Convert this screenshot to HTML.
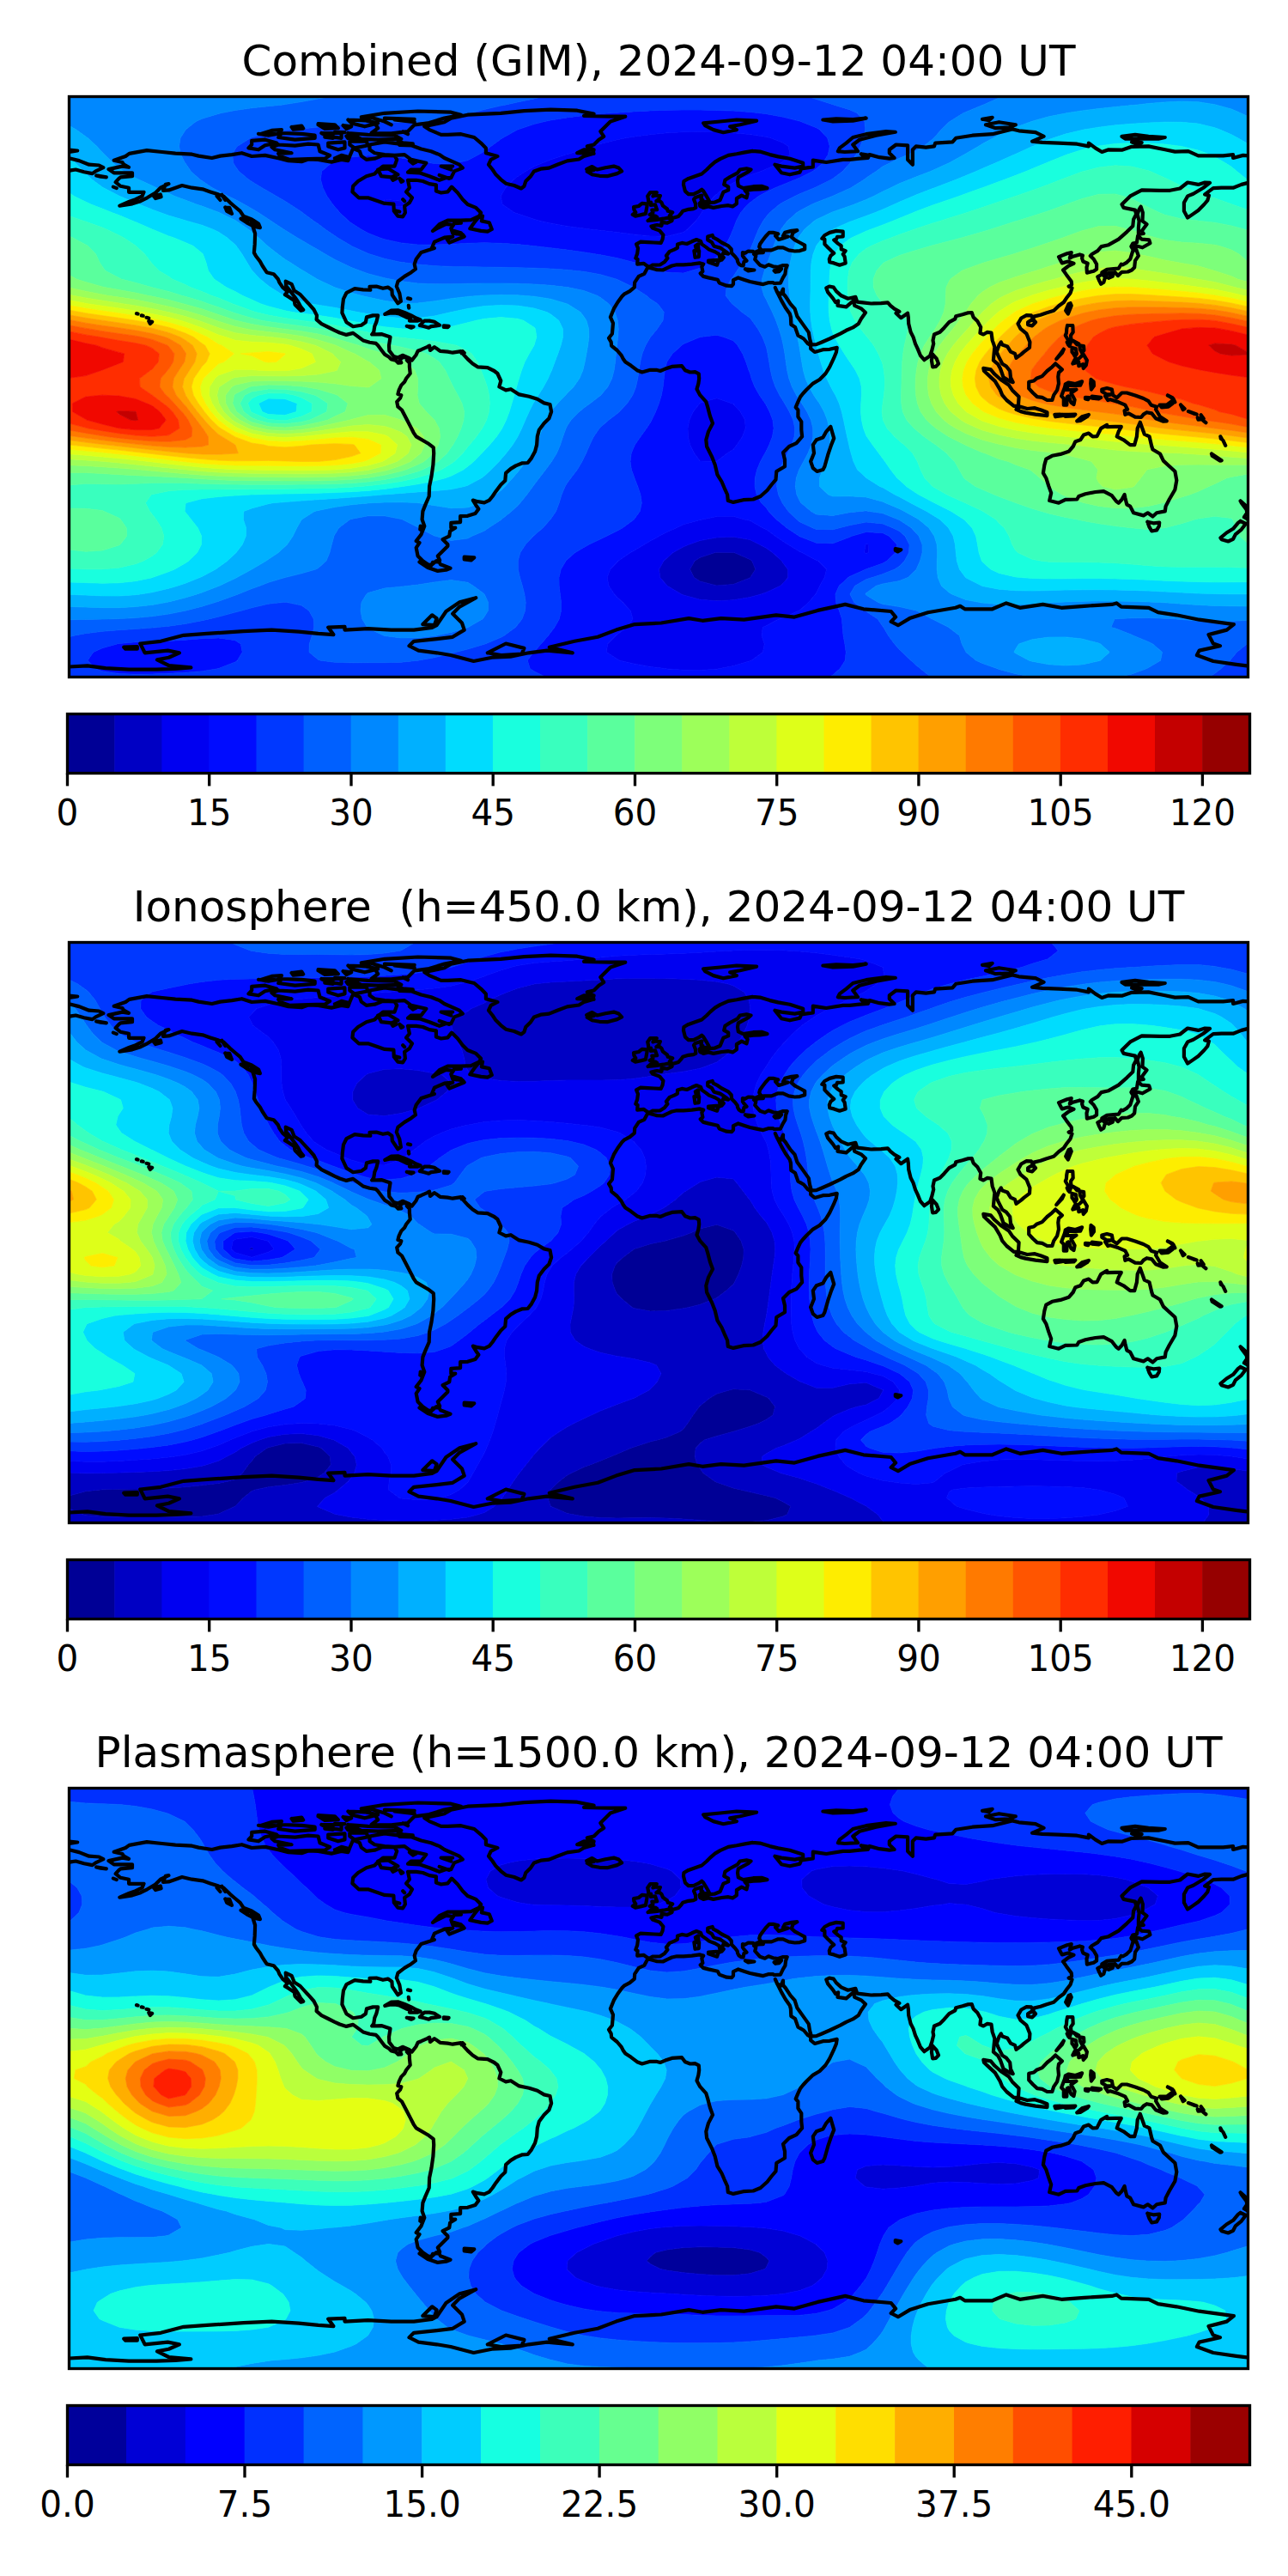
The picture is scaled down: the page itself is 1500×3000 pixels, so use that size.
<!DOCTYPE html>
<html><head><meta charset="utf-8"><title>TEC maps</title>
<style>
html,body{margin:0;padding:0;background:#fff}
svg{display:block}
text{font-family:"DejaVu Sans","Liberation Sans",sans-serif;fill:#000;text-anchor:middle}
.tt{font-size:50px}
.tl{font-size:42.3px}
.cl{fill:none;stroke:#000;stroke-width:4.2;stroke-linejoin:round;stroke-linecap:round}
.fr{fill:none;stroke:#000;stroke-width:3.33}
.tk{stroke:#000;stroke-width:3.33}
.bands path{stroke-width:0.7}
</style></head><body>
<svg width="1500" height="3000" viewBox="0 0 1500 3000">
<rect width="1500" height="3000" fill="#fff"/>
<defs>
<clipPath id="c0"><rect x="80.5" y="112.5" width="1373.0" height="676.0"/></clipPath>
<clipPath id="c1"><rect x="80.5" y="1097.5" width="1373.0" height="676.0"/></clipPath>
<clipPath id="c2"><rect x="80.5" y="2082.5" width="1373.0" height="676.0"/></clipPath>
</defs>
<text class="tt" x="767" y="87.5">Combined (GIM), 2024-09-12 04:00 UT</text>
<g clip-path="url(#c0)">
<g class="bands"><path fill="#000096" stroke="#000096" d="M832.7,643.6 834.7,643.2 854,643.4 855.1,643.6 873.4,651.5 875.7,653.3 879.9,663 873.8,672.6 873.4,672.9 854,680.5 834.7,681.9 815.3,677 808.2,672.6 803.5,663 809,653.3 815.3,649.3 832.7,643.6Z"/>
<path fill="#0000c4" stroke="#0000c4" d="M802.7,634 815.3,629.6 834.7,626 854,625.2 873.4,628.6 884.4,634 892.7,638.6 899.7,643.6 910.5,653.3 912,655.8 917.5,663 917.8,672.6 912,679.2 908.9,682.3 892.7,689.7 886.2,691.9 873.4,695.5 854,698.8 834.7,699.8 815.3,698.3 796,693 793.5,691.9 777.1,682.3 776.7,681.7 768.7,672.6 767.6,663 772.9,653.3 776.7,650.1 783.8,643.6 796,636.8 802.7,634ZM834.7,643.2 832.7,643.6 815.3,649.3 809,653.3 803.5,663 808.2,672.6 815.3,677 834.7,681.9 854,680.5 873.4,672.9 873.8,672.6 879.9,663 875.7,653.3 873.4,651.5 855.1,643.6 854,643.4 834.7,643.2Z"/>
<path fill="#0000f1" stroke="#0000f1" d="M728.3,160.8 738,159.2 757.3,156.7 776.7,154.8 796,153.7 815.3,153.3 834.7,153.6 854,154.7 873.4,156.6 892.7,159.6 897.7,160.8 912,166.3 918.2,170.4 920,180.1 912,188 909.6,189.8 892.7,196.8 886.3,199.4 873.4,204.1 862,209.1 854,213 844,218.7 834.7,226.1 831.9,228.4 823.2,238 817,247.7 815.3,250.8 810.1,257.4 800.6,267 796,270.4 776.7,275.2 757.3,274.9 738,272.9 718.7,270.5 699.3,268.3 687.3,267 680,266.1 660.6,263.4 641.3,259.9 629.5,257.4 622,255.2 602.6,248.8 599.3,247.7 585.1,238 583.3,228.7 583.2,228.4 583.3,228.3 588.7,218.7 598.4,209.1 602.6,205.7 612.1,199.4 622,193.8 631.8,189.8 641.3,186.1 659.4,180.1 660.6,179.7 680,173.4 688.7,170.4 699.3,167.4 718.7,162.7 728.3,160.8ZM446.9,238 447.9,232 467.3,234.3 471.5,238 467.3,241 447.9,239 446.9,238ZM814.9,469.8 815.3,469.3 834.7,463.7 852,469.8 854,470.6 862.2,479.5 867.6,489.1 868.2,498.8 864.6,508.4 858.2,518.1 854,523.6 847.1,527.8 834.7,537.2 815.3,537 808.4,527.8 803.7,518.1 801.3,508.4 801,498.8 802.9,489.1 807.3,479.5 814.9,469.8ZM817.8,605 834.7,601.5 854,601.3 866.9,605 873.4,606.3 888.2,614.7 892.7,616.8 902.9,624.3 912,630.5 917.6,634 931.4,642.6 933.9,643.6 950.7,652.5 952.9,653.3 962.6,663 960.2,672.6 954.7,682.3 950.7,690.7 949.7,691.9 941.7,701.6 931.4,710.7 930,711.2 912,719.5 907,720.9 892.7,728.4 888.3,730.6 887,740.2 890.3,749.9 888.4,759.5 875,769.2 873.4,769.7 854,775.6 837.1,778.8 834.7,779.2 815.3,780.5 796,780.3 776.7,778.9 776.1,778.8 757.3,776.4 738,772.9 721.9,769.2 718.7,767.5 706.4,759.5 707.5,749.9 717.2,740.2 718.7,739 730,730.6 737,720.9 734.3,711.2 725.2,701.6 718.7,695.5 715.5,691.9 709,682.3 707.1,672.6 710.7,663 718.7,654.8 720,653.3 734.2,643.6 738,641.6 750.5,634 757.3,630.1 767.9,624.3 776.7,619.4 787.8,614.7 796,610.7 815.3,605.4 817.8,605ZM815.3,629.6 802.7,634 796,636.8 783.8,643.6 776.7,650.1 772.9,653.3 767.6,663 768.7,672.6 776.7,681.7 777.1,682.3 793.5,691.9 796,693 815.3,698.3 834.7,699.8 854,698.8 873.4,695.5 886.2,691.9 892.7,689.7 908.9,682.3 912,679.2 917.8,672.6 917.5,663 912,655.8 910.5,653.3 899.7,643.6 892.7,638.6 884.4,634 873.4,628.6 854,625.2 834.7,626 815.3,629.6ZM1008,634 1008.7,633.7 1011.9,634 1011.7,643.6 1008.7,644.4 1006.5,643.6 1008,634Z"/>
<path fill="#000cff" stroke="#000cff" d="M710.1,131.8 718.7,131.2 738,129.9 757.3,128.9 776.7,128.2 796,128 815.3,128.1 834.7,128.5 854,129.1 873.4,130.4 885,131.8 892.7,132.7 912,136.3 931.4,141.1 932.5,141.5 950.7,148.7 954.7,151.1 963.7,160.8 966.3,170.4 964.4,180.1 958.3,189.8 950.7,196.5 946.5,199.4 931.4,207.1 926.6,209.1 912,214.9 902.7,218.7 892.7,223.5 883.5,228.4 873.4,236 870.8,238 862.5,247.7 857.4,257.4 854,266.6 853.8,267 849.7,276.7 844.5,286.3 837.6,296 834.7,299.2 825.6,305.6 815.3,312.2 805.1,315.3 796,318.1 776.7,317.2 770.4,315.3 757.3,311.7 738.4,305.6 738,305.5 718.7,300.5 699.3,296.8 694.3,296 680,293.7 660.6,291.1 641.3,288.7 622,286.5 619.8,286.3 602.6,284.6 583.3,283.3 564,282.8 544.6,283.3 525.3,284.4 505.9,285.2 486.6,284.9 467.3,282.9 447.9,278.8 441.9,276.7 428.6,271.5 420.5,267 409.2,259.8 406.1,257.4 395.8,247.7 389.9,240.7 387.5,238 380.9,228.4 376.1,218.7 373.4,209.1 374.6,199.4 386,189.8 389.9,188.3 409.2,183 428.6,181 447.9,181.5 467.3,183.9 486.6,187.4 501.3,189.8 505.9,190.5 525.3,191.1 531.9,189.8 544.6,186.8 557.4,180.1 564,176.2 571.7,170.4 583.3,162 585.2,160.8 602.6,151.1 602.6,151.1 622,144.6 634.3,141.5 641.3,140 660.6,136.9 680,134.4 699.3,132.6 710.1,131.8ZM738,159.2 728.3,160.8 718.7,162.7 699.3,167.4 688.7,170.4 680,173.4 660.6,179.7 659.4,180.1 641.3,186.1 631.8,189.8 622,193.8 612.1,199.4 602.6,205.7 598.4,209.1 588.7,218.7 583.3,228.3 583.2,228.4 583.3,228.7 585.1,238 599.3,247.7 602.6,248.8 622,255.2 629.5,257.4 641.3,259.9 660.6,263.4 680,266.1 687.3,267 699.3,268.3 718.7,270.5 738,272.9 757.3,274.9 776.7,275.2 796,270.4 800.6,267 810.1,257.4 815.3,250.8 817,247.7 823.2,238 831.9,228.4 834.7,226.1 844,218.7 854,213 862,209.1 873.4,204.1 886.3,199.4 892.7,196.8 909.6,189.8 912,188 920,180.1 918.2,170.4 912,166.3 897.7,160.8 892.7,159.6 873.4,156.6 854,154.7 834.7,153.6 815.3,153.3 796,153.7 776.7,154.8 757.3,156.7 738,159.2ZM447.9,232 446.9,238 447.9,239 467.3,241 471.5,238 467.3,234.3 447.9,232ZM815.1,392.6 815.3,392.5 834.7,390.2 843,392.6 854,396.7 859,402.2 864.9,411.9 868.8,421.5 872,431.2 873.4,434.3 875.1,440.8 879,450.5 884.5,460.2 891.1,469.8 892.7,472.4 896.3,479.5 899.9,489.1 901.1,498.8 899.5,508.4 895.8,518.1 892.7,524.6 890.9,527.8 885.6,537.4 881.6,547.1 879.3,556.7 879,566.4 881.2,576 886.6,585.7 892.7,591.8 895.1,595.4 904.3,605 912,611.3 916.2,614.7 930.6,624.3 931.4,624.8 950.7,632.2 970,632.8 989.4,625.5 992.1,624.3 1008.7,619.5 1028.1,620.7 1035.2,624.3 1044.6,634 1043.1,643.6 1032.8,653.3 1028.1,656.1 1008.7,662.8 1008.4,663 989.4,671.4 987.9,672.6 977.2,682.3 972.9,691.9 973.6,701.6 977.4,711.2 980.5,720.9 981.2,730.6 982.1,740.2 983.9,749.9 985.2,759.5 984.2,769.2 978.1,778.8 970,786 965.7,788.5 950.7,788.5 931.4,788.5 912,788.5 892.7,788.5 873.4,788.5 854,788.5 834.7,788.5 815.3,788.5 796,788.5 776.7,788.5 757.3,788.5 738,788.5 718.7,788.5 699.3,788.5 680,788.5 660.6,788.5 641.3,788.5 635.5,788.5 622,781.7 617.3,778.8 614.3,769.2 621.2,759.5 622,758.9 630,749.9 638.5,740.2 641.3,736.5 645.9,730.6 651.2,720.9 653.5,711.2 653.5,701.6 652.3,691.9 651.1,682.3 651,672.6 653.2,663 659,653.3 660.6,651.6 669.8,643.6 680,637.4 686.2,634 699.3,627.8 706.5,624.3 718.7,618.3 725.1,614.7 738,605.3 738.3,605 745.2,595.4 747.3,585.7 745.9,576 742.7,566.4 738.9,556.7 738,554.1 735.4,547.1 734,537.4 735.2,527.8 738,521.2 739.4,518.1 746,508.4 753,498.8 757.3,492.3 759,489.1 763.6,479.5 767.4,469.8 770.3,460.2 772.1,450.5 773.2,440.8 774.3,431.2 776.6,421.5 776.7,421.3 783.1,411.9 793.7,402.2 796,400.6 815.1,392.6ZM815.3,469.3 814.9,469.8 807.3,479.5 802.9,489.1 801,498.8 801.3,508.4 803.7,518.1 808.4,527.8 815.3,537 834.7,537.2 847.1,527.8 854,523.6 858.2,518.1 864.6,508.4 868.2,498.8 867.6,489.1 862.2,479.5 854,470.6 852,469.8 834.7,463.7 815.3,469.3ZM1008.7,633.7 1008,634 1006.5,643.6 1008.7,644.4 1011.7,643.6 1011.9,634 1008.7,633.7ZM834.7,601.5 817.8,605 815.3,605.4 796,610.7 787.8,614.7 776.7,619.4 767.9,624.3 757.3,630.1 750.5,634 738,641.6 734.2,643.6 720,653.3 718.7,654.8 710.7,663 707.1,672.6 709,682.3 715.5,691.9 718.7,695.5 725.2,701.6 734.3,711.2 737,720.9 730,730.6 718.7,739 717.2,740.2 707.5,749.9 706.4,759.5 718.7,767.5 721.9,769.2 738,772.9 757.3,776.4 776.1,778.8 776.7,778.9 796,780.3 815.3,780.5 834.7,779.2 837.1,778.8 854,775.6 873.4,769.7 875,769.2 888.4,759.5 890.3,749.9 887,740.2 888.3,730.6 892.7,728.4 907,720.9 912,719.5 930,711.2 931.4,710.7 941.7,701.6 949.7,691.9 950.7,690.7 954.7,682.3 960.2,672.6 962.6,663 952.9,653.3 950.7,652.5 933.9,643.6 931.4,642.6 917.6,634 912,630.5 902.9,624.3 892.7,616.8 888.2,614.7 873.4,606.3 866.9,605 854,601.3 834.7,601.5ZM136.4,749.9 138.5,749.5 157.9,747.8 177.2,747 196.5,746.4 215.9,745.2 235.2,743.7 254.5,742.9 273.9,745.7 280.4,749.9 282.2,759.5 276.4,769.2 273.9,770.9 254.5,778.6 253.5,778.8 235.2,781.7 215.9,783.3 196.5,784.3 177.2,785 157.9,785.2 138.5,784.4 119.2,781.7 111.2,778.8 102,769.2 108.7,759.5 119.2,754.8 136.4,749.9Z"/>
<path fill="#0038ff" stroke="#0038ff" d="M588,122.2 602.6,119 622,114.9 632.9,112.5 641.3,112.5 660.6,112.5 680,112.5 699.3,112.5 718.7,112.5 738,112.5 757.3,112.5 776.7,112.5 796,112.5 815.3,112.5 834.7,112.5 854,112.5 873.4,112.5 892.7,112.5 912,112.5 931.4,112.5 941.5,112.5 950.7,115.5 970,121.7 971.5,122.2 989.4,127.7 998.4,131.8 1006.9,141.5 1007.7,151.1 1005.5,160.8 1001.9,170.4 996.9,180.1 990,189.8 989.4,190.4 981.4,199.4 970,207.9 968.3,209.1 950.7,217.8 948.5,218.7 931.4,225.8 925.6,228.4 912,235.5 907.8,238 896.2,247.7 892.7,252 888.6,257.4 883.4,267 879.4,276.7 875.6,286.3 873.4,291.5 871,296 865.1,305.6 858.4,315.3 854,322 851.5,325 846.1,334.6 845.2,344.3 852.6,353.9 854,354.7 864.1,363.6 873.4,370.2 875.8,373.2 882.7,382.9 888,392.6 891.8,402.2 892.7,405.1 894.1,411.9 895.8,421.5 897.4,431.2 899.6,440.8 903,450.5 907.9,460.2 912,466.8 913.8,469.8 919.4,479.5 923.7,489.1 925.8,498.8 925.1,508.4 921.9,518.1 917.3,527.8 912.3,537.4 912,538 907.9,547.1 905.2,556.7 904.7,566.4 906.6,576 911.1,585.7 912,587 918.1,595.4 927.9,605 931.4,607.7 946.4,614.7 950.7,616.4 970,616.7 977.6,614.7 989.4,611.7 1008.7,608.1 1028.1,609.9 1039.7,614.7 1047.4,618.6 1054,624.3 1059.1,634 1058.6,643.6 1053.4,653.3 1047.4,659.4 1041.9,663 1028.1,668.5 1015.7,672.6 1008.7,674.8 995.7,682.3 989.9,691.9 994.8,701.6 1007.9,711.2 1008.7,712 1022.2,720.9 1028.1,729.6 1028.9,730.6 1034.6,740.2 1041.8,749.9 1047.4,756.2 1050.8,759.5 1060.9,769.2 1066.7,774.5 1072,778.8 1084.1,788.5 1066.7,788.5 1047.4,788.5 1028.1,788.5 1008.7,788.5 989.4,788.5 970,788.5 965.7,788.5 970,786 978.1,778.8 984.2,769.2 985.2,759.5 983.9,749.9 982.1,740.2 981.2,730.6 980.5,720.9 977.4,711.2 973.6,701.6 972.9,691.9 977.2,682.3 987.9,672.6 989.4,671.4 1008.4,663 1008.7,662.8 1028.1,656.1 1032.8,653.3 1043.1,643.6 1044.6,634 1035.2,624.3 1028.1,620.7 1008.7,619.5 992.1,624.3 989.4,625.5 970,632.8 950.7,632.2 931.4,624.8 930.6,624.3 916.2,614.7 912,611.3 904.3,605 895.1,595.4 892.7,591.8 886.6,585.7 881.2,576 879,566.4 879.3,556.7 881.6,547.1 885.6,537.4 890.9,527.8 892.7,524.6 895.8,518.1 899.5,508.4 901.1,498.8 899.9,489.1 896.3,479.5 892.7,472.4 891.1,469.8 884.5,460.2 879,450.5 875.1,440.8 873.4,434.3 872,431.2 868.8,421.5 864.9,411.9 859,402.2 854,396.7 843,392.6 834.7,390.2 815.3,392.5 815.1,392.6 796,400.6 793.7,402.2 783.1,411.9 776.7,421.3 776.6,421.5 774.3,431.2 773.2,440.8 772.1,450.5 770.3,460.2 767.4,469.8 763.6,479.5 759,489.1 757.3,492.3 753,498.8 746,508.4 739.4,518.1 738,521.2 735.2,527.8 734,537.4 735.4,547.1 738,554.1 738.9,556.7 742.7,566.4 745.9,576 747.3,585.7 745.2,595.4 738.3,605 738,605.3 725.1,614.7 718.7,618.3 706.5,624.3 699.3,627.8 686.2,634 680,637.4 669.8,643.6 660.6,651.6 659,653.3 653.2,663 651,672.6 651.1,682.3 652.3,691.9 653.5,701.6 653.5,711.2 651.2,720.9 645.9,730.6 641.3,736.5 638.5,740.2 630,749.9 622,758.9 621.2,759.5 614.3,769.2 617.3,778.8 622,781.7 635.5,788.5 622,788.5 602.6,788.5 583.3,788.5 564,788.5 544.6,788.5 525.3,788.5 505.9,788.5 486.6,788.5 467.3,788.5 447.9,788.5 428.6,788.5 409.2,788.5 389.9,788.5 370.6,788.5 351.2,788.5 331.9,788.5 312.6,788.5 293.2,788.5 273.9,788.5 254.5,788.5 235.2,788.5 215.9,788.5 196.5,788.5 177.2,788.5 157.9,788.5 138.5,788.5 119.2,788.5 99.8,788.5 80.5,788.5 80.5,778.8 80.5,769.2 80.5,759.5 80.5,749.9 80.5,741.8 86.1,740.2 99.8,737.7 119.2,735.3 138.5,733.7 157.9,732.5 177.2,731.1 182.8,730.6 196.5,729.2 215.9,726.5 235.2,722.7 243.3,720.9 254.5,718.3 273.9,713.1 281,711.2 293.2,707.8 312.6,703.2 328.4,701.6 331.9,701.2 334.8,701.6 351.2,705.1 359.9,711.2 365.3,720.9 365.8,730.6 363.4,740.2 360.3,749.9 360,759.5 370.6,768.3 373.6,769.2 389.9,771.3 409.2,771.8 428.6,771.7 447.9,771.7 467.3,771.2 486.6,769.2 486.7,769.2 505.9,765.8 525.3,761.1 530.7,759.5 544.6,756 564,750.2 564.9,749.9 583.3,742.3 587.1,740.2 600.3,730.6 602.6,727.8 607.9,720.9 611.5,711.2 612.2,701.6 610.8,691.9 608.3,682.3 605.5,672.6 603.3,663 603.2,653.3 605.9,643.6 612.1,634 621.1,624.3 622,623.5 632.2,614.7 640.9,605 641.3,604.4 647.5,595.4 651.1,585.7 654.1,576 658.1,566.4 660.6,562.2 664.8,556.7 672.2,547.1 677.9,537.4 680,532.9 682.6,527.8 686.8,518.1 691.4,508.4 698.1,498.8 699.3,497.5 709,489.1 718.7,481.7 721.1,479.5 730.4,469.8 736.7,460.2 738,457.3 740.5,450.5 742.7,440.8 744.1,431.2 745.6,421.5 747.9,411.9 751.8,402.2 757.3,392.8 757.6,392.6 765.4,382.9 772,373.2 773.2,363.6 766.1,353.9 757.3,348.2 752.8,344.3 738,334.8 737.7,334.6 718.7,325.4 717.5,325 699.3,319.7 680,316.3 670.2,315.3 660.6,314.3 641.3,313 622,312.2 602.6,311.7 583.3,311.3 564,311.1 544.6,310.8 525.3,310.4 505.9,309.6 486.6,308 469.1,305.6 467.3,305.4 447.9,301.3 430.9,296 428.6,295.2 409.2,286.4 409.1,286.3 393,276.7 389.9,274.6 378.7,267 370.6,260.8 365.5,257.4 352.3,247.7 351.2,246.8 337.8,238 331.9,234.2 321.9,228.4 312.6,223 305.1,218.7 293.2,211.5 289.5,209.1 278.1,199.4 273.9,193.4 271.6,189.8 270.7,180.1 273.9,173.8 276.2,170.4 291.6,160.8 293.2,160.1 312.6,154.9 331.9,151.8 338.1,151.1 351.2,149.9 370.6,148.1 389.9,146.1 409.2,144.1 428.6,142.6 447.9,142.1 467.3,142.2 486.6,142.2 498.1,141.5 505.9,141 525.3,138 544.6,132.7 547.5,131.8 564,127.5 583.3,123.1 588,122.2ZM718.7,131.2 710.1,131.8 699.3,132.6 680,134.4 660.6,136.9 641.3,140 634.3,141.5 622,144.6 602.6,151.1 602.6,151.1 585.2,160.8 583.3,162 571.7,170.4 564,176.2 557.4,180.1 544.6,186.8 531.9,189.8 525.3,191.1 505.9,190.5 501.3,189.8 486.6,187.4 467.3,183.9 447.9,181.5 428.6,181 409.2,183 389.9,188.3 386,189.8 374.6,199.4 373.4,209.1 376.1,218.7 380.9,228.4 387.5,238 389.9,240.7 395.8,247.7 406.1,257.4 409.2,259.8 420.5,267 428.6,271.5 441.9,276.7 447.9,278.8 467.3,282.9 486.6,284.9 505.9,285.2 525.3,284.4 544.6,283.3 564,282.8 583.3,283.3 602.6,284.6 619.8,286.3 622,286.5 641.3,288.7 660.6,291.1 680,293.7 694.3,296 699.3,296.8 718.7,300.5 738,305.5 738.4,305.6 757.3,311.7 770.4,315.3 776.7,317.2 796,318.1 805.1,315.3 815.3,312.2 825.6,305.6 834.7,299.2 837.6,296 844.5,286.3 849.7,276.7 853.8,267 854,266.6 857.4,257.4 862.5,247.7 870.8,238 873.4,236 883.5,228.4 892.7,223.5 902.7,218.7 912,214.9 926.6,209.1 931.4,207.1 946.5,199.4 950.7,196.5 958.3,189.8 964.4,180.1 966.3,170.4 963.7,160.8 954.7,151.1 950.7,148.7 932.5,141.5 931.4,141.1 912,136.3 892.7,132.7 885,131.8 873.4,130.4 854,129.1 834.7,128.5 815.3,128.1 796,128 776.7,128.2 757.3,128.9 738,129.9 718.7,131.2ZM138.5,749.5 136.4,749.9 119.2,754.8 108.7,759.5 102,769.2 111.2,778.8 119.2,781.7 138.5,784.4 157.9,785.2 177.2,785 196.5,784.3 215.9,783.3 235.2,781.7 253.5,778.8 254.5,778.6 273.9,770.9 276.4,769.2 282.2,759.5 280.4,749.9 273.9,745.7 254.5,742.9 235.2,743.7 215.9,745.2 196.5,746.4 177.2,747 157.9,747.8 138.5,749.5ZM1452.2,749.9 1453.5,749.3 1453.5,749.9 1453.5,759.5 1453.5,769.2 1453.5,778.8 1453.5,788.5 1434.2,788.5 1414.8,788.5 1408.4,788.5 1414.8,784.3 1422,778.8 1432.4,769.2 1434.2,767.1 1440.4,759.5 1452.2,749.9Z"/>
<path fill="#0060ff" stroke="#0060ff" d="M327.6,122.2 331.9,121.6 351.2,118.5 370.6,115.1 384.6,112.5 389.9,112.5 409.2,112.5 428.6,112.5 447.9,112.5 467.3,112.5 486.6,112.5 505.9,112.5 525.3,112.5 544.6,112.5 564,112.5 583.3,112.5 602.6,112.5 622,112.5 632.9,112.5 622,114.9 602.6,119 588,122.2 583.3,123.1 564,127.5 547.5,131.8 544.6,132.7 525.3,138 505.9,141 498.1,141.5 486.6,142.2 467.3,142.2 447.9,142.1 428.6,142.6 409.2,144.1 389.9,146.1 370.6,148.1 351.2,149.9 338.1,151.1 331.9,151.8 312.6,154.9 293.2,160.1 291.6,160.8 276.2,170.4 273.9,173.8 270.7,180.1 271.6,189.8 273.9,193.4 278.1,199.4 289.5,209.1 293.2,211.5 305.1,218.7 312.6,223 321.9,228.4 331.9,234.2 337.8,238 351.2,246.8 352.3,247.7 365.5,257.4 370.6,260.8 378.7,267 389.9,274.6 393,276.7 409.1,286.3 409.2,286.4 428.6,295.2 430.9,296 447.9,301.3 467.3,305.4 469.1,305.6 486.6,308 505.9,309.6 525.3,310.4 544.6,310.8 564,311.1 583.3,311.3 602.6,311.7 622,312.2 641.3,313 660.6,314.3 670.2,315.3 680,316.3 699.3,319.7 717.5,325 718.7,325.4 737.7,334.6 738,334.8 752.8,344.3 757.3,348.2 766.1,353.9 773.2,363.6 772,373.2 765.4,382.9 757.6,392.6 757.3,392.8 751.8,402.2 747.9,411.9 745.6,421.5 744.1,431.2 742.7,440.8 740.5,450.5 738,457.3 736.7,460.2 730.4,469.8 721.1,479.5 718.7,481.7 709,489.1 699.3,497.5 698.1,498.8 691.4,508.4 686.8,518.1 682.6,527.8 680,532.9 677.9,537.4 672.2,547.1 664.8,556.7 660.6,562.2 658.1,566.4 654.1,576 651.1,585.7 647.5,595.4 641.3,604.4 640.9,605 632.2,614.7 622,623.5 621.1,624.3 612.1,634 605.9,643.6 603.2,653.3 603.3,663 605.5,672.6 608.3,682.3 610.8,691.9 612.2,701.6 611.5,711.2 607.9,720.9 602.6,727.8 600.3,730.6 587.1,740.2 583.3,742.3 564.9,749.9 564,750.2 544.6,756 530.7,759.5 525.3,761.1 505.9,765.8 486.7,769.2 486.6,769.2 467.3,771.2 447.9,771.7 428.6,771.7 409.2,771.8 389.9,771.3 373.6,769.2 370.6,768.3 360,759.5 360.3,749.9 363.4,740.2 365.8,730.6 365.3,720.9 359.9,711.2 351.2,705.1 334.8,701.6 331.9,701.2 328.4,701.6 312.6,703.2 293.2,707.8 281,711.2 273.9,713.1 254.5,718.3 243.3,720.9 235.2,722.7 215.9,726.5 196.5,729.2 182.8,730.6 177.2,731.1 157.9,732.5 138.5,733.7 119.2,735.3 99.8,737.7 86.1,740.2 80.5,741.8 80.5,740.2 80.5,730.6 80.5,721.8 99.8,721.4 119.2,721.1 126.2,720.9 138.5,720.6 157.9,719.6 177.2,717.8 196.5,715.1 215.7,711.2 215.9,711.2 235.2,706.2 250.4,701.6 254.5,700.2 273.9,693.2 277.3,691.9 293.2,685.5 302.5,682.3 312.6,678.3 331.8,672.6 331.9,672.6 351.2,667.8 367.8,663 370.6,661.4 379.9,653.3 383.9,643.6 386.3,634 389,624.3 389.9,622.6 394.6,614.7 407.5,605 409.2,604.4 428.6,600.8 447.9,600.8 467.3,604.5 468.7,605 486.6,614 488,614.7 505.9,624.1 507.1,624.3 525.3,629.4 544.6,627.1 549.8,624.3 564,618.2 569,614.7 583.3,605.4 583.7,605 595.7,595.4 602.6,589 605.7,585.7 613.6,576 620.6,566.4 622,564.6 627.9,556.7 635.4,547.1 641.3,538.9 642.4,537.4 648.4,527.8 652.5,518.1 655.6,508.4 659.1,498.8 660.6,495.8 665.1,489.1 674.6,479.5 680,475 687.3,469.8 699.3,460.5 699.7,460.2 707.8,450.5 712.6,440.8 715.1,431.2 716.5,421.5 717.4,411.9 718.5,402.2 718.7,400.7 719.6,392.6 720.2,382.9 719.3,373.2 718.7,371.5 716.1,363.6 709.1,353.9 699.3,346.6 695.4,344.3 680,338.5 661,334.6 660.6,334.6 641.3,332.3 622,331 602.6,330.3 583.3,330 564,330 544.6,330.3 525.3,330.7 505.9,330.8 486.6,330 467.3,327.6 454,325 447.9,323.8 428.6,318.7 419.1,315.3 409.2,311.6 396.7,305.6 389.9,302.2 378.9,296 370.6,291.1 362.2,286.3 351.2,279.8 345.9,276.7 331.9,268.1 330.3,267 315.8,257.4 312.6,255.3 301.1,247.7 293.2,243 284.4,238 273.9,232.3 265.6,228.4 254.5,222.4 247.3,218.7 235.2,210.6 232.8,209.1 222.3,199.4 215.9,190.1 215.5,189.8 210.5,180.1 208.5,170.4 210,160.8 215.9,151.6 216.1,151.1 228.2,141.5 235.2,138.3 254.5,132.4 257,131.8 273.9,128.5 293.2,125.8 312.6,123.7 327.6,122.2ZM486.6,681.1 475.7,682.3 467.3,683.2 447.9,685.1 428.6,690.6 426.8,691.9 421,701.6 420,711.2 421.9,720.9 427.6,730.6 428.6,731.4 447.1,740.2 447.9,740.5 467.3,742.9 486.6,742.7 505.9,740.5 507.6,740.2 525.3,736.4 544.6,730.8 545.2,730.6 561.8,720.9 564,718.3 568.3,711.2 568.5,701.6 564.1,691.9 564,691.7 551.2,682.3 544.6,678.3 525.3,675.6 505.9,677.9 486.6,681.1ZM941.5,112.5 950.7,112.5 970,112.5 989.4,112.5 1008.7,112.5 1028.1,112.5 1047.4,112.5 1066.7,112.5 1086.1,112.5 1105.4,112.5 1124.8,112.5 1144.1,112.5 1163.4,112.5 1167.5,112.5 1163.4,114 1144.8,122.2 1144.1,122.4 1124.8,130.4 1121.7,131.8 1106.2,141.5 1105.4,142.1 1096.2,151.1 1087.5,160.8 1086.1,162 1075.5,170.4 1066.7,175.7 1057.7,180.1 1047.4,184.3 1036.5,189.8 1028.1,193.8 1020.5,199.4 1008.7,207.2 1006.5,209.1 991,218.7 989.4,219.5 970,228.2 969.5,228.4 950.7,235.7 945.4,238 931.4,245.4 927.8,247.7 916.9,257.4 912,263.7 909.7,267 904.8,276.7 901,286.3 897.5,296 893.9,305.6 892.7,309.1 890.3,315.3 887.5,325 887,334.6 889.8,344.3 892.7,349.2 894.8,353.9 899.5,363.6 903.7,373.2 907.2,382.9 910.1,392.6 912,400.8 912.3,402.2 914,411.9 915.3,421.5 916.7,431.2 918.9,440.8 922.4,450.5 927.5,460.2 931.4,466.2 933.8,469.8 939.9,479.5 944.4,489.1 946.8,498.8 946.9,508.4 944.9,518.1 941,527.8 935.9,537.4 931.4,545.7 930.7,547.1 927.3,556.7 926.3,566.4 927.9,576 931.4,583.4 933,585.7 944.6,595.4 950.7,598.9 970,600.4 989.4,596.7 1002.9,595.4 1008.7,594.8 1011.8,595.4 1028.1,597.8 1046.1,605 1047.4,605.5 1061.4,614.7 1066.7,620.4 1070.1,624.3 1074,634 1074.1,643.6 1071.5,653.3 1067.2,663 1066.7,663.7 1057.4,672.6 1047.4,676.6 1028.1,679.9 1020.4,682.3 1008.7,690.7 1007.9,691.9 1008.7,693 1022.9,701.6 1028.1,703.6 1047.4,706.6 1066.7,710.9 1067.7,711.2 1085.8,720.9 1086.1,721.1 1104.8,730.6 1105.4,731.1 1117.4,740.2 1120.2,749.9 1124.8,759.1 1124.9,759.5 1136.8,769.2 1144.1,772.5 1161.7,778.8 1163.4,779.4 1182.8,784.7 1202.1,788.2 1204.8,788.5 1202.1,788.5 1182.8,788.5 1163.4,788.5 1144.1,788.5 1124.8,788.5 1105.4,788.5 1086.1,788.5 1084.1,788.5 1072,778.8 1066.7,774.5 1060.9,769.2 1050.8,759.5 1047.4,756.2 1041.8,749.9 1034.6,740.2 1028.9,730.6 1028.1,729.6 1022.2,720.9 1008.7,712 1007.9,711.2 994.8,701.6 989.9,691.9 995.7,682.3 1008.7,674.8 1015.7,672.6 1028.1,668.5 1041.9,663 1047.4,659.4 1053.4,653.3 1058.6,643.6 1059.1,634 1054,624.3 1047.4,618.6 1039.7,614.7 1028.1,609.9 1008.7,608.1 989.4,611.7 977.6,614.7 970,616.7 950.7,616.4 946.4,614.7 931.4,607.7 927.9,605 918.1,595.4 912,587 911.1,585.7 906.6,576 904.7,566.4 905.2,556.7 907.9,547.1 912,538 912.3,537.4 917.3,527.8 921.9,518.1 925.1,508.4 925.8,498.8 923.7,489.1 919.4,479.5 913.8,469.8 912,466.8 907.9,460.2 903,450.5 899.6,440.8 897.4,431.2 895.8,421.5 894.1,411.9 892.7,405.1 891.8,402.2 888,392.6 882.7,382.9 875.8,373.2 873.4,370.2 864.1,363.6 854,354.7 852.6,353.9 845.2,344.3 846.1,334.6 851.5,325 854,322 858.4,315.3 865.1,305.6 871,296 873.4,291.5 875.6,286.3 879.4,276.7 883.4,267 888.6,257.4 892.7,252 896.2,247.7 907.8,238 912,235.5 925.6,228.4 931.4,225.8 948.5,218.7 950.7,217.8 968.3,209.1 970,207.9 981.4,199.4 989.4,190.4 990,189.8 996.9,180.1 1001.9,170.4 1005.5,160.8 1007.7,151.1 1006.9,141.5 998.4,131.8 989.4,127.7 971.5,122.2 970,121.7 950.7,115.5 941.5,112.5ZM1298,720.9 1298.8,720.8 1318.1,719.8 1337.5,719.6 1356.8,720.2 1369.4,720.9 1376.1,721.5 1395.5,723.1 1414.8,723.6 1434.2,723.2 1453.5,722.5 1453.5,730.6 1453.5,740.2 1453.5,749.3 1452.2,749.9 1440.4,759.5 1434.2,767.1 1432.4,769.2 1422,778.8 1414.8,784.3 1408.4,788.5 1395.5,788.5 1376.1,788.5 1356.8,788.5 1337.5,788.5 1318.1,788.5 1302.5,788.5 1318.1,784.9 1335,778.8 1337.5,777.5 1351.5,769.2 1353.5,759.5 1342.5,749.9 1337.5,747.5 1319.9,740.2 1318.1,739.3 1298.8,731.8 1293.8,730.6 1298,720.9Z"/>
<path fill="#0088ff" stroke="#0088ff" d="M80.5,112.5 99.8,112.5 119.2,112.5 138.5,112.5 157.9,112.5 177.2,112.5 196.5,112.5 215.9,112.5 235.2,112.5 254.5,112.5 273.9,112.5 293.2,112.5 312.6,112.5 331.9,112.5 351.2,112.5 370.6,112.5 384.6,112.5 370.6,115.1 351.2,118.5 331.9,121.6 327.6,122.2 312.6,123.7 293.2,125.8 273.9,128.5 257,131.8 254.5,132.4 235.2,138.3 228.2,141.5 216.1,151.1 215.9,151.6 210,160.8 208.5,170.4 210.5,180.1 215.5,189.8 215.9,190.1 222.3,199.4 232.8,209.1 235.2,210.6 247.3,218.7 254.5,222.4 265.6,228.4 273.9,232.3 284.4,238 293.2,243 301.1,247.7 312.6,255.3 315.8,257.4 330.3,267 331.9,268.1 345.9,276.7 351.2,279.8 362.2,286.3 370.6,291.1 378.9,296 389.9,302.2 396.7,305.6 409.2,311.6 419.1,315.3 428.6,318.7 447.9,323.8 454,325 467.3,327.6 486.6,330 505.9,330.8 525.3,330.7 544.6,330.3 564,330 583.3,330 602.6,330.3 622,331 641.3,332.3 660.6,334.6 661,334.6 680,338.5 695.4,344.3 699.3,346.6 709.1,353.9 716.1,363.6 718.7,371.5 719.3,373.2 720.2,382.9 719.6,392.6 718.7,400.7 718.5,402.2 717.4,411.9 716.5,421.5 715.1,431.2 712.6,440.8 707.8,450.5 699.7,460.2 699.3,460.5 687.3,469.8 680,475 674.6,479.5 665.1,489.1 660.6,495.8 659.1,498.8 655.6,508.4 652.5,518.1 648.4,527.8 642.4,537.4 641.3,538.9 635.4,547.1 627.9,556.7 622,564.6 620.6,566.4 613.6,576 605.7,585.7 602.6,589 595.7,595.4 583.7,605 583.3,605.4 569,614.7 564,618.2 549.8,624.3 544.6,627.1 525.3,629.4 507.1,624.3 505.9,624.1 488,614.7 486.6,614 468.7,605 467.3,604.5 447.9,600.8 428.6,600.8 409.2,604.4 407.5,605 394.6,614.7 389.9,622.6 389,624.3 386.3,634 383.9,643.6 379.9,653.3 370.6,661.4 367.8,663 351.2,667.8 331.9,672.6 331.8,672.6 312.6,678.3 302.5,682.3 293.2,685.5 277.3,691.9 273.9,693.2 254.5,700.2 250.4,701.6 235.2,706.2 215.9,711.2 215.7,711.2 196.5,715.1 177.2,717.8 157.9,719.6 138.5,720.6 126.2,720.9 119.2,721.1 99.8,721.4 80.5,721.8 80.5,720.9 80.5,711.2 80.5,706.4 99.8,707.1 119.2,707.7 138.5,707.7 157.9,706.6 177.2,704.4 193,701.6 196.5,700.9 215.9,696 229.4,691.9 235.2,690 254.5,682.6 255.3,682.3 273.9,673.5 275.7,672.6 293.2,663 293.2,663 309.7,653.3 312.6,651.2 324.2,643.6 331.9,636.4 334.5,634 341.1,624.3 345.7,614.7 351.2,605.1 351.3,605 366.3,595.4 370.6,594.4 389.9,590.6 409.2,587.8 428.6,585.9 431.4,585.7 447.9,585 467.3,584.8 486.6,585.6 487.8,585.7 505.9,588.7 525.3,591.7 544.6,590.9 560.4,585.7 564,584.5 576.9,576 583.3,571.3 588.1,566.4 596.9,556.7 602.6,550.2 605.1,547.1 612.6,537.4 619.2,527.8 622,522.7 624.3,518.1 628.1,508.4 631.6,498.8 635.7,489.1 641.1,479.5 641.3,479.2 649.4,469.8 658.6,460.2 660.6,457.7 668,450.5 674.8,440.8 678.8,431.2 680,426.2 681.1,421.5 682.9,411.9 684.6,402.2 685.8,392.6 685.6,382.9 682.9,373.2 680,368.9 676,363.6 660.8,353.9 660.6,353.9 641.3,348.2 622,345.2 609.5,344.3 602.6,343.8 583.3,343.4 564,343.9 559.3,344.3 544.6,345.4 525.3,347.7 505.9,350.7 486.6,353.1 467.3,353.1 447.9,350.3 428.6,346.1 420.7,344.3 409.2,341.1 389.9,334.8 389.3,334.6 370.6,325.7 369.2,325 353.2,315.3 351.2,314.2 337.7,305.6 331.9,302.1 323.8,296 312.6,287.3 311.5,286.3 301,276.7 293.2,270.3 289.2,267 275.2,257.4 273.9,256.6 255.7,247.7 254.5,247.2 235.2,240.1 228.9,238 215.9,233.1 203.4,228.4 196.5,225.1 182.1,218.7 177.2,216.3 161.4,209.1 157.9,207.3 144,199.4 138.5,195.9 131.6,189.8 121.7,180.1 119.2,177.6 112.9,170.4 102.3,160.8 99.8,159 88.8,151.1 80.5,146.3 80.5,141.5 80.5,131.8 80.5,122.2 80.5,112.5ZM1144.8,122.2 1163.4,114 1167.5,112.5 1182.8,112.5 1202.1,112.5 1221.4,112.5 1240.8,112.5 1260.1,112.5 1279.5,112.5 1298.8,112.5 1318.1,112.5 1337.5,112.5 1356.8,112.5 1376.1,112.5 1395.5,112.5 1414.8,112.5 1434.2,112.5 1453.5,112.5 1453.5,122.2 1453.5,131.8 1453.5,135.8 1445.1,131.8 1434.2,127 1416.5,122.2 1414.8,121.7 1395.5,118.7 1376.1,118.1 1356.8,118.9 1337.5,120.5 1323.2,122.2 1318.1,122.6 1298.8,124.5 1279.5,126.5 1260.1,128.9 1241.7,131.8 1240.8,132 1221.4,135.8 1202.1,141.2 1201.2,141.5 1182.8,148.3 1176.3,151.1 1163.4,157.2 1156.7,160.8 1144.1,167.6 1139.5,170.4 1124.8,178.9 1122.9,180.1 1105.4,189.7 1105.2,189.8 1086.1,198.5 1083.9,199.4 1066.7,206.1 1059.2,209.1 1047.4,213.8 1037.2,218.7 1028.1,223.1 1017.6,228.4 1008.7,232.4 994.8,238 989.4,240 970,246.7 967.7,247.7 950.7,255.7 948.2,257.4 937,267 931.4,274.4 929.9,276.7 925.5,286.3 922.5,296 920.4,305.6 919,315.3 918.4,325 918.7,334.6 919.7,344.3 921.2,353.9 922.9,363.6 924.8,373.2 926.8,382.9 928.8,392.6 930.7,402.2 931.4,406.5 932.3,411.9 933.8,421.5 935.5,431.2 938.1,440.8 942.2,450.5 947.8,460.2 950.7,464.6 954.4,469.8 959.8,479.5 963.5,489.1 965.7,498.8 966.7,508.4 966.5,518.1 964.9,527.8 961.9,537.4 958,547.1 954.5,556.7 954.5,566.4 964.7,576 970,578 989.4,577.8 1008.7,578.9 1028.1,584.2 1031.3,585.7 1047.4,592.4 1053.2,595.4 1066.7,602.9 1070.2,605 1081.8,614.7 1086.1,621.3 1088.1,624.3 1091.1,634 1091.7,643.6 1091.3,653.3 1091.2,663 1092.3,672.6 1096.4,682.3 1105.4,690 1108.6,691.9 1124.8,698.4 1141.4,701.6 1144.1,702.1 1163.4,703.7 1182.8,703.9 1202.1,703.1 1221.4,701.9 1225.5,701.6 1240.8,700.9 1260.1,700.2 1279.5,699.9 1298.8,700 1318.1,700.3 1337.5,700.9 1352.4,701.6 1356.8,701.8 1376.1,703.2 1395.5,704.5 1414.8,705.4 1434.2,705.8 1453.5,706 1453.5,711.2 1453.5,720.9 1453.5,722.5 1434.2,723.2 1414.8,723.6 1395.5,723.1 1376.1,721.5 1369.4,720.9 1356.8,720.2 1337.5,719.6 1318.1,719.8 1298.8,720.8 1298,720.9 1293.8,730.6 1298.8,731.8 1318.1,739.3 1319.9,740.2 1337.5,747.5 1342.5,749.9 1353.5,759.5 1351.5,769.2 1337.5,777.5 1335,778.8 1318.1,784.9 1302.5,788.5 1298.8,788.5 1279.5,788.5 1260.1,788.5 1240.8,788.5 1221.4,788.5 1204.8,788.5 1202.1,788.2 1182.8,784.7 1163.4,779.4 1161.7,778.8 1144.1,772.5 1136.8,769.2 1124.9,759.5 1124.8,759.1 1120.2,749.9 1117.4,740.2 1105.4,731.1 1104.8,730.6 1086.1,721.1 1085.8,720.9 1067.7,711.2 1066.7,710.9 1047.4,706.6 1028.1,703.6 1022.9,701.6 1008.7,693 1007.9,691.9 1008.7,690.7 1020.4,682.3 1028.1,679.9 1047.4,676.6 1057.4,672.6 1066.7,663.7 1067.2,663 1071.5,653.3 1074.1,643.6 1074,634 1070.1,624.3 1066.7,620.4 1061.4,614.7 1047.4,605.5 1046.1,605 1028.1,597.8 1011.8,595.4 1008.7,594.8 1002.9,595.4 989.4,596.7 970,600.4 950.7,598.9 944.6,595.4 933,585.7 931.4,583.4 927.9,576 926.3,566.4 927.3,556.7 930.7,547.1 931.4,545.7 935.9,537.4 941,527.8 944.9,518.1 946.9,508.4 946.8,498.8 944.4,489.1 939.9,479.5 933.8,469.8 931.4,466.2 927.5,460.2 922.4,450.5 918.9,440.8 916.7,431.2 915.3,421.5 914,411.9 912.3,402.2 912,400.8 910.1,392.6 907.2,382.9 903.7,373.2 899.5,363.6 894.8,353.9 892.7,349.2 889.8,344.3 887,334.6 887.5,325 890.3,315.3 892.7,309.1 893.9,305.6 897.5,296 901,286.3 904.8,276.7 909.7,267 912,263.7 916.9,257.4 927.8,247.7 931.4,245.4 945.4,238 950.7,235.7 969.5,228.4 970,228.2 989.4,219.5 991,218.7 1006.5,209.1 1008.7,207.2 1020.5,199.4 1028.1,193.8 1036.5,189.8 1047.4,184.3 1057.7,180.1 1066.7,175.7 1075.5,170.4 1086.1,162 1087.5,160.8 1096.2,151.1 1105.4,142.1 1106.2,141.5 1121.7,131.8 1124.8,130.4 1144.1,122.4 1144.8,122.2ZM1202.1,744.8 1186.5,749.9 1182.8,756 1180.9,759.5 1182.8,760.8 1198.6,769.2 1202.1,770.2 1221.4,773.8 1240.8,775 1260.1,773.9 1279.5,769.8 1281.4,769.2 1292.2,759.5 1281.6,749.9 1279.5,749.1 1260.1,744 1240.8,741.9 1221.4,742.1 1202.1,744.8ZM475.7,682.3 486.6,681.1 505.9,677.9 525.3,675.6 544.6,678.3 551.2,682.3 564,691.7 564.1,691.9 568.5,701.6 568.3,711.2 564,718.3 561.8,720.9 545.2,730.6 544.6,730.8 525.3,736.4 507.6,740.2 505.9,740.5 486.6,742.7 467.3,742.9 447.9,740.5 447.1,740.2 428.6,731.4 427.6,730.6 421.9,720.9 420,711.2 421,701.6 426.8,691.9 428.6,690.6 447.9,685.1 467.3,683.2 475.7,682.3Z"/>
<path fill="#00b0ff" stroke="#00b0ff" d="M1323.2,122.2 1337.5,120.5 1356.8,118.9 1376.1,118.1 1395.5,118.7 1414.8,121.7 1416.5,122.2 1434.2,127 1445.1,131.8 1453.5,135.8 1453.5,141.5 1453.5,151.1 1453.5,160.8 1453.5,167.6 1441.6,160.8 1434.2,156.8 1420.9,151.1 1414.8,148.7 1395.5,144.1 1376.1,142.3 1356.8,142.2 1337.5,143 1318.1,144.2 1298.8,145.8 1279.5,148.2 1262,151.1 1260.1,151.5 1240.8,156.1 1226.5,160.8 1221.4,162.6 1202.5,170.4 1202.1,170.6 1182.8,179.4 1181.2,180.1 1163.4,188 1159.5,189.8 1144.1,196.3 1137.1,199.4 1124.8,204.5 1113.8,209.1 1105.4,212.3 1088.5,218.7 1086.1,219.6 1066.7,227 1063.5,228.4 1047.4,235.3 1041.4,238 1028.1,243.9 1018.7,247.7 1008.7,251.5 992.3,257.4 989.4,258.4 970.1,267 970,267.1 957.9,276.7 950.7,286.3 950.7,286.4 947,296 945,305.6 944.3,315.3 944.2,325 944.1,334.6 943.9,344.3 943.7,353.9 943.8,363.6 944.6,373.2 946.1,382.9 948.2,392.6 950.5,402.2 950.7,403.2 953.2,411.9 955.9,421.5 959,431.2 962.9,440.8 967.6,450.5 970,455 973,460.2 977.4,469.8 980.3,479.5 982.5,489.1 984.5,498.8 986.6,508.4 988.8,518.1 989.4,521.1 991.2,527.8 994,537.4 998.6,547.1 1008.7,556.2 1009.2,556.7 1024.6,566.4 1028.1,567.8 1042.1,576 1047.4,578.5 1060.6,585.7 1066.7,588.9 1079.2,595.4 1086.1,599.7 1094.7,605 1104.6,614.7 1105.4,616.1 1110.1,624.3 1112.4,634 1113.3,643.6 1114.4,653.3 1117.5,663 1124.6,672.6 1124.8,672.8 1143.6,682.3 1144.1,682.5 1163.4,686.2 1182.8,687.7 1202.1,688 1221.4,687.6 1240.8,687.1 1260.1,686.8 1279.5,686.7 1298.8,686.9 1318.1,687.4 1337.5,688.1 1356.8,689 1376.1,690 1395.5,691 1414.8,691.6 1434.2,691.8 1453.5,691.8 1453.5,691.9 1453.5,701.6 1453.5,706 1434.2,705.8 1414.8,705.4 1395.5,704.5 1376.1,703.2 1356.8,701.8 1352.4,701.6 1337.5,700.9 1318.1,700.3 1298.8,700 1279.5,699.9 1260.1,700.2 1240.8,700.9 1225.5,701.6 1221.4,701.9 1202.1,703.1 1182.8,703.9 1163.4,703.7 1144.1,702.1 1141.4,701.6 1124.8,698.4 1108.6,691.9 1105.4,690 1096.4,682.3 1092.3,672.6 1091.2,663 1091.3,653.3 1091.7,643.6 1091.1,634 1088.1,624.3 1086.1,621.3 1081.8,614.7 1070.2,605 1066.7,602.9 1053.2,595.4 1047.4,592.4 1031.3,585.7 1028.1,584.2 1008.7,578.9 989.4,577.8 970,578 964.7,576 954.5,566.4 954.5,556.7 958,547.1 961.9,537.4 964.9,527.8 966.5,518.1 966.7,508.4 965.7,498.8 963.5,489.1 959.8,479.5 954.4,469.8 950.7,464.6 947.8,460.2 942.2,450.5 938.1,440.8 935.5,431.2 933.8,421.5 932.3,411.9 931.4,406.5 930.7,402.2 928.8,392.6 926.8,382.9 924.8,373.2 922.9,363.6 921.2,353.9 919.7,344.3 918.7,334.6 918.4,325 919,315.3 920.4,305.6 922.5,296 925.5,286.3 929.9,276.7 931.4,274.4 937,267 948.2,257.4 950.7,255.7 967.7,247.7 970,246.7 989.4,240 994.8,238 1008.7,232.4 1017.6,228.4 1028.1,223.1 1037.2,218.7 1047.4,213.8 1059.2,209.1 1066.7,206.1 1083.9,199.4 1086.1,198.5 1105.2,189.8 1105.4,189.7 1122.9,180.1 1124.8,178.9 1139.5,170.4 1144.1,167.6 1156.7,160.8 1163.4,157.2 1176.3,151.1 1182.8,148.3 1201.2,141.5 1202.1,141.2 1221.4,135.8 1240.8,132 1241.7,131.8 1260.1,128.9 1279.5,126.5 1298.8,124.5 1318.1,122.6 1323.2,122.2ZM80.5,151.1 80.5,146.3 88.8,151.1 99.8,159 102.3,160.8 112.9,170.4 119.2,177.6 121.7,180.1 131.6,189.8 138.5,195.9 144,199.4 157.9,207.3 161.4,209.1 177.2,216.3 182.1,218.7 196.5,225.1 203.4,228.4 215.9,233.1 228.9,238 235.2,240.1 254.5,247.2 255.7,247.7 273.9,256.6 275.2,257.4 289.2,267 293.2,270.3 301,276.7 311.5,286.3 312.6,287.3 323.8,296 331.9,302.1 337.7,305.6 351.2,314.2 353.2,315.3 369.2,325 370.6,325.7 389.3,334.6 389.9,334.8 409.2,341.1 420.7,344.3 428.6,346.1 447.9,350.3 467.3,353.1 486.6,353.1 505.9,350.7 525.3,347.7 544.6,345.4 559.3,344.3 564,343.9 583.3,343.4 602.6,343.8 609.5,344.3 622,345.2 641.3,348.2 660.6,353.9 660.8,353.9 676,363.6 680,368.9 682.9,373.2 685.6,382.9 685.8,392.6 684.6,402.2 682.9,411.9 681.1,421.5 680,426.2 678.8,431.2 674.8,440.8 668,450.5 660.6,457.7 658.6,460.2 649.4,469.8 641.3,479.2 641.1,479.5 635.7,489.1 631.6,498.8 628.1,508.4 624.3,518.1 622,522.7 619.2,527.8 612.6,537.4 605.1,547.1 602.6,550.2 596.9,556.7 588.1,566.4 583.3,571.3 576.9,576 564,584.5 560.4,585.7 544.6,590.9 525.3,591.7 505.9,588.7 487.8,585.7 486.6,585.6 467.3,584.8 447.9,585 431.4,585.7 428.6,585.9 409.2,587.8 389.9,590.6 370.6,594.4 366.3,595.4 351.3,605 351.2,605.1 345.7,614.7 341.1,624.3 334.5,634 331.9,636.4 324.2,643.6 312.6,651.2 309.7,653.3 293.2,663 293.2,663 275.7,672.6 273.9,673.5 255.3,682.3 254.5,682.6 235.2,690 229.4,691.9 215.9,696 196.5,700.9 193,701.6 177.2,704.4 157.9,706.6 138.5,707.7 119.2,707.7 99.8,707.1 80.5,706.4 80.5,701.6 80.5,692.2 99.8,693.1 119.2,693.9 138.5,694 157.9,692.7 163.5,691.9 177.2,689.8 196.5,685.2 206.7,682.3 215.9,679.2 232.6,672.6 235.2,671.4 251.1,663 254.5,660.6 264.7,653.3 273.9,644.6 275,643.6 282.3,634 286.3,624.3 286.5,614.7 283.3,605 283.7,595.4 293.2,591.9 312.6,586.7 317.5,585.7 331.9,584.6 351.2,583.1 370.6,581.7 389.9,580.4 409.2,579.1 428.6,577.6 445.9,576 447.9,575.9 467.3,574.4 486.6,572.9 505.9,571.6 525.3,569.8 540.9,566.4 544.6,565.3 560.6,556.7 564,554.2 571.8,547.1 581.1,537.4 583.3,535 589.5,527.8 597,518.1 602.6,509 602.9,508.4 607.6,498.8 611.8,489.1 616.1,479.5 620.9,469.8 622,467.9 626.9,460.2 633,450.5 638.2,440.8 641.3,433.8 642.5,431.2 646.1,421.5 649.7,411.9 653.1,402.2 655.5,392.6 655.4,382.9 650.7,373.2 641.3,365.9 636.9,363.6 622,359 602.6,356 583.3,355.4 564,356.5 544.6,359.4 525.4,363.6 525.3,363.6 505.9,368 486.6,370.5 467.3,370.6 447.9,368.7 428.6,365.6 416.6,363.6 409.2,362 389.9,358.3 370.6,355.2 362.5,353.9 351.2,351 331.9,344.9 330.4,344.3 314.8,334.6 312.6,332.9 302.9,325 293.7,315.3 293.2,314.7 287.6,305.6 281.9,296 275,286.3 273.9,285.1 264.4,276.7 254.5,270.2 247.7,267 235.2,262.2 218.1,257.4 215.9,256.7 196.5,251.1 187.2,247.7 177.2,244 162.3,238 157.9,236.2 139.3,228.4 138.5,228 120.5,218.7 119.2,217.9 107.1,209.1 99.8,202.3 96.9,199.4 87.8,189.8 80.5,182.3 80.5,180.1 80.5,170.4 80.5,160.8 80.5,151.1ZM1186.5,749.9 1202.1,744.8 1221.4,742.1 1240.8,741.9 1260.1,744 1279.5,749.1 1281.6,749.9 1292.2,759.5 1281.4,769.2 1279.5,769.8 1260.1,773.9 1240.8,775 1221.4,773.8 1202.1,770.2 1198.6,769.2 1182.8,760.8 1180.9,759.5 1182.8,756 1186.5,749.9Z"/>
<path fill="#00dcfe" stroke="#00dcfe" d="M1262,151.1 1279.5,148.2 1298.8,145.8 1318.1,144.2 1337.5,143 1356.8,142.2 1376.1,142.3 1395.5,144.1 1414.8,148.7 1420.9,151.1 1434.2,156.8 1441.6,160.8 1453.5,167.6 1453.5,170.4 1453.5,180.1 1453.5,189.8 1453.5,199.4 1453.5,209.1 1453.5,210 1452.2,209.1 1440.4,199.4 1434.2,194.3 1427,189.8 1414.8,182.7 1408.9,180.1 1395.5,175.1 1376.1,170.4 1376.1,170.4 1356.8,168 1337.5,166.7 1318.1,166.4 1298.8,167.4 1279.5,169.9 1277.1,170.4 1260.1,174.4 1242.5,180.1 1240.8,180.7 1221.4,188.5 1218.5,189.8 1202.1,196.6 1195.2,199.4 1182.8,204.3 1170.2,209.1 1163.4,211.6 1144.1,218.7 1143.9,218.7 1124.8,225.6 1117,228.4 1105.4,232.4 1089,238 1086.1,239 1066.7,246.3 1063.4,247.7 1047.4,254.2 1039.6,257.4 1028.1,261.9 1014.4,267 1008.7,269.2 992.2,276.7 989.4,278.3 978.9,286.3 971.6,296 970,299.9 968.1,305.6 966.6,315.3 966,325 965.7,334.6 965.4,344.3 965.1,353.9 965.3,363.6 966.3,373.2 968.5,382.9 970,387.8 972.2,392.6 977.5,402.2 983.4,411.9 989.4,421 989.8,421.5 996.3,431.2 1001,440.8 1003.3,450.5 1003.4,460.2 1002.8,469.8 1002.5,479.5 1003.4,489.1 1005.6,498.8 1008.7,506.9 1009.6,508.4 1016.2,518.1 1023.5,527.8 1028.1,534 1030.7,537.4 1037.3,547.1 1044.9,556.7 1047.4,558.8 1055.5,566.4 1066.7,574 1070,576 1086.1,584.5 1088.5,585.7 1105.4,594.2 1107.8,595.4 1122.8,605 1124.8,607.1 1132.1,614.7 1136.6,624.3 1138.5,634 1140.1,643.6 1143.4,653.3 1144.1,654.3 1153.9,663 1163.4,667.4 1182.8,671.9 1190.2,672.6 1202.1,673.5 1221.4,673.9 1240.8,673.8 1260.1,673.6 1279.5,673.6 1298.8,673.9 1318.1,674.5 1337.5,675.3 1356.8,676.2 1376.1,677 1395.5,677.6 1414.8,677.9 1434.2,677.8 1453.5,677.7 1453.5,682.3 1453.5,691.8 1434.2,691.8 1414.8,691.6 1395.5,691 1376.1,690 1356.8,689 1337.5,688.1 1318.1,687.4 1298.8,686.9 1279.5,686.7 1260.1,686.8 1240.8,687.1 1221.4,687.6 1202.1,688 1182.8,687.7 1163.4,686.2 1144.1,682.5 1143.6,682.3 1124.8,672.8 1124.6,672.6 1117.5,663 1114.4,653.3 1113.3,643.6 1112.4,634 1110.1,624.3 1105.4,616.1 1104.6,614.7 1094.7,605 1086.1,599.7 1079.2,595.4 1066.7,588.9 1060.6,585.7 1047.4,578.5 1042.1,576 1028.1,567.8 1024.6,566.4 1009.2,556.7 1008.7,556.2 998.6,547.1 994,537.4 991.2,527.8 989.4,521.1 988.8,518.1 986.6,508.4 984.5,498.8 982.5,489.1 980.3,479.5 977.4,469.8 973,460.2 970,455 967.6,450.5 962.9,440.8 959,431.2 955.9,421.5 953.2,411.9 950.7,403.2 950.5,402.2 948.2,392.6 946.1,382.9 944.6,373.2 943.8,363.6 943.7,353.9 943.9,344.3 944.1,334.6 944.2,325 944.3,315.3 945,305.6 947,296 950.7,286.4 950.7,286.3 957.9,276.7 970,267.1 970.1,267 989.4,258.4 992.3,257.4 1008.7,251.5 1018.7,247.7 1028.1,243.9 1041.4,238 1047.4,235.3 1063.5,228.4 1066.7,227 1086.1,219.6 1088.5,218.7 1105.4,212.3 1113.8,209.1 1124.8,204.5 1137.1,199.4 1144.1,196.3 1159.5,189.8 1163.4,188 1181.2,180.1 1182.8,179.4 1202.1,170.6 1202.5,170.4 1221.4,162.6 1226.5,160.8 1240.8,156.1 1260.1,151.5 1262,151.1ZM80.5,189.8 80.5,182.3 87.8,189.8 96.9,199.4 99.8,202.3 107.1,209.1 119.2,217.9 120.5,218.7 138.5,228 139.3,228.4 157.9,236.2 162.3,238 177.2,244 187.2,247.7 196.5,251.1 215.9,256.7 218.1,257.4 235.2,262.2 247.7,267 254.5,270.2 264.4,276.7 273.9,285.1 275,286.3 281.9,296 287.6,305.6 293.2,314.7 293.7,315.3 302.9,325 312.6,332.9 314.8,334.6 330.4,344.3 331.9,344.9 351.2,351 362.5,353.9 370.6,355.2 389.9,358.3 409.2,362 416.6,363.6 428.6,365.6 447.9,368.7 467.3,370.6 486.6,370.5 505.9,368 525.3,363.6 525.4,363.6 544.6,359.4 564,356.5 583.3,355.4 602.6,356 622,359 636.9,363.6 641.3,365.9 650.7,373.2 655.4,382.9 655.5,392.6 653.1,402.2 649.7,411.9 646.1,421.5 642.5,431.2 641.3,433.8 638.2,440.8 633,450.5 626.9,460.2 622,467.9 620.9,469.8 616.1,479.5 611.8,489.1 607.6,498.8 602.9,508.4 602.6,509 597,518.1 589.5,527.8 583.3,535 581.1,537.4 571.8,547.1 564,554.2 560.6,556.7 544.6,565.3 540.9,566.4 525.3,569.8 505.9,571.6 486.6,572.9 467.3,574.4 447.9,575.9 445.9,576 428.6,577.6 409.2,579.1 389.9,580.4 370.6,581.7 351.2,583.1 331.9,584.6 317.5,585.7 312.6,586.7 293.2,591.9 283.7,595.4 283.3,605 286.5,614.7 286.3,624.3 282.3,634 275,643.6 273.9,644.6 264.7,653.3 254.5,660.6 251.1,663 235.2,671.4 232.6,672.6 215.9,679.2 206.7,682.3 196.5,685.2 177.2,689.8 163.5,691.9 157.9,692.7 138.5,694 119.2,693.9 99.8,693.1 80.5,692.2 80.5,691.9 80.5,682.3 80.5,677.9 99.8,678.6 119.2,679.2 138.5,678.8 157.9,676.7 177.2,672.7 177.4,672.6 196.5,665.8 203.3,663 215.9,655.8 219.7,653.3 229.7,643.6 234.5,634 234.6,624.3 230.3,614.7 222.6,605 215.9,596.5 215.1,595.4 215.9,588.1 216.3,585.7 235.2,580.8 254.5,578.5 273.9,577.1 292.6,576 293.2,576 312.6,575.5 331.9,575.1 351.2,574.7 370.6,574.2 389.9,573.6 409.2,572.7 428.6,571.4 447.9,569.4 467.3,566.7 469.3,566.4 486.6,563.8 505.9,560.1 518.6,556.7 525.3,554.3 539.6,547.1 544.6,543.2 551.8,537.4 561.2,527.8 564,524.6 570.3,518.1 578.3,508.4 583.3,501.1 584.7,498.8 589.5,489.1 593.1,479.5 596,469.8 598.8,460.2 601.6,450.5 602.6,446.7 604.4,440.8 607.4,431.2 611.1,421.5 616.2,411.9 621.9,402.2 622,402 624.8,392.6 623.4,382.9 622,381.3 609.6,373.2 602.6,371.2 583.3,369.6 564,371.3 554.5,373.2 544.6,375.8 525.3,380.4 506,382.9 505.9,382.9 486.6,383.6 468.6,382.9 467.3,382.8 447.9,380.7 428.6,377.5 409.2,374 405,373.2 389.9,370.3 370.6,367.3 351.2,364.9 341,363.6 331.9,361.8 312.6,356.7 303.9,353.9 293.2,349 282.4,344.3 273.9,339.6 263.4,334.6 254.5,328.4 249.3,325 242.5,315.3 239.9,305.6 236.4,296 235.2,294.7 224.7,286.3 215.9,282.4 202,276.7 196.5,274.9 177.3,267 177.2,267 157.9,258.6 155,257.4 138.5,250.6 130.8,247.7 119.2,243.1 106.1,238 99.8,235.1 86.2,228.4 80.5,224.6 80.5,218.7 80.5,209.1 80.5,199.4 80.5,189.8ZM301,469.8 312.6,464.1 331.9,464.6 346.1,469.8 345.2,479.5 331.9,483.5 312.6,482.6 305.3,479.5 301,469.8Z"/>
<path fill="#19ffde" stroke="#19ffde" d="M1277.1,170.4 1279.5,169.9 1298.8,167.4 1318.1,166.4 1337.5,166.7 1356.8,168 1376.1,170.4 1376.1,170.4 1395.5,175.1 1408.9,180.1 1414.8,182.7 1427,189.8 1434.2,194.3 1440.4,199.4 1452.2,209.1 1453.5,210 1453.5,218.7 1453.5,228.4 1453.5,238 1453.5,244.6 1434.9,238 1434.2,237.7 1414.8,230.8 1406.4,228.4 1395.5,224.3 1380.6,218.7 1376.1,216.8 1360.7,209.1 1356.8,207.3 1339.4,199.4 1337.5,198.8 1318.1,194 1298.8,192.8 1279.5,195 1262.5,199.4 1260.1,200.1 1240.8,207.2 1236,209.1 1221.4,214.8 1210.7,218.7 1202.1,221.8 1182.8,228.4 1182.7,228.4 1163.4,235 1154.5,238 1144.1,241.6 1125.5,247.7 1124.8,247.9 1105.4,254 1094.7,257.4 1086.1,260 1066.7,266.4 1065.2,267 1047.4,273.3 1038.3,276.7 1028.1,280.5 1014.8,286.3 1008.7,289.6 1000.4,296 992.7,305.6 989.4,313.4 988.8,315.3 987.4,325 987.1,334.6 987.4,344.3 988.5,353.9 989.4,358.5 991,363.6 995.8,373.2 1002.4,382.9 1008.7,391.1 1010.1,392.6 1017.6,402.2 1023,411.9 1027.1,421.5 1028.1,424.7 1029.4,431.2 1030.4,440.8 1030.4,450.5 1029.5,460.2 1028.1,469.8 1028.1,469.8 1027.1,479.5 1028.1,487.2 1028.3,489.1 1033.1,498.8 1042,508.4 1047.4,513.4 1053.1,518.1 1062.8,527.8 1066.7,534.4 1068.5,537.4 1072.1,547.1 1077,556.7 1086.1,566.4 1086.1,566.4 1102.8,576 1105.4,577.3 1124.3,585.7 1124.8,585.9 1144.1,595 1144.8,595.4 1159.9,605 1163.4,609.1 1169.6,614.7 1175.2,624.3 1178.8,634 1182.8,641 1185.4,643.6 1202.1,651.3 1212.8,653.3 1221.4,654.2 1240.8,654.7 1260.1,654.7 1279.5,654.9 1298.8,655.7 1318.1,657.1 1337.5,658.7 1356.8,659.9 1376.1,660.3 1395.5,660.2 1414.8,660.2 1434.2,660.6 1453.5,661.3 1453.5,663 1453.5,672.6 1453.5,677.7 1434.2,677.8 1414.8,677.9 1395.5,677.6 1376.1,677 1356.8,676.2 1337.5,675.3 1318.1,674.5 1298.8,673.9 1279.5,673.6 1260.1,673.6 1240.8,673.8 1221.4,673.9 1202.1,673.5 1190.2,672.6 1182.8,671.9 1163.4,667.4 1153.9,663 1144.1,654.3 1143.4,653.3 1140.1,643.6 1138.5,634 1136.6,624.3 1132.1,614.7 1124.8,607.1 1122.8,605 1107.8,595.4 1105.4,594.2 1088.5,585.7 1086.1,584.5 1070,576 1066.7,574 1055.5,566.4 1047.4,558.8 1044.9,556.7 1037.3,547.1 1030.7,537.4 1028.1,534 1023.5,527.8 1016.2,518.1 1009.6,508.4 1008.7,506.9 1005.6,498.8 1003.4,489.1 1002.5,479.5 1002.8,469.8 1003.4,460.2 1003.3,450.5 1001,440.8 996.3,431.2 989.8,421.5 989.4,421 983.4,411.9 977.5,402.2 972.2,392.6 970,387.8 968.5,382.9 966.3,373.2 965.3,363.6 965.1,353.9 965.4,344.3 965.7,334.6 966,325 966.6,315.3 968.1,305.6 970,299.9 971.6,296 978.9,286.3 989.4,278.3 992.2,276.7 1008.7,269.2 1014.4,267 1028.1,261.9 1039.6,257.4 1047.4,254.2 1063.4,247.7 1066.7,246.3 1086.1,239 1089,238 1105.4,232.4 1117,228.4 1124.8,225.6 1143.9,218.7 1144.1,218.7 1163.4,211.6 1170.2,209.1 1182.8,204.3 1195.2,199.4 1202.1,196.6 1218.5,189.8 1221.4,188.5 1240.8,180.7 1242.5,180.1 1260.1,174.4 1277.1,170.4ZM80.5,228.4 80.5,224.6 86.2,228.4 99.8,235.1 106.1,238 119.2,243.1 130.8,247.7 138.5,250.6 155,257.4 157.9,258.6 177.2,267 177.3,267 196.5,274.9 202,276.7 215.9,282.4 224.7,286.3 235.2,294.7 236.4,296 239.9,305.6 242.5,315.3 249.3,325 254.5,328.4 263.4,334.6 273.9,339.6 282.4,344.3 293.2,349 303.9,353.9 312.6,356.7 331.9,361.8 341,363.6 351.2,364.9 370.6,367.3 389.9,370.3 405,373.2 409.2,374 428.6,377.5 447.9,380.7 467.3,382.8 468.6,382.9 486.6,383.6 505.9,382.9 506,382.9 525.3,380.4 544.6,375.8 554.5,373.2 564,371.3 583.3,369.6 602.6,371.2 609.6,373.2 622,381.3 623.4,382.9 624.8,392.6 622,402 621.9,402.2 616.2,411.9 611.1,421.5 607.4,431.2 604.4,440.8 602.6,446.7 601.6,450.5 598.8,460.2 596,469.8 593.1,479.5 589.5,489.1 584.7,498.8 583.3,501.1 578.3,508.4 570.3,518.1 564,524.6 561.2,527.8 551.8,537.4 544.6,543.2 539.6,547.1 525.3,554.3 518.6,556.7 505.9,560.1 486.6,563.8 469.3,566.4 467.3,566.7 447.9,569.4 428.6,571.4 409.2,572.7 389.9,573.6 370.6,574.2 351.2,574.7 331.9,575.1 312.6,575.5 293.2,576 292.6,576 273.9,577.1 254.5,578.5 235.2,580.8 216.3,585.7 215.9,588.1 215.1,595.4 215.9,596.5 222.6,605 230.3,614.7 234.6,624.3 234.5,634 229.7,643.6 219.7,653.3 215.9,655.8 203.3,663 196.5,665.8 177.4,672.6 177.2,672.7 157.9,676.7 138.5,678.8 119.2,679.2 99.8,678.6 80.5,677.9 80.5,672.6 80.5,663 80.5,662.1 99.8,662.8 119.2,662.8 138.5,661.2 157.9,656.7 166.9,653.3 177.2,647.4 182.4,643.6 189.3,634 190.8,624.3 187.9,614.7 181.8,605 177.2,598.9 174.4,595.4 169.4,585.7 176.1,576 177.2,575.7 196.5,571.8 215.9,570.3 235.2,569.9 254.5,569.9 273.9,569.8 293.2,569.6 312.6,569.4 331.9,569.2 351.2,569 370.6,568.7 389.9,568.2 409.2,567.2 419.3,566.4 428.6,565.7 447.9,563.6 467.3,560.5 484.2,556.7 486.6,556.1 505.9,550.2 513.7,547.1 525.3,539.9 528.9,537.4 538.9,527.8 544.6,520.5 546.8,518.1 554.7,508.4 561.5,498.8 564,494.2 566.6,489.1 569.4,479.5 570.3,469.8 569.6,460.2 567.4,450.5 564,440.8 564,440.7 560.1,431.2 555.9,421.5 549.3,411.9 544.6,408.7 531.7,402.2 525.3,400.9 505.9,397.6 486.6,395.3 467.3,393.3 462.4,392.6 447.9,390.7 428.6,387.1 409.2,383 408.6,382.9 389.9,378.9 370.6,375.7 351.2,373.4 350.2,373.2 331.9,370.5 312.6,367.1 297.8,363.6 293.2,362 273.9,354.9 271.2,353.9 254.5,347.1 246.4,344.3 235.2,339.5 221.6,334.6 215.9,331.6 200.5,325 196.5,322.1 185,315.3 177.2,307 175.9,305.6 168.6,296 158.3,286.3 157.9,286.1 143.9,276.7 138.5,273.9 123.9,267 119.2,265.1 99.8,258.1 97.7,257.4 80.5,251.5 80.5,247.7 80.5,238 80.5,228.4ZM301,460.2 312.6,457.8 331.9,458.1 343.1,460.2 351.2,462.9 363.7,469.8 363.1,479.5 351.2,485.1 335.8,489.1 331.9,489.7 320.3,489.1 312.6,488.6 293.2,480.3 292.2,479.5 288.6,469.8 293.2,464 301,460.2ZM312.6,464.1 301,469.8 305.3,479.5 312.6,482.6 331.9,483.5 345.2,479.5 346.1,469.8 331.9,464.6 312.6,464.1Z"/>
<path fill="#39ffbe" stroke="#39ffbe" d="M1262.5,199.4 1279.5,195 1298.8,192.8 1318.1,194 1337.5,198.8 1339.4,199.4 1356.8,207.3 1360.7,209.1 1376.1,216.8 1380.6,218.7 1395.5,224.3 1406.4,228.4 1414.8,230.8 1434.2,237.7 1434.9,238 1453.5,244.6 1453.5,247.7 1453.5,257.4 1453.5,267 1453.5,268.2 1449.3,267 1434.2,262.9 1414.8,259.2 1397.7,257.4 1395.5,257.1 1376.1,254.9 1356.8,250.3 1350.5,247.7 1337.5,241.5 1330.7,238 1318.1,231.4 1308,228.4 1298.8,225.9 1279.5,226.3 1271.5,228.4 1260.1,231.4 1241.8,238 1240.8,238.4 1221.4,245.5 1214.6,247.7 1202.1,251.8 1184,257.4 1182.8,257.7 1163.4,264 1154,267 1144.1,270.1 1124.8,275.6 1120.8,276.7 1105.4,280.8 1086.1,285.8 1084.3,286.3 1066.7,291.5 1052.1,296 1047.4,297.6 1030.1,305.6 1028.1,307 1020.9,315.3 1017.1,325 1017.3,334.6 1021.3,344.3 1028.1,352.5 1030.6,353.9 1047.4,362.8 1048.7,363.6 1056.8,373.2 1057.6,382.9 1055.6,392.6 1053.3,402.2 1051.7,411.9 1050.8,421.5 1050.4,431.2 1050.1,440.8 1049.9,450.5 1049.6,460.2 1049.8,469.8 1051.4,479.5 1055.8,489.1 1064.5,498.8 1066.7,500.6 1076.2,508.4 1086.1,515.6 1089.9,518.1 1102.5,527.8 1105.4,531.3 1111.8,537.4 1117.2,547.1 1122.7,556.7 1124.8,558.5 1135.9,566.4 1144.1,570.1 1157.9,576 1163.4,578.2 1182.8,585.5 1183.3,585.7 1202.1,592.3 1213,595.4 1221.4,597.9 1240.8,602.4 1254.8,605 1260.1,606.2 1279.5,609.8 1298.8,612.6 1317.2,614.7 1318.1,614.8 1337.5,616.7 1356.7,614.7 1356.8,614.7 1376.1,609.7 1391.4,605 1395.5,604 1414.8,601.3 1434.2,603.5 1435.6,605 1439.5,614.7 1443.8,624.3 1453.5,633.3 1453.5,634 1453.5,643.6 1453.5,653.3 1453.5,661.3 1434.2,660.6 1414.8,660.2 1395.5,660.2 1376.1,660.3 1356.8,659.9 1337.5,658.7 1318.1,657.1 1298.8,655.7 1279.5,654.9 1260.1,654.7 1240.8,654.7 1221.4,654.2 1212.8,653.3 1202.1,651.3 1185.4,643.6 1182.8,641 1178.8,634 1175.2,624.3 1169.6,614.7 1163.4,609.1 1159.9,605 1144.8,595.4 1144.1,595 1124.8,585.9 1124.3,585.7 1105.4,577.3 1102.8,576 1086.1,566.4 1086.1,566.4 1077,556.7 1072.1,547.1 1068.5,537.4 1066.7,534.4 1062.8,527.8 1053.1,518.1 1047.4,513.4 1042,508.4 1033.1,498.8 1028.3,489.1 1028.1,487.2 1027.1,479.5 1028.1,469.8 1028.1,469.8 1029.5,460.2 1030.4,450.5 1030.4,440.8 1029.4,431.2 1028.1,424.7 1027.1,421.5 1023,411.9 1017.6,402.2 1010.1,392.6 1008.7,391.1 1002.4,382.9 995.8,373.2 991,363.6 989.4,358.5 988.5,353.9 987.4,344.3 987.1,334.6 987.4,325 988.8,315.3 989.4,313.4 992.7,305.6 1000.4,296 1008.7,289.6 1014.8,286.3 1028.1,280.5 1038.3,276.7 1047.4,273.3 1065.2,267 1066.7,266.4 1086.1,260 1094.7,257.4 1105.4,254 1124.8,247.9 1125.5,247.7 1144.1,241.6 1154.5,238 1163.4,235 1182.7,228.4 1182.8,228.4 1202.1,221.8 1210.7,218.7 1221.4,214.8 1236,209.1 1240.8,207.2 1260.1,200.1 1262.5,199.4ZM80.5,257.4 80.5,251.5 97.7,257.4 99.8,258.1 119.2,265.1 123.9,267 138.5,273.9 143.9,276.7 157.9,286.1 158.3,286.3 168.6,296 175.9,305.6 177.2,307 185,315.3 196.5,322.1 200.5,325 215.9,331.6 221.6,334.6 235.2,339.5 246.4,344.3 254.5,347.1 271.2,353.9 273.9,354.9 293.2,362 297.8,363.6 312.6,367.1 331.9,370.5 350.2,373.2 351.2,373.4 370.6,375.7 389.9,378.9 408.6,382.9 409.2,383 428.6,387.1 447.9,390.7 462.4,392.6 467.3,393.3 486.6,395.3 505.9,397.6 525.3,400.9 531.7,402.2 544.6,408.7 549.3,411.9 555.9,421.5 560.1,431.2 564,440.7 564,440.8 567.4,450.5 569.6,460.2 570.3,469.8 569.4,479.5 566.6,489.1 564,494.2 561.5,498.8 554.7,508.4 546.8,518.1 544.6,520.5 538.9,527.8 528.9,537.4 525.3,539.9 513.7,547.1 505.9,550.2 486.6,556.1 484.2,556.7 467.3,560.5 447.9,563.6 428.6,565.7 419.3,566.4 409.2,567.2 389.9,568.2 370.6,568.7 351.2,569 331.9,569.2 312.6,569.4 293.2,569.6 273.9,569.8 254.5,569.9 235.2,569.9 215.9,570.3 196.5,571.8 177.2,575.7 176.1,576 169.4,585.7 174.4,595.4 177.2,598.9 181.8,605 187.9,614.7 190.8,624.3 189.3,634 182.4,643.6 177.2,647.4 166.9,653.3 157.9,656.7 138.5,661.2 119.2,662.8 99.8,662.8 80.5,662.1 80.5,653.3 80.5,643.6 80.5,640 99.8,642.3 119.2,641.1 138.5,635 140.1,634 147.6,624.3 147.2,614.7 140.5,605 138.5,603.3 121.2,595.4 119.2,594.5 99.8,592.3 80.5,592 80.5,585.7 80.5,576 80.5,566.4 80.5,565 99.8,563.3 119.2,563.7 138.5,563.9 157.9,563.3 177.2,562.5 196.5,562.3 215.9,562.6 235.2,563.3 254.5,563.8 273.9,564.1 293.2,564.2 312.6,564.2 331.9,564.2 351.2,564.1 370.6,564 389.9,563.5 409.2,562.7 428.6,561.1 447.9,558.4 456.5,556.7 467.3,554.4 486.6,548.9 491.9,547.1 505.9,540 510.3,537.4 520.7,527.8 525.3,520.9 527.5,518.1 532.8,508.4 537,498.8 539.9,489.1 540.6,479.5 538,469.8 533.1,460.2 527.8,450.5 525.3,445.6 523.1,440.8 518.5,431.2 511.5,421.5 505.9,417.4 496.6,411.9 486.6,408.7 467.3,404.2 458.1,402.2 447.9,400.5 428.6,396.3 414.9,392.6 409.2,391.2 389.9,386.5 371.4,382.9 370.6,382.7 351.2,379.7 331.9,377.2 312.6,374.6 304.8,373.2 293.2,370.5 273.9,364.8 270.3,363.6 254.5,357.7 242.9,353.9 235.2,351.1 215.9,345.3 211.7,344.3 196.5,339.4 177.2,334.8 176.5,334.6 157.9,329.2 141.2,325 138.5,323.6 122.6,315.3 119.2,310.4 116,305.6 111.6,296 102.3,286.3 99.8,284.9 84.5,276.7 80.5,275.1 80.5,267 80.5,257.4ZM284.8,460.2 293.2,456 312.6,452.9 331.9,453.3 351.2,456 366.9,460.2 370.6,462.3 381.9,469.8 380.6,479.5 370.6,484.6 361.1,489.1 351.2,491.4 331.9,493.8 312.6,492.8 299.3,489.1 293.2,486.5 283.9,479.5 279.4,469.8 284.8,460.2ZM312.6,457.8 301,460.2 293.2,464 288.6,469.8 292.2,479.5 293.2,480.3 312.6,488.6 320.3,489.1 331.9,489.7 335.8,489.1 351.2,485.1 363.1,479.5 363.7,469.8 351.2,462.9 343.1,460.2 331.9,458.1 312.6,457.8ZM1451.8,585.7 1453.5,578.3 1453.5,585.7 1453.5,588.1 1451.8,585.7Z"/>
<path fill="#5aff9d" stroke="#5aff9d" d="M1271.5,228.4 1279.5,226.3 1298.8,225.9 1308,228.4 1318.1,231.4 1330.7,238 1337.5,241.5 1350.5,247.7 1356.8,250.3 1376.1,254.9 1395.5,257.1 1397.7,257.4 1414.8,259.2 1434.2,262.9 1449.3,267 1453.5,268.2 1453.5,276.7 1453.5,286.3 1453.5,296 1453.5,305.2 1443.1,296 1434.2,291 1419.6,286.3 1414.8,285.2 1395.5,283.2 1376.1,282.1 1356.8,279.5 1345.5,276.7 1337.5,274.4 1318.1,268 1313.5,267 1298.8,263.3 1279.5,263.6 1266.8,267 1260.1,268.7 1240.8,275.8 1238.3,276.7 1221.4,282.6 1210.3,286.3 1202.1,289 1182.8,295.1 1179.9,296 1163.4,300.8 1147,305.6 1144.1,306.5 1124.8,313.4 1120.3,315.3 1106.8,325 1105.4,327.6 1102,334.6 1101.4,344.3 1101.1,353.9 1099.1,363.6 1094.9,373.2 1089.3,382.9 1086.1,387.7 1082.6,392.6 1076.4,402.2 1072,411.9 1069.1,421.5 1067.3,431.2 1066.7,437.2 1066.3,440.8 1066.1,450.5 1066.7,460.2 1066.7,460.2 1068.5,469.8 1072.2,479.5 1079,489.1 1086.1,495.5 1090,498.8 1104.8,508.4 1105.4,508.8 1123.8,518.1 1124.8,518.6 1144.1,526.9 1147.1,527.8 1163.4,534.5 1174.2,537.4 1182.8,541.2 1199.3,547.1 1202.1,548.9 1211.4,556.7 1221.4,565.9 1221.8,566.4 1236.8,576 1240.8,577.6 1260.1,584.9 1262.9,585.7 1279.5,589.4 1298.8,591.7 1318.1,591.8 1337.5,589.4 1353.7,585.7 1356.8,584.8 1376.1,578.9 1385.7,576 1395.5,572.3 1408,566.4 1414.8,563.4 1428.6,556.7 1434.2,555.4 1453.5,551.9 1453.5,556.7 1453.5,566.4 1453.5,576 1453.5,578.3 1451.8,585.7 1453.5,588.1 1453.5,595.4 1453.5,605 1453.5,614.7 1453.5,624.3 1453.5,633.3 1443.8,624.3 1439.5,614.7 1435.6,605 1434.2,603.5 1414.8,601.3 1395.5,604 1391.4,605 1376.1,609.7 1356.8,614.7 1356.7,614.7 1337.5,616.7 1318.1,614.8 1317.2,614.7 1298.8,612.6 1279.5,609.8 1260.1,606.2 1254.8,605 1240.8,602.4 1221.4,597.9 1213,595.4 1202.1,592.3 1183.3,585.7 1182.8,585.5 1163.4,578.2 1157.9,576 1144.1,570.1 1135.9,566.4 1124.8,558.5 1122.7,556.7 1117.2,547.1 1111.8,537.4 1105.4,531.3 1102.5,527.8 1089.9,518.1 1086.1,515.6 1076.2,508.4 1066.7,500.6 1064.5,498.8 1055.8,489.1 1051.4,479.5 1049.8,469.8 1049.6,460.2 1049.9,450.5 1050.1,440.8 1050.4,431.2 1050.8,421.5 1051.7,411.9 1053.3,402.2 1055.6,392.6 1057.6,382.9 1056.8,373.2 1048.7,363.6 1047.4,362.8 1030.6,353.9 1028.1,352.5 1021.3,344.3 1017.3,334.6 1017.1,325 1020.9,315.3 1028.1,307 1030.1,305.6 1047.4,297.6 1052.1,296 1066.7,291.5 1084.3,286.3 1086.1,285.8 1105.4,280.8 1120.8,276.7 1124.8,275.6 1144.1,270.1 1154,267 1163.4,264 1182.8,257.7 1184,257.4 1202.1,251.8 1214.6,247.7 1221.4,245.5 1240.8,238.4 1241.8,238 1260.1,231.4 1271.5,228.4ZM80.5,276.7 80.5,275.1 84.5,276.7 99.8,284.9 102.3,286.3 111.6,296 116,305.6 119.2,310.4 122.6,315.3 138.5,323.6 141.2,325 157.9,329.2 176.5,334.6 177.2,334.8 196.5,339.4 211.7,344.3 215.9,345.3 235.2,351.1 242.9,353.9 254.5,357.7 270.3,363.6 273.9,364.8 293.2,370.5 304.8,373.2 312.6,374.6 331.9,377.2 351.2,379.7 370.6,382.7 371.4,382.9 389.9,386.5 409.2,391.2 414.9,392.6 428.6,396.3 447.9,400.5 458.1,402.2 467.3,404.2 486.6,408.7 496.6,411.9 505.9,417.4 511.5,421.5 518.5,431.2 523.1,440.8 525.3,445.6 527.8,450.5 533.1,460.2 538,469.8 540.6,479.5 539.9,489.1 537,498.8 532.8,508.4 527.5,518.1 525.3,520.9 520.7,527.8 510.3,537.4 505.9,540 491.9,547.1 486.6,548.9 467.3,554.4 456.5,556.7 447.9,558.4 428.6,561.1 409.2,562.7 389.9,563.5 370.6,564 351.2,564.1 331.9,564.2 312.6,564.2 293.2,564.2 273.9,564.1 254.5,563.8 235.2,563.3 215.9,562.6 196.5,562.3 177.2,562.5 157.9,563.3 138.5,563.9 119.2,563.7 99.8,563.3 80.5,565 80.5,556.7 80.5,550.4 99.8,550.5 119.2,551.5 138.5,552.7 157.9,553.7 177.2,554.5 196.5,555.5 215.9,556.5 218.8,556.7 235.2,557.8 254.5,558.8 273.9,559.4 293.2,559.7 312.6,559.8 331.9,559.9 351.2,559.9 370.6,559.8 389.9,559.3 409.2,558.3 425.4,556.7 428.6,556.4 447.9,553.3 467.3,548.6 472.4,547.1 486.6,541 493.7,537.4 504.8,527.8 505.9,525.6 510.5,518.1 512.6,508.4 511.3,498.8 506,489.1 505.9,489 496.4,479.5 488.2,469.8 486.6,463 486,460.2 486.6,451 486.6,450.5 486.6,448.8 486.5,440.8 483,431.2 472.6,421.5 467.3,419.2 447.9,412 447.7,411.9 428.6,406.3 417.6,402.2 409.2,399.8 389.9,393.9 385.4,392.6 370.6,389.1 351.2,385.7 331.9,383.2 329.3,382.9 312.6,380.7 293.2,377.6 274.9,373.2 273.9,372.9 254.5,366.4 246.1,363.6 235.2,359.8 215.9,354.4 214,353.9 196.5,349.2 177.2,345.1 172.6,344.3 157.9,341 138.5,337.5 121.7,334.6 119.2,333.9 99.8,328.4 88.9,325 80.5,320.2 80.5,315.3 80.5,305.6 80.5,296 80.5,286.3 80.5,276.7ZM290.4,450.5 293.2,449.8 312.6,448.1 331.9,448.4 351.2,450 355.2,450.5 370.6,453.2 389.9,459.1 393,460.2 405.2,469.8 402.1,479.5 389.9,485 381.9,489.1 370.6,491.9 351.2,496 331.9,497.9 312.6,496.8 293.2,491.7 288,489.1 275.5,479.5 273.9,476.2 270.8,469.8 272.6,460.2 273.9,458.7 290.4,450.5ZM293.2,456 284.8,460.2 279.4,469.8 283.9,479.5 293.2,486.5 299.3,489.1 312.6,492.8 331.9,493.8 351.2,491.4 361.1,489.1 370.6,484.6 380.6,479.5 381.9,469.8 370.6,462.3 366.9,460.2 351.2,456 331.9,453.3 312.6,452.9 293.2,456ZM80.5,595.4 80.5,592 99.8,592.3 119.2,594.5 121.2,595.4 138.5,603.3 140.5,605 147.2,614.7 147.6,624.3 140.1,634 138.5,635 119.2,641.1 99.8,642.3 80.5,640 80.5,634 80.5,624.3 80.5,614.7 80.5,605 80.5,595.4Z"/>
<path fill="#7dff7a" stroke="#7dff7a" d="M1266.8,267 1279.5,263.6 1298.8,263.3 1313.5,267 1318.1,268 1337.5,274.4 1345.5,276.7 1356.8,279.5 1376.1,282.1 1395.5,283.2 1414.8,285.2 1419.6,286.3 1434.2,291 1443.1,296 1453.5,305.2 1453.5,305.6 1453.5,315.3 1453.5,325 1453.5,328.6 1441.3,325 1434.2,321.7 1414.8,315.4 1414.2,315.3 1395.5,309.8 1376.1,306.5 1371.1,305.6 1356.8,302.9 1337.5,298.6 1324.6,296 1318.1,294.4 1298.8,292 1279.5,293.4 1269.4,296 1260.1,298 1240.8,304.2 1236.8,305.6 1221.4,310.3 1206.5,315.3 1202.1,316.6 1182.8,322.5 1175.7,325 1163.4,329.3 1152.5,334.6 1144.1,340 1139.1,344.3 1130.7,353.9 1124.8,363.1 1124.5,363.6 1117.3,373.2 1109.9,382.9 1105.4,388.4 1101.9,392.6 1094.4,402.2 1088.6,411.9 1086.1,417.8 1084.4,421.5 1081.7,431.2 1080.4,440.8 1080.4,450.5 1081.7,460.2 1084.8,469.8 1086.1,472.1 1090.3,479.5 1099.2,489.1 1105.4,493.9 1113.2,498.8 1124.8,504.8 1134.4,508.4 1144.1,512.2 1163.4,517.3 1167.7,518.1 1182.8,521.5 1202.1,524.4 1221.4,526.6 1232.1,527.8 1240.8,529.5 1260.1,534.3 1271.2,537.4 1278.6,547.1 1277,556.7 1279.5,561.8 1284,566.4 1298.8,570 1318.1,567.4 1320.6,566.4 1328.5,556.7 1335.7,547.1 1337.5,546.6 1356.8,542.5 1376.1,541.2 1395.5,541.1 1414.8,541.2 1434.2,541.3 1453.5,541.3 1453.5,547.1 1453.5,551.9 1434.2,555.4 1428.6,556.7 1414.8,563.4 1408,566.4 1395.5,572.3 1385.7,576 1376.1,578.9 1356.8,584.8 1353.7,585.7 1337.5,589.4 1318.1,591.8 1298.8,591.7 1279.5,589.4 1262.9,585.7 1260.1,584.9 1240.8,577.6 1236.8,576 1221.8,566.4 1221.4,565.9 1211.4,556.7 1202.1,548.9 1199.3,547.1 1182.8,541.2 1174.2,537.4 1163.4,534.5 1147.1,527.8 1144.1,526.9 1124.8,518.6 1123.8,518.1 1105.4,508.8 1104.8,508.4 1090,498.8 1086.1,495.5 1079,489.1 1072.2,479.5 1068.5,469.8 1066.7,460.2 1066.7,460.2 1066.1,450.5 1066.3,440.8 1066.7,437.2 1067.3,431.2 1069.1,421.5 1072,411.9 1076.4,402.2 1082.6,392.6 1086.1,387.7 1089.3,382.9 1094.9,373.2 1099.1,363.6 1101.1,353.9 1101.4,344.3 1102,334.6 1105.4,327.6 1106.8,325 1120.3,315.3 1124.8,313.4 1144.1,306.5 1147,305.6 1163.4,300.8 1179.9,296 1182.8,295.1 1202.1,289 1210.3,286.3 1221.4,282.6 1238.3,276.7 1240.8,275.8 1260.1,268.7 1266.8,267ZM80.5,325 80.5,320.2 88.9,325 99.8,328.4 119.2,333.9 121.7,334.6 138.5,337.5 157.9,341 172.6,344.3 177.2,345.1 196.5,349.2 214,353.9 215.9,354.4 235.2,359.8 246.1,363.6 254.5,366.4 273.9,372.9 274.9,373.2 293.2,377.6 312.6,380.7 329.3,382.9 331.9,383.2 351.2,385.7 370.6,389.1 385.4,392.6 389.9,393.9 409.2,399.8 417.6,402.2 428.6,406.3 447.7,411.9 447.9,412 467.3,419.2 472.6,421.5 483,431.2 486.5,440.8 486.6,448.8 486.6,450.5 486.6,451 486,460.2 486.6,463 488.2,469.8 496.4,479.5 505.9,489 506,489.1 511.3,498.8 512.6,508.4 510.5,518.1 505.9,525.6 504.8,527.8 493.7,537.4 486.6,541 472.4,547.1 467.3,548.6 447.9,553.3 428.6,556.4 425.4,556.7 409.2,558.3 389.9,559.3 370.6,559.8 351.2,559.9 331.9,559.9 312.6,559.8 293.2,559.7 273.9,559.4 254.5,558.8 235.2,557.8 218.8,556.7 215.9,556.5 196.5,555.5 177.2,554.5 157.9,553.7 138.5,552.7 119.2,551.5 99.8,550.5 80.5,550.4 80.5,547.1 80.5,541.7 99.8,542.5 119.2,543.7 138.5,545.1 157.9,546.6 163.6,547.1 177.2,548.3 196.5,550.1 215.9,551.7 235.2,553.2 254.5,554.3 273.9,555 293.2,555.3 312.6,555.5 331.9,555.7 351.2,555.8 370.6,555.6 389.9,555.2 409.2,554 428.6,551.9 447.9,548.3 452.8,547.1 467.3,542.1 478,537.4 486.6,530.6 490.1,527.8 494.6,518.1 493.4,508.4 486.6,500 485.2,498.8 467.3,489.2 466.9,489.1 447.9,483.3 428.6,483.5 409.2,488.5 407.8,489.1 389.9,493 370.6,497.3 362.4,498.8 351.2,500.4 331.9,501.7 312.6,500.7 303.7,498.8 293.2,496.2 278.9,489.1 273.9,485.2 268,479.5 262.8,469.8 262.5,460.2 269.9,450.5 273.9,448.2 293.2,444 312.6,443.2 331.9,443.5 351.2,444.1 370.6,445.1 389.9,446.8 409.2,449.5 423.4,450.5 428.6,451.1 430.4,450.5 443.9,440.8 441.6,431.2 430.1,421.5 428.6,420.9 413,411.9 409.2,410.5 391.1,402.2 389.9,401.8 370.6,395.9 356.6,392.6 351.2,391.5 331.9,388.7 312.6,386.6 293.2,384.2 286.4,382.9 273.9,380.3 254.5,374.2 251.8,373.2 235.2,367.5 222,363.6 215.9,361.7 196.5,356.9 182,353.9 177.2,352.8 157.9,349.1 138.5,346.1 125.9,344.3 119.2,343 99.8,339.2 80.5,335 80.5,334.6 80.5,325ZM293.2,449.8 290.4,450.5 273.9,458.7 272.6,460.2 270.8,469.8 273.9,476.2 275.5,479.5 288,489.1 293.2,491.7 312.6,496.8 331.9,497.9 351.2,496 370.6,491.9 381.9,489.1 389.9,485 402.1,479.5 405.2,469.8 393,460.2 389.9,459.1 370.6,453.2 355.2,450.5 351.2,450 331.9,448.4 312.6,448.1 293.2,449.8Z"/>
<path fill="#9dff5a" stroke="#9dff5a" d="M1269.4,296 1279.5,293.4 1298.8,292 1318.1,294.4 1324.6,296 1337.5,298.6 1356.8,302.9 1371.1,305.6 1376.1,306.5 1395.5,309.8 1414.2,315.3 1414.8,315.4 1434.2,321.7 1441.3,325 1453.5,328.6 1453.5,334.6 1453.5,338.2 1438,334.6 1434.2,333.4 1414.8,328.5 1395.5,325.2 1393.7,325 1376.1,321.7 1356.8,318.6 1337.5,315.6 1335.2,315.3 1318.1,312.4 1298.8,311.1 1279.5,312.6 1266.9,315.3 1260.1,316.5 1240.8,321.3 1228.6,325 1221.4,326.7 1202.1,332.2 1194.9,334.6 1182.8,338.5 1169.8,344.3 1163.4,347.6 1154.4,353.9 1144.1,363.6 1144.1,363.6 1135.4,373.2 1127.1,382.9 1124.8,385.6 1118.3,392.6 1110.2,402.2 1105.4,409 1103.4,411.9 1098.5,421.5 1095.4,431.2 1094,440.8 1094.2,450.5 1096.1,460.2 1100.2,469.8 1105.4,477.1 1107.4,479.5 1119.2,489.1 1124.8,492.5 1138.8,498.8 1144.1,500.9 1163.4,506.3 1174.1,508.4 1182.8,510.3 1202.1,513.2 1221.4,515.3 1240.8,517.1 1251.7,518.1 1260.1,519.2 1279.5,521.8 1298.8,524.1 1318.1,525.6 1337.5,526.5 1356.8,527.2 1373.5,527.8 1376.1,527.9 1395.5,529.2 1414.8,530.7 1434.2,532.2 1453.5,533.6 1453.5,537.4 1453.5,541.3 1434.2,541.3 1414.8,541.2 1395.5,541.1 1376.1,541.2 1356.8,542.5 1337.5,546.6 1335.7,547.1 1328.5,556.7 1320.6,566.4 1318.1,567.4 1298.8,570 1284,566.4 1279.5,561.8 1277,556.7 1278.6,547.1 1271.2,537.4 1260.1,534.3 1240.8,529.5 1232.1,527.8 1221.4,526.6 1202.1,524.4 1182.8,521.5 1167.7,518.1 1163.4,517.3 1144.1,512.2 1134.4,508.4 1124.8,504.8 1113.2,498.8 1105.4,493.9 1099.2,489.1 1090.3,479.5 1086.1,472.1 1084.8,469.8 1081.7,460.2 1080.4,450.5 1080.4,440.8 1081.7,431.2 1084.4,421.5 1086.1,417.8 1088.6,411.9 1094.4,402.2 1101.9,392.6 1105.4,388.4 1109.9,382.9 1117.3,373.2 1124.5,363.6 1124.8,363.1 1130.7,353.9 1139.1,344.3 1144.1,340 1152.5,334.6 1163.4,329.3 1175.7,325 1182.8,322.5 1202.1,316.6 1206.5,315.3 1221.4,310.3 1236.8,305.6 1240.8,304.2 1260.1,298 1269.4,296ZM80.5,343.1 80.5,335 99.8,339.2 119.2,343 125.9,344.3 138.5,346.1 157.9,349.1 177.2,352.8 182,353.9 196.5,356.9 215.9,361.7 222,363.6 235.2,367.5 251.8,373.2 254.5,374.2 273.9,380.3 286.4,382.9 293.2,384.2 312.6,386.6 331.9,388.7 351.2,391.5 356.6,392.6 370.6,395.9 389.9,401.8 391.1,402.2 409.2,410.5 413,411.9 428.6,420.9 430.1,421.5 441.6,431.2 443.9,440.8 430.4,450.5 428.6,451.1 423.4,450.5 409.2,449.5 389.9,446.8 370.6,445.1 351.2,444.1 331.9,443.5 312.6,443.2 293.2,444 273.9,448.2 269.9,450.5 262.5,460.2 262.8,469.8 268,479.5 273.9,485.2 278.9,489.1 293.2,496.2 303.7,498.8 312.6,500.7 331.9,501.7 351.2,500.4 362.4,498.8 370.6,497.3 389.9,493 407.8,489.1 409.2,488.5 428.6,483.5 447.9,483.3 466.9,489.1 467.3,489.2 485.2,498.8 486.6,500 493.4,508.4 494.6,518.1 490.1,527.8 486.6,530.6 478,537.4 467.3,542.1 452.8,547.1 447.9,548.3 428.6,551.9 409.2,554 389.9,555.2 370.6,555.6 351.2,555.8 331.9,555.7 312.6,555.5 293.2,555.3 273.9,555 254.5,554.3 235.2,553.2 215.9,551.7 196.5,550.1 177.2,548.3 163.6,547.1 157.9,546.6 138.5,545.1 119.2,543.7 99.8,542.5 80.5,541.7 80.5,537.4 80.5,534.7 99.8,535.9 119.2,537.2 121.6,537.4 138.5,539 157.9,541 177.2,543 196.5,544.9 215.9,546.9 217.6,547.1 235.2,548.7 254.5,550.1 273.9,550.8 293.2,551.2 312.6,551.5 331.9,551.6 351.2,551.8 370.6,551.6 389.9,551.1 409.2,549.8 428.6,547.4 430.2,547.1 447.9,542.5 462.1,537.4 467.3,534 475.4,527.8 479,518.1 474,508.4 467.3,503.6 455.5,498.8 447.9,496.4 428.6,494.5 409.2,496 392.7,498.8 389.9,499.1 370.6,502.1 351.2,504.4 331.9,505.6 312.6,504.6 293.2,500.6 288.6,498.8 273.9,491.6 270.3,489.1 260.6,479.5 254.9,469.8 254.5,468.1 252.7,460.2 254.5,452.4 255.3,450.5 270.3,440.8 273.9,439.5 293.2,437.6 312.6,437.8 331.9,437.9 351.2,437.4 370.6,435.9 389.9,432 392.4,431.2 396.7,421.5 389.9,415 387.4,411.9 370.6,403.7 367.2,402.2 351.2,398.1 331.9,394.5 315.3,392.6 312.6,392.3 293.2,390.6 273.9,387.7 258.1,382.9 254.5,381.8 235.2,374.7 230.9,373.2 215.9,368.5 196.5,363.6 196.3,363.6 177.2,359.4 157.9,355.9 144.4,353.9 138.5,352.9 119.2,350 99.8,346.9 85.6,344.3 80.5,343.1Z"/>
<path fill="#beff39" stroke="#beff39" d="M1266.9,315.3 1279.5,312.6 1298.8,311.1 1318.1,312.4 1335.2,315.3 1337.5,315.6 1356.8,318.6 1376.1,321.7 1393.7,325 1395.5,325.2 1414.8,328.5 1434.2,333.4 1438,334.6 1453.5,338.2 1453.5,344.3 1453.5,345.5 1447.8,344.3 1434.2,340.9 1414.8,337.1 1397.3,334.6 1395.5,334.3 1376.1,331.6 1356.8,329.3 1337.5,326.9 1318.1,325 1315.3,325 1298.8,324.3 1290.8,325 1279.5,325.7 1260.1,328.9 1240.8,333.3 1236,334.6 1221.4,338.1 1202.1,343.8 1200.9,344.3 1182.8,351.1 1177.2,353.9 1163.4,362.8 1162.4,363.6 1151.9,373.2 1144.1,381.4 1142.7,382.9 1133.8,392.6 1125.2,402.2 1124.8,402.8 1117.7,411.9 1112.3,421.5 1108.8,431.2 1107.3,440.8 1107.7,450.5 1110.4,460.2 1115.9,469.8 1124.8,479.1 1125.1,479.5 1141.8,489.1 1144.1,490.2 1163.4,496.5 1173.1,498.8 1182.8,500.9 1202.1,504.1 1221.4,506.4 1240.8,508.3 1241.9,508.4 1260.1,510.3 1279.5,512.2 1298.8,514.2 1318.1,516 1337.5,517.5 1347.2,518.1 1356.8,518.8 1376.1,520.2 1395.5,521.7 1414.8,523.3 1434.2,525.1 1453.5,526.9 1453.5,527.8 1453.5,533.6 1434.2,532.2 1414.8,530.7 1395.5,529.2 1376.1,527.9 1373.5,527.8 1356.8,527.2 1337.5,526.5 1318.1,525.6 1298.8,524.1 1279.5,521.8 1260.1,519.2 1251.7,518.1 1240.8,517.1 1221.4,515.3 1202.1,513.2 1182.8,510.3 1174.1,508.4 1163.4,506.3 1144.1,500.9 1138.8,498.8 1124.8,492.5 1119.2,489.1 1107.4,479.5 1105.4,477.1 1100.2,469.8 1096.1,460.2 1094.2,450.5 1094,440.8 1095.4,431.2 1098.5,421.5 1103.4,411.9 1105.4,409 1110.2,402.2 1118.3,392.6 1124.8,385.6 1127.1,382.9 1135.4,373.2 1144.1,363.6 1144.1,363.6 1154.4,353.9 1163.4,347.6 1169.8,344.3 1182.8,338.5 1194.9,334.6 1202.1,332.2 1221.4,326.7 1228.6,325 1240.8,321.3 1260.1,316.5 1266.9,315.3ZM80.5,344.3 80.5,343.1 85.6,344.3 99.8,346.9 119.2,350 138.5,352.9 144.4,353.9 157.9,355.9 177.2,359.4 196.3,363.6 196.5,363.6 215.9,368.5 230.9,373.2 235.2,374.7 254.5,381.8 258.1,382.9 273.9,387.7 293.2,390.6 312.6,392.3 315.3,392.6 331.9,394.5 351.2,398.1 367.2,402.2 370.6,403.7 387.4,411.9 389.9,415 396.7,421.5 392.4,431.2 389.9,432 370.6,435.9 351.2,437.4 331.9,437.9 312.6,437.8 293.2,437.6 273.9,439.5 270.3,440.8 255.3,450.5 254.5,452.4 252.7,460.2 254.5,468.1 254.9,469.8 260.6,479.5 270.3,489.1 273.9,491.6 288.6,498.8 293.2,500.6 312.6,504.6 331.9,505.6 351.2,504.4 370.6,502.1 389.9,499.1 392.7,498.8 409.2,496 428.6,494.5 447.9,496.4 455.5,498.8 467.3,503.6 474,508.4 479,518.1 475.4,527.8 467.3,534 462.1,537.4 447.9,542.5 430.2,547.1 428.6,547.4 409.2,549.8 389.9,551.1 370.6,551.6 351.2,551.8 331.9,551.6 312.6,551.5 293.2,551.2 273.9,550.8 254.5,550.1 235.2,548.7 217.6,547.1 215.9,546.9 196.5,544.9 177.2,543 157.9,541 138.5,539 121.6,537.4 119.2,537.2 99.8,535.9 80.5,534.7 80.5,528.7 99.8,530.3 119.2,532 138.5,533.8 157.9,535.7 173.1,537.4 177.2,537.9 196.5,540.2 215.9,542.3 235.2,544.2 254.5,545.7 273.9,546.7 289.7,547.1 293.2,547.1 312.6,547.4 331.9,547.6 351.2,547.7 370.6,547.6 388.2,547.1 389.9,547 409.2,545.2 428.6,541.9 445,537.4 447.9,535.9 460.2,527.8 462.6,518.1 452.1,508.4 447.9,506.6 428.6,502.8 409.2,502.7 389.9,504.4 370.6,506.6 352.2,508.4 351.2,508.5 331.9,509.6 312.6,508.5 312.1,508.4 293.2,505 277.3,498.8 273.9,497.1 262.4,489.1 254.5,481 253.2,479.5 247,469.8 243.5,460.2 244,450.5 250.3,440.8 254.5,437 271.3,431.2 273.9,430.3 293.2,430.5 301.9,431.2 312.6,431.7 331.9,431.6 337.4,431.2 351.2,428.8 367.5,421.5 363.3,411.9 351.2,406.5 338.2,402.2 331.9,401 312.6,399.1 293.2,398.2 273.9,396.3 263.1,392.6 254.5,390.1 238.1,382.9 235.2,381.8 215.9,374.9 210,373.2 196.5,369.6 177.2,365.5 166.5,363.6 157.9,362 138.5,358.9 119.2,356.2 103.6,353.9 99.8,353.3 80.5,349.6 80.5,344.3Z"/>
<path fill="#deff19" stroke="#deff19" d="M1290.8,325 1298.8,324.3 1315.3,325 1318.1,325 1337.5,326.9 1356.8,329.3 1376.1,331.6 1395.5,334.3 1397.3,334.6 1414.8,337.1 1434.2,340.9 1447.8,344.3 1453.5,345.5 1453.5,351.4 1434.2,347.3 1416.6,344.3 1414.8,343.9 1395.5,341.2 1376.1,339.2 1356.8,337.6 1337.5,335.9 1319.2,334.6 1318.1,334.5 1298.8,334.2 1294.2,334.6 1279.5,335.7 1260.1,338.7 1240.8,342.9 1235.6,344.3 1221.4,347.9 1202.2,353.9 1202.1,354 1182.8,362.8 1181.5,363.6 1168.4,373.2 1163.4,377.6 1158.1,382.9 1149,392.6 1144.1,397.8 1140.1,402.2 1132.3,411.9 1126.1,421.5 1124.8,424.8 1122.3,431.2 1120.8,440.8 1121.6,450.5 1124.8,459.4 1125.1,460.2 1132.7,469.8 1144.1,478.5 1145.7,479.5 1163.4,486.8 1171.4,489.1 1182.8,492 1202.1,495.6 1221.4,498.4 1224.6,498.8 1240.8,500.6 1260.1,502.5 1279.5,504.3 1298.8,506.2 1318.1,508.3 1319.9,508.4 1337.5,510.3 1356.8,512.1 1376.1,513.6 1395.5,515.1 1414.8,516.8 1427,518.1 1434.2,518.9 1453.5,521.2 1453.5,526.9 1434.2,525.1 1414.8,523.3 1395.5,521.7 1376.1,520.2 1356.8,518.8 1347.2,518.1 1337.5,517.5 1318.1,516 1298.8,514.2 1279.5,512.2 1260.1,510.3 1241.9,508.4 1240.8,508.3 1221.4,506.4 1202.1,504.1 1182.8,500.9 1173.1,498.8 1163.4,496.5 1144.1,490.2 1141.8,489.1 1125.1,479.5 1124.8,479.1 1115.9,469.8 1110.4,460.2 1107.7,450.5 1107.3,440.8 1108.8,431.2 1112.3,421.5 1117.7,411.9 1124.8,402.8 1125.2,402.2 1133.8,392.6 1142.7,382.9 1144.1,381.4 1151.9,373.2 1162.4,363.6 1163.4,362.8 1177.2,353.9 1182.8,351.1 1200.9,344.3 1202.1,343.8 1221.4,338.1 1236,334.6 1240.8,333.3 1260.1,328.9 1279.5,325.7 1290.8,325ZM80.5,353.9 80.5,349.6 99.8,353.3 103.6,353.9 119.2,356.2 138.5,358.9 157.9,362 166.5,363.6 177.2,365.5 196.5,369.6 210,373.2 215.9,374.9 235.2,381.8 238.1,382.9 254.5,390.1 263.1,392.6 273.9,396.3 293.2,398.2 312.6,399.1 331.9,401 338.2,402.2 351.2,406.5 363.3,411.9 367.5,421.5 351.2,428.8 337.4,431.2 331.9,431.6 312.6,431.7 301.9,431.2 293.2,430.5 273.9,430.3 271.3,431.2 254.5,437 250.3,440.8 244,450.5 243.5,460.2 247,469.8 253.2,479.5 254.5,481 262.4,489.1 273.9,497.1 277.3,498.8 293.2,505 312.1,508.4 312.6,508.5 331.9,509.6 351.2,508.5 352.2,508.4 370.6,506.6 389.9,504.4 409.2,502.7 428.6,502.8 447.9,506.6 452.1,508.4 462.6,518.1 460.2,527.8 447.9,535.9 445,537.4 428.6,541.9 409.2,545.2 389.9,547 388.2,547.1 370.6,547.6 351.2,547.7 331.9,547.6 312.6,547.4 293.2,547.1 289.7,547.1 273.9,546.7 254.5,545.7 235.2,544.2 215.9,542.3 196.5,540.2 177.2,537.9 173.1,537.4 157.9,535.7 138.5,533.8 119.2,532 99.8,530.3 80.5,528.7 80.5,527.8 80.5,523.2 99.8,525.1 119.2,526.8 128.7,527.8 138.5,528.8 157.9,530.9 177.2,533.2 196.5,535.5 212.6,537.4 215.9,537.8 235.2,539.7 254.5,541.1 273.9,541.9 293.2,542.1 312.6,542.3 331.9,542.5 351.2,542.7 370.6,542.6 389.9,541.8 409.2,539.9 423,537.4 428.6,535.4 443.2,527.8 443.6,518.1 428.6,511.4 409.2,509.2 389.9,510 370.6,511.9 351.2,513.6 331.9,514.4 312.6,513.6 293.2,509.9 289.4,508.4 273.9,502.9 266.9,498.8 254.5,489.3 254.4,489.1 245.6,479.5 239.1,469.8 235.2,461.6 234.4,460.2 233.1,450.5 235.2,444.5 236.9,440.8 246.5,431.2 254.5,423.5 260.8,421.5 272.6,411.9 258.3,402.2 254.5,401 241.6,392.6 235.2,389.7 220.4,382.9 215.9,381.3 196.5,375.5 186.6,373.2 177.2,371.1 157.9,367.7 138.5,364.7 130.3,363.6 119.2,362 99.8,359.1 80.5,355.6 80.5,353.9ZM293.2,410.9 280.4,411.9 293.2,414.3 308.5,421.5 312.6,422 321.9,421.5 331.9,412.9 332.1,411.9 331.9,411.8 312.6,409.5 293.2,410.9Z"/>
<path fill="#feed00" stroke="#feed00" d="M1294.2,334.6 1298.8,334.2 1318.1,334.5 1319.2,334.6 1337.5,335.9 1356.8,337.6 1376.1,339.2 1395.5,341.2 1414.8,343.9 1416.6,344.3 1434.2,347.3 1453.5,351.4 1453.5,353.9 1453.5,357.2 1438,353.9 1434.2,353.1 1414.8,349.7 1395.5,347.4 1376.1,346 1356.8,344.8 1348.6,344.3 1337.5,343.5 1318.1,342.5 1298.8,342.6 1280.1,344.3 1279.5,344.3 1260.1,347.5 1240.8,351.7 1232.5,353.9 1221.4,357.1 1203.6,363.6 1202.1,364.3 1186.3,373.2 1182.8,375.7 1174.5,382.9 1164.6,392.6 1163.4,393.8 1155.9,402.2 1147.7,411.9 1144.1,416.8 1141,421.5 1136.9,431.2 1135.4,440.8 1136.7,450.5 1141.5,460.2 1144.1,463.1 1152.1,469.8 1163.4,476.1 1172.2,479.5 1182.8,482.7 1202.1,487.1 1213.6,489.1 1221.4,490.4 1240.8,492.8 1260.1,494.8 1279.5,496.8 1297.6,498.8 1298.8,498.9 1318.1,501.2 1337.5,503.4 1356.8,505.5 1376.1,507.3 1388,508.4 1395.5,509.1 1414.8,511 1434.2,513.2 1453.5,515.5 1453.5,518.1 1453.5,521.2 1434.2,518.9 1427,518.1 1414.8,516.8 1395.5,515.1 1376.1,513.6 1356.8,512.1 1337.5,510.3 1319.9,508.4 1318.1,508.3 1298.8,506.2 1279.5,504.3 1260.1,502.5 1240.8,500.6 1224.6,498.8 1221.4,498.4 1202.1,495.6 1182.8,492 1171.4,489.1 1163.4,486.8 1145.7,479.5 1144.1,478.5 1132.7,469.8 1125.1,460.2 1124.8,459.4 1121.6,450.5 1120.8,440.8 1122.3,431.2 1124.8,424.8 1126.1,421.5 1132.3,411.9 1140.1,402.2 1144.1,397.8 1149,392.6 1158.1,382.9 1163.4,377.6 1168.4,373.2 1181.5,363.6 1182.8,362.8 1202.1,354 1202.2,353.9 1221.4,347.9 1235.6,344.3 1240.8,342.9 1260.1,338.7 1279.5,335.7 1294.2,334.6ZM80.5,361.2 80.5,355.6 99.8,359.1 119.2,362 130.3,363.6 138.5,364.7 157.9,367.7 177.2,371.1 186.6,373.2 196.5,375.5 215.9,381.3 220.4,382.9 235.2,389.7 241.6,392.6 254.5,401 258.3,402.2 272.6,411.9 260.8,421.5 254.5,423.5 246.5,431.2 236.9,440.8 235.2,444.5 233.1,450.5 234.4,460.2 235.2,461.6 239.1,469.8 245.6,479.5 254.4,489.1 254.5,489.3 266.9,498.8 273.9,502.9 289.4,508.4 293.2,509.9 312.6,513.6 331.9,514.4 351.2,513.6 370.6,511.9 389.9,510 409.2,509.2 428.6,511.4 443.6,518.1 443.2,527.8 428.6,535.4 423,537.4 409.2,539.9 389.9,541.8 370.6,542.6 351.2,542.7 331.9,542.5 312.6,542.3 293.2,542.1 273.9,541.9 254.5,541.1 235.2,539.7 215.9,537.8 212.6,537.4 196.5,535.5 177.2,533.2 157.9,530.9 138.5,528.8 128.7,527.8 119.2,526.8 99.8,525.1 80.5,523.2 80.5,518.1 80.5,517.9 82,518.1 99.8,520.1 119.2,522.1 138.5,524.1 157.9,526.3 170.8,527.8 177.2,528.5 196.5,530.7 215.9,532.8 235.2,534.6 254.5,536.1 273.9,536.8 293.2,536.7 312.6,536.4 331.9,536.9 345.9,537.4 351.2,537.5 370.6,537.4 371.1,537.4 389.9,535.6 409.2,531.6 419.9,527.8 412.6,518.1 409.2,517.4 389.9,516.7 370.6,517.6 361.9,518.1 351.2,519.5 331.9,520.9 312.6,519.6 307.5,518.1 293.2,516 273.9,508.9 273.1,508.4 256.9,498.8 254.5,497 246.1,489.1 238,479.5 235.2,475.4 230.9,469.8 225.2,460.2 222.9,450.5 225.6,440.8 232.2,431.2 235.2,426.7 240.3,421.5 244.2,411.9 238.7,402.2 235.2,400 225.4,392.6 215.9,388.1 201.9,382.9 196.5,381.3 177.2,376.8 157.9,373.3 157.7,373.2 138.5,370.3 119.2,367.6 99.8,364.7 93.7,363.6 80.5,361.2ZM280.4,411.9 293.2,410.9 312.6,409.5 331.9,411.8 332.1,411.9 331.9,412.9 321.9,421.5 312.6,422 308.5,421.5 293.2,414.3 280.4,411.9Z"/>
<path fill="#ffc400" stroke="#ffc400" d="M1280.1,344.3 1298.8,342.6 1318.1,342.5 1337.5,343.5 1348.6,344.3 1356.8,344.8 1376.1,346 1395.5,347.4 1414.8,349.7 1434.2,353.1 1438,353.9 1453.5,357.2 1453.5,362.7 1434.2,358.6 1414.8,355.4 1401.1,353.9 1395.5,353.3 1376.1,352.1 1356.8,351.3 1337.5,350.6 1318.1,350.1 1298.8,350.5 1279.5,352.5 1270.9,353.9 1260.1,356 1240.8,360.7 1231.3,363.6 1221.4,367.2 1207.8,373.2 1202.1,376.5 1193.2,382.9 1182.8,392 1182.2,392.6 1173.6,402.2 1164.8,411.9 1163.4,413.5 1157.9,421.5 1153.2,431.2 1151.6,440.8 1153.8,450.5 1160.8,460.2 1163.4,462.3 1176.7,469.8 1182.8,472.2 1202.1,477.8 1209.9,479.5 1221.4,481.6 1240.8,484.3 1260.1,486.7 1279.5,488.9 1280.8,489.1 1298.8,491.2 1318.1,493.7 1337.5,496.4 1354.9,498.8 1356.8,499 1376.1,501.1 1395.5,503 1414.8,505 1434.2,507.4 1441.3,508.4 1453.5,510 1453.5,515.5 1434.2,513.2 1414.8,511 1395.5,509.1 1388,508.4 1376.1,507.3 1356.8,505.5 1337.5,503.4 1318.1,501.2 1298.8,498.9 1297.6,498.8 1279.5,496.8 1260.1,494.8 1240.8,492.8 1221.4,490.4 1213.6,489.1 1202.1,487.1 1182.8,482.7 1172.2,479.5 1163.4,476.1 1152.1,469.8 1144.1,463.1 1141.5,460.2 1136.7,450.5 1135.4,440.8 1136.9,431.2 1141,421.5 1144.1,416.8 1147.7,411.9 1155.9,402.2 1163.4,393.8 1164.6,392.6 1174.5,382.9 1182.8,375.7 1186.3,373.2 1202.1,364.3 1203.6,363.6 1221.4,357.1 1232.5,353.9 1240.8,351.7 1260.1,347.5 1279.5,344.3 1280.1,344.3ZM80.5,363.6 80.5,361.2 93.7,363.6 99.8,364.7 119.2,367.6 138.5,370.3 157.7,373.2 157.9,373.3 177.2,376.8 196.5,381.3 201.9,382.9 215.9,388.1 225.4,392.6 235.2,400 238.7,402.2 244.2,411.9 240.3,421.5 235.2,426.7 232.2,431.2 225.6,440.8 222.9,450.5 225.2,460.2 230.9,469.8 235.2,475.4 238,479.5 246.1,489.1 254.5,497 256.9,498.8 273.1,508.4 273.9,508.9 293.2,516 307.5,518.1 312.6,519.6 331.9,520.9 351.2,519.5 361.9,518.1 370.6,517.6 389.9,516.7 409.2,517.4 412.6,518.1 419.9,527.8 409.2,531.6 389.9,535.6 371.1,537.4 370.6,537.4 351.2,537.5 345.9,537.4 331.9,536.9 312.6,536.4 293.2,536.7 273.9,536.8 254.5,536.1 235.2,534.6 215.9,532.8 196.5,530.7 177.2,528.5 170.8,527.8 157.9,526.3 138.5,524.1 119.2,522.1 99.8,520.1 82,518.1 80.5,517.9 80.5,512.6 99.8,515.1 119.2,517.4 125.2,518.1 138.5,519.6 157.9,521.7 177.2,523.8 196.5,525.8 215.9,527.7 216.1,527.8 235.2,528.9 254.5,529.2 273.9,528.1 277.4,527.8 274,518.1 273.9,518.1 258.4,508.4 254.5,506 246.6,498.8 237.8,489.1 235.2,485.9 229.8,479.5 222.3,469.8 216,460.2 215.9,459.6 212.4,450.5 214.4,440.8 215.9,438.7 220.6,431.2 226.9,421.5 229.2,411.9 224.3,402.2 215.9,396.2 209.8,392.6 196.5,387.4 179.6,382.9 177.2,382.3 157.9,378.9 138.5,376 119.6,373.2 119.2,373.2 99.8,370.3 80.5,366.8 80.5,363.6Z"/>
<path fill="#ff9f00" stroke="#ff9f00" d="M1270.9,353.9 1279.5,352.5 1298.8,350.5 1318.1,350.1 1337.5,350.6 1356.8,351.3 1376.1,352.1 1395.5,353.3 1401.1,353.9 1414.8,355.4 1434.2,358.6 1453.5,362.7 1453.5,363.6 1453.5,368.4 1434.2,364.2 1430.7,363.6 1414.8,361 1395.5,359.2 1376.1,358.4 1356.8,358.1 1337.5,357.8 1318.1,357.8 1298.8,358.7 1279.5,361 1266.4,363.6 1260.1,365.1 1240.8,371.2 1235.1,373.2 1221.4,380 1216.5,382.9 1204.1,392.6 1202.1,394.5 1195,402.2 1186,411.9 1182.8,415.5 1178.3,421.5 1173.1,431.2 1171.4,440.8 1175.1,450.5 1182.8,457.7 1186.7,460.2 1202.1,466.2 1215,469.8 1221.4,471.2 1240.8,474.4 1260.1,477.1 1277.2,479.5 1279.5,479.7 1298.8,482.1 1318.1,485.1 1337.5,488.6 1340.3,489.1 1356.8,491.4 1376.1,493.9 1395.5,496.3 1413.7,498.8 1414.8,498.9 1434.2,501.2 1453.5,504 1453.5,508.4 1453.5,510 1441.3,508.4 1434.2,507.4 1414.8,505 1395.5,503 1376.1,501.1 1356.8,499 1354.9,498.8 1337.5,496.4 1318.1,493.7 1298.8,491.2 1280.8,489.1 1279.5,488.9 1260.1,486.7 1240.8,484.3 1221.4,481.6 1209.9,479.5 1202.1,477.8 1182.8,472.2 1176.7,469.8 1163.4,462.3 1160.8,460.2 1153.8,450.5 1151.6,440.8 1153.2,431.2 1157.9,421.5 1163.4,413.5 1164.8,411.9 1173.6,402.2 1182.2,392.6 1182.8,392 1193.2,382.9 1202.1,376.5 1207.8,373.2 1221.4,367.2 1231.3,363.6 1240.8,360.7 1260.1,356 1270.9,353.9ZM80.5,372.5 80.5,366.8 99.8,370.3 119.2,373.2 119.6,373.2 138.5,376 157.9,378.9 177.2,382.3 179.6,382.9 196.5,387.4 209.8,392.6 215.9,396.2 224.3,402.2 229.2,411.9 226.9,421.5 220.6,431.2 215.9,438.7 214.4,440.8 212.4,450.5 215.9,459.6 216,460.2 222.3,469.8 229.8,479.5 235.2,485.9 237.8,489.1 246.6,498.8 254.5,506 258.4,508.4 273.9,518.1 274,518.1 277.4,527.8 273.9,528.1 254.5,529.2 235.2,528.9 216.1,527.8 215.9,527.7 196.5,525.8 177.2,523.8 157.9,521.7 138.5,519.6 125.2,518.1 119.2,517.4 99.8,515.1 80.5,512.6 80.5,508.4 80.5,507.2 88.1,508.4 99.8,510.1 119.2,512.6 138.5,514.9 157.9,517.1 167.3,518.1 177.2,519.1 196.5,520.5 215.9,521.1 235.2,520 242.5,518.1 242.4,508.4 236.1,498.8 235.2,497.7 228.7,489.1 221.3,479.5 215.9,472.5 213.3,469.8 205.1,460.2 200.8,450.5 202.3,440.8 208.3,431.2 214.8,421.5 215.9,415.8 216.6,411.9 215.9,410.6 210.3,402.2 196.5,394.2 192.1,392.6 177.2,388.5 157.9,384.8 145.8,382.9 138.5,381.8 119.2,379.2 99.8,376.2 84.6,373.2 80.5,372.5Z"/>
<path fill="#ff7a00" stroke="#ff7a00" d="M1266.4,363.6 1279.5,361 1298.8,358.7 1318.1,357.8 1337.5,357.8 1356.8,358.1 1376.1,358.4 1395.5,359.2 1414.8,361 1430.7,363.6 1434.2,364.2 1453.5,368.4 1453.5,373.2 1453.5,374.4 1448.6,373.2 1434.2,370.2 1414.8,367 1395.5,365.3 1376.1,364.9 1356.8,365.2 1337.5,365.6 1318.1,366.2 1298.8,367.8 1279.5,371.1 1271.1,373.2 1260.1,377.3 1247.3,382.9 1240.8,387.4 1233.7,392.6 1224.2,402.2 1221.4,405.5 1216.4,411.9 1208.3,421.5 1202.1,429.9 1201.3,431.2 1200.4,440.8 1202.1,443.5 1209.4,450.5 1221.4,455.5 1237.3,460.2 1240.8,460.8 1260.1,463.9 1279.5,467 1295.2,469.8 1298.8,470.3 1318.1,473.6 1337.5,477.8 1344.3,479.5 1356.8,481.6 1376.1,484.8 1395.5,488.2 1400.1,489.1 1414.8,490.9 1434.2,493.8 1453.5,497.4 1453.5,498.8 1453.5,504 1434.2,501.2 1414.8,498.9 1413.7,498.8 1395.5,496.3 1376.1,493.9 1356.8,491.4 1340.3,489.1 1337.5,488.6 1318.1,485.1 1298.8,482.1 1279.5,479.7 1277.2,479.5 1260.1,477.1 1240.8,474.4 1221.4,471.2 1215,469.8 1202.1,466.2 1186.7,460.2 1182.8,457.7 1175.1,450.5 1171.4,440.8 1173.1,431.2 1178.3,421.5 1182.8,415.5 1186,411.9 1195,402.2 1202.1,394.5 1204.1,392.6 1216.5,382.9 1221.4,380 1235.1,373.2 1240.8,371.2 1260.1,365.1 1266.4,363.6ZM80.5,373.2 80.5,372.5 84.6,373.2 99.8,376.2 119.2,379.2 138.5,381.8 145.8,382.9 157.9,384.8 177.2,388.5 192.1,392.6 196.5,394.2 210.3,402.2 215.9,410.6 216.6,411.9 215.9,415.8 214.8,421.5 208.3,431.2 202.3,440.8 200.8,450.5 205.1,460.2 213.3,469.8 215.9,472.5 221.3,479.5 228.7,489.1 235.2,497.7 236.1,498.8 242.4,508.4 242.5,518.1 235.2,520 215.9,521.1 196.5,520.5 177.2,519.1 167.3,518.1 157.9,517.1 138.5,514.9 119.2,512.6 99.8,510.1 88.1,508.4 80.5,507.2 80.5,501 99.8,504.4 119.2,507.6 124.5,508.4 138.5,510.2 157.9,512.2 177.2,513.8 196.5,514.3 215.9,512.2 223.2,508.4 223.7,498.8 219.1,489.1 215.9,484.5 211.9,479.5 202.7,469.8 196.5,462.7 193.1,460.2 185.9,450.5 187.1,440.8 195.3,431.2 196.5,429.8 201.7,421.5 202.9,411.9 196.5,403.5 195,402.2 177.2,395.4 165.1,392.6 157.9,391.2 138.5,388.5 119.2,385.7 103.4,382.9 99.8,382.4 80.5,378.8 80.5,373.2Z"/>
<path fill="#ff5500" stroke="#ff5500" d="M1271.1,373.2 1279.5,371.1 1298.8,367.8 1318.1,366.2 1337.5,365.6 1356.8,365.2 1376.1,364.9 1395.5,365.3 1414.8,367 1434.2,370.2 1448.6,373.2 1453.5,374.4 1453.5,381.3 1434.2,377 1414.8,373.4 1412.3,373.2 1395.5,372.2 1376.1,372.5 1361.8,373.2 1356.8,373.7 1337.5,375.4 1318.1,377.4 1298.8,380.7 1290.7,382.9 1279.5,388.6 1273.3,392.6 1266.1,402.2 1262.8,411.9 1261.5,421.5 1263.7,431.2 1275.8,440.8 1279.5,442.1 1298.8,447.7 1310.2,450.5 1318.1,452 1337.5,456.1 1354.4,460.2 1356.8,460.7 1376.1,465.1 1389.1,469.8 1395.5,471.2 1414.8,477.1 1419.9,479.5 1434.2,482.4 1453.5,488.2 1453.5,489.1 1453.5,497.4 1434.2,493.8 1414.8,490.9 1400.1,489.1 1395.5,488.2 1376.1,484.8 1356.8,481.6 1344.3,479.5 1337.5,477.8 1318.1,473.6 1298.8,470.3 1295.2,469.8 1279.5,467 1260.1,463.9 1240.8,460.8 1237.3,460.2 1221.4,455.5 1209.4,450.5 1202.1,443.5 1200.4,440.8 1201.3,431.2 1202.1,429.9 1208.3,421.5 1216.4,411.9 1221.4,405.5 1224.2,402.2 1233.7,392.6 1240.8,387.4 1247.3,382.9 1260.1,377.3 1271.1,373.2ZM80.5,382.9 80.5,378.8 99.8,382.4 103.4,382.9 119.2,385.7 138.5,388.5 157.9,391.2 165.1,392.6 177.2,395.4 195,402.2 196.5,403.5 202.9,411.9 201.7,421.5 196.5,429.8 195.3,431.2 187.1,440.8 185.9,450.5 193.1,460.2 196.5,462.7 202.7,469.8 211.9,479.5 215.9,484.5 219.1,489.1 223.7,498.8 223.2,508.4 215.9,512.2 196.5,514.3 177.2,513.8 157.9,512.2 138.5,510.2 124.5,508.4 119.2,507.6 99.8,504.4 80.5,501 80.5,498.8 80.5,493 99.8,498.1 102.3,498.8 119.2,501.7 138.5,504.7 157.9,507 177.2,508.3 196.5,506.8 209,498.8 207.5,489.1 200.9,479.5 196.5,474.7 189.9,469.8 177.2,460.2 177.1,460.2 163,450.5 162.6,440.8 175.3,431.2 177.2,430 184.3,421.5 185.3,411.9 177.2,405.4 169.8,402.2 157.9,399.6 138.5,396.5 119.2,393.1 116.8,392.6 99.8,389.9 80.5,385.9 80.5,382.9Z"/>
<path fill="#ff2d00" stroke="#ff2d00" d="M1361.8,373.2 1376.1,372.5 1395.5,372.2 1412.3,373.2 1414.8,373.4 1434.2,377 1453.5,381.3 1453.5,382.9 1453.5,390.1 1434.2,385.4 1421.1,382.9 1414.8,382 1395.5,381.4 1377.3,382.9 1376.1,383.1 1356.8,388.6 1343.8,392.6 1337.5,400.5 1335.8,402.2 1337.5,404.6 1342.1,411.9 1356.8,419.4 1361.2,421.5 1376.1,426 1395.5,430.4 1399.8,431.2 1414.8,433.9 1434.2,437 1453.5,439.5 1453.5,440.8 1453.5,450.5 1453.5,460.2 1453.5,469.8 1453.5,479.5 1453.5,488.2 1434.2,482.4 1419.9,479.5 1414.8,477.1 1395.5,471.2 1389.1,469.8 1376.1,465.1 1356.8,460.7 1354.4,460.2 1337.5,456.1 1318.1,452 1310.2,450.5 1298.8,447.7 1279.5,442.1 1275.8,440.8 1263.7,431.2 1261.5,421.5 1262.8,411.9 1266.1,402.2 1273.3,392.6 1279.5,388.6 1290.7,382.9 1298.8,380.7 1318.1,377.4 1337.5,375.4 1356.8,373.7 1361.8,373.2ZM80.5,392.6 80.5,385.9 99.8,389.9 116.8,392.6 119.2,393.1 138.5,396.5 157.9,399.6 169.8,402.2 177.2,405.4 185.3,411.9 184.3,421.5 177.2,430 175.3,431.2 162.6,440.8 163,450.5 177.1,460.2 177.2,460.2 189.9,469.8 196.5,474.7 200.9,479.5 207.5,489.1 209,498.8 196.5,506.8 177.2,508.3 157.9,507 138.5,504.7 119.2,501.7 102.3,498.8 99.8,498.1 80.5,493 80.5,489.1 80.5,479.5 80.5,469.8 80.5,460.2 80.5,450.5 80.5,440.8 80.5,440.2 99.8,437.6 118.5,431.2 119.2,430.9 138.5,423.4 143.4,421.5 144.6,411.9 138.5,410.4 119.2,404.9 112.2,402.2 99.8,399.8 80.5,395.1 80.5,392.6ZM119.2,460.1 118.7,460.2 99.8,462.1 84.3,469.8 84.5,479.5 99.8,488.3 101.1,489.1 119.2,494 138.5,498.7 139.3,498.8 157.9,500.6 177.2,500.5 185.4,498.8 193.4,489.1 186.2,479.5 177.2,472.5 170.8,469.8 157.9,464.5 138.5,461.1 119.6,460.2 119.2,460.1Z"/>
<path fill="#f10800" stroke="#f10800" d="M1377.3,382.9 1395.5,381.4 1414.8,382 1421.1,382.9 1434.2,385.4 1453.5,390.1 1453.5,392.6 1453.5,402.2 1453.5,410.4 1439.2,402.2 1434.2,401.1 1414.8,399.9 1407.8,402.2 1414.8,408.8 1420.9,411.9 1434.2,414 1453.5,413 1453.5,421.5 1453.5,431.2 1453.5,439.5 1434.2,437 1414.8,433.9 1399.8,431.2 1395.5,430.4 1376.1,426 1361.2,421.5 1356.8,419.4 1342.1,411.9 1337.5,404.6 1335.8,402.2 1337.5,400.5 1343.8,392.6 1356.8,388.6 1376.1,383.1 1377.3,382.9ZM80.5,402.2 80.5,395.1 99.8,399.8 112.2,402.2 119.2,404.9 138.5,410.4 144.6,411.9 143.4,421.5 138.5,423.4 119.2,430.9 118.5,431.2 99.8,437.6 80.5,440.2 80.5,431.2 80.5,421.5 80.5,411.9 80.5,402.2ZM118.7,460.2 119.2,460.1 119.6,460.2 138.5,461.1 157.9,464.5 170.8,469.8 177.2,472.5 186.2,479.5 193.4,489.1 185.4,498.8 177.2,500.5 157.9,500.6 139.3,498.8 138.5,498.7 119.2,494 101.1,489.1 99.8,488.3 84.5,479.5 84.3,469.8 99.8,462.1 118.7,460.2ZM138.5,478.7 135.9,479.5 138.5,482.2 151.8,489.1 157.9,489.7 160.6,489.1 158.2,479.5 157.9,479.3 138.5,478.7Z"/>
<path fill="#c40000" stroke="#c40000" d="M1407.8,402.2 1414.8,399.9 1434.2,401.1 1439.2,402.2 1453.5,410.4 1453.5,411.9 1453.5,413 1434.2,414 1420.9,411.9 1414.8,408.8 1407.8,402.2ZM135.9,479.5 138.5,478.7 157.9,479.3 158.2,479.5 160.6,489.1 157.9,489.7 151.8,489.1 138.5,482.2 135.9,479.5Z"/></g>
<path class="cl" d="M126.5,197.1 142.4,193.6 150.1,194.8 144.3,191.7 142.4,189 132.7,186.7 146.2,182 150.5,178.9 171,175.1 188.8,177 204.3,178.6 223.6,179.7 231.3,181.6 246.8,184 256.5,181.6 270,180.1 281.6,178.2 293.2,182 308.7,180.9 324.2,184.3 335.8,187.1 351.2,188.2 359,185.5 370.6,185.9 386,188.6 397.6,185.9 405.4,187.1 407.3,182 411.2,172.8 418.9,176.2 420.8,181.6 426.7,185.9 436.3,184.7 446,180.9 459.5,181.3 462.2,185.9 459.5,193.6 446,193.6 440.2,198.3 436.3,202.5 426.7,205.2 417,211 411.2,216.8 410.4,223.4 417.8,230.3 428.6,230.3 440.2,234.2 447.9,236.9 458.4,237.7 458.8,245.8 463.4,251.6 469.2,252.3 471.9,247.7 471.1,240 476.9,236.1 480,230.3 473.1,223.4 476.9,218.7 475,209.8 484.7,209.8 492.4,211 500.1,214.1 507.9,215.3 507.9,222.6 513.7,224.5 521.4,223.4 526,217.6 533,224.5 538.8,232.2 544.6,238 554.3,241.9 560.1,247.7 558.1,251.6 548.5,256.2 536.9,256.6 521.4,256.6 511.7,261.2 504,268.9 509.8,265.5 519.5,260.8 528,262 525.3,265.9 527.2,271.6 538.8,273.2 540.7,275.5 523.3,282.5 520.6,278.6 527.2,275.5 517.5,276.7 505.9,281.7 503.2,288.3 505.9,289 498.2,291.4 490.5,294.1 484.7,301.8 482.7,307.6 483.9,313.4 478.9,317.2 471.1,321.9 463.4,327.7 461.8,333.5 465.3,341.6 466.9,350.8 463.4,353.2 456.8,343.5 456.4,337.7 451.8,334.6 446,335.8 438.3,333.5 430.5,333.8 431.3,337.7 422.8,337.3 413.1,336.2 403.4,341.2 400,348.1 398.8,357.8 398.4,364.4 403.4,375.2 411.2,380.2 420.8,378.7 425.9,375.2 427,369.4 434.4,367.4 440.2,367.4 438.3,375.2 436.3,379.8 435.2,386.8 433.2,389.5 444.1,389.1 454.5,392.6 453,402.2 453.3,408.4 458.4,415 463.4,416.5 468.8,413.8 476.9,417.3 479.6,419.6 484.3,413.8 486.6,408.8 490.5,407.2 497.4,404.1 500.1,402.6 500.9,408 505.9,404.1 512.5,408.8 521.4,409.6 527.2,410.7 536.9,409.2 540.7,413.8 544.6,418.1 550.4,423.5 556.2,427.3 567.8,428.1 575.6,432 579.4,435 583.3,443.5 581.4,450.5 589.1,454.4 594.9,453.2 604.6,459.4 616.2,461.7 625.8,464.8 633.6,469.4 640.5,471 642.1,479.5 639.4,487.2 633.6,493 627.8,500.7 625.8,508.4 625.1,518.1 623.1,525.8 618.9,533.6 614.6,539 608.4,539.3 600.7,542.4 594.9,545.9 589.1,550.9 588.3,559.8 583.3,564.5 577.5,572.2 573.6,578 569.8,582.6 564,585.3 556.2,584.2 550.8,582.6 555.1,589.6 557.4,592.7 553.5,598.1 544.6,600.8 536.1,601.2 536.1,608.1 525.3,608.9 525.3,614.7 530.3,614.7 524.1,618.5 523.3,624.3 515.6,628.2 521.4,634 521.4,635.9 515.6,641.7 509.8,647.5 512.1,652.5 507.9,653.3 502.1,658.3 498.2,657.2 492.4,653.3 486.6,647.5 484.7,637.8 488.5,632.1 484.7,630.1 490.5,622.4 494.3,612.7 491.6,605 492.4,595.4 495.5,587.6 499.7,578 500.1,566.4 502.5,554.8 504.4,541.3 505.2,527.8 504.8,521.2 498.2,516.2 484.7,508.4 481.6,503.8 478.1,496.9 473.1,487.2 468,477.5 463.4,473.7 462.2,467.9 466.1,463.6 467.3,460.2 463.4,459 464.6,454.4 467.3,448.6 471.1,444.7 473.1,440.8 477.7,435 476.9,427.3 476.9,422.7 473.8,419.6 474.2,416.1 469.2,416.1 465.7,418.8 467.3,422.3 463.8,422.7 460.7,419.6 455.7,418.4 453,415.7 447.9,412.6 444.8,408.4 440.2,402.2 437.9,399.9 430.5,398.7 422.8,396.4 415,390.6 411.2,387.9 403.4,389.9 395.7,387.5 389.9,384.8 382.2,381 374.4,377.1 368.6,372.1 369,367.4 365.5,360.5 359,353.2 353.6,347.4 349.3,342.7 342.7,338.5 339.6,330.8 332.7,327.7 333.1,332.7 337.7,338.5 343.5,346.2 347.4,352 350.1,357 353.2,360.9 350.5,361.7 343.5,354.7 342.7,350.1 335.8,345.4 331.9,343.1 335,339.6 329.2,334.6 325.3,328.8 323.8,325 318.7,319.2 310.6,317.2 305.6,309.5 302.9,304.5 297.9,297.9 295.9,294.4 296.7,284.4 297.1,272 294.4,263.5 302.9,265.1 301,260.4 293.2,255.4 283.5,251.6 279.7,245.8 272.7,240 268.1,236.1 260.3,228.4 250.7,225.3 244.9,223.4 236,220.3 223.6,218.7 212,216 204.3,218.7 196.5,221.4 190,221.8 192.7,214.9 196.5,214.1 186.9,218.7 181.1,224.5 171.4,230.3 163.7,234.2 154,237.3 144.3,238.8 139.3,239.6 150.1,235 157.9,232.2 165.6,228.4 167.5,223.8 161.7,223.8 150.1,223.8 150.1,218.7 140.4,216.8 134.6,212.2 138.5,207.9 140.4,206.4 154,205.2 154,201.3 146.2,201.3 132.7,201.3 126.5,197.1M513.7,156.9 500.1,151.1 494.3,147.3 517.5,142.2 525.3,137.6 544.6,133.7 583.3,131.8 610.4,129.1 641.3,127.6 672.2,128.7 691.6,132.6 680,134.9 710.9,135.7 728.3,135.7 710.9,141.5 705.1,147.3 699.3,153.1 703.2,158.9 697.4,162.7 691.6,168.5 683.8,170.4 691.6,174.3 690.4,178.9 680,182 674.2,185.5 660.6,187.4 649,191.7 639.4,195.6 629.7,196.7 622,199.4 618.1,205.2 612.3,211 610.4,216.8 606.9,219.5 598.8,216 589.1,213.7 583.3,209.1 577.5,203.3 573.6,197.5 569,191.7 571.7,185.9 579.4,182 565.9,178.2 565.9,172.4 560.1,166.6 552.3,160 536.9,156.2 521.4,156.9 513.7,156.9M876.5,175.9 885,176.6 896.6,180.1 906.2,182.4 919.8,184.7 935.2,189.8 935.2,193.6 925.6,195.6 910.1,193.6 902.4,191.7 910.1,201.3 919.8,203.3 931.4,200.6 933.3,196.3 946.8,194.4 946.8,186.7 954.6,187.8 962.3,189 981.7,185.9 989.4,185.9 1001,184.7 1010.7,184 1012.6,180.1 1024.2,183.2 1035.8,184.7 1041.6,184 1035.8,178.2 1035.8,174.3 1043.5,168.5 1057.1,169.3 1057.1,176.2 1057.1,185.9 1062.9,191.7 1062.9,174.3 1066.7,170.4 1078.3,171.6 1088,170.4 1089.2,166.6 1109.3,165.4 1113.2,160.8 1132.5,157.7 1155.7,156.2 1178.9,150.4 1186.6,152.3 1206,154.2 1215.6,158.9 1202.1,164.6 1213.7,165.8 1233,166.6 1254.3,167.7 1267.9,170.4 1267.9,166.6 1275.6,172.4 1283.3,177 1291.1,174.3 1306.5,174.7 1318.1,170.8 1337.5,170.4 1356.8,174.3 1368.4,176.6 1383.9,176.2 1395.5,181.3 1407.1,181.3 1424.5,181.3 1436.1,180.1 1436.1,184 1447.7,180.9 1461.2,182 1472.8,184.3M80.5,184.3 92.1,187.1 103.7,191.7 115.3,192.5 120.3,195.2 111.4,199.4 107.6,202.1 97.9,200.2 88.2,197.5 82.4,198.3 80.5,199.4M1472.8,199.4 1467,201.3 1463.2,200.6 1470.1,207.1 1470.9,209.8 1457.4,211.8 1445.8,214.9 1436.1,218.7 1422.6,218.7 1412.9,219.1 1408.2,222.6 1403.2,226.5 1407.9,227.6 1406.3,233.4 1402.4,238 1395.5,245 1388.9,249.6 1383.1,253.5 1378.9,245.8 1378.9,236.1 1383.1,228.4 1389.7,225.7 1401.3,218.7 1409,212.9 1403.2,212.5 1395.5,214.9 1383.1,212.5 1374.2,219.5 1362.6,221.8 1351,221.8 1329.7,221.4 1316.2,228.4 1306.5,238 1308.5,241.9 1322,244.6 1323.2,249.6 1320.1,255.4 1319.3,263.2 1312.3,270.1 1302.7,278.6 1291.1,285.2 1282.6,287.1 1278.3,292.1 1271.7,296 1269.8,297.9 1273.7,301.8 1277.1,307.6 1277.1,313.4 1273.7,315.7 1265.9,317.6 1265.5,311.4 1266.7,306.8 1261.3,304.5 1260.1,300.6 1260.9,297.5 1257.4,296.4 1248.5,299.1 1245.8,300.6 1247.7,294.1 1242.7,295.2 1233,299.1 1235,302.9 1236.9,306.4 1243.9,304.5 1250.5,306.8 1244.6,309.5 1238.1,314.5 1241.9,319.9 1247.7,327.7 1248.1,331.5 1244.6,333.5 1248.5,335.4 1246.6,341.2 1242.7,346.2 1238.8,352 1233,356.2 1227.2,361.7 1218.3,364.4 1211.8,366.7 1204,368.6 1203.3,372.1 1200.9,367.4 1195.5,367.1 1189.3,370.5 1185.5,377.1 1188.6,382.9 1195.5,388.7 1199.4,398.4 1199,404.9 1192.4,409.9 1189.3,412.6 1183.5,416.9 1182,411.9 1177,409.6 1173.1,403.4 1167.3,401.4 1165.8,398.4 1163.4,402.2 1160.7,409.9 1162.7,414.6 1164.6,418.4 1167.3,423.8 1171.9,426.6 1176.2,432 1177,439.7 1179.7,445.1 1176.6,444.3 1168.5,439.3 1165,429.3 1162.3,424.2 1156.9,419.6 1157.6,411.9 1158.4,404.1 1155.7,396.4 1154.5,387.5 1149.9,386.8 1145.3,389.5 1141.4,387.9 1142.2,381 1138.3,374 1133.6,369.4 1131.7,364 1126.7,364.4 1120.9,366.3 1113.2,368.2 1112.4,371.3 1105.4,375.2 1099.6,381.7 1094.6,386.8 1088,389.5 1086.5,396.4 1087.2,400.3 1085.3,408 1083,414.6 1078.3,417.7 1076.4,419.2 1071.8,413.8 1068.7,406.1 1066,400.3 1063.6,392.6 1060.6,386.8 1058.2,377.1 1057.8,369.4 1057.1,364.7 1049.3,370.2 1043.5,364.7 1047.4,362.8 1041.6,359.7 1037,355.9 1033.9,352.4 1026.1,353.2 1014.5,353.5 1004.9,352.4 998.3,351.6 996.3,345.8 987.5,347.7 979.7,344.3 973.9,339.2 970.8,334.6 965.8,333.5 962.3,335.4 964.2,340.4 970,347.4 973.1,352 976.2,350.5 975.5,355.9 985.5,357.4 994,350.1 995.2,355.9 1002.9,359.3 1008,364 1002.9,371.3 999.8,377.1 993.3,381.4 985.5,384.8 978.6,388.7 966.2,394.5 956.5,398.7 950.7,401.1 944.9,401.4 943,394.5 941.8,387.1 935.2,377.9 928.3,368.2 925.6,359.7 920.5,353.9 914.7,345 912,342 912,336.5 909.3,342.7 905.1,340.4 902.8,335 906.2,342.3 910.1,350.1 914.7,358.2 919.8,365.5 920.9,369.4 921.3,377.9 926,381 929.4,390.6 936,394.5 941,400.3 944.1,402.2 944.1,406.1 948.8,409.9 958.4,407.2 966.2,406.8 974.7,404.9 973.9,410.3 970.8,417.7 966.2,427.3 961.5,435 954.6,442 946.8,446.6 939.1,454 935.2,458.2 932.1,462.1 929.4,467.9 926.7,474.4 929.4,477.5 929.4,485.3 933.3,491.1 933.3,500.7 934.1,508.4 927.5,516.2 919,520 912,527 914,535.5 914,543.2 904.3,549 903.5,558.7 898.5,564.5 893.5,571 885.7,578 877.2,581.5 865.6,582.2 854,584.9 847.8,583 847.1,576 843.6,568.3 840.5,561 835.5,552.9 832.7,541.3 828.9,531.6 823.1,520 822.3,512.3 825,502.6 830,493 826.9,484.5 824.2,474.1 822.3,467.9 815.3,460.2 811.5,453.2 813.4,446.6 814.2,440.8 813.8,435.4 809.5,433.1 803.7,433.5 797.9,431.2 794.1,426.2 782.5,426.9 774.7,429.6 768.9,432 764.3,430.8 757.3,430.8 747.7,433.5 741.9,431.2 734.9,425.8 728.3,421.5 725.6,417.7 723.7,413.8 718.7,408 712.1,402.6 711.7,398.4 709,393.7 712.9,388.7 713.6,381 714,376.3 710.9,369.4 714.8,359.7 719.4,352 724.5,345 726.8,342.7 733.4,339.2 738.8,334.6 739.2,328.8 743.8,321.9 750.4,318.8 753.9,312.2 756.2,311.8 765.1,314.1 772,314.5 777.4,311.8 782.5,309.5 788.3,308.3 796,308.3 805.7,307.6 814.6,306.4 819.2,307.6 817.3,310.7 818.4,316.1 815.7,318.4 819.2,321.9 825,323.4 835.8,325.7 837.8,329.6 846.3,332.7 852.1,333.1 854,330.8 854,326.1 859.8,323.4 866.4,325.7 873.4,328 881.1,329.6 888.8,331.1 894.6,329.2 900.4,329.2 901.6,330 908.9,329.6 911.6,323.8 914.4,319.2 915.1,313.4 916.7,309.1 912,309.1 906.2,311.1 900.4,310.3 895,308.3 890.8,310.7 885,308.7 882.3,305.6 879.2,302.2 880.3,297.9 878,296 883,294.4 888.8,294.1 889.2,291.4 898.5,291.4 906.2,288.3 912,288.3 918.6,291.4 925.6,292.5 931.4,292.1 937.2,290.2 937.2,285.6 931.4,282.5 925.6,279.4 921.7,275.9 923.6,270.9 928.3,268.2 921.7,268.9 914,270.9 912,274.7 917.8,275.5 912,277.4 907,279 903.1,274.7 906.2,272.4 900.4,270.9 895.8,270.9 891.5,275.5 887.7,280.5 885,284.4 884.2,287.5 885.7,290.2 888.4,292.1 883,292.1 878.4,294.1 877.2,292.9 871.4,292.5 867.6,294.8 864.9,294.1 864.9,297.9 866.4,300.2 869.5,303.7 866.4,304.9 865.6,309.5 862.9,309.1 860.6,307.6 859,304.5 858.7,302.2 856,298.7 852.1,294.8 851.7,290.2 848.2,286.3 840.5,282.5 834.7,278.6 830.8,276.7 829.7,274 824.2,275.5 824.2,279.4 828.9,282.1 831.6,286.7 838.6,288.6 846.3,293.7 848.2,295.6 842.4,294.4 840.9,297.5 842.8,299.8 840.5,302.6 837.4,303.7 838.6,300.6 837.4,296 832.7,293.3 825.8,290.6 822.3,287.9 817.3,284.4 816.1,280.9 811.1,279 805.7,281.3 799.9,284 794.1,282.9 789,284.4 789,288.6 785.2,290.6 779.8,292.9 775.9,297.9 777.4,300.6 774,304.9 768.9,308.3 759.7,308.7 755.8,311.1 752.3,308.7 749.6,306.8 742.2,307.6 742.6,301.8 740.3,300.6 742.2,295.2 743,289 741.1,284.4 745.7,281.7 754.6,282.1 762,282.5 769.7,282.9 771.6,278.6 772.4,273.6 768.2,268.6 760,265.5 758.5,263.5 765.1,262 770.5,262.8 770.5,258.9 777.1,259.7 782.5,257 783.2,253.9 790.2,251.9 792.9,248.9 795.2,245.8 801.8,243.8 807.6,243.1 810.3,241.9 809.9,236.9 808,232.2 809.9,229.9 817.3,227.6 816.5,232.2 818.4,233 814.6,236.9 815.3,240 819.2,241.9 825,240.4 830.8,241.9 840.5,240 848.2,239.2 853.2,240.4 857.9,237.3 857.9,231.1 863.7,227.6 869.5,230.3 870.7,225.3 867.6,221.8 877.2,220.7 885,220.3 893.5,219.1 886.9,216.8 877.2,217.2 865.6,219.1 859.8,216.4 859,211 859.8,206.4 871.4,200.2 874.5,197.5 869.5,196.3 861.8,197.5 859,201.3 850.2,206 844.4,209.8 843.2,214.9 848.2,217.6 848.2,221.4 842.4,223.8 840.5,228.4 838.6,233 832,235.7 826.6,236.1 825,232.2 822.3,227.6 819.2,222.6 817.3,220.7 813.4,223.4 807.6,226.1 801.8,226.1 797.9,222.6 796,214.9 796.4,211 801.8,207.9 809.5,205.2 817.3,202.5 823.1,197.5 826.9,193.6 832.7,188.6 838.6,185.1 848.2,180.9 857.9,179.3 867.6,177.4 876.5,175.9M966.2,270.9 973.9,268.9 981.7,269.7 981.7,275.5 975.1,275.9 973.9,278.6 971.2,279.4 975.9,283.6 979.7,286.3 979.7,290.2 984.7,292.1 981.7,296 983.6,298.7 984.7,306.4 977.8,308.7 971.2,306.4 966.2,305.3 965.8,301.8 967.3,297.9 971.2,294.8 968.1,292.1 964.2,288.3 960.4,284.4 960.4,278.6 957.3,277.8 960.4,274 966.2,270.9M754.6,257 763.1,256.2 772.8,254.7 782.1,252.7 779.8,251.2 783.2,247.3 777.8,245.8 777.1,243.5 772,239.6 770.5,236.1 768.5,234.2 764.3,234.2 767,232.2 768.9,228 763.1,227.6 760.4,228.4 764.7,224.1 757.3,224.1 754.2,228.4 755,232.2 755.4,236.5 758.1,235.7 757.7,238.8 763.1,238.4 764.3,241.9 765.1,244.2 759.3,244.6 760.4,247.7 756.6,250 763.9,251.9 765.1,252.7 759.3,253.1 754.6,257M752.7,244.6 753.5,240 752.7,237.3 747.7,236.9 743.8,240 738,241.1 738.4,244.2 740.3,247.3 736.8,250 739.9,251.6 745.7,250.4 751.9,248.9 752.7,244.6M689.6,203.3 683.8,199.8 691.6,197.9 683.1,197.1 689.6,194 695.4,197.5 705.1,195.2 714.8,193.6 720.6,195.6 724.1,199.4 718.7,202.1 707.1,205.2 698.2,204.8 689.6,203.3M1327.8,491.8 1332.8,505.7 1338.6,508.4 1341.3,520 1342.5,523.5 1351,528.5 1354.9,536.6 1359.9,541.3 1368.4,549 1370.3,559.4 1368.4,570.2 1361.8,581.5 1357.6,589.6 1356.8,595.4 1347.1,597.3 1342.5,601.5 1336.7,597.3 1331.7,600.4 1320.1,597.3 1316.2,589.6 1312.3,587.6 1310.4,579.9 1309.6,576 1306.5,581.8 1302.7,585.7 1300,583.8 1294.9,577.2 1285.3,572.2 1275.6,573 1264,575.3 1256.3,578 1254.3,581.5 1240.8,581.8 1233,585.7 1222.2,583 1224.2,574.1 1221.4,566.4 1218.3,556.7 1214.9,550.9 1216.4,541.3 1218.3,534.7 1225.3,530.8 1235,528.9 1244.6,525.8 1249.7,520 1252.4,514.2 1258.2,512.3 1262.1,506.5 1267.9,504.6 1272.5,508.4 1277.5,508.1 1282.2,498.8 1289.1,494.9 1289.1,497.2 1298.8,496.9 1305.8,496.9 1302.7,502.6 1300.7,508.4 1308.5,512.3 1316.2,518.1 1321.2,518.1 1323.9,508.4 1324.7,498.8 1327.8,491.8M1336.3,607.7 1343.3,609.3 1350.2,608.5 1349.8,612.7 1347.1,617.4 1341.3,618.5 1338.6,613.9 1336.3,607.7M1444.6,606.9 1450.8,610 1445.8,616.6 1438.8,622.4 1436.1,627.8 1430.3,630.5 1422.6,628.2 1421.4,626.3 1428.4,620.5 1436.1,615.8 1441.9,608.9 1444.6,606.9M1444.6,583.4 1451.6,589.6 1455.4,592.7 1459.3,596.1 1466.3,595.7 1463.2,601.9 1459.3,606.9 1454.3,610.8 1453.5,605 1448.9,602.3 1452.3,597.3 1451.6,593.4 1445.8,585.7 1444.6,583.4M967.3,496.9 971.2,510.4 968.1,518.1 964.2,529.7 960.4,543.2 958.4,547.1 951.5,549 946.8,545.1 944.1,537.4 948,527.8 946.8,518.1 950.7,512.3 958.4,509.6 962.3,502.6 967.3,496.9M1086.1,412.6 1090.7,417.7 1093,423.5 1089.9,426.9 1086.1,427.3 1084.9,419.6 1086.1,412.6M1323.2,290.6 1325.9,297.9 1322,303.7 1321.2,311.4 1318.1,314.5 1313.5,316.5 1306.5,316.8 1301.9,321.1 1298.8,317.2 1291.1,318 1283.3,319.2 1283.3,317.2 1289.1,313.8 1296.9,313 1302.7,312.6 1305.8,307.6 1307.7,308.3 1312.3,305.6 1316.2,301.8 1318.1,296 1319.3,292.1 1323.2,290.6M1319.3,290.2 1322.8,286.3 1330.5,288.3 1339.4,283.2 1338.2,279.4 1329.7,278.6 1325.1,274.7 1323.9,282.5 1319.3,283.6 1317.4,287.1 1319.3,290.2M1283.3,319.5 1287.2,322.3 1285.3,328.8 1282.2,330.8 1280.2,326.9 1278.3,322.3 1283.3,319.5M1289.1,319.5 1296.9,318.4 1295.7,321.9 1291.1,323.8 1288.4,321.9 1289.1,319.5M1328.6,240.7 1330.9,247.7 1330.5,257.4 1335.5,261.2 1329.7,268.9 1331.7,272 1325.9,272.8 1325.9,265.1 1326.6,257.4 1324.7,249.6 1326.6,243.8 1328.6,240.7M1246.6,353.2 1247.7,355.9 1243.9,365.5 1241.2,361.7 1244.6,353.9 1246.6,353.2M1204,372.9 1206,375.2 1202.1,379.4 1197.1,378.3 1197.1,375.2 1200.2,373.2 1204,372.9M1243.1,379 1249.3,379 1249.7,386.8 1247,390.6 1247.4,395.6 1256.3,400.3 1254.3,401.4 1250.5,397.2 1244.6,397.6 1243.1,394.5 1240.8,390.6 1241.9,387.9 1242.3,382.9 1243.1,379M1261.7,412.6 1265.9,419.6 1264.8,425.4 1261.7,428.9 1261.3,424.2 1256.3,426.2 1256.3,421.5 1249.3,423.5 1251.6,418.8 1256.3,417.7 1261.7,412.6M1257.4,402.2 1262.1,403 1262.4,408 1260.1,411.1 1257.8,406.8 1257.4,402.2M1248.5,404.9 1252.8,406.1 1253.9,411.9 1252,415.3 1250.1,411.9 1248.5,409.9 1248.5,404.9M1238.8,406.8 1236.9,411.1 1230.3,418.1 1235,411.9 1238.8,406.8M1242.7,398.4 1246.6,399.5 1245.4,403 1243.9,401.1 1242.7,398.4M1229.2,423.5 1236.9,430.4 1233,433.9 1232.3,438.9 1233,446.6 1231.1,454.4 1227.2,460.2 1225.3,466 1219.5,466 1213.7,462.9 1207.9,462.1 1202.9,457.5 1198.2,452.4 1198.2,444.7 1204,443.5 1207.1,440.8 1213.7,438.1 1219.5,432 1225.3,427.3 1229.2,423.5M1145.3,428.9 1153.8,430.4 1158.4,435.8 1165.4,442 1175,448.6 1178.9,454.4 1186.6,462.1 1185.9,472.9 1180.8,472.9 1172.3,466 1167.3,460.2 1164.6,453.6 1158.8,443.9 1152.6,438.1 1146,432 1145.3,428.9M1183.5,476.8 1188.6,473.7 1196.3,476 1205.2,475.2 1212.5,477.5 1219.5,480.2 1219.5,484.1 1206,482.6 1194.4,480.6 1188.6,479.1 1183.5,476.8M1240.8,447.4 1244.6,445.5 1252.4,447 1260.1,444.3 1258.2,448.6 1252.4,449 1243.9,449 1241.6,454 1246.6,454 1253.5,453.6 1247.4,457.8 1251.6,465.6 1250.5,471 1247.4,468.7 1244.6,461.3 1242.7,462.1 1242.3,471.7 1238.8,471.7 1238.8,464 1236.1,461.3 1240,450.9 1240.8,447.4M1283.3,453.6 1289.1,452 1294.9,453.6 1296.1,460.2 1300.7,463.2 1306.5,457.5 1312.3,457.5 1322,460.5 1331.7,464 1337.5,467.1 1340.6,471.7 1347.1,473.7 1346,476.8 1351,485.3 1358.7,490.3 1354.9,490.7 1346,487.2 1341.3,481.4 1335.5,480.2 1331.7,482.6 1329,486 1322,485.7 1314.3,481.4 1310.4,482.9 1309.6,478.3 1313.1,476.8 1310.4,471.7 1302.7,468.3 1293,465.2 1290.3,466 1287.2,461.3 1293.8,459.4 1288.4,459 1283.3,455.9 1283.3,453.6M1254.3,490.3 1260.1,485.3 1267.9,482.9 1265.9,485.3 1258.2,489.9 1254.3,490.3M1236.9,482.9 1244.6,482.9 1252.4,482.6 1250.5,484.5 1240.8,484.9 1236.9,482.9M1228.4,482.9 1235,482.6 1236.9,484.1 1229.2,485.3 1228.4,482.9M1270.6,442 1273.7,444.7 1274,449.3 1270.9,453.6 1270.2,446.6 1270.6,442M1271.7,461.7 1282.2,462.9 1279.5,464.4 1271.7,463.6 1271.7,461.7M1264,462.9 1268.6,463.2 1267.1,465.2 1264,464.4 1264,462.9M1350.6,471.7 1358.7,471.7 1365.3,466.7 1365.7,469.8 1360.7,473.7 1352.9,474.4 1350.6,471.7M1359.9,460.5 1366.5,464.4 1368.4,468.3 1365.3,463.2 1359.9,460.5M1375,471.4 1379.6,476 1377.7,477.2 1375,471.4M1383.9,479.1 1393.6,482.6 1389.7,481.4 1383.9,479.1M1394.7,486.4 1398.6,488.4 1395.5,488.7 1394.7,486.4M1398.6,483.3 1401.7,487.6M1401.3,489.9 1404.4,492.2M1421.4,508.4 1423.3,511.9 1421.8,510.8 1421.4,508.4M1424.5,513.1 1427.2,518.9M1411,528.5 1422.6,536.3 1420.6,536.6 1411.7,530.8 1411,528.5M1462.4,518.1 1467.4,519.3 1464.3,520.8 1462.4,518.1M448.3,365.9 455.7,361.7 463.4,361.3 471.1,364 478.9,367.4 484.7,370.5 489.7,372.5 486.6,373.6 476.9,373.6 478.1,370.9 473.1,369.4 465.3,365.5 459.5,364.4 453.7,364.7 448.3,365.9M488.9,379 494.3,373.6 500.1,373.6 505.9,374.8 512.1,378.7 507.9,379.4 502.1,380.2 499.4,381.7 494.3,380.2 488.9,379M473.8,379.8 481.6,380.6 478.9,381.7 473.8,379.8M516.8,379.4 522.6,379.8 521.4,381.2 516.8,381 516.8,379.4M475,347.4 478.1,348.1M475.8,355.9 476.2,358.6M538.8,409.2 540.7,411.1 537.7,411.5 538.8,409.2M562,251.6 560.9,257.4 569.8,259.3 572.8,267 567.8,269.7 560.1,268.9 547.3,266.2 552.3,259.3 557,253.5 562,251.6M529.1,257.7 536.9,259.7 529.1,260.1 529.1,257.7M528,268.9 536.9,271.3 531.1,272.4 528,268.9M280.5,254.7 291.3,256.2 299,263.2 293.2,262.4 287.4,259.3 280.5,254.7M262.3,241.5 267.3,241.9 270,248.9 264.2,245.8 262.3,241.5M179.1,228.4 186.9,226.5 187.6,229.2 181.1,231.1 179.1,228.4M173.3,374 177.2,374.8 174.9,377.1 173.3,374M170.6,369.8 173.3,370.5M164.8,367.4 166.7,367.8M159,365.1 160.6,365.5M252.6,228.4 256.5,233M258.4,226.8 262.3,233M112.2,204.4 123.8,206.4 117.2,205.6 112.2,204.4M131.9,217.6 135.8,219.1M467.3,165.8 478.9,169.3 490.5,173.5 502.1,176.2 511.7,180.1 517.5,184 534.9,191.7 538.8,195.6 529.1,199.4 525.3,207.1 519.5,207.1 511.7,209.8 500.1,205.2 488.5,201.3 475,200.6 478.9,197.5 490.5,197.5 496.3,189.8 478.9,185.9 471.1,180.1 459.5,180.9 447.9,180.1 436.3,178.2 430.5,174.3 430.5,168.5 447.9,165.4 463.4,167.4 467.3,165.8M324.2,168.5 343.5,169.7 359,167.7 370.6,168.5 372.5,176.2 384.1,180.9 378.3,184.7 359,185.1 337.7,185.9 326.1,182 324.2,178.9 339.6,178.2 320.3,174.3 316.4,171.2 324.2,168.5M293.2,163.9 308.7,162.7 322.2,166.6 308.7,169.3 301,174.3 289.4,172.4 293.2,168.5 293.2,163.9M420.8,136.4 447.9,131.8 486.6,129.5 525.3,130.7 536.9,133.7 517.5,137.6 498.2,143.4 482.7,145.3 475,153.1 455.7,155.4 432.5,155 440.2,149.2 436.3,143.4 420.8,136.4M405.4,155 428.6,156.9 459.5,157.7 467.3,161.9 440.2,162.7 420.8,161.9 405.4,155M440.2,197.5 451.8,196.3 463.4,203.3 455.7,206.4 444.1,205.2 440.2,197.5M328,155 351.2,155.8 366.7,157.7 366.7,160.8 343.5,162.7 324.2,160 328,155M374.4,155 397.6,155 397.6,160.8 382.2,158.9 374.4,155M382.2,166.6 401.5,165.4 401.5,172.4 393.8,174.3 382.2,170.4 382.2,166.6M407.3,164.6 426.7,164.6 428.6,169.3 413.1,172.4 407.3,168.5 407.3,164.6M405.4,139.5 424.7,140.3 440.2,143.4 424.7,147.3 409.2,143.4 405.4,139.5M389.9,184.3 405.4,182.8 397.6,180.9 389.9,184.3M370.6,144.2 389.9,145.3 378.3,148 370.6,144.2M301,155.8 320.3,156.2 308.7,157.3 301,155.8M465.3,207.9 469.2,211 467.3,211.8 465.3,207.9M469.2,232.2 471.1,234.2M819.2,143.4 838.6,141.5 857.9,139.5 881.1,140.7 861.8,145.3 850.2,147.3 857.9,151.1 842.4,154.2 830.8,151.1 821.1,146.1 819.2,143.4M975.9,176.2 983.6,177 999.1,176.2 993.3,168.5 1001,162.7 1020.3,157.7 1042.8,153.8 1031.9,153.1 1008.7,156.2 993.3,160 985.5,166.6 977.8,172.4 975.9,176.2M1148,145.3 1163.4,142.2 1182.8,145.3 1175,148.4 1159.6,149.2 1148,145.3M1144.1,138.8 1155.7,136.8 1151.8,140.3 1144.1,138.8M1306.5,158.9 1322,156.9 1337.5,158.9 1356.8,160 1349.1,161.6 1325.9,161.6 1310.4,161.6 1306.5,158.9M1318.1,165.4 1329.7,166.2 1323.9,167.4 1318.1,165.4M1468.2,174.3 1472.8,174.7M80.5,174.7 90.2,175.5 82.4,176.6 80.5,176.4M1472.8,176.4 1468.2,175.9 1468.2,174.3M958.4,139.5 973.9,138.4 993.3,139.2 1008.7,137.6 993.3,140.7 970,141.5 958.4,139.5M1002.9,179.3 1010.7,180.5 1004.9,181.3 1002.9,179.3M825,303.7 837,302.6 835.1,308.7 825,305.3 825,303.7M808.4,292.1 814.2,292.1 813.8,299.1 809.5,299.8 808.4,292.1M809.9,286.3 813,284.4 813.4,290.2 810.7,289.8 809.9,286.3M867.9,313.4 878.4,314.5 871.4,315.3 867.9,313.4M901.6,315.3 910.1,313 907.4,316.1 903.1,316.8 901.6,315.3M817.3,236.1 825,234.2 824.2,238 819.2,238.8 817.3,236.1M511.4,654.1 512.9,657.2 524.5,661.8 519.5,663.7 509.8,664.9 498.2,661 488.5,654.5 502.1,658.7 504,654.8 511.4,654.1M540.7,648.7 552.3,649.4 548.5,652.5 540.7,651.4 540.7,648.7M1042.8,639 1049.3,640.2 1045.5,642.5 1042.8,640.9 1042.8,639M489.7,612.7 492.4,614.7 491.6,618.1 489.3,616.6 489.7,612.7M80.5,776.5 101.8,775.4 123,778.1 150.1,779.6 182.2,779.6 204.3,778.8 222.4,777.3 196.5,775 183,768.4 196.5,765.7 208.9,760.3 195.4,757.6 168.7,760.3 163.3,749.5 187.2,746.8 213.9,739.8 241,737.9 283.5,735.2 316.4,733.6 347.8,735.6 370.6,737.9 388.4,739.1 382.2,730.6 401.5,729.8 401.5,733.6 428.6,732.1 455.7,733.6 482,733.6 503.2,730.9 508.6,728.2 519.5,712 535.3,701.2 554.3,696.2 535.3,706.6 527.2,714.7 538,725.5 540.7,733.6 527.2,741.8 508.6,744.1 482,746.8 476.5,752.2 487.4,757.6 508.6,760.3 524.9,763 551.6,770 572.8,765.7 594.5,764.6 615.8,760.3 637,757.6 666.8,760.3 639.8,753.7 669.1,746.8 696.2,741.8 717.5,733.6 739.2,727.1 770.1,725.5 802.2,720.1 818.1,722.8 839.7,720.1 866.4,721.7 903.9,716.3 925.2,718.6 952.3,710.9 984.4,703.9 1005.6,709.3 1037.7,712 1043.1,718.6 1037.7,724 1045.9,728.2 1059.4,720.1 1080.7,713.2 1112.8,707.8 1118.2,705.8 1123.6,709.3 1155.7,709.3 1171.9,702.4 1187.8,707.8 1214.5,703.9 1236.1,707.8 1262.8,705.8 1294.9,703.9 1300.3,702.4 1305.8,706.6 1337.9,707.8 1348.7,713.2 1370,716.3 1396.6,721.7 1436.9,727.1 1428.7,733.6 1407.5,739.1 1412.9,749.5 1421,752.2 1396.6,757.6 1393.9,763 1412.9,770 1439.6,773.8 1460.1,776.5 1472.8,776.5M567.8,760.3 589.1,749.5 610.4,754.9 607.7,761.5 583.7,763 567.8,760.3M492.4,727.1 503.2,716.3 508.6,720.1 505.9,728.2 492.4,727.1M144.3,753.7 159.8,753 159.8,755.7 146.2,755.7 144.3,753.7M302.9,156.2 316.4,151.9 328,151.1 324.2,155.8 312.6,157.7 302.9,156.2M339.6,148 351.2,146.5 353.2,149.6 341.6,150.7 339.6,148M370.6,145.3 389.9,145.3 393.8,149.2 378.3,150 370.6,145.3M399.6,146.1 409.2,147.3 403.4,150 399.6,146.1M403.4,158.5 415,158.9 415,161.9 405.4,161.2 403.4,158.5M463.4,165.8 480.8,167.4 480.8,169.3 465.3,168.9 463.4,165.8M476.9,187.1 484.7,188.6 480.8,190.5 476.9,187.1M455.7,207.1 461.5,207.9 457.6,209.8 455.7,207.1M459.5,245 465.3,246.5M428.6,135.7 447.9,141.5 455.7,145.3M459.5,139.5 482.7,142.2M447.9,137.6 482.7,138.8M525.3,197.5 513.7,193.6 527.2,193.6M523.3,207.9 511.7,204M691.6,178.9 672.2,178.2 680,174.3 691.6,174.3M378.3,159.6 388,158.5 388,160.8 378.3,159.6M389.9,153.8 401.5,154.2M469.2,153.4 475,156.2"/>
</g>
<rect class="fr" x="80.5" y="112.5" width="1373.0" height="676.0"/>
<rect x="78.2" y="831.5" width="55.7" height="69" fill="#000096"/>
<rect x="133.3" y="831.5" width="55.7" height="69" fill="#0000c4"/>
<rect x="188.4" y="831.5" width="55.7" height="69" fill="#0000f1"/>
<rect x="243.4" y="831.5" width="55.7" height="69" fill="#000cff"/>
<rect x="298.5" y="831.5" width="55.7" height="69" fill="#0038ff"/>
<rect x="353.6" y="831.5" width="55.7" height="69" fill="#0060ff"/>
<rect x="408.7" y="831.5" width="55.7" height="69" fill="#0088ff"/>
<rect x="463.8" y="831.5" width="55.7" height="69" fill="#00b0ff"/>
<rect x="518.8" y="831.5" width="55.7" height="69" fill="#00dcfe"/>
<rect x="573.9" y="831.5" width="55.7" height="69" fill="#19ffde"/>
<rect x="629" y="831.5" width="55.7" height="69" fill="#39ffbe"/>
<rect x="684.1" y="831.5" width="55.7" height="69" fill="#5aff9d"/>
<rect x="739.2" y="831.5" width="55.7" height="69" fill="#7dff7a"/>
<rect x="794.2" y="831.5" width="55.7" height="69" fill="#9dff5a"/>
<rect x="849.3" y="831.5" width="55.7" height="69" fill="#beff39"/>
<rect x="904.4" y="831.5" width="55.7" height="69" fill="#deff19"/>
<rect x="959.5" y="831.5" width="55.7" height="69" fill="#feed00"/>
<rect x="1014.6" y="831.5" width="55.7" height="69" fill="#ffc400"/>
<rect x="1069.6" y="831.5" width="55.7" height="69" fill="#ff9f00"/>
<rect x="1124.7" y="831.5" width="55.7" height="69" fill="#ff7a00"/>
<rect x="1179.8" y="831.5" width="55.7" height="69" fill="#ff5500"/>
<rect x="1234.9" y="831.5" width="55.7" height="69" fill="#ff2d00"/>
<rect x="1290" y="831.5" width="55.7" height="69" fill="#f10800"/>
<rect x="1345" y="831.5" width="55.7" height="69" fill="#c40000"/>
<rect x="1400.1" y="831.5" width="55.7" height="69" fill="#960000"/>
<rect class="fr" x="78.5" y="831.5" width="1377.0" height="69.0"/>
<line class="tk" x1="78.5" y1="900.5" x2="78.5" y2="915.4"/>
<text class="tl" transform="translate(78.5 961.1) scale(0.958 1)">0</text>
<line class="tk" x1="243.7" y1="900.5" x2="243.7" y2="915.4"/>
<text class="tl" transform="translate(243.7 961.1) scale(0.958 1)">15</text>
<line class="tk" x1="409" y1="900.5" x2="409" y2="915.4"/>
<text class="tl" transform="translate(409 961.1) scale(0.958 1)">30</text>
<line class="tk" x1="574.2" y1="900.5" x2="574.2" y2="915.4"/>
<text class="tl" transform="translate(574.2 961.1) scale(0.958 1)">45</text>
<line class="tk" x1="739.5" y1="900.5" x2="739.5" y2="915.4"/>
<text class="tl" transform="translate(739.5 961.1) scale(0.958 1)">60</text>
<line class="tk" x1="904.7" y1="900.5" x2="904.7" y2="915.4"/>
<text class="tl" transform="translate(904.7 961.1) scale(0.958 1)">75</text>
<line class="tk" x1="1069.9" y1="900.5" x2="1069.9" y2="915.4"/>
<text class="tl" transform="translate(1069.9 961.1) scale(0.958 1)">90</text>
<line class="tk" x1="1235.2" y1="900.5" x2="1235.2" y2="915.4"/>
<text class="tl" transform="translate(1235.2 961.1) scale(0.958 1)">105</text>
<line class="tk" x1="1400.4" y1="900.5" x2="1400.4" y2="915.4"/>
<text class="tl" transform="translate(1400.4 961.1) scale(0.958 1)">120</text>
<text class="tt" x="767" y="1072.5">Ionosphere &#160;(h=450.0 km), 2024-09-12 04:00 UT</text>
<g clip-path="url(#c1)">
<g class="bands"><path fill="#000096" stroke="#000096" d="M805.1,1435.5 815.3,1430.9 834.7,1426.2 854,1433.1 856.4,1435.5 863.1,1445.2 866.1,1454.8 865.9,1464.5 863.7,1474.1 860.1,1483.8 855.4,1493.4 854,1495.8 845.8,1503.1 834.7,1511.6 831.9,1512.8 815.3,1519.3 802.3,1522.4 796,1523.8 776.7,1526.4 757.3,1527.1 738,1523.5 736.2,1522.4 724.4,1512.8 718.7,1506.9 716.6,1503.1 713.1,1493.4 712.7,1483.8 716.2,1474.1 718.7,1470.6 725.4,1464.5 738,1454.9 738.1,1454.8 757.3,1448.7 774.1,1445.2 776.7,1444.6 796,1439.1 805.1,1435.5ZM849.1,1619 854,1617.7 873.4,1618.8 873.9,1619 892.7,1627.1 895.1,1628.6 902.6,1638.3 900.1,1648 892.7,1652.9 883.8,1657.6 873.4,1661.2 854,1667.2 853.8,1667.3 834.7,1672.4 820.2,1676.9 815.3,1681.1 810.2,1686.6 809.2,1696.2 812.1,1705.9 815.3,1710.2 819,1715.6 832.6,1725.2 834.7,1726.2 854,1732.9 862.4,1734.9 873.4,1737.6 892.7,1741.9 902.9,1744.5 912,1749.1 920.8,1754.2 916.8,1763.8 912,1766 892.7,1770.7 873.4,1772.3 854,1772.4 834.7,1771.7 815.3,1770.4 796,1769.1 776.7,1768 757.3,1767.6 738,1767.8 718.7,1768 699.3,1767.5 680,1766 667.5,1763.8 660.6,1762.6 641.4,1754.2 641.3,1754.1 637.9,1744.5 641.2,1734.9 641.3,1734.8 651.1,1725.2 660.6,1717.9 665.4,1715.6 680,1708.6 687.3,1705.9 699.3,1701.2 711.5,1696.2 718.7,1693.2 734.5,1686.6 738,1685.2 757.3,1679 765.8,1676.9 776.7,1673.7 792,1667.3 796,1663.9 800.9,1657.6 807.1,1648 814.3,1638.3 815.3,1637.3 826.1,1628.6 834.7,1623.3 849.1,1619ZM310.8,1686.6 312.6,1685.8 331.9,1681 351.2,1680.6 370.6,1685 374.1,1686.6 384.5,1696.2 385.2,1705.9 377.4,1715.6 370.6,1720 355.4,1725.2 351.2,1726.5 331.9,1729.6 312.6,1731.7 297.4,1734.9 293.2,1736.6 283.1,1744.5 273.9,1754.2 273.8,1754.2 254.5,1763.1 250.7,1763.8 235.2,1766 215.9,1766.5 196.5,1766.2 177.2,1765.8 157.9,1765.8 138.5,1766.2 119.2,1766.3 99.8,1764.8 96.5,1763.8 80.5,1756.9 80.5,1754.2 80.5,1744.5 80.5,1742 99.8,1736.7 117,1734.9 119.2,1734.8 138.5,1734.3 157.9,1734.1 177.2,1733.9 196.5,1733.1 215.9,1731.7 235.2,1729.8 254.5,1727.4 265,1725.2 273.9,1722.7 282.4,1715.6 289.2,1705.9 293.2,1701.6 297.1,1696.2 310.8,1686.6Z"/>
<path fill="#0000c4" stroke="#0000c4" d="M623.1,1145.8 641.3,1143.9 660.6,1143 680,1142.1 699.3,1140.9 718.7,1139.8 738,1139.3 757.3,1139.3 776.7,1139.6 796,1140.3 815.3,1141.3 834.7,1143.3 847.6,1145.8 854,1147.9 866.8,1155.4 872.4,1165.1 873.4,1172 873.7,1174.8 873.4,1178 872.8,1184.4 870.2,1194.1 865.9,1203.7 860.1,1213.4 854,1221.9 852.8,1223 840.5,1232.7 834.7,1236.9 820.4,1242.4 815.3,1244.2 796,1247.9 776.7,1250.6 767.9,1252 757.3,1253.6 738,1256.2 718.7,1257.8 699.3,1258.1 680,1257.9 660.6,1257.9 641.3,1258.5 622,1259.3 602.6,1259.5 583.3,1258.4 564,1255.6 549.1,1252 544.6,1246 542.4,1242.4 540.7,1232.7 538,1223 533.6,1213.4 528.5,1203.7 525.7,1194.1 531.2,1184.4 544.6,1177.8 548.7,1174.8 564,1167.9 568.8,1165.1 583.3,1158.6 590.5,1155.4 602.6,1150.9 622,1145.9 623.1,1145.8ZM425.7,1252 428.6,1250.2 447.9,1245.3 467.3,1244.8 486.6,1246.6 505.9,1250.1 515.3,1252 525.3,1261.3 525.5,1261.7 525.3,1261.9 520.5,1271.3 508.5,1281 505.9,1282.2 488.2,1290.6 486.6,1291.2 467.3,1296.6 447.9,1299.6 428.6,1298 416.6,1290.6 410.7,1281 410.8,1271.3 415.5,1261.7 425.7,1252ZM813.8,1377.6 815.3,1376.6 834.7,1370.9 854,1373 858,1377.6 865.5,1387.2 872.9,1396.9 873.4,1397.3 878.9,1406.5 886.2,1416.2 892.7,1423.8 894,1425.8 899.1,1435.5 902,1445.2 902.7,1454.8 902,1464.5 900.6,1474.1 899.2,1483.8 897.9,1493.4 896.7,1503.1 895.4,1512.8 894,1522.4 892.7,1531.6 892.6,1532.1 890.6,1541.7 888.9,1551.4 888.2,1561 889.5,1570.7 892.7,1576.4 894.4,1580.4 902.6,1590 912,1596.9 915.8,1599.7 931.4,1608.8 932.7,1609.3 950.7,1616.2 970,1616.3 989.4,1611.8 1008.7,1610.3 1028.1,1618.6 1028.4,1619 1028.1,1620.2 1023.5,1628.6 1008.7,1636 998.2,1638.3 989.4,1640.9 972.7,1648 970,1649.5 958.7,1657.6 950.7,1663.4 944.4,1667.3 931.4,1675.5 927.9,1676.9 912,1683.8 904,1686.6 892.7,1692.8 887.6,1696.2 888.1,1705.9 892.7,1708.5 909.4,1715.6 912,1716.2 931.4,1721.4 942.2,1725.2 950.7,1728 968.3,1734.9 970,1735.6 989.4,1744 990.7,1744.5 1008.7,1754 1009.2,1754.2 1022.1,1763.8 1028.1,1771.2 1030.4,1773.5 1028.1,1773.5 1008.7,1773.5 989.4,1773.5 970,1773.5 950.7,1773.5 931.4,1773.5 912,1773.5 892.7,1773.5 873.4,1773.5 854,1773.5 834.7,1773.5 815.3,1773.5 796,1773.5 776.7,1773.5 757.3,1773.5 738,1773.5 718.7,1773.5 699.3,1773.5 680,1773.5 660.6,1773.5 641.3,1773.5 622,1773.5 602.6,1773.5 583.3,1773.5 564,1773.5 544.6,1773.5 525.3,1773.5 505.9,1773.5 486.6,1773.5 467.3,1773.5 447.9,1773.5 428.6,1773.5 409.2,1773.5 389.9,1773.5 370.6,1773.5 351.2,1773.5 331.9,1773.5 312.6,1773.5 293.2,1773.5 273.9,1773.5 254.5,1773.5 235.2,1773.5 215.9,1773.5 196.5,1773.5 177.2,1773.5 157.9,1773.5 138.5,1773.5 119.2,1773.5 99.8,1773.5 80.5,1773.5 80.5,1763.8 80.5,1756.9 96.5,1763.8 99.8,1764.8 119.2,1766.3 138.5,1766.2 157.9,1765.8 177.2,1765.8 196.5,1766.2 215.9,1766.5 235.2,1766 250.7,1763.8 254.5,1763.1 273.8,1754.2 273.9,1754.2 283.1,1744.5 293.2,1736.6 297.4,1734.9 312.6,1731.7 331.9,1729.6 351.2,1726.5 355.4,1725.2 370.6,1720 377.4,1715.6 385.2,1705.9 384.5,1696.2 374.1,1686.6 370.6,1685 351.2,1680.6 331.9,1681 312.6,1685.8 310.8,1686.6 297.1,1696.2 293.2,1701.6 289.2,1705.9 282.4,1715.6 273.9,1722.7 265,1725.2 254.5,1727.4 235.2,1729.8 215.9,1731.7 196.5,1733.1 177.2,1733.9 157.9,1734.1 138.5,1734.3 119.2,1734.8 117,1734.9 99.8,1736.7 80.5,1742 80.5,1734.9 80.5,1725.2 80.5,1715.6 80.5,1715.1 93.3,1715.6 99.8,1715.8 119.2,1715.6 121.3,1715.6 138.5,1715.1 157.9,1714.4 177.2,1713.7 196.5,1712.6 215.9,1710.6 235.2,1707.2 239.8,1705.9 254.5,1701.3 264,1696.2 273.9,1691.2 280.8,1686.6 293.2,1680.5 302,1676.9 312.6,1673.5 331.9,1670.2 351.2,1669.6 370.6,1671.7 388.9,1676.9 389.9,1677.4 405.5,1686.6 409.2,1691.4 413.2,1696.2 415.4,1705.9 412.7,1715.6 409.2,1720.5 405.5,1725.2 394,1734.9 389.9,1738.3 378.5,1744.5 370.6,1753.3 369.4,1754.2 370.6,1754.9 389.9,1763.2 392.1,1763.8 409.2,1766.9 428.6,1769.3 447.9,1770.6 467.3,1771 486.6,1770.9 505.9,1770.4 525.3,1769.3 544.6,1767 556.9,1763.8 564,1761.6 576,1754.2 583.3,1746.6 584.8,1744.5 591.3,1734.9 597.8,1725.2 602.6,1718.4 604.8,1715.6 612.4,1705.9 620.1,1696.2 622,1693.8 628.8,1686.6 638.5,1676.9 641.3,1674.3 651.6,1667.3 660.6,1661.7 668.5,1657.6 680,1651.9 688.6,1648 699.3,1643.1 711.7,1638.3 718.7,1635.4 737.6,1628.6 738,1628.5 755.7,1619 757.3,1617.7 765.3,1609.3 769.9,1599.7 764.6,1590 757.3,1587 738,1582.6 725.9,1580.4 718.7,1579.4 699.3,1575.3 686.3,1570.7 680,1567.9 669.9,1561 664.1,1551.4 664,1541.7 666,1532.1 667.9,1522.4 668.5,1512.8 668.2,1503.1 668.3,1493.4 670.7,1483.8 676.6,1474.1 680,1470.6 685.6,1464.5 695.4,1454.8 699.3,1450.8 705.6,1445.2 716,1435.5 718.7,1433.1 731.5,1425.8 738,1422.4 753.8,1416.2 757.3,1414.6 773.4,1406.5 776.7,1404.3 786.8,1396.9 796,1388.8 798.5,1387.2 813.8,1377.6ZM815.3,1430.9 805.1,1435.5 796,1439.1 776.7,1444.6 774.1,1445.2 757.3,1448.7 738.1,1454.8 738,1454.9 725.4,1464.5 718.7,1470.6 716.2,1474.1 712.7,1483.8 713.1,1493.4 716.6,1503.1 718.7,1506.9 724.4,1512.8 736.2,1522.4 738,1523.5 757.3,1527.1 776.7,1526.4 796,1523.8 802.3,1522.4 815.3,1519.3 831.9,1512.8 834.7,1511.6 845.8,1503.1 854,1495.8 855.4,1493.4 860.1,1483.8 863.7,1474.1 865.9,1464.5 866.1,1454.8 863.1,1445.2 856.4,1435.5 854,1433.1 834.7,1426.2 815.3,1430.9ZM854,1617.7 849.1,1619 834.7,1623.3 826.1,1628.6 815.3,1637.3 814.3,1638.3 807.1,1648 800.9,1657.6 796,1663.9 792,1667.3 776.7,1673.7 765.8,1676.9 757.3,1679 738,1685.2 734.5,1686.6 718.7,1693.2 711.5,1696.2 699.3,1701.2 687.3,1705.9 680,1708.6 665.4,1715.6 660.6,1717.9 651.1,1725.2 641.3,1734.8 641.2,1734.9 637.9,1744.5 641.3,1754.1 641.4,1754.2 660.6,1762.6 667.5,1763.8 680,1766 699.3,1767.5 718.7,1768 738,1767.8 757.3,1767.6 776.7,1768 796,1769.1 815.3,1770.4 834.7,1771.7 854,1772.4 873.4,1772.3 892.7,1770.7 912,1766 916.8,1763.8 920.8,1754.2 912,1749.1 902.9,1744.5 892.7,1741.9 873.4,1737.6 862.4,1734.9 854,1732.9 834.7,1726.2 832.6,1725.2 819,1715.6 815.3,1710.2 812.1,1705.9 809.2,1696.2 810.2,1686.6 815.3,1681.1 820.2,1676.9 834.7,1672.4 853.8,1667.3 854,1667.2 873.4,1661.2 883.8,1657.6 892.7,1652.9 900.1,1648 902.6,1638.3 895.1,1628.6 892.7,1627.1 873.9,1619 873.4,1618.8 854,1617.7ZM289.8,1454.8 293.2,1452.2 295.9,1454.8 293.2,1455.8 289.8,1454.8ZM1370.3,1715.6 1376.1,1713.4 1395.5,1708.8 1414.8,1708.1 1434.2,1710.3 1453.5,1713.2 1453.5,1715.6 1453.5,1725.2 1453.5,1734.9 1453.5,1744.5 1453.5,1754.2 1453.5,1763.8 1453.5,1773.5 1434.2,1773.5 1414.8,1773.5 1400.9,1773.5 1407.9,1763.8 1407.1,1754.2 1398.5,1744.5 1395.5,1742.4 1383.3,1734.9 1376.1,1729.6 1370,1725.2 1370.3,1715.6Z"/>
<path fill="#0000f1" stroke="#0000f1" d="M850.6,1107.2 854,1106.9 873.4,1106.3 892.7,1106.2 912,1106.7 918.9,1107.2 931.4,1107.9 950.7,1109.8 970,1112.3 989.4,1114.9 1000.9,1116.8 1008.7,1118.7 1028.1,1126.4 1028.2,1126.5 1029.7,1136.1 1028.1,1137.8 1021,1145.8 1008.7,1154 1006.5,1155.4 989.4,1163.6 986.4,1165.1 970,1172.4 965.5,1174.8 950.7,1182.7 948.1,1184.4 934.3,1194.1 931.4,1196.4 923.1,1203.7 914,1213.4 912,1215.6 905.5,1223 898.1,1232.7 892.7,1241.4 892,1242.4 885.7,1252 881.1,1261.7 878.2,1271.3 876.9,1281 877.2,1290.6 879.1,1300.3 882.3,1310 886.8,1319.6 891.8,1329.3 892.7,1331.1 894.9,1338.9 896.8,1348.6 897.8,1358.2 898,1367.9 898.2,1377.6 899.2,1387.2 902,1396.9 906.8,1406.5 912,1414.4 913.1,1416.2 918.6,1425.8 922.7,1435.5 924.9,1445.2 925.3,1454.8 924.7,1464.5 923.7,1474.1 922.8,1483.8 922.1,1493.4 921.6,1503.1 921.3,1512.8 921.2,1522.4 921.3,1532.1 921.8,1541.7 923.2,1551.4 925.9,1561 930.9,1570.7 931.4,1571.4 940,1580.4 950.7,1587.4 957.8,1590 970,1593.2 989.4,1595.2 1008.7,1597.4 1017,1599.7 1028.1,1602.5 1040.2,1609.3 1047.4,1618.8 1047.5,1619 1047.4,1619.6 1045.3,1628.6 1035.9,1638.3 1028.1,1644.2 1020.4,1648 1008.7,1653.7 1000.3,1657.6 989.4,1663.1 982.3,1667.3 973.6,1676.9 972.9,1686.6 977.1,1696.2 984.7,1705.9 989.4,1709.3 1000.3,1715.6 1008.7,1718.9 1028.1,1724.2 1035.7,1725.2 1047.4,1727.1 1066.7,1728.5 1086.1,1726.8 1088.8,1725.2 1100.8,1715.6 1105.4,1713.5 1120.4,1705.9 1124.8,1704.9 1144.1,1701.7 1163.4,1700.1 1182.8,1699.6 1202.1,1699.7 1221.4,1700.2 1240.8,1700.8 1260.1,1701.5 1279.5,1701.7 1298.8,1701.3 1318.1,1700.2 1337.5,1698.4 1355.9,1696.2 1356.8,1696.2 1376.1,1694.8 1395.5,1694 1414.8,1694.3 1434.2,1696 1436.3,1696.2 1453.5,1698.9 1453.5,1705.9 1453.5,1713.2 1434.2,1710.3 1414.8,1708.1 1395.5,1708.8 1376.1,1713.4 1370.3,1715.6 1370,1725.2 1376.1,1729.6 1383.3,1734.9 1395.5,1742.4 1398.5,1744.5 1407.1,1754.2 1407.9,1763.8 1400.9,1773.5 1395.5,1773.5 1376.1,1773.5 1356.8,1773.5 1337.5,1773.5 1318.1,1773.5 1298.8,1773.5 1279.5,1773.5 1260.1,1773.5 1240.8,1773.5 1221.4,1773.5 1202.1,1773.5 1182.8,1773.5 1163.4,1773.5 1144.1,1773.5 1124.8,1773.5 1105.4,1773.5 1086.1,1773.5 1066.7,1773.5 1047.4,1773.5 1030.4,1773.5 1028.1,1771.2 1022.1,1763.8 1009.2,1754.2 1008.7,1754 990.7,1744.5 989.4,1744 970,1735.6 968.3,1734.9 950.7,1728 942.2,1725.2 931.4,1721.4 912,1716.2 909.4,1715.6 892.7,1708.5 888.1,1705.9 887.6,1696.2 892.7,1692.8 904,1686.6 912,1683.8 927.9,1676.9 931.4,1675.5 944.4,1667.3 950.7,1663.4 958.7,1657.6 970,1649.5 972.7,1648 989.4,1640.9 998.2,1638.3 1008.7,1636 1023.5,1628.6 1028.1,1620.2 1028.4,1619 1028.1,1618.6 1008.7,1610.3 989.4,1611.8 970,1616.3 950.7,1616.2 932.7,1609.3 931.4,1608.8 915.8,1599.7 912,1596.9 902.6,1590 894.4,1580.4 892.7,1576.4 889.5,1570.7 888.2,1561 888.9,1551.4 890.6,1541.7 892.6,1532.1 892.7,1531.6 894,1522.4 895.4,1512.8 896.7,1503.1 897.9,1493.4 899.2,1483.8 900.6,1474.1 902,1464.5 902.7,1454.8 902,1445.2 899.1,1435.5 894,1425.8 892.7,1423.8 886.2,1416.2 878.9,1406.5 873.4,1397.3 872.9,1396.9 865.5,1387.2 858,1377.6 854,1373 834.7,1370.9 815.3,1376.6 813.8,1377.6 798.5,1387.2 796,1388.8 786.8,1396.9 776.7,1404.3 773.4,1406.5 757.3,1414.6 753.8,1416.2 738,1422.4 731.5,1425.8 718.7,1433.1 716,1435.5 705.6,1445.2 699.3,1450.8 695.4,1454.8 685.6,1464.5 680,1470.6 676.6,1474.1 670.7,1483.8 668.3,1493.4 668.2,1503.1 668.5,1512.8 667.9,1522.4 666,1532.1 664,1541.7 664.1,1551.4 669.9,1561 680,1567.9 686.3,1570.7 699.3,1575.3 718.7,1579.4 725.9,1580.4 738,1582.6 757.3,1587 764.6,1590 769.9,1599.7 765.3,1609.3 757.3,1617.7 755.7,1619 738,1628.5 737.6,1628.6 718.7,1635.4 711.7,1638.3 699.3,1643.1 688.6,1648 680,1651.9 668.5,1657.6 660.6,1661.7 651.6,1667.3 641.3,1674.3 638.5,1676.9 628.8,1686.6 622,1693.8 620.1,1696.2 612.4,1705.9 604.8,1715.6 602.6,1718.4 597.8,1725.2 591.3,1734.9 584.8,1744.5 583.3,1746.6 576,1754.2 564,1761.6 556.9,1763.8 544.6,1767 525.3,1769.3 505.9,1770.4 486.6,1770.9 467.3,1771 447.9,1770.6 428.6,1769.3 409.2,1766.9 392.1,1763.8 389.9,1763.2 370.6,1754.9 369.4,1754.2 370.6,1753.3 378.5,1744.5 389.9,1738.3 394,1734.9 405.5,1725.2 409.2,1720.5 412.7,1715.6 415.4,1705.9 413.2,1696.2 409.2,1691.4 405.5,1686.6 389.9,1677.4 388.9,1676.9 370.6,1671.7 351.2,1669.6 331.9,1670.2 312.6,1673.5 302,1676.9 293.2,1680.5 280.8,1686.6 273.9,1691.2 264,1696.2 254.5,1701.3 239.8,1705.9 235.2,1707.2 215.9,1710.6 196.5,1712.6 177.2,1713.7 157.9,1714.4 138.5,1715.1 121.3,1715.6 119.2,1715.6 99.8,1715.8 93.3,1715.6 80.5,1715.1 80.5,1705.9 80.5,1701.2 99.8,1702.3 119.2,1702.2 138.5,1701.4 157.9,1700.3 177.2,1698.9 196.5,1697.1 202.5,1696.2 215.9,1694.3 235.2,1689.8 244.3,1686.6 254.5,1682.9 267.9,1676.9 273.9,1674.5 292.8,1667.3 293.2,1667.1 312.6,1661.8 331.9,1658.8 351,1657.6 351.2,1657.6 352.6,1657.6 370.6,1657.9 389.9,1659.9 409.2,1664.7 415.7,1667.3 428.6,1673.9 433.7,1676.9 444.8,1686.6 447.9,1691.5 451.9,1696.2 455.5,1705.9 455.3,1715.6 453.1,1725.2 452.6,1734.9 465.1,1744.5 467.3,1745 486.6,1746.7 505.9,1745.8 512.7,1744.5 525.3,1740.6 535.2,1734.9 544.6,1726.2 545.4,1725.2 551,1715.6 556.3,1705.9 561.8,1696.2 564,1692.3 566.5,1686.6 570.5,1676.9 574,1667.3 576.9,1657.6 579.6,1648 582.2,1638.3 583.3,1634 584.9,1628.6 587.4,1619 589.2,1609.3 589.7,1599.7 588.9,1590 587.5,1580.4 587.3,1570.7 590,1561 596.3,1551.4 602.6,1545 605.9,1541.7 616.4,1532.1 622,1525.9 624.8,1522.4 629.9,1512.8 632.5,1503.1 634.2,1493.4 637,1483.8 641.3,1476.7 643,1474.1 653.4,1464.5 660.6,1459.3 665.9,1454.8 676.8,1445.2 680,1441.6 685.2,1435.5 692,1425.8 699.3,1416.9 700.1,1416.2 712.6,1406.5 718.7,1402.7 728.7,1396.9 738,1389.8 741.1,1387.2 748.3,1377.6 751.7,1367.9 752.4,1358.2 750.9,1348.6 746.6,1338.9 738,1329.5 737.7,1329.3 721.9,1319.6 718.7,1318.3 699.3,1313 680,1310.3 676,1310 660.6,1308.2 641.3,1306.5 622,1305.2 602.6,1304.6 583.3,1304.9 564,1306.6 545.8,1310 544.6,1310.1 525.3,1315.1 513.7,1319.6 505.9,1323.1 495,1329.3 486.6,1335.7 482.3,1338.9 470,1348.6 467.3,1350.3 447.9,1357 428.6,1356.4 409.2,1351 402.5,1348.6 389.9,1343.1 380.3,1338.9 370.6,1333 365.2,1329.3 356.8,1319.6 351.2,1311.6 350.3,1310 344.7,1300.3 338.6,1290.6 332.5,1281 331.9,1279.5 329.4,1271.3 328,1261.7 327.7,1252 327.7,1242.4 327.1,1232.7 324.3,1223 318.1,1213.4 312.6,1207.4 307.3,1203.7 294.4,1194.1 293.2,1191.6 289.6,1184.4 293.2,1180.5 298.7,1174.8 312.6,1170.1 331.9,1165.4 333.4,1165.1 351.2,1163.2 370.6,1161.6 389.9,1160.2 409.2,1158.8 428.6,1157.3 447.9,1155.6 450.1,1155.4 467.3,1154.2 486.6,1152.8 505.9,1151 525.3,1148.2 535.3,1145.8 544.6,1143.6 564,1136.9 566,1136.1 583.3,1129.9 594.8,1126.5 602.6,1124.5 622,1121.6 641.3,1120 660.6,1118.7 680,1117 682.1,1116.8 699.3,1115.1 718.7,1113.3 738,1112.2 757.3,1111.5 776.7,1111 796,1110.2 815.3,1109.2 834.7,1108 850.6,1107.2ZM1124.8,1733.1 1109.3,1734.9 1105.4,1737.3 1102.5,1744.5 1105.4,1746.7 1114.1,1754.2 1124.8,1757.5 1144.1,1762.3 1151.6,1763.8 1163.4,1765.5 1182.8,1767.5 1202.1,1768.5 1221.4,1768.6 1240.8,1767.8 1260.1,1766.2 1279.5,1764 1280.3,1763.8 1298.8,1759.4 1313.4,1754.2 1308.9,1744.5 1298.8,1740.3 1279.5,1735 1278.7,1734.9 1260.1,1732.6 1240.8,1731.6 1221.4,1731 1202.1,1730.8 1182.8,1730.9 1163.4,1731.4 1144.1,1732.1 1124.8,1733.1ZM428.6,1250.2 425.7,1252 415.5,1261.7 410.8,1271.3 410.7,1281 416.6,1290.6 428.6,1298 447.9,1299.6 467.3,1296.6 486.6,1291.2 488.2,1290.6 505.9,1282.2 508.5,1281 520.5,1271.3 525.3,1261.9 525.5,1261.7 525.3,1261.3 515.3,1252 505.9,1250.1 486.6,1246.6 467.3,1244.8 447.9,1245.3 428.6,1250.2ZM641.3,1143.9 623.1,1145.8 622,1145.9 602.6,1150.9 590.5,1155.4 583.3,1158.6 568.8,1165.1 564,1167.9 548.7,1174.8 544.6,1177.8 531.2,1184.4 525.7,1194.1 528.5,1203.7 533.6,1213.4 538,1223 540.7,1232.7 542.4,1242.4 544.6,1246 549.1,1252 564,1255.6 583.3,1258.4 602.6,1259.5 622,1259.3 641.3,1258.5 660.6,1257.9 680,1257.9 699.3,1258.1 718.7,1257.8 738,1256.2 757.3,1253.6 767.9,1252 776.7,1250.6 796,1247.9 815.3,1244.2 820.4,1242.4 834.7,1236.9 840.5,1232.7 852.8,1223 854,1221.9 860.1,1213.4 865.9,1203.7 870.2,1194.1 872.8,1184.4 873.4,1178 873.7,1174.8 873.4,1172 872.4,1165.1 866.8,1155.4 854,1147.9 847.6,1145.8 834.7,1143.3 815.3,1141.3 796,1140.3 776.7,1139.6 757.3,1139.3 738,1139.3 718.7,1139.8 699.3,1140.9 680,1142.1 660.6,1143 641.3,1143.9ZM271.2,1445.2 273.9,1443.3 293.2,1440.5 312,1445.2 312.6,1445.8 319.1,1454.8 312.6,1458.3 293.2,1464.2 273.9,1458.8 269.3,1454.8 271.2,1445.2ZM293.2,1452.2 289.8,1454.8 293.2,1455.8 295.9,1454.8 293.2,1452.2Z"/>
<path fill="#000cff" stroke="#000cff" d="M592.3,1107.2 602.6,1105 622,1102.1 641.3,1099.5 654.3,1097.5 660.6,1097.5 680,1097.5 699.3,1097.5 718.7,1097.5 738,1097.5 757.3,1097.5 776.7,1097.5 796,1097.5 815.3,1097.5 834.7,1097.5 854,1097.5 873.4,1097.5 892.7,1097.5 912,1097.5 931.4,1097.5 950.7,1097.5 970,1097.5 989.4,1097.5 1008.7,1097.5 1028.1,1097.5 1047.4,1097.5 1066.7,1097.5 1086.1,1097.5 1105.4,1097.5 1124.8,1097.5 1144.1,1097.5 1163.4,1097.5 1182.8,1097.5 1202.1,1097.5 1221.4,1097.5 1224.3,1097.5 1232.4,1107.2 1221.4,1115.9 1220.5,1116.8 1202.1,1122.3 1190,1126.5 1182.8,1128.1 1163.4,1132.6 1148.8,1136.1 1144.1,1137.1 1124.8,1141.1 1106.5,1145.8 1105.4,1146 1086.1,1151.6 1076.4,1155.4 1066.7,1159 1052.8,1165.1 1047.4,1167.2 1028.8,1174.8 1028.1,1175 1008.7,1182.2 1003.3,1184.4 989.4,1190.1 981.3,1194.1 970,1200 964,1203.7 950.7,1212.9 950.1,1213.4 938.1,1223 931.4,1229.4 928,1232.7 919.6,1242.4 913.3,1252 912,1254.6 908.3,1261.7 905.1,1271.3 903.8,1281 904.3,1290.6 906.4,1300.3 909.6,1310 912,1316.2 913.1,1319.6 916,1329.3 918.2,1338.9 919.6,1348.6 920.3,1358.2 920.6,1367.9 920.9,1377.6 922.2,1387.2 925,1396.9 929.6,1406.5 931.4,1409.7 934.8,1416.2 939.2,1425.8 942.1,1435.5 943.6,1445.2 944,1454.8 943.7,1464.5 943.1,1474.1 942.6,1483.8 942.3,1493.4 942.4,1503.1 942.8,1512.8 943.7,1522.4 945.3,1532.1 948,1541.7 950.7,1548 952.4,1551.4 960.2,1561 970,1568.5 973.6,1570.7 989.4,1577.4 996.8,1580.4 1008.7,1583.9 1025.9,1590 1028.1,1590.6 1047.4,1599.4 1047.9,1599.7 1059.4,1609.3 1063.6,1619 1062.4,1628.6 1057.3,1638.3 1049.5,1648 1047.4,1650 1036.5,1657.6 1028.1,1661.2 1013.1,1667.3 1008.7,1670.7 1002.6,1676.9 1008.7,1684.2 1013.1,1686.6 1028.1,1691.2 1047.4,1692.1 1066.7,1690.3 1086.1,1687 1088.6,1686.6 1105.4,1684.4 1124.8,1682.9 1144.1,1682.2 1163.4,1682 1182.8,1682.3 1202.1,1682.9 1221.4,1683.7 1240.8,1684.5 1260.1,1685.3 1279.5,1685.9 1298.8,1686.2 1318.1,1686.2 1337.5,1685.9 1356.8,1685.3 1376.1,1684.7 1395.5,1684.4 1414.8,1684.8 1434.2,1686 1440.8,1686.6 1453.5,1687.9 1453.5,1696.2 1453.5,1698.9 1436.3,1696.2 1434.2,1696 1414.8,1694.3 1395.5,1694 1376.1,1694.8 1356.8,1696.2 1355.9,1696.2 1337.5,1698.4 1318.1,1700.2 1298.8,1701.3 1279.5,1701.7 1260.1,1701.5 1240.8,1700.8 1221.4,1700.2 1202.1,1699.7 1182.8,1699.6 1163.4,1700.1 1144.1,1701.7 1124.8,1704.9 1120.4,1705.9 1105.4,1713.5 1100.8,1715.6 1088.8,1725.2 1086.1,1726.8 1066.7,1728.5 1047.4,1727.1 1035.7,1725.2 1028.1,1724.2 1008.7,1718.9 1000.3,1715.6 989.4,1709.3 984.7,1705.9 977.1,1696.2 972.9,1686.6 973.6,1676.9 982.3,1667.3 989.4,1663.1 1000.3,1657.6 1008.7,1653.7 1020.4,1648 1028.1,1644.2 1035.9,1638.3 1045.3,1628.6 1047.4,1619.6 1047.5,1619 1047.4,1618.8 1040.2,1609.3 1028.1,1602.5 1017,1599.7 1008.7,1597.4 989.4,1595.2 970,1593.2 957.8,1590 950.7,1587.4 940,1580.4 931.4,1571.4 930.9,1570.7 925.9,1561 923.2,1551.4 921.8,1541.7 921.3,1532.1 921.2,1522.4 921.3,1512.8 921.6,1503.1 922.1,1493.4 922.8,1483.8 923.7,1474.1 924.7,1464.5 925.3,1454.8 924.9,1445.2 922.7,1435.5 918.6,1425.8 913.1,1416.2 912,1414.4 906.8,1406.5 902,1396.9 899.2,1387.2 898.2,1377.6 898,1367.9 897.8,1358.2 896.8,1348.6 894.9,1338.9 892.7,1331.1 891.8,1329.3 886.8,1319.6 882.3,1310 879.1,1300.3 877.2,1290.6 876.9,1281 878.2,1271.3 881.1,1261.7 885.7,1252 892,1242.4 892.7,1241.4 898.1,1232.7 905.5,1223 912,1215.6 914,1213.4 923.1,1203.7 931.4,1196.4 934.3,1194.1 948.1,1184.4 950.7,1182.7 965.5,1174.8 970,1172.4 986.4,1165.1 989.4,1163.6 1006.5,1155.4 1008.7,1154 1021,1145.8 1028.1,1137.8 1029.7,1136.1 1028.2,1126.5 1028.1,1126.4 1008.7,1118.7 1000.9,1116.8 989.4,1114.9 970,1112.3 950.7,1109.8 931.4,1107.9 918.9,1107.2 912,1106.7 892.7,1106.2 873.4,1106.3 854,1106.9 850.6,1107.2 834.7,1108 815.3,1109.2 796,1110.2 776.7,1111 757.3,1111.5 738,1112.2 718.7,1113.3 699.3,1115.1 682.1,1116.8 680,1117 660.6,1118.7 641.3,1120 622,1121.6 602.6,1124.5 594.8,1126.5 583.3,1129.9 566,1136.1 564,1136.9 544.6,1143.6 535.3,1145.8 525.3,1148.2 505.9,1151 486.6,1152.8 467.3,1154.2 450.1,1155.4 447.9,1155.6 428.6,1157.3 409.2,1158.8 389.9,1160.2 370.6,1161.6 351.2,1163.2 333.4,1165.1 331.9,1165.4 312.6,1170.1 298.7,1174.8 293.2,1180.5 289.6,1184.4 293.2,1191.6 294.4,1194.1 307.3,1203.7 312.6,1207.4 318.1,1213.4 324.3,1223 327.1,1232.7 327.7,1242.4 327.7,1252 328,1261.7 329.4,1271.3 331.9,1279.5 332.5,1281 338.6,1290.6 344.7,1300.3 350.3,1310 351.2,1311.6 356.8,1319.6 365.2,1329.3 370.6,1333 380.3,1338.9 389.9,1343.1 402.5,1348.6 409.2,1351 428.6,1356.4 447.9,1357 467.3,1350.3 470,1348.6 482.3,1338.9 486.6,1335.7 495,1329.3 505.9,1323.1 513.7,1319.6 525.3,1315.1 544.6,1310.1 545.8,1310 564,1306.6 583.3,1304.9 602.6,1304.6 622,1305.2 641.3,1306.5 660.6,1308.2 676,1310 680,1310.3 699.3,1313 718.7,1318.3 721.9,1319.6 737.7,1329.3 738,1329.5 746.6,1338.9 750.9,1348.6 752.4,1358.2 751.7,1367.9 748.3,1377.6 741.1,1387.2 738,1389.8 728.7,1396.9 718.7,1402.7 712.6,1406.5 700.1,1416.2 699.3,1416.9 692,1425.8 685.2,1435.5 680,1441.6 676.8,1445.2 665.9,1454.8 660.6,1459.3 653.4,1464.5 643,1474.1 641.3,1476.7 637,1483.8 634.2,1493.4 632.5,1503.1 629.9,1512.8 624.8,1522.4 622,1525.9 616.4,1532.1 605.9,1541.7 602.6,1545 596.3,1551.4 590,1561 587.3,1570.7 587.5,1580.4 588.9,1590 589.7,1599.7 589.2,1609.3 587.4,1619 584.9,1628.6 583.3,1634 582.2,1638.3 579.6,1648 576.9,1657.6 574,1667.3 570.5,1676.9 566.5,1686.6 564,1692.3 561.8,1696.2 556.3,1705.9 551,1715.6 545.4,1725.2 544.6,1726.2 535.2,1734.9 525.3,1740.6 512.7,1744.5 505.9,1745.8 486.6,1746.7 467.3,1745 465.1,1744.5 452.6,1734.9 453.1,1725.2 455.3,1715.6 455.5,1705.9 451.9,1696.2 447.9,1691.5 444.8,1686.6 433.7,1676.9 428.6,1673.9 415.7,1667.3 409.2,1664.7 389.9,1659.9 370.6,1657.9 352.6,1657.6 351.2,1657.6 351,1657.6 331.9,1658.8 312.6,1661.8 293.2,1667.1 292.8,1667.3 273.9,1674.5 267.9,1676.9 254.5,1682.9 244.3,1686.6 235.2,1689.8 215.9,1694.3 202.5,1696.2 196.5,1697.1 177.2,1698.9 157.9,1700.3 138.5,1701.4 119.2,1702.2 99.8,1702.3 80.5,1701.2 80.5,1696.2 80.5,1689.7 99.8,1690.5 119.2,1690.1 138.5,1689 157.9,1687.5 166.9,1686.6 177.2,1685.5 196.5,1682.9 215.9,1679.1 224,1676.9 235.2,1673.8 253.4,1667.3 254.5,1666.9 273.9,1659.5 279.4,1657.6 293.2,1652.6 309.7,1648 312.6,1646.9 331.9,1640.9 341.8,1638.3 351.2,1631.8 355.5,1628.6 356.2,1619 352.1,1609.3 351.2,1607.7 348.1,1599.7 345.5,1590 348.7,1580.4 351.2,1579.1 370.6,1573.6 389.9,1571.8 409.2,1571.9 428.6,1572.9 447.9,1574.2 467.3,1575.4 486.6,1576 505.9,1574.5 517.1,1570.7 525.3,1567.7 534.6,1561 544.6,1553.5 546.9,1551.4 558.8,1541.7 564,1537.9 571.7,1532.1 583.3,1523.1 584.1,1522.4 593.9,1512.8 599.9,1503.1 602.6,1496 603.6,1493.4 606.8,1483.8 611.1,1474.1 617.7,1464.5 622,1459.8 628,1454.8 641.3,1445.2 641.4,1445.2 649.9,1435.5 653.5,1425.8 652.9,1416.2 654.7,1406.5 660.6,1402.8 668.6,1396.9 680,1392.2 689.1,1387.2 699.3,1380.8 703.3,1377.6 709.8,1367.9 710.5,1358.2 706.1,1348.6 699.3,1342.5 694.2,1338.9 680,1333 664.2,1329.3 660.6,1328.6 641.3,1326.3 622,1325.2 602.6,1325 583.3,1325.6 564,1327.5 555.3,1329.3 544.6,1331.7 526.6,1338.9 525.3,1339.6 512,1348.6 505.9,1353.3 499.4,1358.2 486.6,1366 482.2,1367.9 467.3,1372.4 447.9,1374.1 428.6,1371.7 415.9,1367.9 409.2,1365.9 389.9,1358.8 388.2,1358.2 370.6,1351.6 360.9,1348.6 351.2,1344.4 338.3,1338.9 331.9,1334.1 325.8,1329.3 318.8,1319.6 313.1,1310 312.6,1309 308.1,1300.3 304,1290.6 300.6,1281 297.4,1271.3 293.8,1261.7 293.2,1260.4 289.4,1252 282.2,1242.4 273.9,1235.6 269,1232.7 254.5,1225.8 247.5,1223 235.2,1217.8 224.1,1213.4 215.9,1209.2 203.3,1203.7 196.5,1199.7 184.3,1194.1 177.2,1189.3 170.6,1184.4 163.7,1174.8 164.1,1165.1 176.2,1155.4 177.2,1155 196.5,1150.7 215.9,1146.8 220.7,1145.8 235.2,1143.4 254.5,1141.3 273.9,1140.2 293.2,1139.9 312.6,1139.7 331.9,1139.4 351.2,1139.1 370.6,1138.7 389.9,1138.3 409.2,1137.9 428.6,1137.2 447.9,1136.3 450.1,1136.1 467.3,1134.9 486.6,1133 505.9,1130.4 525.3,1126.5 525.4,1126.5 544.6,1120.5 555.5,1116.8 564,1114 583.3,1108.8 592.3,1107.2ZM273.4,1435.5 273.9,1435.3 293.2,1434.1 303.7,1435.5 312.6,1437.3 331.9,1443.7 335.8,1445.2 344.1,1454.8 331.9,1462.5 328.3,1464.5 312.6,1467.3 293.2,1469.1 273.9,1466 270.6,1464.5 259.9,1454.8 259.8,1445.2 273.4,1435.5ZM273.9,1443.3 271.2,1445.2 269.3,1454.8 273.9,1458.8 293.2,1464.2 312.6,1458.3 319.1,1454.8 312.6,1445.8 312,1445.2 293.2,1440.5 273.9,1443.3ZM1109.3,1734.9 1124.8,1733.1 1144.1,1732.1 1163.4,1731.4 1182.8,1730.9 1202.1,1730.8 1221.4,1731 1240.8,1731.6 1260.1,1732.6 1278.7,1734.9 1279.5,1735 1298.8,1740.3 1308.9,1744.5 1313.4,1754.2 1298.8,1759.4 1280.3,1763.8 1279.5,1764 1260.1,1766.2 1240.8,1767.8 1221.4,1768.6 1202.1,1768.5 1182.8,1767.5 1163.4,1765.5 1151.6,1763.8 1144.1,1762.3 1124.8,1757.5 1114.1,1754.2 1105.4,1746.7 1102.5,1744.5 1105.4,1737.3 1109.3,1734.9Z"/>
<path fill="#0038ff" stroke="#0038ff" d="M80.5,1097.5 99.8,1097.5 119.2,1097.5 138.5,1097.5 157.9,1097.5 177.2,1097.5 196.5,1097.5 215.9,1097.5 235.2,1097.5 254.5,1097.5 267.9,1097.5 273.9,1100.1 292.1,1107.2 293.2,1107.4 312.6,1110.2 331.9,1111.5 351.2,1111.6 370.6,1111.5 389.9,1111.7 409.2,1112 428.6,1111.6 447.9,1110 466.1,1107.2 467.3,1106.7 483.4,1097.5 486.6,1097.5 505.9,1097.5 525.3,1097.5 544.6,1097.5 564,1097.5 583.3,1097.5 602.6,1097.5 622,1097.5 641.3,1097.5 654.3,1097.5 641.3,1099.5 622,1102.1 602.6,1105 592.3,1107.2 583.3,1108.8 564,1114 555.5,1116.8 544.6,1120.5 525.4,1126.5 525.3,1126.5 505.9,1130.4 486.6,1133 467.3,1134.9 450.1,1136.1 447.9,1136.3 428.6,1137.2 409.2,1137.9 389.9,1138.3 370.6,1138.7 351.2,1139.1 331.9,1139.4 312.6,1139.7 293.2,1139.9 273.9,1140.2 254.5,1141.3 235.2,1143.4 220.7,1145.8 215.9,1146.8 196.5,1150.7 177.2,1155 176.2,1155.4 164.1,1165.1 163.7,1174.8 170.6,1184.4 177.2,1189.3 184.3,1194.1 196.5,1199.7 203.3,1203.7 215.9,1209.2 224.1,1213.4 235.2,1217.8 247.5,1223 254.5,1225.8 269,1232.7 273.9,1235.6 282.2,1242.4 289.4,1252 293.2,1260.4 293.8,1261.7 297.4,1271.3 300.6,1281 304,1290.6 308.1,1300.3 312.6,1309 313.1,1310 318.8,1319.6 325.8,1329.3 331.9,1334.1 338.3,1338.9 351.2,1344.4 360.9,1348.6 370.6,1351.6 388.2,1358.2 389.9,1358.8 409.2,1365.9 415.9,1367.9 428.6,1371.7 447.9,1374.1 467.3,1372.4 482.2,1367.9 486.6,1366 499.4,1358.2 505.9,1353.3 512,1348.6 525.3,1339.6 526.6,1338.9 544.6,1331.7 555.3,1329.3 564,1327.5 583.3,1325.6 602.6,1325 622,1325.2 641.3,1326.3 660.6,1328.6 664.2,1329.3 680,1333 694.2,1338.9 699.3,1342.5 706.1,1348.6 710.5,1358.2 709.8,1367.9 703.3,1377.6 699.3,1380.8 689.1,1387.2 680,1392.2 668.6,1396.9 660.6,1402.8 654.7,1406.5 652.9,1416.2 653.5,1425.8 649.9,1435.5 641.4,1445.2 641.3,1445.2 628,1454.8 622,1459.8 617.7,1464.5 611.1,1474.1 606.8,1483.8 603.6,1493.4 602.6,1496 599.9,1503.1 593.9,1512.8 584.1,1522.4 583.3,1523.1 571.7,1532.1 564,1537.9 558.8,1541.7 546.9,1551.4 544.6,1553.5 534.6,1561 525.3,1567.7 517.1,1570.7 505.9,1574.5 486.6,1576 467.3,1575.4 447.9,1574.2 428.6,1572.9 409.2,1571.9 389.9,1571.8 370.6,1573.6 351.2,1579.1 348.7,1580.4 345.5,1590 348.1,1599.7 351.2,1607.7 352.1,1609.3 356.2,1619 355.5,1628.6 351.2,1631.8 341.8,1638.3 331.9,1640.9 312.6,1646.9 309.7,1648 293.2,1652.6 279.4,1657.6 273.9,1659.5 254.5,1666.9 253.4,1667.3 235.2,1673.8 224,1676.9 215.9,1679.1 196.5,1682.9 177.2,1685.5 166.9,1686.6 157.9,1687.5 138.5,1689 119.2,1690.1 99.8,1690.5 80.5,1689.7 80.5,1686.6 80.5,1679.1 99.8,1679.3 119.2,1678.6 138.5,1677.2 140.9,1676.9 157.9,1675.2 177.2,1672.7 196.5,1669.2 204.7,1667.3 215.9,1664.5 235.2,1658.4 237.2,1657.6 254.5,1651 262.4,1648 273.9,1642.9 284.6,1638.3 293.2,1633.2 300.9,1628.6 309.2,1619 311.5,1609.3 309.9,1599.7 305.5,1590 299.4,1580.4 298.7,1570.7 312.6,1567.1 331.9,1563.9 351.2,1561.9 367,1561 370.6,1560.9 389.9,1560.7 409.2,1560.8 428.6,1560.8 447.9,1560.3 467.3,1558.9 486.6,1555.5 499.2,1551.4 505.9,1548.7 519.1,1541.7 525.3,1537.6 533.4,1532.1 544.6,1523.5 546.1,1522.4 558.3,1512.8 564,1507.4 568.1,1503.1 574.9,1493.4 579.6,1483.8 583.3,1474.8 583.5,1474.1 587.1,1464.5 590.7,1454.8 593,1445.2 591.5,1435.5 583.5,1425.8 583.3,1425.7 571.3,1416.2 564,1409.7 559.1,1406.5 552.6,1396.9 564,1387.8 565.4,1387.2 583.3,1384.5 602.6,1382.7 622,1381.1 641.3,1378.8 646.4,1377.6 660.6,1373.1 669.5,1367.9 673.5,1358.2 664.3,1348.6 660.6,1347 641.3,1342.7 622,1341.3 602.6,1341.7 583.3,1343.6 564,1347.4 560.4,1348.6 544.6,1357.4 543.5,1358.2 536.2,1367.9 529.3,1377.6 525.3,1380.3 505.9,1386.1 498.5,1387.2 486.6,1388.5 467.3,1389.3 447.9,1388 444.8,1387.2 428.6,1383.9 410.7,1377.6 409.2,1377.1 389.9,1369.2 386.7,1367.9 370.6,1362 357.4,1358.2 351.2,1356.2 331.9,1350.8 323.5,1348.6 312.6,1343.9 301.3,1338.9 293.2,1332.3 289.6,1329.3 283.9,1319.6 281.3,1310 280.2,1300.3 279.2,1290.6 277.4,1281 274.2,1271.3 273.9,1270.7 268.7,1261.7 259.4,1252 254.5,1248.5 243.2,1242.4 235.2,1238.8 218.5,1232.7 215.9,1231.7 196.5,1225.4 188.2,1223 177.2,1219.5 157.9,1213.5 157.6,1213.4 138.8,1203.7 138.5,1203.5 129.1,1194.1 121.9,1184.4 119.2,1179.9 116.4,1174.8 111.1,1165.1 103.3,1155.4 99.8,1152.4 90.2,1145.8 80.5,1141.1 80.5,1136.1 80.5,1126.5 80.5,1116.8 80.5,1107.2 80.5,1097.5ZM1224.3,1097.5 1240.8,1097.5 1260.1,1097.5 1279.5,1097.5 1298.8,1097.5 1318.1,1097.5 1337.5,1097.5 1356.8,1097.5 1376.1,1097.5 1395.5,1097.5 1414.8,1097.5 1434.2,1097.5 1453.5,1097.5 1453.5,1107.2 1453.5,1116.8 1453.5,1126.5 1453.5,1134.3 1434.2,1129 1419.9,1126.5 1414.8,1125.4 1395.5,1123.5 1376.1,1123.5 1356.8,1124.3 1337.5,1125.3 1321,1126.5 1318.1,1126.6 1298.8,1127.8 1279.5,1129.5 1260.1,1131.8 1240.8,1135 1235.3,1136.1 1221.4,1138.6 1202.1,1142.6 1188.3,1145.8 1182.8,1147 1163.4,1151.5 1147.2,1155.4 1144.1,1156.2 1124.8,1161.3 1112.1,1165.1 1105.4,1167.1 1086.1,1173.8 1083.4,1174.8 1066.7,1180.6 1056,1184.4 1047.4,1187.2 1028.1,1193.6 1026.8,1194.1 1008.7,1200.5 1001.5,1203.7 989.4,1209.4 982.2,1213.4 970,1220.9 967,1223 954.2,1232.7 950.7,1235.6 943.5,1242.4 935.2,1252 931.4,1257.8 929,1261.7 925.2,1271.3 923.6,1281 924,1290.6 926.1,1300.3 929.2,1310 931.4,1316.4 932.5,1319.6 935.4,1329.3 937.6,1338.9 939.3,1348.6 940.5,1358.2 941.5,1367.9 942.9,1377.6 945.1,1387.2 948.3,1396.9 950.7,1402.9 952.3,1406.5 956,1416.2 958.5,1425.8 960.1,1435.5 960.9,1445.2 961.2,1454.8 961.3,1464.5 961.2,1474.1 961.2,1483.8 961.4,1493.4 962.1,1503.1 963.3,1512.8 965.5,1522.4 968.9,1532.1 970,1534.3 974.2,1541.7 982.5,1551.4 989.4,1556.7 994.8,1561 1008.7,1568.8 1011.8,1570.7 1028.1,1578.3 1032.4,1580.4 1047.4,1587 1053.8,1590 1066.7,1597.8 1069.6,1599.7 1078.2,1609.3 1081.4,1619 1081.3,1628.6 1079.6,1638.3 1078.7,1648 1081.7,1657.6 1086.1,1660.9 1105.4,1665.7 1124,1667.3 1124.8,1667.3 1144.1,1668.2 1163.4,1669 1182.8,1669.9 1202.1,1671 1221.4,1672.1 1240.8,1673.3 1260.1,1674.3 1279.5,1675.1 1298.8,1675.8 1318.1,1676.2 1337.5,1676.3 1356.8,1676.3 1376.1,1676.1 1395.5,1676.1 1414.8,1676.4 1429.4,1676.9 1434.2,1677.1 1453.5,1678.2 1453.5,1686.6 1453.5,1687.9 1440.8,1686.6 1434.2,1686 1414.8,1684.8 1395.5,1684.4 1376.1,1684.7 1356.8,1685.3 1337.5,1685.9 1318.1,1686.2 1298.8,1686.2 1279.5,1685.9 1260.1,1685.3 1240.8,1684.5 1221.4,1683.7 1202.1,1682.9 1182.8,1682.3 1163.4,1682 1144.1,1682.2 1124.8,1682.9 1105.4,1684.4 1088.6,1686.6 1086.1,1687 1066.7,1690.3 1047.4,1692.1 1028.1,1691.2 1013.1,1686.6 1008.7,1684.2 1002.6,1676.9 1008.7,1670.7 1013.1,1667.3 1028.1,1661.2 1036.5,1657.6 1047.4,1650 1049.5,1648 1057.3,1638.3 1062.4,1628.6 1063.6,1619 1059.4,1609.3 1047.9,1599.7 1047.4,1599.4 1028.1,1590.6 1025.9,1590 1008.7,1583.9 996.8,1580.4 989.4,1577.4 973.6,1570.7 970,1568.5 960.2,1561 952.4,1551.4 950.7,1548 948,1541.7 945.3,1532.1 943.7,1522.4 942.8,1512.8 942.4,1503.1 942.3,1493.4 942.6,1483.8 943.1,1474.1 943.7,1464.5 944,1454.8 943.6,1445.2 942.1,1435.5 939.2,1425.8 934.8,1416.2 931.4,1409.7 929.6,1406.5 925,1396.9 922.2,1387.2 920.9,1377.6 920.6,1367.9 920.3,1358.2 919.6,1348.6 918.2,1338.9 916,1329.3 913.1,1319.6 912,1316.2 909.6,1310 906.4,1300.3 904.3,1290.6 903.8,1281 905.1,1271.3 908.3,1261.7 912,1254.6 913.3,1252 919.6,1242.4 928,1232.7 931.4,1229.4 938.1,1223 950.1,1213.4 950.7,1212.9 964,1203.7 970,1200 981.3,1194.1 989.4,1190.1 1003.3,1184.4 1008.7,1182.2 1028.1,1175 1028.8,1174.8 1047.4,1167.2 1052.8,1165.1 1066.7,1159 1076.4,1155.4 1086.1,1151.6 1105.4,1146 1106.5,1145.8 1124.8,1141.1 1144.1,1137.1 1148.8,1136.1 1163.4,1132.6 1182.8,1128.1 1190,1126.5 1202.1,1122.3 1220.5,1116.8 1221.4,1115.9 1232.4,1107.2 1224.3,1097.5ZM256.4,1435.5 273.9,1429.3 293.2,1428.9 312.6,1431.2 331.9,1434.5 336.6,1435.5 351.2,1440.6 362.6,1445.2 370.6,1452.7 373.3,1454.8 370.6,1458.6 365.7,1464.5 351.2,1467.8 331.9,1471.1 312.6,1473.3 293.2,1473.8 273.9,1471 259.8,1464.5 254.5,1459.3 250.9,1454.8 249.8,1445.2 254.5,1437.2 256.4,1435.5ZM273.9,1435.3 273.4,1435.5 259.8,1445.2 259.9,1454.8 270.6,1464.5 273.9,1466 293.2,1469.1 312.6,1467.3 328.3,1464.5 331.9,1462.5 344.1,1454.8 335.8,1445.2 331.9,1443.7 312.6,1437.3 303.7,1435.5 293.2,1434.1 273.9,1435.3Z"/>
<path fill="#0060ff" stroke="#0060ff" d="M267.9,1097.5 273.9,1097.5 293.2,1097.5 312.6,1097.5 331.9,1097.5 351.2,1097.5 370.6,1097.5 389.9,1097.5 409.2,1097.5 428.6,1097.5 447.9,1097.5 467.3,1097.5 483.4,1097.5 467.3,1106.7 466.1,1107.2 447.9,1110 428.6,1111.6 409.2,1112 389.9,1111.7 370.6,1111.5 351.2,1111.6 331.9,1111.5 312.6,1110.2 293.2,1107.4 292.1,1107.2 273.9,1100.1 267.9,1097.5ZM1321,1126.5 1337.5,1125.3 1356.8,1124.3 1376.1,1123.5 1395.5,1123.5 1414.8,1125.4 1419.9,1126.5 1434.2,1129 1453.5,1134.3 1453.5,1136.1 1453.5,1145.8 1453.5,1154.8 1434.2,1147.9 1425.2,1145.8 1414.8,1143.5 1395.5,1141.2 1376.1,1140.3 1356.8,1140.3 1337.5,1140.7 1318.1,1141.3 1298.8,1142.4 1279.5,1144 1264.9,1145.8 1260.1,1146.4 1240.8,1149.4 1221.4,1153.2 1211.2,1155.4 1202.1,1157.6 1182.8,1162.4 1172.5,1165.1 1163.4,1167.6 1144.1,1173.1 1138.4,1174.8 1124.8,1179 1108.2,1184.4 1105.4,1185.3 1086.1,1191.8 1079.2,1194.1 1066.7,1198 1047.8,1203.7 1047.4,1203.8 1028.1,1209.9 1018.8,1213.4 1008.7,1217.4 997.5,1223 989.4,1227.5 981.5,1232.7 970,1240.8 968.1,1242.4 957.7,1252 950.7,1260.1 949.6,1261.7 944.8,1271.3 942.6,1281 942.8,1290.6 944.9,1300.3 948.1,1310 950.7,1317.4 951.6,1319.6 955.1,1329.3 958.2,1338.9 961,1348.6 963.8,1358.2 966.9,1367.9 970,1376.9 970.4,1377.6 974.6,1387.2 977.3,1396.9 978.4,1406.5 978.6,1416.2 978.4,1425.8 978.2,1435.5 978.2,1445.2 978.4,1454.8 978.7,1464.5 979.2,1474.1 979.8,1483.8 980.6,1493.4 981.9,1503.1 984,1512.8 987.3,1522.4 989.4,1526.7 992,1532.1 998.6,1541.7 1008.2,1551.4 1008.7,1551.8 1020.2,1561 1028.1,1565.6 1037,1570.7 1047.4,1575.7 1058,1580.4 1066.7,1584.5 1078.4,1590 1086.1,1595.4 1092.2,1599.7 1099.7,1609.3 1103.2,1619 1105.1,1628.6 1105.4,1629.6 1109.3,1638.3 1121.8,1648 1124.8,1649.1 1144.1,1653.3 1163.4,1655.8 1181.1,1657.6 1182.8,1657.7 1202.1,1659.5 1221.4,1661.2 1240.8,1662.7 1260.1,1664 1279.5,1665.1 1298.8,1666 1318.1,1666.7 1336.1,1667.3 1337.5,1667.3 1356.8,1667.7 1376.1,1667.9 1395.5,1668.1 1414.8,1668.3 1434.2,1668.5 1453.5,1668.6 1453.5,1676.9 1453.5,1678.2 1434.2,1677.1 1429.4,1676.9 1414.8,1676.4 1395.5,1676.1 1376.1,1676.1 1356.8,1676.3 1337.5,1676.3 1318.1,1676.2 1298.8,1675.8 1279.5,1675.1 1260.1,1674.3 1240.8,1673.3 1221.4,1672.1 1202.1,1671 1182.8,1669.9 1163.4,1669 1144.1,1668.2 1124.8,1667.3 1124,1667.3 1105.4,1665.7 1086.1,1660.9 1081.7,1657.6 1078.7,1648 1079.6,1638.3 1081.3,1628.6 1081.4,1619 1078.2,1609.3 1069.6,1599.7 1066.7,1597.8 1053.8,1590 1047.4,1587 1032.4,1580.4 1028.1,1578.3 1011.8,1570.7 1008.7,1568.8 994.8,1561 989.4,1556.7 982.5,1551.4 974.2,1541.7 970,1534.3 968.9,1532.1 965.5,1522.4 963.3,1512.8 962.1,1503.1 961.4,1493.4 961.2,1483.8 961.2,1474.1 961.3,1464.5 961.2,1454.8 960.9,1445.2 960.1,1435.5 958.5,1425.8 956,1416.2 952.3,1406.5 950.7,1402.9 948.3,1396.9 945.1,1387.2 942.9,1377.6 941.5,1367.9 940.5,1358.2 939.3,1348.6 937.6,1338.9 935.4,1329.3 932.5,1319.6 931.4,1316.4 929.2,1310 926.1,1300.3 924,1290.6 923.6,1281 925.2,1271.3 929,1261.7 931.4,1257.8 935.2,1252 943.5,1242.4 950.7,1235.6 954.2,1232.7 967,1223 970,1220.9 982.2,1213.4 989.4,1209.4 1001.5,1203.7 1008.7,1200.5 1026.8,1194.1 1028.1,1193.6 1047.4,1187.2 1056,1184.4 1066.7,1180.6 1083.4,1174.8 1086.1,1173.8 1105.4,1167.1 1112.1,1165.1 1124.8,1161.3 1144.1,1156.2 1147.2,1155.4 1163.4,1151.5 1182.8,1147 1188.3,1145.8 1202.1,1142.6 1221.4,1138.6 1235.3,1136.1 1240.8,1135 1260.1,1131.8 1279.5,1129.5 1298.8,1127.8 1318.1,1126.6 1321,1126.5ZM80.5,1145.8 80.5,1141.1 90.2,1145.8 99.8,1152.4 103.3,1155.4 111.1,1165.1 116.4,1174.8 119.2,1179.9 121.9,1184.4 129.1,1194.1 138.5,1203.5 138.8,1203.7 157.6,1213.4 157.9,1213.5 177.2,1219.5 188.2,1223 196.5,1225.4 215.9,1231.7 218.5,1232.7 235.2,1238.8 243.2,1242.4 254.5,1248.5 259.4,1252 268.7,1261.7 273.9,1270.7 274.2,1271.3 277.4,1281 279.2,1290.6 280.2,1300.3 281.3,1310 283.9,1319.6 289.6,1329.3 293.2,1332.3 301.3,1338.9 312.6,1343.9 323.5,1348.6 331.9,1350.8 351.2,1356.2 357.4,1358.2 370.6,1362 386.7,1367.9 389.9,1369.2 409.2,1377.1 410.7,1377.6 428.6,1383.9 444.8,1387.2 447.9,1388 467.3,1389.3 486.6,1388.5 498.5,1387.2 505.9,1386.1 525.3,1380.3 529.3,1377.6 536.2,1367.9 543.5,1358.2 544.6,1357.4 560.4,1348.6 564,1347.4 583.3,1343.6 602.6,1341.7 622,1341.3 641.3,1342.7 660.6,1347 664.3,1348.6 673.5,1358.2 669.5,1367.9 660.6,1373.1 646.4,1377.6 641.3,1378.8 622,1381.1 602.6,1382.7 583.3,1384.5 565.4,1387.2 564,1387.8 552.6,1396.9 559.1,1406.5 564,1409.7 571.3,1416.2 583.3,1425.7 583.5,1425.8 591.5,1435.5 593,1445.2 590.7,1454.8 587.1,1464.5 583.5,1474.1 583.3,1474.8 579.6,1483.8 574.9,1493.4 568.1,1503.1 564,1507.4 558.3,1512.8 546.1,1522.4 544.6,1523.5 533.4,1532.1 525.3,1537.6 519.1,1541.7 505.9,1548.7 499.2,1551.4 486.6,1555.5 467.3,1558.9 447.9,1560.3 428.6,1560.8 409.2,1560.8 389.9,1560.7 370.6,1560.9 367,1561 351.2,1561.9 331.9,1563.9 312.6,1567.1 298.7,1570.7 299.4,1580.4 305.5,1590 309.9,1599.7 311.5,1609.3 309.2,1619 300.9,1628.6 293.2,1633.2 284.6,1638.3 273.9,1642.9 262.4,1648 254.5,1651 237.2,1657.6 235.2,1658.4 215.9,1664.5 204.7,1667.3 196.5,1669.2 177.2,1672.7 157.9,1675.2 140.9,1676.9 138.5,1677.2 119.2,1678.6 99.8,1679.3 80.5,1679.1 80.5,1676.9 80.5,1668.5 99.8,1668 112.8,1667.3 119.2,1666.9 138.5,1665.2 157.9,1662.9 177.2,1659.8 187.4,1657.6 196.5,1655.6 215.9,1650 221.8,1648 235.2,1642.8 245.7,1638.3 254.5,1633.6 263.3,1628.6 273.9,1619.3 274.3,1619 279,1609.3 277.8,1599.7 273.9,1594.4 270.3,1590 254.5,1580.4 254.5,1580.4 235.2,1572.2 231,1570.7 215.9,1561.5 215.2,1561 215.9,1560.5 235.2,1554 254.5,1553.4 273.9,1554 293.2,1554.6 312.6,1554.7 331.9,1554.5 351.2,1554 370.6,1553.7 389.9,1553.6 409.2,1553.4 428.6,1552.7 443,1551.4 447.9,1550.9 467.3,1547.6 485.2,1541.7 486.6,1541.1 502.8,1532.1 505.9,1529.4 514.9,1522.4 524.3,1512.8 525.3,1511.4 533.3,1503.1 541.8,1493.4 544.6,1489.9 548.5,1483.8 552.7,1474.1 554.8,1464.5 554,1454.8 548.1,1445.2 544.6,1442.3 525.3,1437.3 505.9,1436.9 502.5,1435.5 488.1,1425.8 486.6,1424.9 478.7,1416.2 467.3,1410.6 459.4,1406.5 447.9,1403.3 429.8,1396.9 428.6,1396.5 409.2,1388.1 407.7,1387.2 389.9,1378.7 387.8,1377.6 370.6,1370.6 362.3,1367.9 351.2,1364.5 331.9,1359.9 322.9,1358.2 312.6,1355.6 293.2,1350.5 286.6,1348.6 273.9,1342.5 267.2,1338.9 257.1,1329.3 254.5,1323.3 253.2,1319.6 253.3,1310 254.5,1303.7 255.2,1300.3 256.4,1290.6 255.5,1281 254.5,1278.6 251.2,1271.3 242.1,1261.7 235.2,1257 225.5,1252 215.9,1248 199.3,1242.4 196.5,1241.5 177.2,1235.9 165.2,1232.7 157.9,1230.6 138.5,1224.4 135.3,1223 119.2,1214.2 118,1213.4 108.1,1203.7 100.8,1194.1 99.8,1192.5 94.7,1184.4 87.9,1174.8 80.5,1167 80.5,1165.1 80.5,1155.4 80.5,1145.8ZM261.9,1425.8 273.9,1423.5 293.2,1423.8 312.6,1425.6 314.7,1425.8 331.9,1428.2 351.2,1431.4 368.6,1435.5 370.6,1436.2 389.9,1443.9 393.4,1445.2 409.2,1453.8 412.7,1454.8 415.4,1464.5 409.2,1465.6 389.9,1469.8 370.6,1473.6 367.4,1474.1 351.2,1475.7 331.9,1477.2 312.6,1478.2 293.2,1478.3 273.9,1475.9 268.6,1474.1 254.5,1467.8 250,1464.5 242.7,1454.8 240.8,1445.2 245,1435.5 254.5,1428.1 261.9,1425.8ZM273.9,1429.3 256.4,1435.5 254.5,1437.2 249.8,1445.2 250.9,1454.8 254.5,1459.3 259.8,1464.5 273.9,1471 293.2,1473.8 312.6,1473.3 331.9,1471.1 351.2,1467.8 365.7,1464.5 370.6,1458.6 373.3,1454.8 370.6,1452.7 362.6,1445.2 351.2,1440.6 336.6,1435.5 331.9,1434.5 312.6,1431.2 293.2,1428.9 273.9,1429.3Z"/>
<path fill="#0088ff" stroke="#0088ff" d="M1264.9,1145.8 1279.5,1144 1298.8,1142.4 1318.1,1141.3 1337.5,1140.7 1356.8,1140.3 1376.1,1140.3 1395.5,1141.2 1414.8,1143.5 1425.2,1145.8 1434.2,1147.9 1453.5,1154.8 1453.5,1155.4 1453.5,1165.1 1453.5,1174.8 1453.5,1178 1449.3,1174.8 1434.2,1166.1 1431.4,1165.1 1414.8,1160 1395.5,1156.6 1382.9,1155.4 1376.1,1154.9 1356.8,1154.3 1337.5,1154.2 1318.1,1154.5 1298.8,1155.4 1298.3,1155.4 1279.5,1157.2 1260.1,1159.9 1240.8,1163.4 1233,1165.1 1221.4,1168 1202.1,1173.1 1196.2,1174.8 1182.8,1178.8 1163.4,1184.4 1163.4,1184.4 1144.1,1190.3 1131.9,1194.1 1124.8,1196.2 1105.4,1202.3 1100.8,1203.7 1086.1,1208.2 1068.3,1213.4 1066.7,1213.8 1047.4,1219.5 1036.7,1223 1028.1,1226.1 1013.4,1232.7 1008.7,1235.1 996.9,1242.4 989.4,1247.7 983.9,1252 973.8,1261.7 970,1266.6 967.1,1271.3 964,1281 963.8,1290.6 965.9,1300.3 969.3,1310 970,1311.7 974,1319.6 979,1329.3 984.3,1338.9 989.4,1347.3 990.5,1348.6 998.9,1358.2 1006.7,1367.9 1008.7,1371.3 1011.8,1377.6 1013.5,1387.2 1012.5,1396.9 1009.2,1406.5 1008.7,1407.4 1004.9,1416.2 1001.1,1425.8 998.6,1435.5 997.3,1445.2 996.9,1454.8 997.3,1464.5 998.1,1474.1 999.1,1483.8 1000.6,1493.4 1002.6,1503.1 1005.2,1512.8 1008.7,1522.3 1008.8,1522.4 1013.4,1532.1 1019.5,1541.7 1028.1,1550.9 1028.5,1551.4 1041.3,1561 1047.4,1564.5 1060.2,1570.7 1066.7,1573.6 1083.9,1580.4 1086.1,1581.4 1104.4,1590 1105.4,1590.7 1118.2,1599.7 1124.8,1607.5 1126.6,1609.3 1133.8,1619 1142.2,1628.6 1144.1,1630.1 1162.1,1638.3 1163.4,1638.7 1182.8,1642.8 1202.1,1646.3 1212,1648 1221.4,1649.1 1240.8,1651.3 1260.1,1653 1279.5,1654.5 1298.8,1655.7 1318.1,1656.9 1330.7,1657.6 1337.5,1657.9 1356.8,1658.7 1376.1,1659.4 1395.5,1659.7 1414.8,1659.7 1434.2,1659.3 1453.5,1658.5 1453.5,1667.3 1453.5,1668.6 1434.2,1668.5 1414.8,1668.3 1395.5,1668.1 1376.1,1667.9 1356.8,1667.7 1337.5,1667.3 1336.1,1667.3 1318.1,1666.7 1298.8,1666 1279.5,1665.1 1260.1,1664 1240.8,1662.7 1221.4,1661.2 1202.1,1659.5 1182.8,1657.7 1181.1,1657.6 1163.4,1655.8 1144.1,1653.3 1124.8,1649.1 1121.8,1648 1109.3,1638.3 1105.4,1629.6 1105.1,1628.6 1103.2,1619 1099.7,1609.3 1092.2,1599.7 1086.1,1595.4 1078.4,1590 1066.7,1584.5 1058,1580.4 1047.4,1575.7 1037,1570.7 1028.1,1565.6 1020.2,1561 1008.7,1551.8 1008.2,1551.4 998.6,1541.7 992,1532.1 989.4,1526.7 987.3,1522.4 984,1512.8 981.9,1503.1 980.6,1493.4 979.8,1483.8 979.2,1474.1 978.7,1464.5 978.4,1454.8 978.2,1445.2 978.2,1435.5 978.4,1425.8 978.6,1416.2 978.4,1406.5 977.3,1396.9 974.6,1387.2 970.4,1377.6 970,1376.9 966.9,1367.9 963.8,1358.2 961,1348.6 958.2,1338.9 955.1,1329.3 951.6,1319.6 950.7,1317.4 948.1,1310 944.9,1300.3 942.8,1290.6 942.6,1281 944.8,1271.3 949.6,1261.7 950.7,1260.1 957.7,1252 968.1,1242.4 970,1240.8 981.5,1232.7 989.4,1227.5 997.5,1223 1008.7,1217.4 1018.8,1213.4 1028.1,1209.9 1047.4,1203.8 1047.8,1203.7 1066.7,1198 1079.2,1194.1 1086.1,1191.8 1105.4,1185.3 1108.2,1184.4 1124.8,1179 1138.4,1174.8 1144.1,1173.1 1163.4,1167.6 1172.5,1165.1 1182.8,1162.4 1202.1,1157.6 1211.2,1155.4 1221.4,1153.2 1240.8,1149.4 1260.1,1146.4 1264.9,1145.8ZM80.5,1174.8 80.5,1167 87.9,1174.8 94.7,1184.4 99.8,1192.5 100.8,1194.1 108.1,1203.7 118,1213.4 119.2,1214.2 135.3,1223 138.5,1224.4 157.9,1230.6 165.2,1232.7 177.2,1235.9 196.5,1241.5 199.3,1242.4 215.9,1248 225.5,1252 235.2,1257 242.1,1261.7 251.2,1271.3 254.5,1278.6 255.5,1281 256.4,1290.6 255.2,1300.3 254.5,1303.7 253.3,1310 253.2,1319.6 254.5,1323.3 257.1,1329.3 267.2,1338.9 273.9,1342.5 286.6,1348.6 293.2,1350.5 312.6,1355.6 322.9,1358.2 331.9,1359.9 351.2,1364.5 362.3,1367.9 370.6,1370.6 387.8,1377.6 389.9,1378.7 407.7,1387.2 409.2,1388.1 428.6,1396.5 429.8,1396.9 447.9,1403.3 459.4,1406.5 467.3,1410.6 478.7,1416.2 486.6,1424.9 488.1,1425.8 502.5,1435.5 505.9,1436.9 525.3,1437.3 544.6,1442.3 548.1,1445.2 554,1454.8 554.8,1464.5 552.7,1474.1 548.5,1483.8 544.6,1489.9 541.8,1493.4 533.3,1503.1 525.3,1511.4 524.3,1512.8 514.9,1522.4 505.9,1529.4 502.8,1532.1 486.6,1541.1 485.2,1541.7 467.3,1547.6 447.9,1550.9 443,1551.4 428.6,1552.7 409.2,1553.4 389.9,1553.6 370.6,1553.7 351.2,1554 331.9,1554.5 312.6,1554.7 293.2,1554.6 273.9,1554 254.5,1553.4 235.2,1554 215.9,1560.5 215.2,1561 215.9,1561.5 231,1570.7 235.2,1572.2 254.5,1580.4 254.5,1580.4 270.3,1590 273.9,1594.4 277.8,1599.7 279,1609.3 274.3,1619 273.9,1619.3 263.3,1628.6 254.5,1633.6 245.7,1638.3 235.2,1642.8 221.8,1648 215.9,1650 196.5,1655.6 187.4,1657.6 177.2,1659.8 157.9,1662.9 138.5,1665.2 119.2,1666.9 112.8,1667.3 99.8,1668 80.5,1668.5 80.5,1667.3 80.5,1657.6 80.5,1657.4 99.8,1655.9 119.2,1654.3 138.5,1652.3 157.9,1649.8 168.4,1648 177.2,1646.3 196.5,1641.4 205.9,1638.3 215.9,1634.5 228.3,1628.6 235.2,1624.1 242,1619 248.1,1609.3 246.3,1599.7 235.2,1590.2 235,1590 215.9,1581.8 212.4,1580.4 196.5,1574.1 189,1570.7 177.2,1561.7 176.4,1561 177.2,1553.9 177.6,1551.4 196.5,1545.1 215.9,1543 235.2,1543.1 254.5,1544.2 273.9,1545.5 293.2,1546.7 312.6,1547.4 331.9,1547.7 351.2,1547.7 370.6,1547.6 389.9,1547.5 409.2,1547.1 428.6,1545.8 447.9,1543 453.2,1541.7 467.3,1537.3 478.6,1532.1 486.6,1525.8 490.9,1522.4 497.7,1512.8 499.9,1503.1 496.2,1493.4 486.6,1487.7 474.6,1483.8 467.3,1482.2 447.9,1479.3 428.6,1478.1 409.2,1478.1 389.9,1478.8 370.6,1480 351.2,1481.3 331.9,1482.4 312.6,1483 293.2,1482.8 273.9,1480.7 254.5,1474.4 254,1474.1 241.1,1464.5 235.2,1456.1 234.4,1454.8 232.2,1445.2 234.5,1435.5 235.2,1434.5 244.7,1425.8 254.5,1420.9 273.9,1418.1 293.2,1419.1 312.6,1420.9 331.9,1422.3 351.2,1423.7 370.6,1425.7 371.7,1425.8 389.9,1428.6 409.2,1431.7 428.6,1429.8 432.8,1425.8 428.6,1418.5 427.4,1416.2 414.7,1406.5 409.2,1403.5 401.5,1396.9 389.9,1389.6 386.8,1387.2 370.6,1379 367.5,1377.6 351.2,1371.9 334.9,1367.9 331.9,1367.2 312.6,1363.5 293.2,1360.3 282.6,1358.2 273.9,1355.8 254.5,1349 253.5,1348.6 237.9,1338.9 235.2,1335.9 229.4,1329.3 226.5,1319.6 227.4,1310 230,1300.3 231.9,1290.6 230.3,1281 223.2,1271.3 215.9,1266.1 208,1261.7 196.5,1256.9 182.6,1252 177.2,1250.4 157.9,1245 148.1,1242.4 138.5,1239.7 119.2,1233.3 117.7,1232.7 100,1223 99.8,1222.9 89.4,1213.4 81.9,1203.7 80.5,1201.7 80.5,1194.1 80.5,1184.4 80.5,1174.8ZM273.9,1423.5 261.9,1425.8 254.5,1428.1 245,1435.5 240.8,1445.2 242.7,1454.8 250,1464.5 254.5,1467.8 268.6,1474.1 273.9,1475.9 293.2,1478.3 312.6,1478.2 331.9,1477.2 351.2,1475.7 367.4,1474.1 370.6,1473.6 389.9,1469.8 409.2,1465.6 415.4,1464.5 412.7,1454.8 409.2,1453.8 393.4,1445.2 389.9,1443.9 370.6,1436.2 368.6,1435.5 351.2,1431.4 331.9,1428.2 314.7,1425.8 312.6,1425.6 293.2,1423.8 273.9,1423.5Z"/>
<path fill="#00b0ff" stroke="#00b0ff" d="M1298.3,1155.4 1298.8,1155.4 1318.1,1154.5 1337.5,1154.2 1356.8,1154.3 1376.1,1154.9 1382.9,1155.4 1395.5,1156.6 1414.8,1160 1431.4,1165.1 1434.2,1166.1 1449.3,1174.8 1453.5,1178 1453.5,1184.4 1453.5,1194.1 1453.5,1203.7 1453.5,1213.4 1453.5,1214.4 1452.6,1213.4 1444.7,1203.7 1436.3,1194.1 1434.2,1192 1422.6,1184.4 1414.8,1180.5 1396,1174.8 1395.5,1174.6 1376.1,1172 1356.8,1170.5 1337.5,1169.7 1318.1,1169.6 1298.8,1170.4 1279.5,1172.4 1264.9,1174.8 1260.1,1175.7 1240.8,1180.5 1226.6,1184.4 1221.4,1186 1202.1,1191.9 1194.6,1194.1 1182.8,1197.6 1163.4,1202.9 1160.5,1203.7 1144.1,1208.1 1124.8,1213.3 1124.4,1213.4 1105.4,1218.5 1089.1,1223 1086.1,1223.9 1066.7,1229.4 1056.3,1232.7 1047.4,1235.8 1032,1242.4 1028.1,1244.4 1015.8,1252 1008.7,1257.6 1004.1,1261.7 995.9,1271.3 991.3,1281 990.4,1290.6 992.8,1300.3 997.7,1310 1004.4,1319.6 1008.7,1324.9 1013.7,1329.3 1025.6,1338.9 1028.1,1341.1 1036.3,1348.6 1042.7,1358.2 1045.3,1367.9 1045.6,1377.6 1044.6,1387.2 1042.6,1396.9 1039.8,1406.5 1035.8,1416.2 1030.4,1425.8 1028.1,1429.8 1025,1435.5 1021.2,1445.2 1019.2,1454.8 1018.5,1464.5 1018.9,1474.1 1020.2,1483.8 1022.1,1493.4 1024.5,1503.1 1027.1,1512.8 1028.1,1516.1 1029.9,1522.4 1033.5,1532.1 1038.9,1541.7 1047.4,1551.1 1047.7,1551.4 1063,1561 1066.7,1562.8 1086.1,1570.4 1087,1570.7 1105.4,1577.1 1114.9,1580.4 1124.8,1584.9 1136.3,1590 1144.1,1595 1152.5,1599.7 1163.4,1607.6 1166.3,1609.3 1182,1619 1182.8,1619.4 1202.1,1627.4 1205.6,1628.6 1221.4,1632.8 1240.8,1636.9 1249.6,1638.3 1260.1,1639.6 1279.5,1641.5 1298.8,1643.3 1318.1,1645.1 1337.5,1646.9 1349.8,1648 1356.8,1648.4 1376.1,1649.5 1395.5,1650.1 1414.8,1649.9 1434.2,1648.8 1442.8,1648 1453.5,1646.6 1453.5,1648 1453.5,1657.6 1453.5,1658.5 1434.2,1659.3 1414.8,1659.7 1395.5,1659.7 1376.1,1659.4 1356.8,1658.7 1337.5,1657.9 1330.7,1657.6 1318.1,1656.9 1298.8,1655.7 1279.5,1654.5 1260.1,1653 1240.8,1651.3 1221.4,1649.1 1212,1648 1202.1,1646.3 1182.8,1642.8 1163.4,1638.7 1162.1,1638.3 1144.1,1630.1 1142.2,1628.6 1133.8,1619 1126.6,1609.3 1124.8,1607.5 1118.2,1599.7 1105.4,1590.7 1104.4,1590 1086.1,1581.4 1083.9,1580.4 1066.7,1573.6 1060.2,1570.7 1047.4,1564.5 1041.3,1561 1028.5,1551.4 1028.1,1550.9 1019.5,1541.7 1013.4,1532.1 1008.8,1522.4 1008.7,1522.3 1005.2,1512.8 1002.6,1503.1 1000.6,1493.4 999.1,1483.8 998.1,1474.1 997.3,1464.5 996.9,1454.8 997.3,1445.2 998.6,1435.5 1001.1,1425.8 1004.9,1416.2 1008.7,1407.4 1009.2,1406.5 1012.5,1396.9 1013.5,1387.2 1011.8,1377.6 1008.7,1371.3 1006.7,1367.9 998.9,1358.2 990.5,1348.6 989.4,1347.3 984.3,1338.9 979,1329.3 974,1319.6 970,1311.7 969.3,1310 965.9,1300.3 963.8,1290.6 964,1281 967.1,1271.3 970,1266.6 973.8,1261.7 983.9,1252 989.4,1247.7 996.9,1242.4 1008.7,1235.1 1013.4,1232.7 1028.1,1226.1 1036.7,1223 1047.4,1219.5 1066.7,1213.8 1068.3,1213.4 1086.1,1208.2 1100.8,1203.7 1105.4,1202.3 1124.8,1196.2 1131.9,1194.1 1144.1,1190.3 1163.4,1184.4 1163.4,1184.4 1182.8,1178.8 1196.2,1174.8 1202.1,1173.1 1221.4,1168 1233,1165.1 1240.8,1163.4 1260.1,1159.9 1279.5,1157.2 1298.3,1155.4ZM80.5,1203.7 80.5,1201.7 81.9,1203.7 89.4,1213.4 99.8,1222.9 100,1223 117.7,1232.7 119.2,1233.3 138.5,1239.7 148.1,1242.4 157.9,1245 177.2,1250.4 182.6,1252 196.5,1256.9 208,1261.7 215.9,1266.1 223.2,1271.3 230.3,1281 231.9,1290.6 230,1300.3 227.4,1310 226.5,1319.6 229.4,1329.3 235.2,1335.9 237.9,1338.9 253.5,1348.6 254.5,1349 273.9,1355.8 282.6,1358.2 293.2,1360.3 312.6,1363.5 331.9,1367.2 334.9,1367.9 351.2,1371.9 367.5,1377.6 370.6,1379 386.8,1387.2 389.9,1389.6 401.5,1396.9 409.2,1403.5 414.7,1406.5 427.4,1416.2 428.6,1418.5 432.8,1425.8 428.6,1429.8 409.2,1431.7 389.9,1428.6 371.7,1425.8 370.6,1425.7 351.2,1423.7 331.9,1422.3 312.6,1420.9 293.2,1419.1 273.9,1418.1 254.5,1420.9 244.7,1425.8 235.2,1434.5 234.5,1435.5 232.2,1445.2 234.4,1454.8 235.2,1456.1 241.1,1464.5 254,1474.1 254.5,1474.4 273.9,1480.7 293.2,1482.8 312.6,1483 331.9,1482.4 351.2,1481.3 370.6,1480 389.9,1478.8 409.2,1478.1 428.6,1478.1 447.9,1479.3 467.3,1482.2 474.6,1483.8 486.6,1487.7 496.2,1493.4 499.9,1503.1 497.7,1512.8 490.9,1522.4 486.6,1525.8 478.6,1532.1 467.3,1537.3 453.2,1541.7 447.9,1543 428.6,1545.8 409.2,1547.1 389.9,1547.5 370.6,1547.6 351.2,1547.7 331.9,1547.7 312.6,1547.4 293.2,1546.7 273.9,1545.5 254.5,1544.2 235.2,1543.1 215.9,1543 196.5,1545.1 177.6,1551.4 177.2,1553.9 176.4,1561 177.2,1561.7 189,1570.7 196.5,1574.1 212.4,1580.4 215.9,1581.8 235,1590 235.2,1590.2 246.3,1599.7 248.1,1609.3 242,1619 235.2,1624.1 228.3,1628.6 215.9,1634.5 205.9,1638.3 196.5,1641.4 177.2,1646.3 168.4,1648 157.9,1649.8 138.5,1652.3 119.2,1654.3 99.8,1655.9 80.5,1657.4 80.5,1648 80.5,1643.9 99.8,1641.6 119.2,1639.7 132.8,1638.3 138.5,1637.6 157.9,1634.7 177.2,1630.6 183.8,1628.6 196.5,1623.6 205.3,1619 214.1,1609.3 211.1,1599.7 196.5,1590.3 196.1,1590 177.2,1582.2 173.3,1580.4 157.9,1572.2 155.3,1570.7 144.9,1561 143.2,1551.4 156.1,1541.7 157.9,1541.3 177.2,1537.5 196.5,1535.7 215.9,1535.4 235.2,1536.1 254.5,1537.3 273.9,1538.8 293.2,1540.2 312.6,1541.2 328.9,1541.7 331.9,1541.8 351.2,1542 370.6,1542.1 389.9,1541.8 393,1541.7 409.2,1541.1 428.6,1539.2 447.9,1535 456,1532.1 467.3,1525.3 471.2,1522.4 476.8,1512.8 474.4,1503.1 467.3,1497.6 459.4,1493.4 447.9,1490 428.6,1486.9 409.2,1485.7 389.9,1485.5 370.6,1485.9 351.2,1486.6 331.9,1487.4 312.6,1487.8 293.2,1487.6 273.9,1485.7 266.1,1483.8 254.5,1480.5 243,1474.1 235.2,1467.6 232.3,1464.5 226.6,1454.8 224.1,1445.2 225.7,1435.5 232.3,1425.8 235.2,1423.3 249.1,1416.2 254.5,1414 273.9,1412.4 293.2,1414.2 312.6,1416.1 315.1,1416.2 331.9,1416.8 351.2,1416.4 353.8,1416.2 370.6,1413.5 382.6,1406.5 379.4,1396.9 370.6,1389.6 368,1387.2 351.2,1379.4 346,1377.6 331.9,1373.8 312.6,1370.5 293.2,1368.2 290.8,1367.9 273.9,1365.5 254.5,1361 246.3,1358.2 235.2,1353.6 224.4,1348.6 215.9,1342.9 209.5,1338.9 200,1329.3 196.5,1320.4 196.1,1319.6 196.5,1315.4 196.9,1310 199.6,1300.3 200.9,1290.6 197.5,1281 196.5,1280 185.1,1271.3 177.2,1267.6 162.3,1261.7 157.9,1260.3 138.5,1255 127.4,1252 119.2,1249.9 99.8,1243.7 96.6,1242.4 80.5,1233.6 80.5,1232.7 80.5,1223 80.5,1213.4 80.5,1203.7Z"/>
<path fill="#00dcfe" stroke="#00dcfe" d="M1264.9,1174.8 1279.5,1172.4 1298.8,1170.4 1318.1,1169.6 1337.5,1169.7 1356.8,1170.5 1376.1,1172 1395.5,1174.6 1396,1174.8 1414.8,1180.5 1422.6,1184.4 1434.2,1192 1436.3,1194.1 1444.7,1203.7 1452.6,1213.4 1453.5,1214.4 1453.5,1223 1453.5,1232.7 1453.5,1242.4 1453.5,1250.9 1441.5,1242.4 1434.2,1235.4 1431.1,1232.7 1421.1,1223 1414.8,1216.6 1409.9,1213.4 1395.5,1205 1391.2,1203.7 1376.1,1199.8 1356.8,1196.6 1339.2,1194.1 1337.5,1193.9 1318.1,1192.5 1298.8,1192.7 1287,1194.1 1279.5,1195.1 1260.1,1199.6 1245,1203.7 1240.8,1204.9 1221.4,1210.1 1207.9,1213.4 1202.1,1214.7 1182.8,1218.9 1163.4,1222.7 1161.6,1223 1144.1,1226.4 1124.8,1230.4 1114.8,1232.7 1105.4,1234.9 1086.1,1240 1078.4,1242.4 1066.7,1246.5 1054,1252 1047.4,1255.8 1038.9,1261.7 1029.8,1271.3 1028.1,1275 1025.3,1281 1025.2,1290.6 1028.1,1297.6 1029.4,1300.3 1038.9,1310 1047.4,1316.1 1052.8,1319.6 1066.3,1329.3 1066.7,1329.7 1073.3,1338.9 1075.4,1348.6 1074.7,1358.2 1072.4,1367.9 1069.8,1377.6 1067.5,1387.2 1066.7,1391 1065.5,1396.9 1063.9,1406.5 1062.4,1416.2 1060.1,1425.8 1056.5,1435.5 1051.6,1445.2 1047.4,1453.7 1046.8,1454.8 1043.7,1464.5 1042.7,1474.1 1043.6,1483.8 1045.8,1493.4 1047.4,1499.3 1048.5,1503.1 1050.8,1512.8 1052.5,1522.4 1054.8,1532.1 1059.9,1541.7 1066.7,1548.5 1070.6,1551.4 1086.1,1558.7 1092.7,1561 1105.4,1564.9 1124.8,1570.6 1125.1,1570.7 1144.1,1576.8 1154.9,1580.4 1163.4,1583.8 1180.4,1590 1182.8,1591.1 1202.1,1599 1204.1,1599.7 1221.4,1606.9 1228.9,1609.3 1240.8,1613.3 1260.1,1618.1 1265,1619 1279.5,1621.3 1298.8,1624.2 1318.1,1627.5 1323.8,1628.6 1337.5,1630.5 1356.8,1633.2 1376.1,1635.5 1395.5,1636.7 1414.8,1636 1434.2,1633.2 1453.5,1629.2 1453.5,1638.3 1453.5,1646.6 1442.8,1648 1434.2,1648.8 1414.8,1649.9 1395.5,1650.1 1376.1,1649.5 1356.8,1648.4 1349.8,1648 1337.5,1646.9 1318.1,1645.1 1298.8,1643.3 1279.5,1641.5 1260.1,1639.6 1249.6,1638.3 1240.8,1636.9 1221.4,1632.8 1205.6,1628.6 1202.1,1627.4 1182.8,1619.4 1182,1619 1166.3,1609.3 1163.4,1607.6 1152.5,1599.7 1144.1,1595 1136.3,1590 1124.8,1584.9 1114.9,1580.4 1105.4,1577.1 1087,1570.7 1086.1,1570.4 1066.7,1562.8 1063,1561 1047.7,1551.4 1047.4,1551.1 1038.9,1541.7 1033.5,1532.1 1029.9,1522.4 1028.1,1516.1 1027.1,1512.8 1024.5,1503.1 1022.1,1493.4 1020.2,1483.8 1018.9,1474.1 1018.5,1464.5 1019.2,1454.8 1021.2,1445.2 1025,1435.5 1028.1,1429.8 1030.4,1425.8 1035.8,1416.2 1039.8,1406.5 1042.6,1396.9 1044.6,1387.2 1045.6,1377.6 1045.3,1367.9 1042.7,1358.2 1036.3,1348.6 1028.1,1341.1 1025.6,1338.9 1013.7,1329.3 1008.7,1324.9 1004.4,1319.6 997.7,1310 992.8,1300.3 990.4,1290.6 991.3,1281 995.9,1271.3 1004.1,1261.7 1008.7,1257.6 1015.8,1252 1028.1,1244.4 1032,1242.4 1047.4,1235.8 1056.3,1232.7 1066.7,1229.4 1086.1,1223.9 1089.1,1223 1105.4,1218.5 1124.4,1213.4 1124.8,1213.3 1144.1,1208.1 1160.5,1203.7 1163.4,1202.9 1182.8,1197.6 1194.6,1194.1 1202.1,1191.9 1221.4,1186 1226.6,1184.4 1240.8,1180.5 1260.1,1175.7 1264.9,1174.8ZM80.5,1242.4 80.5,1233.6 96.6,1242.4 99.8,1243.7 119.2,1249.9 127.4,1252 138.5,1255 157.9,1260.3 162.3,1261.7 177.2,1267.6 185.1,1271.3 196.5,1280 197.5,1281 200.9,1290.6 199.6,1300.3 196.9,1310 196.5,1315.4 196.1,1319.6 196.5,1320.4 200,1329.3 209.5,1338.9 215.9,1342.9 224.4,1348.6 235.2,1353.6 246.3,1358.2 254.5,1361 273.9,1365.5 290.8,1367.9 293.2,1368.2 312.6,1370.5 331.9,1373.8 346,1377.6 351.2,1379.4 368,1387.2 370.6,1389.6 379.4,1396.9 382.6,1406.5 370.6,1413.5 353.8,1416.2 351.2,1416.4 331.9,1416.8 315.1,1416.2 312.6,1416.1 293.2,1414.2 273.9,1412.4 254.5,1414 249.1,1416.2 235.2,1423.3 232.3,1425.8 225.7,1435.5 224.1,1445.2 226.6,1454.8 232.3,1464.5 235.2,1467.6 243,1474.1 254.5,1480.5 266.1,1483.8 273.9,1485.7 293.2,1487.6 312.6,1487.8 331.9,1487.4 351.2,1486.6 370.6,1485.9 389.9,1485.5 409.2,1485.7 428.6,1486.9 447.9,1490 459.4,1493.4 467.3,1497.6 474.4,1503.1 476.8,1512.8 471.2,1522.4 467.3,1525.3 456,1532.1 447.9,1535 428.6,1539.2 409.2,1541.1 393,1541.7 389.9,1541.8 370.6,1542.1 351.2,1542 331.9,1541.8 328.9,1541.7 312.6,1541.2 293.2,1540.2 273.9,1538.8 254.5,1537.3 235.2,1536.1 215.9,1535.4 196.5,1535.7 177.2,1537.5 157.9,1541.3 156.1,1541.7 143.2,1551.4 144.9,1561 155.3,1570.7 157.9,1572.2 173.3,1580.4 177.2,1582.2 196.1,1590 196.5,1590.3 211.1,1599.7 214.1,1609.3 205.3,1619 196.5,1623.6 183.8,1628.6 177.2,1630.6 157.9,1634.7 138.5,1637.6 132.8,1638.3 119.2,1639.7 99.8,1641.6 80.5,1643.9 80.5,1638.3 80.5,1628.6 80.5,1624.3 99.8,1620.8 115.1,1619 119.2,1618.2 138.5,1614.4 154.9,1609.3 156.9,1599.7 142.7,1590 138.5,1587.8 125.5,1580.4 119.2,1576 111,1570.7 101.1,1561 99.8,1558.1 96.5,1551.4 99.8,1544.4 101.2,1541.7 119.2,1535.4 134,1532.1 138.5,1531.6 157.9,1529.9 177.2,1528.8 196.5,1528.3 215.9,1528.5 235.2,1529.4 254.5,1530.9 266.2,1532.1 273.9,1532.7 293.2,1534.3 312.6,1535.6 331.9,1536.3 351.2,1536.6 370.6,1536.6 389.9,1536.3 409.2,1535.1 428.6,1532.5 430.2,1532.1 447.9,1525 452.4,1522.4 458,1512.8 452.1,1503.1 447.9,1500.9 428.6,1494.7 420.6,1493.4 409.2,1492.1 389.9,1491.3 370.6,1491.3 351.2,1491.7 331.9,1492.2 312.6,1492.6 293.2,1492.5 273.9,1491.1 254.5,1487 247.6,1483.8 235.2,1476.6 232.4,1474.1 224,1464.5 218.7,1454.8 216,1445.2 216.8,1435.5 222.2,1425.8 232.6,1416.2 235.2,1414.2 254.5,1406.8 273.9,1406.6 293.2,1409 312.6,1410.8 331.9,1410.5 351.2,1407 352.7,1406.5 359.1,1396.9 351.2,1389.2 349.1,1387.2 331.9,1380.9 316,1377.6 312.6,1377 293.2,1375.5 273.9,1374.7 254.5,1371.8 242.3,1367.9 235.2,1365.6 216.6,1358.2 215.9,1357.9 196.5,1349 195.6,1348.6 177.2,1339.3 176.2,1338.9 157.9,1329.7 156.9,1329.3 141.5,1319.6 138.5,1315.4 134.8,1310 137.1,1300.3 138.5,1297.8 143.3,1290.6 140.6,1281 138.5,1279.8 120.2,1271.3 119.2,1271.1 99.8,1266.2 85.6,1261.7 80.5,1260.1 80.5,1252 80.5,1242.4Z"/>
<path fill="#19ffde" stroke="#19ffde" d="M1287,1194.1 1298.8,1192.7 1318.1,1192.5 1337.5,1193.9 1339.2,1194.1 1356.8,1196.6 1376.1,1199.8 1391.2,1203.7 1395.5,1205 1409.9,1213.4 1414.8,1216.6 1421.1,1223 1431.1,1232.7 1434.2,1235.4 1441.5,1242.4 1453.5,1250.9 1453.5,1252 1453.5,1261.7 1453.5,1271.3 1453.5,1281 1453.5,1288.1 1441.4,1281 1434.2,1276.9 1425.1,1271.3 1414.8,1264.5 1410.5,1261.7 1396.1,1252 1395.5,1251.6 1376.1,1242.7 1375,1242.4 1356.8,1237.7 1337.5,1234.8 1318.1,1232.8 1317.2,1232.7 1298.8,1231.6 1279.5,1231.8 1267.1,1232.7 1260.1,1233.1 1240.8,1235.1 1221.4,1237.3 1202.1,1239.7 1182.8,1241.9 1178.8,1242.4 1163.4,1244 1144.1,1246.4 1124.8,1249.3 1111.8,1252 1105.4,1253.6 1086.1,1260.3 1083,1261.7 1069.4,1271.3 1066.7,1276.3 1064.7,1281 1066.7,1288.1 1067.7,1290.6 1078.4,1300.3 1086.1,1305.4 1092.8,1310 1103.8,1319.6 1105.4,1322.6 1108.4,1329.3 1108.2,1338.9 1105.4,1347.2 1105,1348.6 1100.1,1358.2 1094.8,1367.9 1090,1377.6 1086.4,1387.2 1086.1,1388.4 1083.9,1396.9 1082.7,1406.5 1082.3,1416.2 1081.9,1425.8 1080.6,1435.5 1077.9,1445.2 1074.2,1454.8 1070.7,1464.5 1069.1,1474.1 1070,1483.8 1073,1493.4 1076.5,1503.1 1078.9,1512.8 1080.1,1522.4 1081.9,1532.1 1086.1,1538.8 1088.8,1541.7 1105.4,1550.2 1108.4,1551.4 1124.8,1555.9 1142.4,1561 1144.1,1561.5 1163.4,1566.8 1177.6,1570.7 1182.8,1572.2 1202.1,1577.2 1216.3,1580.4 1221.4,1581.7 1240.8,1585.7 1260.1,1588.5 1277.8,1590 1279.5,1590.2 1298.8,1591.3 1318.1,1592 1337.5,1592.3 1356.8,1591.4 1364.6,1590 1376.1,1587.7 1391.7,1580.4 1395.5,1578.6 1407.2,1570.7 1414.8,1565.3 1419.1,1561 1428.5,1551.4 1434.2,1545.9 1437.8,1541.7 1450.9,1532.1 1453.5,1531 1453.5,1532.1 1453.5,1541.7 1453.5,1551.4 1453.5,1561 1453.5,1570.7 1453.5,1580.4 1453.5,1590 1453.5,1599.7 1453.5,1609.3 1453.5,1619 1453.5,1628.6 1453.5,1629.2 1434.2,1633.2 1414.8,1636 1395.5,1636.7 1376.1,1635.5 1356.8,1633.2 1337.5,1630.5 1323.8,1628.6 1318.1,1627.5 1298.8,1624.2 1279.5,1621.3 1265,1619 1260.1,1618.1 1240.8,1613.3 1228.9,1609.3 1221.4,1606.9 1204.1,1599.7 1202.1,1599 1182.8,1591.1 1180.4,1590 1163.4,1583.8 1154.9,1580.4 1144.1,1576.8 1125.1,1570.7 1124.8,1570.6 1105.4,1564.9 1092.7,1561 1086.1,1558.7 1070.6,1551.4 1066.7,1548.5 1059.9,1541.7 1054.8,1532.1 1052.5,1522.4 1050.8,1512.8 1048.5,1503.1 1047.4,1499.3 1045.8,1493.4 1043.6,1483.8 1042.7,1474.1 1043.7,1464.5 1046.8,1454.8 1047.4,1453.7 1051.6,1445.2 1056.5,1435.5 1060.1,1425.8 1062.4,1416.2 1063.9,1406.5 1065.5,1396.9 1066.7,1391 1067.5,1387.2 1069.8,1377.6 1072.4,1367.9 1074.7,1358.2 1075.4,1348.6 1073.3,1338.9 1066.7,1329.7 1066.3,1329.3 1052.8,1319.6 1047.4,1316.1 1038.9,1310 1029.4,1300.3 1028.1,1297.6 1025.2,1290.6 1025.3,1281 1028.1,1275 1029.8,1271.3 1038.9,1261.7 1047.4,1255.8 1054,1252 1066.7,1246.5 1078.4,1242.4 1086.1,1240 1105.4,1234.9 1114.8,1232.7 1124.8,1230.4 1144.1,1226.4 1161.6,1223 1163.4,1222.7 1182.8,1218.9 1202.1,1214.7 1207.9,1213.4 1221.4,1210.1 1240.8,1204.9 1245,1203.7 1260.1,1199.6 1279.5,1195.1 1287,1194.1ZM80.5,1261.7 80.5,1260.1 85.6,1261.7 99.8,1266.2 119.2,1271.1 120.2,1271.3 138.5,1279.8 140.6,1281 143.3,1290.6 138.5,1297.8 137.1,1300.3 134.8,1310 138.5,1315.4 141.5,1319.6 156.9,1329.3 157.9,1329.7 176.2,1338.9 177.2,1339.3 195.6,1348.6 196.5,1349 215.9,1357.9 216.6,1358.2 235.2,1365.6 242.3,1367.9 254.5,1371.8 273.9,1374.7 293.2,1375.5 312.6,1377 316,1377.6 331.9,1380.9 349.1,1387.2 351.2,1389.2 359.1,1396.9 352.7,1406.5 351.2,1407 331.9,1410.5 312.6,1410.8 293.2,1409 273.9,1406.6 254.5,1406.8 235.2,1414.2 232.6,1416.2 222.2,1425.8 216.8,1435.5 216,1445.2 218.7,1454.8 224,1464.5 232.4,1474.1 235.2,1476.6 247.6,1483.8 254.5,1487 273.9,1491.1 293.2,1492.5 312.6,1492.6 331.9,1492.2 351.2,1491.7 370.6,1491.3 389.9,1491.3 409.2,1492.1 420.6,1493.4 428.6,1494.7 447.9,1500.9 452.1,1503.1 458,1512.8 452.4,1522.4 447.9,1525 430.2,1532.1 428.6,1532.5 409.2,1535.1 389.9,1536.3 370.6,1536.6 351.2,1536.6 331.9,1536.3 312.6,1535.6 293.2,1534.3 273.9,1532.7 266.2,1532.1 254.5,1530.9 235.2,1529.4 215.9,1528.5 196.5,1528.3 177.2,1528.8 157.9,1529.9 138.5,1531.6 134,1532.1 119.2,1535.4 101.2,1541.7 99.8,1544.4 96.5,1551.4 99.8,1558.1 101.1,1561 111,1570.7 119.2,1576 125.5,1580.4 138.5,1587.8 142.7,1590 156.9,1599.7 154.9,1609.3 138.5,1614.4 119.2,1618.2 115.1,1619 99.8,1620.8 80.5,1624.3 80.5,1619 80.5,1609.3 80.5,1599.7 80.5,1590 80.5,1580.4 80.5,1570.7 80.5,1561 80.5,1551.4 80.5,1541.7 80.5,1532.1 80.5,1525.3 99.8,1522.5 102,1522.4 119.2,1521.9 138.5,1521.7 157.9,1521.5 177.2,1521.3 196.5,1521.3 215.9,1521.6 230.1,1522.4 235.2,1522.6 254.5,1524 273.9,1525.7 293.2,1527.6 312.6,1529.2 331.9,1530.3 351.2,1530.8 370.6,1530.8 389.9,1530.2 409.2,1528.1 428.6,1523.4 431,1522.4 438.2,1512.8 428.6,1504 426.9,1503.1 409.2,1499.4 389.9,1497.7 370.6,1497.3 351.2,1497.5 331.9,1498 312.6,1498.6 293.2,1498.7 273.9,1497.9 254.5,1494 253.4,1493.4 235.2,1485.5 233.1,1483.8 222.8,1474.1 215.9,1464.7 215.7,1464.5 210.5,1454.8 207.6,1445.2 207.8,1435.5 212,1425.8 215.9,1421 220.5,1416.2 232.3,1406.5 235.2,1403.5 250.2,1396.9 254.5,1387.3 273.9,1392.5 274.5,1396.9 293.2,1401.5 312.6,1404.5 331.9,1400.8 337.8,1396.9 331.9,1391.2 324.9,1387.2 312.6,1384.6 293.2,1384.4 273.9,1387 254.5,1387.2 235.2,1377.8 234.9,1377.6 215.9,1369.2 213.1,1367.9 196.5,1361 189.5,1358.2 177.2,1353 165.6,1348.6 157.9,1345.3 141.5,1338.9 138.5,1337.6 119.9,1329.3 119.2,1328.9 103.3,1319.6 99.8,1316.9 90.2,1310 80.5,1301.8 80.5,1300.3 80.5,1290.6 80.5,1281 80.5,1271.3 80.5,1261.7Z"/>
<path fill="#39ffbe" stroke="#39ffbe" d="M1267.1,1232.7 1279.5,1231.8 1298.8,1231.6 1317.2,1232.7 1318.1,1232.8 1337.5,1234.8 1356.8,1237.7 1375,1242.4 1376.1,1242.7 1395.5,1251.6 1396.1,1252 1410.5,1261.7 1414.8,1264.5 1425.1,1271.3 1434.2,1276.9 1441.4,1281 1453.5,1288.1 1453.5,1290.6 1453.5,1300.3 1453.5,1310 1453.5,1312.5 1447.4,1310 1434.2,1303.5 1425.6,1300.3 1414.8,1295.2 1403.6,1290.6 1395.5,1286.4 1383.5,1281 1376.1,1277.2 1359.5,1271.3 1356.8,1270.4 1337.5,1267.3 1318.1,1266.8 1298.8,1267 1279.5,1266.8 1260.1,1266.4 1240.8,1266.6 1221.4,1267.9 1202.1,1270.1 1191.3,1271.3 1182.8,1272.7 1163.4,1275.9 1144.1,1280.9 1144,1281 1141.4,1290.6 1144.1,1295.3 1146.5,1300.3 1150.1,1310 1149.8,1319.6 1146.1,1329.3 1144.1,1332.1 1140.1,1338.9 1132.5,1348.6 1124.8,1357.2 1124,1358.2 1115.9,1367.9 1109,1377.6 1105.4,1384 1103.8,1387.2 1100.6,1396.9 1099.3,1406.5 1099.3,1416.2 1099.8,1425.8 1099.9,1435.5 1099.3,1445.2 1097.9,1454.8 1096.6,1464.5 1096.8,1474.1 1099.4,1483.8 1104.2,1493.4 1105.4,1495.7 1110.2,1503.1 1115.8,1512.8 1121.1,1522.4 1124.8,1527.2 1129.5,1532.1 1144.1,1540.4 1146.7,1541.7 1163.4,1547.6 1175.1,1551.4 1182.8,1553.4 1202.1,1557.8 1219.5,1561 1221.4,1561.4 1240.8,1563.9 1260.1,1565.5 1279.5,1566.1 1298.8,1565.2 1318.1,1562.6 1325.3,1561 1337.5,1558 1356.8,1551.5 1357,1551.4 1376.1,1543.8 1380.5,1541.7 1395.5,1535.2 1401.2,1532.1 1414.8,1526 1422.8,1522.4 1434.2,1519.1 1453.5,1515.4 1453.5,1522.4 1453.5,1531 1450.9,1532.1 1437.8,1541.7 1434.2,1545.9 1428.5,1551.4 1419.1,1561 1414.8,1565.3 1407.2,1570.7 1395.5,1578.6 1391.7,1580.4 1376.1,1587.7 1364.6,1590 1356.8,1591.4 1337.5,1592.3 1318.1,1592 1298.8,1591.3 1279.5,1590.2 1277.8,1590 1260.1,1588.5 1240.8,1585.7 1221.4,1581.7 1216.3,1580.4 1202.1,1577.2 1182.8,1572.2 1177.6,1570.7 1163.4,1566.8 1144.1,1561.5 1142.4,1561 1124.8,1555.9 1108.4,1551.4 1105.4,1550.2 1088.8,1541.7 1086.1,1538.8 1081.9,1532.1 1080.1,1522.4 1078.9,1512.8 1076.5,1503.1 1073,1493.4 1070,1483.8 1069.1,1474.1 1070.7,1464.5 1074.2,1454.8 1077.9,1445.2 1080.6,1435.5 1081.9,1425.8 1082.3,1416.2 1082.7,1406.5 1083.9,1396.9 1086.1,1388.4 1086.4,1387.2 1090,1377.6 1094.8,1367.9 1100.1,1358.2 1105,1348.6 1105.4,1347.2 1108.2,1338.9 1108.4,1329.3 1105.4,1322.6 1103.8,1319.6 1092.8,1310 1086.1,1305.4 1078.4,1300.3 1067.7,1290.6 1066.7,1288.1 1064.7,1281 1066.7,1276.3 1069.4,1271.3 1083,1261.7 1086.1,1260.3 1105.4,1253.6 1111.8,1252 1124.8,1249.3 1144.1,1246.4 1163.4,1244 1178.8,1242.4 1182.8,1241.9 1202.1,1239.7 1221.4,1237.3 1240.8,1235.1 1260.1,1233.1 1267.1,1232.7ZM80.5,1310 80.5,1301.8 90.2,1310 99.8,1316.9 103.3,1319.6 119.2,1328.9 119.9,1329.3 138.5,1337.6 141.5,1338.9 157.9,1345.3 165.6,1348.6 177.2,1353 189.5,1358.2 196.5,1361 213.1,1367.9 215.9,1369.2 234.9,1377.6 235.2,1377.8 254.5,1387.2 273.9,1387 293.2,1384.4 312.6,1384.6 324.9,1387.2 331.9,1391.2 337.8,1396.9 331.9,1400.8 312.6,1404.5 293.2,1401.5 274.5,1396.9 273.9,1392.5 254.5,1387.3 250.2,1396.9 235.2,1403.5 232.3,1406.5 220.5,1416.2 215.9,1421 212,1425.8 207.8,1435.5 207.6,1445.2 210.5,1454.8 215.7,1464.5 215.9,1464.7 222.8,1474.1 233.1,1483.8 235.2,1485.5 253.4,1493.4 254.5,1494 273.9,1497.9 293.2,1498.7 312.6,1498.6 331.9,1498 351.2,1497.5 370.6,1497.3 389.9,1497.7 409.2,1499.4 426.9,1503.1 428.6,1504 438.2,1512.8 431,1522.4 428.6,1523.4 409.2,1528.1 389.9,1530.2 370.6,1530.8 351.2,1530.8 331.9,1530.3 312.6,1529.2 293.2,1527.6 273.9,1525.7 254.5,1524 235.2,1522.6 230.1,1522.4 215.9,1521.6 196.5,1521.3 177.2,1521.3 157.9,1521.5 138.5,1521.7 119.2,1521.9 102,1522.4 99.8,1522.5 80.5,1525.3 80.5,1522.4 80.5,1513.7 99.8,1513.4 119.2,1513.7 138.5,1514 157.9,1514.2 177.2,1514.2 196.5,1513.9 215.9,1513.3 233.3,1512.8 235.2,1512.5 247.6,1503.1 235.2,1498.3 230.7,1493.4 220.5,1483.8 215.9,1478.3 213,1474.1 207,1464.5 202.3,1454.8 199.2,1445.2 198.7,1435.5 201.9,1425.8 208.6,1416.2 215.9,1407.7 217.2,1406.5 224.3,1396.9 223,1387.2 215.9,1382.1 209.7,1377.6 196.5,1371.5 188.4,1367.9 177.2,1363.4 163.9,1358.2 157.9,1355.8 138.8,1348.6 138.5,1348.5 119.2,1340.5 115.2,1338.9 99.8,1331.8 94,1329.3 80.5,1322.2 80.5,1319.6 80.5,1310ZM273.9,1511 257.8,1512.8 273.9,1513.9 293.2,1516.9 312.6,1521 320.7,1522.4 331.9,1523.1 351.2,1523.6 370.6,1523.5 389.9,1522.6 391.3,1522.4 409.2,1514.6 411.4,1512.8 409.2,1511.6 389.9,1506.4 370.6,1504.6 351.2,1504.6 331.9,1505.5 312.6,1507.1 293.2,1509 273.9,1511Z"/>
<path fill="#5aff9d" stroke="#5aff9d" d="M1191.3,1271.3 1202.1,1270.1 1221.4,1267.9 1240.8,1266.6 1260.1,1266.4 1279.5,1266.8 1298.8,1267 1318.1,1266.8 1337.5,1267.3 1356.8,1270.4 1359.5,1271.3 1376.1,1277.2 1383.5,1281 1395.5,1286.4 1403.6,1290.6 1414.8,1295.2 1425.6,1300.3 1434.2,1303.5 1447.4,1310 1453.5,1312.5 1453.5,1319.6 1453.5,1325.1 1438.3,1319.6 1434.2,1317.9 1414.8,1311.8 1406.8,1310 1395.5,1306.6 1376.1,1302.1 1364.8,1300.3 1356.8,1298.5 1337.5,1296.6 1318.1,1296.8 1298.8,1298.4 1283.4,1300.3 1279.5,1300.7 1260.1,1303.4 1240.8,1307.4 1232.1,1310 1221.4,1312.7 1204.7,1319.6 1202.1,1320.6 1187.2,1329.3 1182.8,1331.9 1173.7,1338.9 1163.4,1346.7 1161.3,1348.6 1149.2,1358.2 1144.1,1362.2 1137.8,1367.9 1128.3,1377.6 1124.8,1382.1 1121.4,1387.2 1117.3,1396.9 1115.6,1406.5 1115.7,1416.2 1116.8,1425.8 1118.2,1435.5 1119.5,1445.2 1120.8,1454.8 1122.8,1464.5 1124.8,1469.7 1126.8,1474.1 1133.9,1483.8 1143.2,1493.4 1144.1,1494.4 1155.3,1503.1 1163.4,1509.6 1168.7,1512.8 1182.8,1521.3 1185.3,1522.4 1202.1,1529.2 1213.2,1532.1 1221.4,1533.9 1240.8,1536.6 1260.1,1538 1279.5,1537.7 1298.8,1535.5 1316.2,1532.1 1318.1,1531.7 1337.5,1527.3 1356.8,1522.4 1356.8,1522.4 1376.1,1517.2 1390.9,1512.8 1395.5,1511.6 1414.8,1507.6 1434.2,1505.7 1453.5,1505.3 1453.5,1512.8 1453.5,1515.4 1434.2,1519.1 1422.8,1522.4 1414.8,1526 1401.2,1532.1 1395.5,1535.2 1380.5,1541.7 1376.1,1543.8 1357,1551.4 1356.8,1551.5 1337.5,1558 1325.3,1561 1318.1,1562.6 1298.8,1565.2 1279.5,1566.1 1260.1,1565.5 1240.8,1563.9 1221.4,1561.4 1219.5,1561 1202.1,1557.8 1182.8,1553.4 1175.1,1551.4 1163.4,1547.6 1146.7,1541.7 1144.1,1540.4 1129.5,1532.1 1124.8,1527.2 1121.1,1522.4 1115.8,1512.8 1110.2,1503.1 1105.4,1495.7 1104.2,1493.4 1099.4,1483.8 1096.8,1474.1 1096.6,1464.5 1097.9,1454.8 1099.3,1445.2 1099.9,1435.5 1099.8,1425.8 1099.3,1416.2 1099.3,1406.5 1100.6,1396.9 1103.8,1387.2 1105.4,1384 1109,1377.6 1115.9,1367.9 1124,1358.2 1124.8,1357.2 1132.5,1348.6 1140.1,1338.9 1144.1,1332.1 1146.1,1329.3 1149.8,1319.6 1150.1,1310 1146.5,1300.3 1144.1,1295.3 1141.4,1290.6 1144,1281 1144.1,1280.9 1163.4,1275.9 1182.8,1272.7 1191.3,1271.3ZM80.5,1329.3 80.5,1322.2 94,1329.3 99.8,1331.8 115.2,1338.9 119.2,1340.5 138.5,1348.5 138.8,1348.6 157.9,1355.8 163.9,1358.2 177.2,1363.4 188.4,1367.9 196.5,1371.5 209.7,1377.6 215.9,1382.1 223,1387.2 224.3,1396.9 217.2,1406.5 215.9,1407.7 208.6,1416.2 201.9,1425.8 198.7,1435.5 199.2,1445.2 202.3,1454.8 207,1464.5 213,1474.1 215.9,1478.3 220.5,1483.8 230.7,1493.4 235.2,1498.3 247.6,1503.1 235.2,1512.5 233.3,1512.8 215.9,1513.3 196.5,1513.9 177.2,1514.2 157.9,1514.2 138.5,1514 119.2,1513.7 99.8,1513.4 80.5,1513.7 80.5,1512.8 80.5,1505.7 99.8,1506.3 119.2,1506.9 138.5,1507.3 157.9,1507.3 177.2,1506.6 196.5,1504.4 202.2,1503.1 210.8,1493.4 207.6,1483.8 203.1,1474.1 198.4,1464.5 196.5,1460.5 193.4,1454.8 189.2,1445.2 187.9,1435.5 190.6,1425.8 196.5,1416.7 196.8,1416.2 203.1,1406.5 206.7,1396.9 202.3,1387.2 196.5,1383.2 187.5,1377.6 177.2,1373 165.5,1367.9 157.9,1364.9 141.3,1358.2 138.5,1357.2 119.2,1349.5 116.8,1348.6 99.8,1341.6 93.2,1338.9 80.5,1333.3 80.5,1329.3ZM257.8,1512.8 273.9,1511 293.2,1509 312.6,1507.1 331.9,1505.5 351.2,1504.6 370.6,1504.6 389.9,1506.4 409.2,1511.6 411.4,1512.8 409.2,1514.6 391.3,1522.4 389.9,1522.6 370.6,1523.5 351.2,1523.6 331.9,1523.1 320.7,1522.4 312.6,1521 293.2,1516.9 273.9,1513.9 257.8,1512.8Z"/>
<path fill="#7dff7a" stroke="#7dff7a" d="M1283.4,1300.3 1298.8,1298.4 1318.1,1296.8 1337.5,1296.6 1356.8,1298.5 1364.8,1300.3 1376.1,1302.1 1395.5,1306.6 1406.8,1310 1414.8,1311.8 1434.2,1317.9 1438.3,1319.6 1453.5,1325.1 1453.5,1329.3 1453.5,1334.6 1437.4,1329.3 1434.2,1328.1 1414.8,1322.8 1396.7,1319.6 1395.5,1319.3 1376.1,1316.8 1356.8,1315.6 1337.5,1315.5 1318.1,1316.5 1298.8,1318.4 1290.5,1319.6 1279.5,1321 1260.1,1324.2 1240.8,1328.6 1238.7,1329.3 1221.4,1334.4 1210.9,1338.9 1202.1,1342.9 1192.3,1348.6 1182.8,1354.2 1176.7,1358.2 1163.4,1366.9 1162.1,1367.9 1149.7,1377.6 1144.1,1382.9 1140.4,1387.2 1135,1396.9 1132.8,1406.5 1133,1416.2 1134.9,1425.8 1137.7,1435.5 1141.3,1445.2 1144.1,1451.3 1146.2,1454.8 1153.7,1464.5 1163.4,1473.6 1164.3,1474.1 1181,1483.8 1182.8,1484.7 1202.1,1492 1208.2,1493.4 1221.4,1496.9 1240.8,1499.8 1260.1,1501.3 1279.5,1502 1298.8,1502.3 1318.1,1502.2 1337.5,1501.3 1356.8,1499.1 1376.1,1495.8 1391.4,1493.4 1395.5,1492.9 1414.8,1492.5 1423.5,1493.4 1434.2,1494.3 1453.5,1496.5 1453.5,1503.1 1453.5,1505.3 1434.2,1505.7 1414.8,1507.6 1395.5,1511.6 1390.9,1512.8 1376.1,1517.2 1356.8,1522.4 1356.8,1522.4 1337.5,1527.3 1318.1,1531.7 1316.2,1532.1 1298.8,1535.5 1279.5,1537.7 1260.1,1538 1240.8,1536.6 1221.4,1533.9 1213.2,1532.1 1202.1,1529.2 1185.3,1522.4 1182.8,1521.3 1168.7,1512.8 1163.4,1509.6 1155.3,1503.1 1144.1,1494.4 1143.2,1493.4 1133.9,1483.8 1126.8,1474.1 1124.8,1469.7 1122.8,1464.5 1120.8,1454.8 1119.5,1445.2 1118.2,1435.5 1116.8,1425.8 1115.7,1416.2 1115.6,1406.5 1117.3,1396.9 1121.4,1387.2 1124.8,1382.1 1128.3,1377.6 1137.8,1367.9 1144.1,1362.2 1149.2,1358.2 1161.3,1348.6 1163.4,1346.7 1173.7,1338.9 1182.8,1331.9 1187.2,1329.3 1202.1,1320.6 1204.7,1319.6 1221.4,1312.7 1232.1,1310 1240.8,1307.4 1260.1,1303.4 1279.5,1300.7 1283.4,1300.3ZM80.5,1338.9 80.5,1333.3 93.2,1338.9 99.8,1341.6 116.8,1348.6 119.2,1349.5 138.5,1357.2 141.3,1358.2 157.9,1364.9 165.5,1367.9 177.2,1373 187.5,1377.6 196.5,1383.2 202.3,1387.2 206.7,1396.9 203.1,1406.5 196.8,1416.2 196.5,1416.7 190.6,1425.8 187.9,1435.5 189.2,1445.2 193.4,1454.8 196.5,1460.5 198.4,1464.5 203.1,1474.1 207.6,1483.8 210.8,1493.4 202.2,1503.1 196.5,1504.4 177.2,1506.6 157.9,1507.3 138.5,1507.3 119.2,1506.9 99.8,1506.3 80.5,1505.7 80.5,1503.1 80.5,1498.3 99.8,1499.6 119.2,1500.5 138.5,1500.8 157.9,1500.2 177.2,1497.7 188.5,1493.4 194.1,1483.8 192.3,1474.1 188.1,1464.5 183.1,1454.8 178.6,1445.2 177.2,1438.5 176.1,1435.5 177.2,1430.7 178,1425.8 182.8,1416.2 188.2,1406.5 189.6,1396.9 182.7,1387.2 177.2,1383.9 166.4,1377.6 157.9,1373.8 145,1367.9 138.5,1365.3 121.5,1358.2 119.2,1357.3 99.8,1349.7 96.8,1348.6 80.5,1342.1 80.5,1338.9Z"/>
<path fill="#9dff5a" stroke="#9dff5a" d="M1290.5,1319.6 1298.8,1318.4 1318.1,1316.5 1337.5,1315.5 1356.8,1315.6 1376.1,1316.8 1395.5,1319.3 1396.7,1319.6 1414.8,1322.8 1434.2,1328.1 1437.4,1329.3 1453.5,1334.6 1453.5,1338.9 1453.5,1342.9 1440.8,1338.9 1434.2,1336.7 1414.8,1332 1396.4,1329.3 1395.5,1329.1 1376.1,1327.7 1356.8,1327.7 1337.5,1328.6 1329.9,1329.3 1318.1,1330.3 1298.8,1332.6 1279.5,1335.5 1261,1338.9 1260.1,1339.1 1240.8,1344.1 1228.1,1348.6 1221.4,1351.3 1207.6,1358.2 1202.1,1361.2 1190.8,1367.9 1182.8,1372.7 1175.4,1377.6 1163.4,1386.6 1162.7,1387.2 1155.6,1396.9 1152.5,1406.5 1152.9,1416.2 1156,1425.8 1161,1435.5 1163.4,1439.1 1169,1445.2 1180.3,1454.8 1182.8,1456.6 1199.4,1464.5 1202.1,1465.6 1221.4,1470.9 1240.8,1474.1 1241.5,1474.1 1260.1,1476.1 1279.5,1477.4 1298.8,1478.5 1318.1,1479.2 1337.5,1479.1 1356.8,1477.3 1376.1,1474.3 1378.1,1474.1 1395.5,1472.3 1409.2,1474.1 1414.8,1474.7 1434.2,1481 1440.5,1483.8 1453.5,1486.9 1453.5,1493.4 1453.5,1496.5 1434.2,1494.3 1423.5,1493.4 1414.8,1492.5 1395.5,1492.9 1391.4,1493.4 1376.1,1495.8 1356.8,1499.1 1337.5,1501.3 1318.1,1502.2 1298.8,1502.3 1279.5,1502 1260.1,1501.3 1240.8,1499.8 1221.4,1496.9 1208.2,1493.4 1202.1,1492 1182.8,1484.7 1181,1483.8 1164.3,1474.1 1163.4,1473.6 1153.7,1464.5 1146.2,1454.8 1144.1,1451.3 1141.3,1445.2 1137.7,1435.5 1134.9,1425.8 1133,1416.2 1132.8,1406.5 1135,1396.9 1140.4,1387.2 1144.1,1382.9 1149.7,1377.6 1162.1,1367.9 1163.4,1366.9 1176.7,1358.2 1182.8,1354.2 1192.3,1348.6 1202.1,1342.9 1210.9,1338.9 1221.4,1334.4 1238.7,1329.3 1240.8,1328.6 1260.1,1324.2 1279.5,1321 1290.5,1319.6ZM80.5,1348.6 80.5,1342.1 96.8,1348.6 99.8,1349.7 119.2,1357.3 121.5,1358.2 138.5,1365.3 145,1367.9 157.9,1373.8 166.4,1377.6 177.2,1383.9 182.7,1387.2 189.6,1396.9 188.2,1406.5 182.8,1416.2 178,1425.8 177.2,1430.7 176.1,1435.5 177.2,1438.5 178.6,1445.2 183.1,1454.8 188.1,1464.5 192.3,1474.1 194.1,1483.8 188.5,1493.4 177.2,1497.7 157.9,1500.2 138.5,1500.8 119.2,1500.5 99.8,1499.6 80.5,1498.3 80.5,1493.4 80.5,1490.7 99.8,1493.1 105,1493.4 119.2,1494.2 138.5,1494.3 149.6,1493.4 157.9,1492.5 177.2,1484.6 178,1483.8 180.1,1474.1 177.4,1464.5 177.2,1464 170.8,1454.8 163.7,1445.2 159.4,1435.5 160.5,1425.8 166,1416.2 171.4,1406.5 171.4,1396.9 162.9,1387.2 157.9,1384.3 147,1377.6 138.5,1373.7 126.5,1367.9 119.2,1364.9 102.7,1358.2 99.8,1357.1 80.5,1349.9 80.5,1348.6Z"/>
<path fill="#beff39" stroke="#beff39" d="M1329.9,1329.3 1337.5,1328.6 1356.8,1327.7 1376.1,1327.7 1395.5,1329.1 1396.4,1329.3 1414.8,1332 1434.2,1336.7 1440.8,1338.9 1453.5,1342.9 1453.5,1348.6 1453.5,1350.8 1446.1,1348.6 1434.2,1344.9 1414.8,1340.5 1402.3,1338.9 1395.5,1338 1376.1,1337.4 1356.8,1338.3 1349.5,1338.9 1337.5,1340.2 1318.1,1343.1 1298.8,1346.4 1286.7,1348.6 1279.5,1350.3 1260.1,1355.1 1250.1,1358.2 1240.8,1362 1228.4,1367.9 1221.4,1371.7 1211.2,1377.6 1202.1,1382.8 1195.4,1387.2 1183.4,1396.9 1182.8,1398 1179.2,1406.5 1180,1416.2 1182.8,1421.8 1185.8,1425.8 1197.1,1435.5 1202.1,1438.8 1217.2,1445.2 1221.4,1446.7 1240.8,1450.6 1260.1,1452.7 1279.5,1453.7 1298.8,1454.3 1318.1,1454.7 1337.5,1454.2 1356.8,1452.1 1376.1,1448.8 1395.5,1445.3 1396.9,1445.2 1414.8,1443.2 1434.2,1442.5 1453.5,1444.5 1453.5,1445.2 1453.5,1447.8 1450.5,1454.8 1448.4,1464.5 1453.5,1470.5 1453.5,1474.1 1453.5,1483.8 1453.5,1486.9 1440.5,1483.8 1434.2,1481 1414.8,1474.7 1409.2,1474.1 1395.5,1472.3 1378.1,1474.1 1376.1,1474.3 1356.8,1477.3 1337.5,1479.1 1318.1,1479.2 1298.8,1478.5 1279.5,1477.4 1260.1,1476.1 1241.5,1474.1 1240.8,1474.1 1221.4,1470.9 1202.1,1465.6 1199.4,1464.5 1182.8,1456.6 1180.3,1454.8 1169,1445.2 1163.4,1439.1 1161,1435.5 1156,1425.8 1152.9,1416.2 1152.5,1406.5 1155.6,1396.9 1162.7,1387.2 1163.4,1386.6 1175.4,1377.6 1182.8,1372.7 1190.8,1367.9 1202.1,1361.2 1207.6,1358.2 1221.4,1351.3 1228.1,1348.6 1240.8,1344.1 1260.1,1339.1 1261,1338.9 1279.5,1335.5 1298.8,1332.6 1318.1,1330.3 1329.9,1329.3ZM80.5,1357.2 80.5,1349.9 99.8,1357.1 102.7,1358.2 119.2,1364.9 126.5,1367.9 138.5,1373.7 147,1377.6 157.9,1384.3 162.9,1387.2 171.4,1396.9 171.4,1406.5 166,1416.2 160.5,1425.8 159.4,1435.5 163.7,1445.2 170.8,1454.8 177.2,1464 177.4,1464.5 180.1,1474.1 178,1483.8 177.2,1484.6 157.9,1492.5 149.6,1493.4 138.5,1494.3 119.2,1494.2 105,1493.4 99.8,1493.1 80.5,1490.7 80.5,1483.8 80.5,1481.2 89.4,1483.8 99.8,1485.4 119.2,1486.8 138.5,1486.3 152.1,1483.8 157.9,1481.1 163.8,1474.1 162.1,1464.5 157.9,1458 154.1,1454.8 140.1,1445.2 138.5,1443.2 125,1435.5 132.9,1425.8 138.5,1422.4 144.3,1416.2 151.7,1406.5 152,1396.9 144,1387.2 138.5,1383.8 129,1377.6 119.2,1372.8 108.5,1367.9 99.8,1364.4 83.2,1358.2 80.5,1357.2Z"/>
<path fill="#deff19" stroke="#deff19" d="M1349.5,1338.9 1356.8,1338.3 1376.1,1337.4 1395.5,1338 1402.3,1338.9 1414.8,1340.5 1434.2,1344.9 1446.1,1348.6 1453.5,1350.8 1453.5,1358.2 1453.5,1358.6 1452.2,1358.2 1434.2,1353.4 1414.8,1349.2 1408.6,1348.6 1395.5,1347.3 1376.1,1347.5 1364.9,1348.6 1356.8,1349.7 1337.5,1353.9 1320.8,1358.2 1318.1,1359.6 1299.4,1367.9 1298.8,1368.6 1288.1,1377.6 1286.5,1387.2 1292.9,1396.9 1298.8,1401.2 1305.2,1406.5 1318.1,1412.7 1326.5,1416.2 1337.5,1419.1 1356.8,1422.6 1376.1,1424.1 1395.5,1424.6 1414.8,1424.8 1434.2,1424.8 1453.5,1424.5 1453.5,1425.8 1453.5,1435.5 1453.5,1444.5 1434.2,1442.5 1414.8,1443.2 1396.9,1445.2 1395.5,1445.3 1376.1,1448.8 1356.8,1452.1 1337.5,1454.2 1318.1,1454.7 1298.8,1454.3 1279.5,1453.7 1260.1,1452.7 1240.8,1450.6 1221.4,1446.7 1217.2,1445.2 1202.1,1438.8 1197.1,1435.5 1185.8,1425.8 1182.8,1421.8 1180,1416.2 1179.2,1406.5 1182.8,1398 1183.4,1396.9 1195.4,1387.2 1202.1,1382.8 1211.2,1377.6 1221.4,1371.7 1228.4,1367.9 1240.8,1362 1250.1,1358.2 1260.1,1355.1 1279.5,1350.3 1286.7,1348.6 1298.8,1346.4 1318.1,1343.1 1337.5,1340.2 1349.5,1338.9ZM80.5,1358.2 80.5,1357.2 83.2,1358.2 99.8,1364.4 108.5,1367.9 119.2,1372.8 129,1377.6 138.5,1383.8 144,1387.2 152,1396.9 151.7,1406.5 144.3,1416.2 138.5,1422.4 132.9,1425.8 125,1435.5 138.5,1443.2 140.1,1445.2 154.1,1454.8 157.9,1458 162.1,1464.5 163.8,1474.1 157.9,1481.1 152.1,1483.8 138.5,1486.3 119.2,1486.8 99.8,1485.4 89.4,1483.8 80.5,1481.2 80.5,1474.1 80.5,1464.5 80.5,1454.8 80.5,1445.2 80.5,1435.5 80.5,1425.8 80.5,1423.6 99.8,1421.1 114.9,1416.2 119.2,1414.3 129.6,1406.5 132.5,1396.9 126,1387.2 119.2,1382.7 111.4,1377.6 99.8,1372.2 89.1,1367.9 80.5,1364.8 80.5,1358.2ZM99.8,1463.5 98.1,1464.5 99.8,1468.1 106,1474.1 119.2,1475.8 133.1,1474.1 136.9,1464.5 119.2,1459.6 99.8,1463.5ZM1450.5,1454.8 1453.5,1447.8 1453.5,1454.8 1453.5,1464.5 1453.5,1470.5 1448.4,1464.5 1450.5,1454.8Z"/>
<path fill="#feed00" stroke="#feed00" d="M1364.9,1348.6 1376.1,1347.5 1395.5,1347.3 1408.6,1348.6 1414.8,1349.2 1434.2,1353.4 1452.2,1358.2 1453.5,1358.6 1453.5,1367.1 1434.2,1362.8 1414.8,1359.6 1395.5,1358.6 1376.1,1361.5 1358.5,1367.9 1356.8,1370.2 1352.2,1377.6 1356.8,1387.1 1356.9,1387.2 1369.6,1396.9 1376.1,1399.9 1394.1,1406.5 1395.5,1406.9 1414.8,1410.9 1434.2,1413.3 1453.5,1414.1 1453.5,1416.2 1453.5,1424.5 1434.2,1424.8 1414.8,1424.8 1395.5,1424.6 1376.1,1424.1 1356.8,1422.6 1337.5,1419.1 1326.5,1416.2 1318.1,1412.7 1305.2,1406.5 1298.8,1401.2 1292.9,1396.9 1286.5,1387.2 1288.1,1377.6 1298.8,1368.6 1299.4,1367.9 1318.1,1359.6 1320.8,1358.2 1337.5,1353.9 1356.8,1349.7 1364.9,1348.6ZM80.5,1367.9 80.5,1364.8 89.1,1367.9 99.8,1372.2 111.4,1377.6 119.2,1382.7 126,1387.2 132.5,1396.9 129.6,1406.5 119.2,1414.3 114.9,1416.2 99.8,1421.1 80.5,1423.6 80.5,1416.2 80.5,1413 99.8,1408.6 104.3,1406.5 112.3,1396.9 107.3,1387.2 99.8,1382.2 91.4,1377.6 80.5,1373.3 80.5,1367.9ZM98.1,1464.5 99.8,1463.5 119.2,1459.6 136.9,1464.5 133.1,1474.1 119.2,1475.8 106,1474.1 99.8,1468.1 98.1,1464.5Z"/>
<path fill="#ffc400" stroke="#ffc400" d="M1358.5,1367.9 1376.1,1361.5 1395.5,1358.6 1414.8,1359.6 1434.2,1362.8 1453.5,1367.1 1453.5,1367.9 1453.5,1377.6 1453.5,1378.5 1447.9,1377.6 1434.2,1375.9 1414.8,1377.2 1413.6,1377.6 1410.2,1387.2 1414.8,1390.4 1424.7,1396.9 1434.2,1399.6 1453.5,1402.1 1453.5,1406.5 1453.5,1414.1 1434.2,1413.3 1414.8,1410.9 1395.5,1406.9 1394.1,1406.5 1376.1,1399.9 1369.6,1396.9 1356.9,1387.2 1356.8,1387.1 1352.2,1377.6 1356.8,1370.2 1358.5,1367.9ZM80.5,1377.6 80.5,1373.3 91.4,1377.6 99.8,1382.2 107.3,1387.2 112.3,1396.9 104.3,1406.5 99.8,1408.6 80.5,1413 80.5,1406.5 80.5,1399.5 85.5,1396.9 83.3,1387.2 80.5,1385.6 80.5,1377.6Z"/>
<path fill="#ff9f00" stroke="#ff9f00" d="M1413.6,1377.6 1414.8,1377.2 1434.2,1375.9 1447.9,1377.6 1453.5,1378.5 1453.5,1387.2 1453.5,1396.9 1453.5,1402.1 1434.2,1399.6 1424.7,1396.9 1414.8,1390.4 1410.2,1387.2 1413.6,1377.6ZM80.5,1387.2 80.5,1385.6 83.3,1387.2 85.5,1396.9 80.5,1399.5 80.5,1396.9 80.5,1387.2Z"/></g>
<path class="cl" d="M126.5,1182.1 142.4,1178.6 150.1,1179.8 144.3,1176.7 142.4,1174 132.7,1171.7 146.2,1167 150.5,1163.9 171,1160.1 188.8,1162 204.3,1163.6 223.6,1164.7 231.3,1166.6 246.8,1169 256.5,1166.6 270,1165.1 281.6,1163.2 293.2,1167 308.7,1165.9 324.2,1169.3 335.8,1172.1 351.2,1173.2 359,1170.5 370.6,1170.9 386,1173.6 397.6,1170.9 405.4,1172.1 407.3,1167 411.2,1157.8 418.9,1161.2 420.8,1166.6 426.7,1170.9 436.3,1169.7 446,1165.9 459.5,1166.3 462.2,1170.9 459.5,1178.6 446,1178.6 440.2,1183.3 436.3,1187.5 426.7,1190.2 417,1196 411.2,1201.8 410.4,1208.4 417.8,1215.3 428.6,1215.3 440.2,1219.2 447.9,1221.9 458.4,1222.7 458.8,1230.8 463.4,1236.6 469.2,1237.3 471.9,1232.7 471.1,1225 476.9,1221.1 480,1215.3 473.1,1208.4 476.9,1203.7 475,1194.8 484.7,1194.8 492.4,1196 500.1,1199.1 507.9,1200.3 507.9,1207.6 513.7,1209.5 521.4,1208.4 526,1202.6 533,1209.5 538.8,1217.2 544.6,1223 554.3,1226.9 560.1,1232.7 558.1,1236.6 548.5,1241.2 536.9,1241.6 521.4,1241.6 511.7,1246.2 504,1253.9 509.8,1250.5 519.5,1245.8 528,1247 525.3,1250.9 527.2,1256.6 538.8,1258.2 540.7,1260.5 523.3,1267.5 520.6,1263.6 527.2,1260.5 517.5,1261.7 505.9,1266.7 503.2,1273.3 505.9,1274 498.2,1276.4 490.5,1279.1 484.7,1286.8 482.7,1292.6 483.9,1298.4 478.9,1302.2 471.1,1306.9 463.4,1312.7 461.8,1318.5 465.3,1326.6 466.9,1335.8 463.4,1338.2 456.8,1328.5 456.4,1322.7 451.8,1319.6 446,1320.8 438.3,1318.5 430.5,1318.8 431.3,1322.7 422.8,1322.3 413.1,1321.2 403.4,1326.2 400,1333.1 398.8,1342.8 398.4,1349.4 403.4,1360.2 411.2,1365.2 420.8,1363.7 425.9,1360.2 427,1354.4 434.4,1352.4 440.2,1352.4 438.3,1360.2 436.3,1364.8 435.2,1371.8 433.2,1374.5 444.1,1374.1 454.5,1377.6 453,1387.2 453.3,1393.4 458.4,1400 463.4,1401.5 468.8,1398.8 476.9,1402.3 479.6,1404.6 484.3,1398.8 486.6,1393.8 490.5,1392.2 497.4,1389.1 500.1,1387.6 500.9,1393 505.9,1389.1 512.5,1393.8 521.4,1394.6 527.2,1395.7 536.9,1394.2 540.7,1398.8 544.6,1403.1 550.4,1408.5 556.2,1412.3 567.8,1413.1 575.6,1417 579.4,1420 583.3,1428.5 581.4,1435.5 589.1,1439.4 594.9,1438.2 604.6,1444.4 616.2,1446.7 625.8,1449.8 633.6,1454.4 640.5,1456 642.1,1464.5 639.4,1472.2 633.6,1478 627.8,1485.7 625.8,1493.4 625.1,1503.1 623.1,1510.8 618.9,1518.6 614.6,1524 608.4,1524.3 600.7,1527.4 594.9,1530.9 589.1,1535.9 588.3,1544.8 583.3,1549.5 577.5,1557.2 573.6,1563 569.8,1567.6 564,1570.3 556.2,1569.2 550.8,1567.6 555.1,1574.6 557.4,1577.7 553.5,1583.1 544.6,1585.8 536.1,1586.2 536.1,1593.1 525.3,1593.9 525.3,1599.7 530.3,1599.7 524.1,1603.5 523.3,1609.3 515.6,1613.2 521.4,1619 521.4,1620.9 515.6,1626.7 509.8,1632.5 512.1,1637.5 507.9,1638.3 502.1,1643.3 498.2,1642.2 492.4,1638.3 486.6,1632.5 484.7,1622.8 488.5,1617.1 484.7,1615.1 490.5,1607.4 494.3,1597.7 491.6,1590 492.4,1580.4 495.5,1572.6 499.7,1563 500.1,1551.4 502.5,1539.8 504.4,1526.3 505.2,1512.8 504.8,1506.2 498.2,1501.2 484.7,1493.4 481.6,1488.8 478.1,1481.9 473.1,1472.2 468,1462.5 463.4,1458.7 462.2,1452.9 466.1,1448.6 467.3,1445.2 463.4,1444 464.6,1439.4 467.3,1433.6 471.1,1429.7 473.1,1425.8 477.7,1420 476.9,1412.3 476.9,1407.7 473.8,1404.6 474.2,1401.1 469.2,1401.1 465.7,1403.8 467.3,1407.3 463.8,1407.7 460.7,1404.6 455.7,1403.4 453,1400.7 447.9,1397.6 444.8,1393.4 440.2,1387.2 437.9,1384.9 430.5,1383.7 422.8,1381.4 415,1375.6 411.2,1372.9 403.4,1374.9 395.7,1372.5 389.9,1369.8 382.2,1366 374.4,1362.1 368.6,1357.1 369,1352.4 365.5,1345.5 359,1338.2 353.6,1332.4 349.3,1327.7 342.7,1323.5 339.6,1315.8 332.7,1312.7 333.1,1317.7 337.7,1323.5 343.5,1331.2 347.4,1337 350.1,1342 353.2,1345.9 350.5,1346.7 343.5,1339.7 342.7,1335.1 335.8,1330.4 331.9,1328.1 335,1324.6 329.2,1319.6 325.3,1313.8 323.8,1310 318.7,1304.2 310.6,1302.2 305.6,1294.5 302.9,1289.5 297.9,1282.9 295.9,1279.4 296.7,1269.4 297.1,1257 294.4,1248.5 302.9,1250.1 301,1245.4 293.2,1240.4 283.5,1236.6 279.7,1230.8 272.7,1225 268.1,1221.1 260.3,1213.4 250.7,1210.3 244.9,1208.4 236,1205.3 223.6,1203.7 212,1201 204.3,1203.7 196.5,1206.4 190,1206.8 192.7,1199.9 196.5,1199.1 186.9,1203.7 181.1,1209.5 171.4,1215.3 163.7,1219.2 154,1222.3 144.3,1223.8 139.3,1224.6 150.1,1220 157.9,1217.2 165.6,1213.4 167.5,1208.8 161.7,1208.8 150.1,1208.8 150.1,1203.7 140.4,1201.8 134.6,1197.2 138.5,1192.9 140.4,1191.4 154,1190.2 154,1186.3 146.2,1186.3 132.7,1186.3 126.5,1182.1M513.7,1141.9 500.1,1136.1 494.3,1132.3 517.5,1127.2 525.3,1122.6 544.6,1118.7 583.3,1116.8 610.4,1114.1 641.3,1112.6 672.2,1113.7 691.6,1117.6 680,1119.9 710.9,1120.7 728.3,1120.7 710.9,1126.5 705.1,1132.3 699.3,1138.1 703.2,1143.9 697.4,1147.7 691.6,1153.5 683.8,1155.4 691.6,1159.3 690.4,1163.9 680,1167 674.2,1170.5 660.6,1172.4 649,1176.7 639.4,1180.6 629.7,1181.7 622,1184.4 618.1,1190.2 612.3,1196 610.4,1201.8 606.9,1204.5 598.8,1201 589.1,1198.7 583.3,1194.1 577.5,1188.3 573.6,1182.5 569,1176.7 571.7,1170.9 579.4,1167 565.9,1163.2 565.9,1157.4 560.1,1151.6 552.3,1145 536.9,1141.2 521.4,1141.9 513.7,1141.9M876.5,1160.9 885,1161.6 896.6,1165.1 906.2,1167.4 919.8,1169.7 935.2,1174.8 935.2,1178.6 925.6,1180.6 910.1,1178.6 902.4,1176.7 910.1,1186.3 919.8,1188.3 931.4,1185.6 933.3,1181.3 946.8,1179.4 946.8,1171.7 954.6,1172.8 962.3,1174 981.7,1170.9 989.4,1170.9 1001,1169.7 1010.7,1169 1012.6,1165.1 1024.2,1168.2 1035.8,1169.7 1041.6,1169 1035.8,1163.2 1035.8,1159.3 1043.5,1153.5 1057.1,1154.3 1057.1,1161.2 1057.1,1170.9 1062.9,1176.7 1062.9,1159.3 1066.7,1155.4 1078.3,1156.6 1088,1155.4 1089.2,1151.6 1109.3,1150.4 1113.2,1145.8 1132.5,1142.7 1155.7,1141.2 1178.9,1135.4 1186.6,1137.3 1206,1139.2 1215.6,1143.9 1202.1,1149.6 1213.7,1150.8 1233,1151.6 1254.3,1152.7 1267.9,1155.4 1267.9,1151.6 1275.6,1157.4 1283.3,1162 1291.1,1159.3 1306.5,1159.7 1318.1,1155.8 1337.5,1155.4 1356.8,1159.3 1368.4,1161.6 1383.9,1161.2 1395.5,1166.3 1407.1,1166.3 1424.5,1166.3 1436.1,1165.1 1436.1,1169 1447.7,1165.9 1461.2,1167 1472.8,1169.3M80.5,1169.3 92.1,1172.1 103.7,1176.7 115.3,1177.5 120.3,1180.2 111.4,1184.4 107.6,1187.1 97.9,1185.2 88.2,1182.5 82.4,1183.3 80.5,1184.4M1472.8,1184.4 1467,1186.3 1463.2,1185.6 1470.1,1192.1 1470.9,1194.8 1457.4,1196.8 1445.8,1199.9 1436.1,1203.7 1422.6,1203.7 1412.9,1204.1 1408.2,1207.6 1403.2,1211.5 1407.9,1212.6 1406.3,1218.4 1402.4,1223 1395.5,1230 1388.9,1234.6 1383.1,1238.5 1378.9,1230.8 1378.9,1221.1 1383.1,1213.4 1389.7,1210.7 1401.3,1203.7 1409,1197.9 1403.2,1197.5 1395.5,1199.9 1383.1,1197.5 1374.2,1204.5 1362.6,1206.8 1351,1206.8 1329.7,1206.4 1316.2,1213.4 1306.5,1223 1308.5,1226.9 1322,1229.6 1323.2,1234.6 1320.1,1240.4 1319.3,1248.2 1312.3,1255.1 1302.7,1263.6 1291.1,1270.2 1282.6,1272.1 1278.3,1277.1 1271.7,1281 1269.8,1282.9 1273.7,1286.8 1277.1,1292.6 1277.1,1298.4 1273.7,1300.7 1265.9,1302.6 1265.5,1296.4 1266.7,1291.8 1261.3,1289.5 1260.1,1285.6 1260.9,1282.5 1257.4,1281.4 1248.5,1284.1 1245.8,1285.6 1247.7,1279.1 1242.7,1280.2 1233,1284.1 1235,1287.9 1236.9,1291.4 1243.9,1289.5 1250.5,1291.8 1244.6,1294.5 1238.1,1299.5 1241.9,1304.9 1247.7,1312.7 1248.1,1316.5 1244.6,1318.5 1248.5,1320.4 1246.6,1326.2 1242.7,1331.2 1238.8,1337 1233,1341.2 1227.2,1346.7 1218.3,1349.4 1211.8,1351.7 1204,1353.6 1203.3,1357.1 1200.9,1352.4 1195.5,1352.1 1189.3,1355.5 1185.5,1362.1 1188.6,1367.9 1195.5,1373.7 1199.4,1383.4 1199,1389.9 1192.4,1394.9 1189.3,1397.6 1183.5,1401.9 1182,1396.9 1177,1394.6 1173.1,1388.4 1167.3,1386.4 1165.8,1383.4 1163.4,1387.2 1160.7,1394.9 1162.7,1399.6 1164.6,1403.4 1167.3,1408.8 1171.9,1411.6 1176.2,1417 1177,1424.7 1179.7,1430.1 1176.6,1429.3 1168.5,1424.3 1165,1414.3 1162.3,1409.2 1156.9,1404.6 1157.6,1396.9 1158.4,1389.1 1155.7,1381.4 1154.5,1372.5 1149.9,1371.8 1145.3,1374.5 1141.4,1372.9 1142.2,1366 1138.3,1359 1133.6,1354.4 1131.7,1349 1126.7,1349.4 1120.9,1351.3 1113.2,1353.2 1112.4,1356.3 1105.4,1360.2 1099.6,1366.7 1094.6,1371.8 1088,1374.5 1086.5,1381.4 1087.2,1385.3 1085.3,1393 1083,1399.6 1078.3,1402.7 1076.4,1404.2 1071.8,1398.8 1068.7,1391.1 1066,1385.3 1063.6,1377.6 1060.6,1371.8 1058.2,1362.1 1057.8,1354.4 1057.1,1349.7 1049.3,1355.2 1043.5,1349.7 1047.4,1347.8 1041.6,1344.7 1037,1340.9 1033.9,1337.4 1026.1,1338.2 1014.5,1338.5 1004.9,1337.4 998.3,1336.6 996.3,1330.8 987.5,1332.7 979.7,1329.3 973.9,1324.2 970.8,1319.6 965.8,1318.5 962.3,1320.4 964.2,1325.4 970,1332.4 973.1,1337 976.2,1335.5 975.5,1340.9 985.5,1342.4 994,1335.1 995.2,1340.9 1002.9,1344.3 1008,1349 1002.9,1356.3 999.8,1362.1 993.3,1366.4 985.5,1369.8 978.6,1373.7 966.2,1379.5 956.5,1383.7 950.7,1386.1 944.9,1386.4 943,1379.5 941.8,1372.1 935.2,1362.9 928.3,1353.2 925.6,1344.7 920.5,1338.9 914.7,1330 912,1327 912,1321.5 909.3,1327.7 905.1,1325.4 902.8,1320 906.2,1327.3 910.1,1335.1 914.7,1343.2 919.8,1350.5 920.9,1354.4 921.3,1362.9 926,1366 929.4,1375.6 936,1379.5 941,1385.3 944.1,1387.2 944.1,1391.1 948.8,1394.9 958.4,1392.2 966.2,1391.8 974.7,1389.9 973.9,1395.3 970.8,1402.7 966.2,1412.3 961.5,1420 954.6,1427 946.8,1431.6 939.1,1439 935.2,1443.2 932.1,1447.1 929.4,1452.9 926.7,1459.4 929.4,1462.5 929.4,1470.3 933.3,1476.1 933.3,1485.7 934.1,1493.4 927.5,1501.2 919,1505 912,1512 914,1520.5 914,1528.2 904.3,1534 903.5,1543.7 898.5,1549.5 893.5,1556 885.7,1563 877.2,1566.5 865.6,1567.2 854,1569.9 847.8,1568 847.1,1561 843.6,1553.3 840.5,1546 835.5,1537.9 832.7,1526.3 828.9,1516.6 823.1,1505 822.3,1497.3 825,1487.6 830,1478 826.9,1469.5 824.2,1459.1 822.3,1452.9 815.3,1445.2 811.5,1438.2 813.4,1431.6 814.2,1425.8 813.8,1420.4 809.5,1418.1 803.7,1418.5 797.9,1416.2 794.1,1411.2 782.5,1411.9 774.7,1414.6 768.9,1417 764.3,1415.8 757.3,1415.8 747.7,1418.5 741.9,1416.2 734.9,1410.8 728.3,1406.5 725.6,1402.7 723.7,1398.8 718.7,1393 712.1,1387.6 711.7,1383.4 709,1378.7 712.9,1373.7 713.6,1366 714,1361.3 710.9,1354.4 714.8,1344.7 719.4,1337 724.5,1330 726.8,1327.7 733.4,1324.2 738.8,1319.6 739.2,1313.8 743.8,1306.9 750.4,1303.8 753.9,1297.2 756.2,1296.8 765.1,1299.1 772,1299.5 777.4,1296.8 782.5,1294.5 788.3,1293.3 796,1293.3 805.7,1292.6 814.6,1291.4 819.2,1292.6 817.3,1295.7 818.4,1301.1 815.7,1303.4 819.2,1306.9 825,1308.4 835.8,1310.7 837.8,1314.6 846.3,1317.7 852.1,1318.1 854,1315.8 854,1311.1 859.8,1308.4 866.4,1310.7 873.4,1313 881.1,1314.6 888.8,1316.1 894.6,1314.2 900.4,1314.2 901.6,1315 908.9,1314.6 911.6,1308.8 914.4,1304.2 915.1,1298.4 916.7,1294.1 912,1294.1 906.2,1296.1 900.4,1295.3 895,1293.3 890.8,1295.7 885,1293.7 882.3,1290.6 879.2,1287.2 880.3,1282.9 878,1281 883,1279.4 888.8,1279.1 889.2,1276.4 898.5,1276.4 906.2,1273.3 912,1273.3 918.6,1276.4 925.6,1277.5 931.4,1277.1 937.2,1275.2 937.2,1270.6 931.4,1267.5 925.6,1264.4 921.7,1260.9 923.6,1255.9 928.3,1253.2 921.7,1253.9 914,1255.9 912,1259.7 917.8,1260.5 912,1262.4 907,1264 903.1,1259.7 906.2,1257.4 900.4,1255.9 895.8,1255.9 891.5,1260.5 887.7,1265.5 885,1269.4 884.2,1272.5 885.7,1275.2 888.4,1277.1 883,1277.1 878.4,1279.1 877.2,1277.9 871.4,1277.5 867.6,1279.8 864.9,1279.1 864.9,1282.9 866.4,1285.2 869.5,1288.7 866.4,1289.9 865.6,1294.5 862.9,1294.1 860.6,1292.6 859,1289.5 858.7,1287.2 856,1283.7 852.1,1279.8 851.7,1275.2 848.2,1271.3 840.5,1267.5 834.7,1263.6 830.8,1261.7 829.7,1259 824.2,1260.5 824.2,1264.4 828.9,1267.1 831.6,1271.7 838.6,1273.6 846.3,1278.7 848.2,1280.6 842.4,1279.4 840.9,1282.5 842.8,1284.8 840.5,1287.6 837.4,1288.7 838.6,1285.6 837.4,1281 832.7,1278.3 825.8,1275.6 822.3,1272.9 817.3,1269.4 816.1,1265.9 811.1,1264 805.7,1266.3 799.9,1269 794.1,1267.9 789,1269.4 789,1273.6 785.2,1275.6 779.8,1277.9 775.9,1282.9 777.4,1285.6 774,1289.9 768.9,1293.3 759.7,1293.7 755.8,1296.1 752.3,1293.7 749.6,1291.8 742.2,1292.6 742.6,1286.8 740.3,1285.6 742.2,1280.2 743,1274 741.1,1269.4 745.7,1266.7 754.6,1267.1 762,1267.5 769.7,1267.9 771.6,1263.6 772.4,1258.6 768.2,1253.6 760,1250.5 758.5,1248.5 765.1,1247 770.5,1247.8 770.5,1243.9 777.1,1244.7 782.5,1242 783.2,1238.9 790.2,1236.9 792.9,1233.9 795.2,1230.8 801.8,1228.8 807.6,1228.1 810.3,1226.9 809.9,1221.9 808,1217.2 809.9,1214.9 817.3,1212.6 816.5,1217.2 818.4,1218 814.6,1221.9 815.3,1225 819.2,1226.9 825,1225.4 830.8,1226.9 840.5,1225 848.2,1224.2 853.2,1225.4 857.9,1222.3 857.9,1216.1 863.7,1212.6 869.5,1215.3 870.7,1210.3 867.6,1206.8 877.2,1205.7 885,1205.3 893.5,1204.1 886.9,1201.8 877.2,1202.2 865.6,1204.1 859.8,1201.4 859,1196 859.8,1191.4 871.4,1185.2 874.5,1182.5 869.5,1181.3 861.8,1182.5 859,1186.3 850.2,1191 844.4,1194.8 843.2,1199.9 848.2,1202.6 848.2,1206.4 842.4,1208.8 840.5,1213.4 838.6,1218 832,1220.7 826.6,1221.1 825,1217.2 822.3,1212.6 819.2,1207.6 817.3,1205.7 813.4,1208.4 807.6,1211.1 801.8,1211.1 797.9,1207.6 796,1199.9 796.4,1196 801.8,1192.9 809.5,1190.2 817.3,1187.5 823.1,1182.5 826.9,1178.6 832.7,1173.6 838.6,1170.1 848.2,1165.9 857.9,1164.3 867.6,1162.4 876.5,1160.9M966.2,1255.9 973.9,1253.9 981.7,1254.7 981.7,1260.5 975.1,1260.9 973.9,1263.6 971.2,1264.4 975.9,1268.6 979.7,1271.3 979.7,1275.2 984.7,1277.1 981.7,1281 983.6,1283.7 984.7,1291.4 977.8,1293.7 971.2,1291.4 966.2,1290.3 965.8,1286.8 967.3,1282.9 971.2,1279.8 968.1,1277.1 964.2,1273.3 960.4,1269.4 960.4,1263.6 957.3,1262.8 960.4,1259 966.2,1255.9M754.6,1242 763.1,1241.2 772.8,1239.7 782.1,1237.7 779.8,1236.2 783.2,1232.3 777.8,1230.8 777.1,1228.5 772,1224.6 770.5,1221.1 768.5,1219.2 764.3,1219.2 767,1217.2 768.9,1213 763.1,1212.6 760.4,1213.4 764.7,1209.1 757.3,1209.1 754.2,1213.4 755,1217.2 755.4,1221.5 758.1,1220.7 757.7,1223.8 763.1,1223.4 764.3,1226.9 765.1,1229.2 759.3,1229.6 760.4,1232.7 756.6,1235 763.9,1236.9 765.1,1237.7 759.3,1238.1 754.6,1242M752.7,1229.6 753.5,1225 752.7,1222.3 747.7,1221.9 743.8,1225 738,1226.1 738.4,1229.2 740.3,1232.3 736.8,1235 739.9,1236.6 745.7,1235.4 751.9,1233.9 752.7,1229.6M689.6,1188.3 683.8,1184.8 691.6,1182.9 683.1,1182.1 689.6,1179 695.4,1182.5 705.1,1180.2 714.8,1178.6 720.6,1180.6 724.1,1184.4 718.7,1187.1 707.1,1190.2 698.2,1189.8 689.6,1188.3M1327.8,1476.8 1332.8,1490.7 1338.6,1493.4 1341.3,1505 1342.5,1508.5 1351,1513.5 1354.9,1521.6 1359.9,1526.3 1368.4,1534 1370.3,1544.4 1368.4,1555.2 1361.8,1566.5 1357.6,1574.6 1356.8,1580.4 1347.1,1582.3 1342.5,1586.5 1336.7,1582.3 1331.7,1585.4 1320.1,1582.3 1316.2,1574.6 1312.3,1572.6 1310.4,1564.9 1309.6,1561 1306.5,1566.8 1302.7,1570.7 1300,1568.8 1294.9,1562.2 1285.3,1557.2 1275.6,1558 1264,1560.3 1256.3,1563 1254.3,1566.5 1240.8,1566.8 1233,1570.7 1222.2,1568 1224.2,1559.1 1221.4,1551.4 1218.3,1541.7 1214.9,1535.9 1216.4,1526.3 1218.3,1519.7 1225.3,1515.8 1235,1513.9 1244.6,1510.8 1249.7,1505 1252.4,1499.2 1258.2,1497.3 1262.1,1491.5 1267.9,1489.6 1272.5,1493.4 1277.5,1493.1 1282.2,1483.8 1289.1,1479.9 1289.1,1482.2 1298.8,1481.9 1305.8,1481.9 1302.7,1487.6 1300.7,1493.4 1308.5,1497.3 1316.2,1503.1 1321.2,1503.1 1323.9,1493.4 1324.7,1483.8 1327.8,1476.8M1336.3,1592.7 1343.3,1594.3 1350.2,1593.5 1349.8,1597.7 1347.1,1602.4 1341.3,1603.5 1338.6,1598.9 1336.3,1592.7M1444.6,1591.9 1450.8,1595 1445.8,1601.6 1438.8,1607.4 1436.1,1612.8 1430.3,1615.5 1422.6,1613.2 1421.4,1611.3 1428.4,1605.5 1436.1,1600.8 1441.9,1593.9 1444.6,1591.9M1444.6,1568.4 1451.6,1574.6 1455.4,1577.7 1459.3,1581.1 1466.3,1580.7 1463.2,1586.9 1459.3,1591.9 1454.3,1595.8 1453.5,1590 1448.9,1587.3 1452.3,1582.3 1451.6,1578.4 1445.8,1570.7 1444.6,1568.4M967.3,1481.9 971.2,1495.4 968.1,1503.1 964.2,1514.7 960.4,1528.2 958.4,1532.1 951.5,1534 946.8,1530.1 944.1,1522.4 948,1512.8 946.8,1503.1 950.7,1497.3 958.4,1494.6 962.3,1487.6 967.3,1481.9M1086.1,1397.6 1090.7,1402.7 1093,1408.5 1089.9,1411.9 1086.1,1412.3 1084.9,1404.6 1086.1,1397.6M1323.2,1275.6 1325.9,1282.9 1322,1288.7 1321.2,1296.4 1318.1,1299.5 1313.5,1301.5 1306.5,1301.8 1301.9,1306.1 1298.8,1302.2 1291.1,1303 1283.3,1304.2 1283.3,1302.2 1289.1,1298.8 1296.9,1298 1302.7,1297.6 1305.8,1292.6 1307.7,1293.3 1312.3,1290.6 1316.2,1286.8 1318.1,1281 1319.3,1277.1 1323.2,1275.6M1319.3,1275.2 1322.8,1271.3 1330.5,1273.3 1339.4,1268.2 1338.2,1264.4 1329.7,1263.6 1325.1,1259.7 1323.9,1267.5 1319.3,1268.6 1317.4,1272.1 1319.3,1275.2M1283.3,1304.5 1287.2,1307.3 1285.3,1313.8 1282.2,1315.8 1280.2,1311.9 1278.3,1307.3 1283.3,1304.5M1289.1,1304.5 1296.9,1303.4 1295.7,1306.9 1291.1,1308.8 1288.4,1306.9 1289.1,1304.5M1328.6,1225.7 1330.9,1232.7 1330.5,1242.4 1335.5,1246.2 1329.7,1253.9 1331.7,1257 1325.9,1257.8 1325.9,1250.1 1326.6,1242.4 1324.7,1234.6 1326.6,1228.8 1328.6,1225.7M1246.6,1338.2 1247.7,1340.9 1243.9,1350.5 1241.2,1346.7 1244.6,1338.9 1246.6,1338.2M1204,1357.9 1206,1360.2 1202.1,1364.4 1197.1,1363.3 1197.1,1360.2 1200.2,1358.2 1204,1357.9M1243.1,1364 1249.3,1364 1249.7,1371.8 1247,1375.6 1247.4,1380.6 1256.3,1385.3 1254.3,1386.4 1250.5,1382.2 1244.6,1382.6 1243.1,1379.5 1240.8,1375.6 1241.9,1372.9 1242.3,1367.9 1243.1,1364M1261.7,1397.6 1265.9,1404.6 1264.8,1410.4 1261.7,1413.9 1261.3,1409.2 1256.3,1411.2 1256.3,1406.5 1249.3,1408.5 1251.6,1403.8 1256.3,1402.7 1261.7,1397.6M1257.4,1387.2 1262.1,1388 1262.4,1393 1260.1,1396.1 1257.8,1391.8 1257.4,1387.2M1248.5,1389.9 1252.8,1391.1 1253.9,1396.9 1252,1400.3 1250.1,1396.9 1248.5,1394.9 1248.5,1389.9M1238.8,1391.8 1236.9,1396.1 1230.3,1403.1 1235,1396.9 1238.8,1391.8M1242.7,1383.4 1246.6,1384.5 1245.4,1388 1243.9,1386.1 1242.7,1383.4M1229.2,1408.5 1236.9,1415.4 1233,1418.9 1232.3,1423.9 1233,1431.6 1231.1,1439.4 1227.2,1445.2 1225.3,1451 1219.5,1451 1213.7,1447.9 1207.9,1447.1 1202.9,1442.5 1198.2,1437.4 1198.2,1429.7 1204,1428.5 1207.1,1425.8 1213.7,1423.1 1219.5,1417 1225.3,1412.3 1229.2,1408.5M1145.3,1413.9 1153.8,1415.4 1158.4,1420.8 1165.4,1427 1175,1433.6 1178.9,1439.4 1186.6,1447.1 1185.9,1457.9 1180.8,1457.9 1172.3,1451 1167.3,1445.2 1164.6,1438.6 1158.8,1428.9 1152.6,1423.1 1146,1417 1145.3,1413.9M1183.5,1461.8 1188.6,1458.7 1196.3,1461 1205.2,1460.2 1212.5,1462.5 1219.5,1465.2 1219.5,1469.1 1206,1467.6 1194.4,1465.6 1188.6,1464.1 1183.5,1461.8M1240.8,1432.4 1244.6,1430.5 1252.4,1432 1260.1,1429.3 1258.2,1433.6 1252.4,1434 1243.9,1434 1241.6,1439 1246.6,1439 1253.5,1438.6 1247.4,1442.8 1251.6,1450.6 1250.5,1456 1247.4,1453.7 1244.6,1446.3 1242.7,1447.1 1242.3,1456.7 1238.8,1456.7 1238.8,1449 1236.1,1446.3 1240,1435.9 1240.8,1432.4M1283.3,1438.6 1289.1,1437 1294.9,1438.6 1296.1,1445.2 1300.7,1448.2 1306.5,1442.5 1312.3,1442.5 1322,1445.5 1331.7,1449 1337.5,1452.1 1340.6,1456.7 1347.1,1458.7 1346,1461.8 1351,1470.3 1358.7,1475.3 1354.9,1475.7 1346,1472.2 1341.3,1466.4 1335.5,1465.2 1331.7,1467.6 1329,1471 1322,1470.7 1314.3,1466.4 1310.4,1467.9 1309.6,1463.3 1313.1,1461.8 1310.4,1456.7 1302.7,1453.3 1293,1450.2 1290.3,1451 1287.2,1446.3 1293.8,1444.4 1288.4,1444 1283.3,1440.9 1283.3,1438.6M1254.3,1475.3 1260.1,1470.3 1267.9,1467.9 1265.9,1470.3 1258.2,1474.9 1254.3,1475.3M1236.9,1467.9 1244.6,1467.9 1252.4,1467.6 1250.5,1469.5 1240.8,1469.9 1236.9,1467.9M1228.4,1467.9 1235,1467.6 1236.9,1469.1 1229.2,1470.3 1228.4,1467.9M1270.6,1427 1273.7,1429.7 1274,1434.3 1270.9,1438.6 1270.2,1431.6 1270.6,1427M1271.7,1446.7 1282.2,1447.9 1279.5,1449.4 1271.7,1448.6 1271.7,1446.7M1264,1447.9 1268.6,1448.2 1267.1,1450.2 1264,1449.4 1264,1447.9M1350.6,1456.7 1358.7,1456.7 1365.3,1451.7 1365.7,1454.8 1360.7,1458.7 1352.9,1459.4 1350.6,1456.7M1359.9,1445.5 1366.5,1449.4 1368.4,1453.3 1365.3,1448.2 1359.9,1445.5M1375,1456.4 1379.6,1461 1377.7,1462.2 1375,1456.4M1383.9,1464.1 1393.6,1467.6 1389.7,1466.4 1383.9,1464.1M1394.7,1471.4 1398.6,1473.4 1395.5,1473.7 1394.7,1471.4M1398.6,1468.3 1401.7,1472.6M1401.3,1474.9 1404.4,1477.2M1421.4,1493.4 1423.3,1496.9 1421.8,1495.8 1421.4,1493.4M1424.5,1498.1 1427.2,1503.9M1411,1513.5 1422.6,1521.3 1420.6,1521.6 1411.7,1515.8 1411,1513.5M1462.4,1503.1 1467.4,1504.3 1464.3,1505.8 1462.4,1503.1M448.3,1350.9 455.7,1346.7 463.4,1346.3 471.1,1349 478.9,1352.4 484.7,1355.5 489.7,1357.5 486.6,1358.6 476.9,1358.6 478.1,1355.9 473.1,1354.4 465.3,1350.5 459.5,1349.4 453.7,1349.7 448.3,1350.9M488.9,1364 494.3,1358.6 500.1,1358.6 505.9,1359.8 512.1,1363.7 507.9,1364.4 502.1,1365.2 499.4,1366.7 494.3,1365.2 488.9,1364M473.8,1364.8 481.6,1365.6 478.9,1366.7 473.8,1364.8M516.8,1364.4 522.6,1364.8 521.4,1366.2 516.8,1366 516.8,1364.4M475,1332.4 478.1,1333.1M475.8,1340.9 476.2,1343.6M538.8,1394.2 540.7,1396.1 537.7,1396.5 538.8,1394.2M562,1236.6 560.9,1242.4 569.8,1244.3 572.8,1252 567.8,1254.7 560.1,1253.9 547.3,1251.2 552.3,1244.3 557,1238.5 562,1236.6M529.1,1242.7 536.9,1244.7 529.1,1245.1 529.1,1242.7M528,1253.9 536.9,1256.3 531.1,1257.4 528,1253.9M280.5,1239.7 291.3,1241.2 299,1248.2 293.2,1247.4 287.4,1244.3 280.5,1239.7M262.3,1226.5 267.3,1226.9 270,1233.9 264.2,1230.8 262.3,1226.5M179.1,1213.4 186.9,1211.5 187.6,1214.2 181.1,1216.1 179.1,1213.4M173.3,1359 177.2,1359.8 174.9,1362.1 173.3,1359M170.6,1354.8 173.3,1355.5M164.8,1352.4 166.7,1352.8M159,1350.1 160.6,1350.5M252.6,1213.4 256.5,1218M258.4,1211.8 262.3,1218M112.2,1189.4 123.8,1191.4 117.2,1190.6 112.2,1189.4M131.9,1202.6 135.8,1204.1M467.3,1150.8 478.9,1154.3 490.5,1158.5 502.1,1161.2 511.7,1165.1 517.5,1169 534.9,1176.7 538.8,1180.6 529.1,1184.4 525.3,1192.1 519.5,1192.1 511.7,1194.8 500.1,1190.2 488.5,1186.3 475,1185.6 478.9,1182.5 490.5,1182.5 496.3,1174.8 478.9,1170.9 471.1,1165.1 459.5,1165.9 447.9,1165.1 436.3,1163.2 430.5,1159.3 430.5,1153.5 447.9,1150.4 463.4,1152.4 467.3,1150.8M324.2,1153.5 343.5,1154.7 359,1152.7 370.6,1153.5 372.5,1161.2 384.1,1165.9 378.3,1169.7 359,1170.1 337.7,1170.9 326.1,1167 324.2,1163.9 339.6,1163.2 320.3,1159.3 316.4,1156.2 324.2,1153.5M293.2,1148.9 308.7,1147.7 322.2,1151.6 308.7,1154.3 301,1159.3 289.4,1157.4 293.2,1153.5 293.2,1148.9M420.8,1121.4 447.9,1116.8 486.6,1114.5 525.3,1115.7 536.9,1118.7 517.5,1122.6 498.2,1128.4 482.7,1130.3 475,1138.1 455.7,1140.4 432.5,1140 440.2,1134.2 436.3,1128.4 420.8,1121.4M405.4,1140 428.6,1141.9 459.5,1142.7 467.3,1146.9 440.2,1147.7 420.8,1146.9 405.4,1140M440.2,1182.5 451.8,1181.3 463.4,1188.3 455.7,1191.4 444.1,1190.2 440.2,1182.5M328,1140 351.2,1140.8 366.7,1142.7 366.7,1145.8 343.5,1147.7 324.2,1145 328,1140M374.4,1140 397.6,1140 397.6,1145.8 382.2,1143.9 374.4,1140M382.2,1151.6 401.5,1150.4 401.5,1157.4 393.8,1159.3 382.2,1155.4 382.2,1151.6M407.3,1149.6 426.7,1149.6 428.6,1154.3 413.1,1157.4 407.3,1153.5 407.3,1149.6M405.4,1124.5 424.7,1125.3 440.2,1128.4 424.7,1132.3 409.2,1128.4 405.4,1124.5M389.9,1169.3 405.4,1167.8 397.6,1165.9 389.9,1169.3M370.6,1129.2 389.9,1130.3 378.3,1133 370.6,1129.2M301,1140.8 320.3,1141.2 308.7,1142.3 301,1140.8M465.3,1192.9 469.2,1196 467.3,1196.8 465.3,1192.9M469.2,1217.2 471.1,1219.2M819.2,1128.4 838.6,1126.5 857.9,1124.5 881.1,1125.7 861.8,1130.3 850.2,1132.3 857.9,1136.1 842.4,1139.2 830.8,1136.1 821.1,1131.1 819.2,1128.4M975.9,1161.2 983.6,1162 999.1,1161.2 993.3,1153.5 1001,1147.7 1020.3,1142.7 1042.8,1138.8 1031.9,1138.1 1008.7,1141.2 993.3,1145 985.5,1151.6 977.8,1157.4 975.9,1161.2M1148,1130.3 1163.4,1127.2 1182.8,1130.3 1175,1133.4 1159.6,1134.2 1148,1130.3M1144.1,1123.8 1155.7,1121.8 1151.8,1125.3 1144.1,1123.8M1306.5,1143.9 1322,1141.9 1337.5,1143.9 1356.8,1145 1349.1,1146.6 1325.9,1146.6 1310.4,1146.6 1306.5,1143.9M1318.1,1150.4 1329.7,1151.2 1323.9,1152.4 1318.1,1150.4M1468.2,1159.3 1472.8,1159.7M80.5,1159.7 90.2,1160.5 82.4,1161.6 80.5,1161.4M1472.8,1161.4 1468.2,1160.9 1468.2,1159.3M958.4,1124.5 973.9,1123.4 993.3,1124.2 1008.7,1122.6 993.3,1125.7 970,1126.5 958.4,1124.5M1002.9,1164.3 1010.7,1165.5 1004.9,1166.3 1002.9,1164.3M825,1288.7 837,1287.6 835.1,1293.7 825,1290.3 825,1288.7M808.4,1277.1 814.2,1277.1 813.8,1284.1 809.5,1284.8 808.4,1277.1M809.9,1271.3 813,1269.4 813.4,1275.2 810.7,1274.8 809.9,1271.3M867.9,1298.4 878.4,1299.5 871.4,1300.3 867.9,1298.4M901.6,1300.3 910.1,1298 907.4,1301.1 903.1,1301.8 901.6,1300.3M817.3,1221.1 825,1219.2 824.2,1223 819.2,1223.8 817.3,1221.1M511.4,1639.1 512.9,1642.2 524.5,1646.8 519.5,1648.7 509.8,1649.9 498.2,1646 488.5,1639.5 502.1,1643.7 504,1639.8 511.4,1639.1M540.7,1633.7 552.3,1634.4 548.5,1637.5 540.7,1636.4 540.7,1633.7M1042.8,1624 1049.3,1625.2 1045.5,1627.5 1042.8,1625.9 1042.8,1624M489.7,1597.7 492.4,1599.7 491.6,1603.1 489.3,1601.6 489.7,1597.7M80.5,1761.5 101.8,1760.4 123,1763.1 150.1,1764.6 182.2,1764.6 204.3,1763.8 222.4,1762.3 196.5,1760 183,1753.4 196.5,1750.7 208.9,1745.3 195.4,1742.6 168.7,1745.3 163.3,1734.5 187.2,1731.8 213.9,1724.8 241,1722.9 283.5,1720.2 316.4,1718.6 347.8,1720.6 370.6,1722.9 388.4,1724.1 382.2,1715.6 401.5,1714.8 401.5,1718.6 428.6,1717.1 455.7,1718.6 482,1718.6 503.2,1715.9 508.6,1713.2 519.5,1697 535.3,1686.2 554.3,1681.2 535.3,1691.6 527.2,1699.7 538,1710.5 540.7,1718.6 527.2,1726.8 508.6,1729.1 482,1731.8 476.5,1737.2 487.4,1742.6 508.6,1745.3 524.9,1748 551.6,1755 572.8,1750.7 594.5,1749.6 615.8,1745.3 637,1742.6 666.8,1745.3 639.8,1738.7 669.1,1731.8 696.2,1726.8 717.5,1718.6 739.2,1712.1 770.1,1710.5 802.2,1705.1 818.1,1707.8 839.7,1705.1 866.4,1706.7 903.9,1701.3 925.2,1703.6 952.3,1695.9 984.4,1688.9 1005.6,1694.3 1037.7,1697 1043.1,1703.6 1037.7,1709 1045.9,1713.2 1059.4,1705.1 1080.7,1698.2 1112.8,1692.8 1118.2,1690.8 1123.6,1694.3 1155.7,1694.3 1171.9,1687.4 1187.8,1692.8 1214.5,1688.9 1236.1,1692.8 1262.8,1690.8 1294.9,1688.9 1300.3,1687.4 1305.8,1691.6 1337.9,1692.8 1348.7,1698.2 1370,1701.3 1396.6,1706.7 1436.9,1712.1 1428.7,1718.6 1407.5,1724.1 1412.9,1734.5 1421,1737.2 1396.6,1742.6 1393.9,1748 1412.9,1755 1439.6,1758.8 1460.1,1761.5 1472.8,1761.5M567.8,1745.3 589.1,1734.5 610.4,1739.9 607.7,1746.5 583.7,1748 567.8,1745.3M492.4,1712.1 503.2,1701.3 508.6,1705.1 505.9,1713.2 492.4,1712.1M144.3,1738.7 159.8,1738 159.8,1740.7 146.2,1740.7 144.3,1738.7M302.9,1141.2 316.4,1136.9 328,1136.1 324.2,1140.8 312.6,1142.7 302.9,1141.2M339.6,1133 351.2,1131.5 353.2,1134.6 341.6,1135.7 339.6,1133M370.6,1130.3 389.9,1130.3 393.8,1134.2 378.3,1135 370.6,1130.3M399.6,1131.1 409.2,1132.3 403.4,1135 399.6,1131.1M403.4,1143.5 415,1143.9 415,1146.9 405.4,1146.2 403.4,1143.5M463.4,1150.8 480.8,1152.4 480.8,1154.3 465.3,1153.9 463.4,1150.8M476.9,1172.1 484.7,1173.6 480.8,1175.5 476.9,1172.1M455.7,1192.1 461.5,1192.9 457.6,1194.8 455.7,1192.1M459.5,1230 465.3,1231.5M428.6,1120.7 447.9,1126.5 455.7,1130.3M459.5,1124.5 482.7,1127.2M447.9,1122.6 482.7,1123.8M525.3,1182.5 513.7,1178.6 527.2,1178.6M523.3,1192.9 511.7,1189M691.6,1163.9 672.2,1163.2 680,1159.3 691.6,1159.3M378.3,1144.6 388,1143.5 388,1145.8 378.3,1144.6M389.9,1138.8 401.5,1139.2M469.2,1138.4 475,1141.2"/>
</g>
<rect class="fr" x="80.5" y="1097.5" width="1373.0" height="676.0"/>
<rect x="78.2" y="1816.5" width="55.7" height="69" fill="#000096"/>
<rect x="133.3" y="1816.5" width="55.7" height="69" fill="#0000c4"/>
<rect x="188.4" y="1816.5" width="55.7" height="69" fill="#0000f1"/>
<rect x="243.4" y="1816.5" width="55.7" height="69" fill="#000cff"/>
<rect x="298.5" y="1816.5" width="55.7" height="69" fill="#0038ff"/>
<rect x="353.6" y="1816.5" width="55.7" height="69" fill="#0060ff"/>
<rect x="408.7" y="1816.5" width="55.7" height="69" fill="#0088ff"/>
<rect x="463.8" y="1816.5" width="55.7" height="69" fill="#00b0ff"/>
<rect x="518.8" y="1816.5" width="55.7" height="69" fill="#00dcfe"/>
<rect x="573.9" y="1816.5" width="55.7" height="69" fill="#19ffde"/>
<rect x="629" y="1816.5" width="55.7" height="69" fill="#39ffbe"/>
<rect x="684.1" y="1816.5" width="55.7" height="69" fill="#5aff9d"/>
<rect x="739.2" y="1816.5" width="55.7" height="69" fill="#7dff7a"/>
<rect x="794.2" y="1816.5" width="55.7" height="69" fill="#9dff5a"/>
<rect x="849.3" y="1816.5" width="55.7" height="69" fill="#beff39"/>
<rect x="904.4" y="1816.5" width="55.7" height="69" fill="#deff19"/>
<rect x="959.5" y="1816.5" width="55.7" height="69" fill="#feed00"/>
<rect x="1014.6" y="1816.5" width="55.7" height="69" fill="#ffc400"/>
<rect x="1069.6" y="1816.5" width="55.7" height="69" fill="#ff9f00"/>
<rect x="1124.7" y="1816.5" width="55.7" height="69" fill="#ff7a00"/>
<rect x="1179.8" y="1816.5" width="55.7" height="69" fill="#ff5500"/>
<rect x="1234.9" y="1816.5" width="55.7" height="69" fill="#ff2d00"/>
<rect x="1290" y="1816.5" width="55.7" height="69" fill="#f10800"/>
<rect x="1345" y="1816.5" width="55.7" height="69" fill="#c40000"/>
<rect x="1400.1" y="1816.5" width="55.7" height="69" fill="#960000"/>
<rect class="fr" x="78.5" y="1816.5" width="1377.0" height="69.0"/>
<line class="tk" x1="78.5" y1="1885.5" x2="78.5" y2="1900.4"/>
<text class="tl" transform="translate(78.5 1946.1) scale(0.958 1)">0</text>
<line class="tk" x1="243.7" y1="1885.5" x2="243.7" y2="1900.4"/>
<text class="tl" transform="translate(243.7 1946.1) scale(0.958 1)">15</text>
<line class="tk" x1="409" y1="1885.5" x2="409" y2="1900.4"/>
<text class="tl" transform="translate(409 1946.1) scale(0.958 1)">30</text>
<line class="tk" x1="574.2" y1="1885.5" x2="574.2" y2="1900.4"/>
<text class="tl" transform="translate(574.2 1946.1) scale(0.958 1)">45</text>
<line class="tk" x1="739.5" y1="1885.5" x2="739.5" y2="1900.4"/>
<text class="tl" transform="translate(739.5 1946.1) scale(0.958 1)">60</text>
<line class="tk" x1="904.7" y1="1885.5" x2="904.7" y2="1900.4"/>
<text class="tl" transform="translate(904.7 1946.1) scale(0.958 1)">75</text>
<line class="tk" x1="1069.9" y1="1885.5" x2="1069.9" y2="1900.4"/>
<text class="tl" transform="translate(1069.9 1946.1) scale(0.958 1)">90</text>
<line class="tk" x1="1235.2" y1="1885.5" x2="1235.2" y2="1900.4"/>
<text class="tl" transform="translate(1235.2 1946.1) scale(0.958 1)">105</text>
<line class="tk" x1="1400.4" y1="1885.5" x2="1400.4" y2="1900.4"/>
<text class="tl" transform="translate(1400.4 1946.1) scale(0.958 1)">120</text>
<text class="tt" x="767" y="2057.5">Plasmasphere (h=1500.0 km), 2024-09-12 04:00 UT</text>
<g clip-path="url(#c2)">
<g class="bands"><path fill="#00009b" stroke="#00009b" d="M763.4,2623.3 776.7,2620 796,2617.6 815.3,2616.8 834.7,2616.9 854,2617.6 873.4,2620 884.7,2623.3 892.7,2629.2 895.8,2633 892.7,2640 890.6,2642.6 873.4,2647.8 854,2649.8 834.7,2649.7 815.3,2648.5 796,2646.7 776.7,2644.1 769.2,2642.6 757.3,2636.4 753,2633 757.3,2628.2 763.4,2623.3Z"/>
<path fill="#0000d6" stroke="#0000d6" d="M592,2169.4 602.6,2167.2 622,2165.1 641.3,2164.3 660.6,2164.1 680,2164.2 699.3,2164.6 718.7,2165.6 738,2167.4 751,2169.4 757.3,2170.7 776.7,2176.6 782.3,2179.1 792.4,2188.7 793.1,2198.4 786,2208 776.7,2213.3 765.4,2217.7 757.3,2219.4 738,2221.1 718.7,2221.1 699.3,2220.4 680,2219.6 660.6,2219 641.3,2218.7 622,2218.2 616.7,2217.7 602.6,2215.6 583.3,2209.6 579.5,2208 568.6,2198.4 565.9,2188.7 571,2179.1 583.3,2172.1 592,2169.4ZM944.9,2179.1 950.7,2177 970,2173.6 989.4,2173 1008.7,2173.8 1028.1,2175.5 1047.4,2178.2 1051.9,2179.1 1066.7,2182.6 1086.1,2187.8 1090.7,2188.7 1105.4,2193.6 1124.8,2194.5 1144.1,2191 1152.6,2188.7 1163.4,2187.2 1182.8,2184.8 1202.1,2183.3 1221.4,2182.6 1240.8,2182.4 1260.1,2182.6 1279.5,2183.7 1298.8,2186.2 1310.8,2188.7 1318.1,2190.9 1337.5,2198.4 1337.5,2198.4 1348.5,2208 1345.3,2217.7 1337.5,2222.1 1327.3,2227.4 1318.1,2230.2 1298.8,2234.5 1279.5,2236.6 1260.1,2236.7 1240.8,2235.9 1221.4,2234.9 1202.1,2233.5 1182.8,2231.5 1163.4,2228.3 1158.7,2227.4 1144.1,2222.8 1124.8,2218.1 1117,2217.7 1105.4,2216.4 1100,2217.7 1086.1,2219.2 1066.7,2222.4 1047.4,2225.1 1028.1,2226.7 1008.7,2226.6 989.4,2224.8 970,2220.8 959.3,2217.7 950.7,2213.1 941.8,2208 934,2198.4 933.8,2188.7 944.9,2179.1ZM998.5,2526.7 1008.7,2522.5 1028.1,2521 1047.4,2521.9 1066.7,2523.3 1086.1,2524.1 1105.4,2523.6 1124.8,2521.8 1144.1,2519.5 1163.4,2518.5 1182.8,2519.7 1202.1,2523.7 1210.5,2526.7 1209.6,2536.4 1202.1,2539.5 1182.8,2542.9 1163.4,2543.6 1144.1,2542.7 1124.8,2541.5 1105.4,2541 1086.1,2542.3 1066.7,2545.7 1064.9,2546 1047.4,2548 1028.1,2549.2 1008.7,2546.9 1006.7,2546 996,2536.4 998.5,2526.7ZM767.8,2594.3 776.7,2593.4 796,2592.3 815.3,2592.1 834.7,2592.3 854,2592.7 873.4,2593.5 883.6,2594.3 892.7,2595.1 912,2598.1 931.4,2603.7 932.1,2604 950.1,2613.6 950.7,2614.3 960.1,2623.3 964.1,2633 963.1,2642.6 957.6,2652.3 950.7,2658.4 945.7,2661.9 931.4,2667.6 912,2671.5 911.4,2671.6 892.7,2673.2 873.4,2674 854,2674.3 834.7,2674 815.3,2673.2 796,2672.2 785.7,2671.6 776.7,2671.1 757.3,2670 738,2668.7 718.7,2666.7 699.3,2663.3 694,2661.9 680,2657 669.9,2652.3 660.6,2643.3 660.1,2642.6 660.6,2636.4 661,2633 671.6,2623.3 680,2619.1 690.8,2613.6 699.3,2610.5 718,2604 718.7,2603.8 738,2599.1 757.3,2595.6 767.8,2594.3ZM776.7,2620 763.4,2623.3 757.3,2628.2 753,2633 757.3,2636.4 769.2,2642.6 776.7,2644.1 796,2646.7 815.3,2648.5 834.7,2649.7 854,2649.8 873.4,2647.8 890.6,2642.6 892.7,2640 895.8,2633 892.7,2629.2 884.7,2623.3 873.4,2620 854,2617.6 834.7,2616.9 815.3,2616.8 796,2617.6 776.7,2620Z"/>
<path fill="#0000ff" stroke="#0000ff" d="M293.6,2082.5 312.6,2082.5 331.9,2082.5 351.2,2082.5 370.6,2082.5 389.9,2082.5 409.2,2082.5 428.6,2082.5 447.9,2082.5 467.3,2082.5 486.6,2082.5 505.9,2082.5 525.3,2082.5 544.6,2082.5 564,2082.5 583.3,2082.5 602.6,2082.5 622,2082.5 641.3,2082.5 660.6,2082.5 680,2082.5 699.3,2082.5 718.7,2082.5 738,2082.5 757.3,2082.5 776.7,2082.5 796,2082.5 815.3,2082.5 834.7,2082.5 854,2082.5 873.4,2082.5 892.7,2082.5 912,2082.5 931.4,2082.5 950.7,2082.5 970,2082.5 989.4,2082.5 1008.7,2082.5 1028.1,2082.5 1047.3,2082.5 1039.5,2092.2 1036.4,2101.8 1040.1,2111.5 1047.4,2117.7 1052.5,2121.1 1066.7,2126.6 1080.9,2130.8 1086.1,2131.9 1105.4,2135.8 1124.8,2139.7 1128.1,2140.4 1144.1,2143.2 1163.4,2146.3 1182.8,2148.9 1192.1,2150.1 1202.1,2151.1 1221.4,2153 1240.8,2154.9 1260.1,2156.9 1279.5,2159.2 1283.1,2159.8 1298.8,2161.9 1318.1,2165.2 1337.2,2169.4 1337.5,2169.5 1356.8,2174.5 1373.1,2179.1 1376.1,2180 1395.5,2186.1 1402.9,2188.7 1414.8,2194.2 1422.6,2198.4 1432.2,2208 1432.4,2217.7 1422.4,2227.4 1414.8,2230.9 1397.3,2237 1395.5,2237.5 1376.1,2241.7 1356.8,2246.3 1355.2,2246.7 1337.5,2250.5 1318.1,2254.5 1306.7,2256.3 1298.8,2257.5 1279.5,2259.5 1260.1,2260.7 1240.8,2261.4 1221.4,2262 1202.1,2262.4 1182.8,2262.6 1163.4,2262.5 1144.1,2262.2 1124.8,2261.7 1105.4,2261.2 1086.1,2260.6 1066.7,2259.8 1047.4,2259 1028.1,2258.1 1008.7,2257.5 989.4,2256.9 970,2256.4 967.1,2256.3 950.7,2255.7 931.4,2254.7 912,2253.7 892.7,2253.2 873.4,2253.8 854,2255.6 849.2,2256.3 834.7,2258.2 815.3,2261.3 796,2263.8 776.7,2264.2 757.3,2262.1 738,2258.4 727.3,2256.3 718.7,2254.8 699.3,2251.8 680,2249.7 660.6,2248.7 641.3,2248.6 622,2249.1 602.6,2249.6 583.3,2249.7 564,2249.2 544.6,2248.1 525.3,2246.8 523.4,2246.7 505.9,2244.9 486.6,2242.5 467.3,2239.6 450.7,2237 447.9,2236.4 428.6,2232.7 409.2,2229.4 400.4,2227.4 389.9,2223.9 379.3,2217.7 370.6,2211.6 367,2208 357,2198.4 351.2,2193.3 346.7,2188.7 336.3,2179.1 331.9,2175 326.1,2169.4 317,2159.8 312.6,2154.1 309.7,2150.1 304.9,2140.4 301.7,2130.8 299.8,2121.1 298.5,2111.5 297.3,2101.8 295.6,2092.2 293.6,2082.5ZM602.6,2167.2 592,2169.4 583.3,2172.1 571,2179.1 565.9,2188.7 568.6,2198.4 579.5,2208 583.3,2209.6 602.6,2215.6 616.7,2217.7 622,2218.2 641.3,2218.7 660.6,2219 680,2219.6 699.3,2220.4 718.7,2221.1 738,2221.1 757.3,2219.4 765.4,2217.7 776.7,2213.3 786,2208 793.1,2198.4 792.4,2188.7 782.3,2179.1 776.7,2176.6 757.3,2170.7 751,2169.4 738,2167.4 718.7,2165.6 699.3,2164.6 680,2164.2 660.6,2164.1 641.3,2164.3 622,2165.1 602.6,2167.2ZM950.7,2177 944.9,2179.1 933.8,2188.7 934,2198.4 941.8,2208 950.7,2213.1 959.3,2217.7 970,2220.8 989.4,2224.8 1008.7,2226.6 1028.1,2226.7 1047.4,2225.1 1066.7,2222.4 1086.1,2219.2 1100,2217.7 1105.4,2216.4 1117,2217.7 1124.8,2218.1 1144.1,2222.8 1158.7,2227.4 1163.4,2228.3 1182.8,2231.5 1202.1,2233.5 1221.4,2234.9 1240.8,2235.9 1260.1,2236.7 1279.5,2236.6 1298.8,2234.5 1318.1,2230.2 1327.3,2227.4 1337.5,2222.1 1345.3,2217.7 1348.5,2208 1337.5,2198.4 1337.5,2198.4 1318.1,2190.9 1310.8,2188.7 1298.8,2186.2 1279.5,2183.7 1260.1,2182.6 1240.8,2182.4 1221.4,2182.6 1202.1,2183.3 1182.8,2184.8 1163.4,2187.2 1152.6,2188.7 1144.1,2191 1124.8,2194.5 1105.4,2193.6 1090.7,2188.7 1086.1,2187.8 1066.7,2182.6 1051.9,2179.1 1047.4,2178.2 1028.1,2175.5 1008.7,2173.8 989.4,2173 970,2173.6 950.7,2177ZM963.4,2488.1 970,2486.5 989.4,2485.1 1008.7,2486.1 1025.1,2488.1 1028.1,2488.4 1047.4,2491.1 1066.7,2493.4 1086.1,2495 1105.4,2496.1 1124.8,2497 1140.7,2497.8 1144.1,2497.9 1163.4,2499.2 1182.8,2501 1202.1,2503.4 1221.4,2506.4 1226.7,2507.4 1240.8,2510.9 1260,2517.1 1260.1,2517.2 1273.6,2526.7 1277,2536.4 1274.8,2546 1267.7,2555.7 1260.1,2560.6 1247.4,2565.4 1240.8,2566.8 1221.4,2569 1202.1,2569.8 1182.8,2570 1163.4,2569.9 1144.1,2570 1124.8,2570.5 1105.4,2571.7 1086.1,2574.1 1081,2575 1066.7,2578.1 1048.7,2584.7 1047.4,2585.4 1034.9,2594.3 1028.7,2604 1028.1,2605.5 1024.7,2613.6 1021.5,2623.3 1018.1,2633 1014.1,2642.6 1009.3,2652.3 1008.7,2653.2 1002.2,2661.9 994.2,2671.6 989.4,2676.7 983.2,2681.2 970,2689 964,2690.9 950.7,2694.3 931.4,2696.4 912,2696.8 892.7,2696.8 873.4,2696.9 854,2697.1 834.7,2697 815.3,2696.4 796,2695.5 776.7,2694.8 757.3,2694.4 738,2694.1 718.7,2693.4 699.3,2691.8 693.4,2690.9 680,2688.9 660.6,2684.6 648.9,2681.2 641.3,2678.8 622.8,2671.6 622,2671.2 607.2,2661.9 602.6,2657.1 599,2652.3 596.3,2642.6 598,2633 602.6,2625.6 604.3,2623.3 617.1,2613.6 622,2611.1 639.3,2604 641.3,2603.3 660.6,2597.6 671.8,2594.3 680,2592.2 699.3,2587.2 710,2584.7 718.7,2582.8 738,2579 757.3,2575.9 764,2575 776.7,2573.2 796,2570.8 815.3,2568.9 834.7,2567.6 854,2566.9 873.4,2566.3 884.2,2565.4 892.7,2564.2 912,2556.8 913.5,2555.7 919.2,2546 921.5,2536.4 923.2,2526.7 925.9,2517.1 930.9,2507.4 931.4,2506.9 940.8,2497.8 950.7,2492.1 963.4,2488.1ZM1008.7,2522.5 998.5,2526.7 996,2536.4 1006.7,2546 1008.7,2546.9 1028.1,2549.2 1047.4,2548 1064.9,2546 1066.7,2545.7 1086.1,2542.3 1105.4,2541 1124.8,2541.5 1144.1,2542.7 1163.4,2543.6 1182.8,2542.9 1202.1,2539.5 1209.6,2536.4 1210.5,2526.7 1202.1,2523.7 1182.8,2519.7 1163.4,2518.5 1144.1,2519.5 1124.8,2521.8 1105.4,2523.6 1086.1,2524.1 1066.7,2523.3 1047.4,2521.9 1028.1,2521 1008.7,2522.5ZM776.7,2593.4 767.8,2594.3 757.3,2595.6 738,2599.1 718.7,2603.8 718,2604 699.3,2610.5 690.8,2613.6 680,2619.1 671.6,2623.3 661,2633 660.6,2636.4 660.1,2642.6 660.6,2643.3 669.9,2652.3 680,2657 694,2661.9 699.3,2663.3 718.7,2666.7 738,2668.7 757.3,2670 776.7,2671.1 785.7,2671.6 796,2672.2 815.3,2673.2 834.7,2674 854,2674.3 873.4,2674 892.7,2673.2 911.4,2671.6 912,2671.5 931.4,2667.6 945.7,2661.9 950.7,2658.4 957.6,2652.3 963.1,2642.6 964.1,2633 960.1,2623.3 950.7,2614.3 950.1,2613.6 932.1,2604 931.4,2603.7 912,2598.1 892.7,2595.1 883.6,2594.3 873.4,2593.5 854,2592.7 834.7,2592.3 815.3,2592.1 796,2592.3 776.7,2593.4Z"/>
<path fill="#0030ff" stroke="#0030ff" d="M80.5,2082.5 99.8,2082.5 119.2,2082.5 138.5,2082.5 157.9,2082.5 177.2,2082.5 196.5,2082.5 215.9,2082.5 235.2,2082.5 254.5,2082.5 273.9,2082.5 293.2,2082.5 293.6,2082.5 295.6,2092.2 297.3,2101.8 298.5,2111.5 299.8,2121.1 301.7,2130.8 304.9,2140.4 309.7,2150.1 312.6,2154.1 317,2159.8 326.1,2169.4 331.9,2175 336.3,2179.1 346.7,2188.7 351.2,2193.3 357,2198.4 367,2208 370.6,2211.6 379.3,2217.7 389.9,2223.9 400.4,2227.4 409.2,2229.4 428.6,2232.7 447.9,2236.4 450.7,2237 467.3,2239.6 486.6,2242.5 505.9,2244.9 523.4,2246.7 525.3,2246.8 544.6,2248.1 564,2249.2 583.3,2249.7 602.6,2249.6 622,2249.1 641.3,2248.6 660.6,2248.7 680,2249.7 699.3,2251.8 718.7,2254.8 727.3,2256.3 738,2258.4 757.3,2262.1 776.7,2264.2 796,2263.8 815.3,2261.3 834.7,2258.2 849.2,2256.3 854,2255.6 873.4,2253.8 892.7,2253.2 912,2253.7 931.4,2254.7 950.7,2255.7 967.1,2256.3 970,2256.4 989.4,2256.9 1008.7,2257.5 1028.1,2258.1 1047.4,2259 1066.7,2259.8 1086.1,2260.6 1105.4,2261.2 1124.8,2261.7 1144.1,2262.2 1163.4,2262.5 1182.8,2262.6 1202.1,2262.4 1221.4,2262 1240.8,2261.4 1260.1,2260.7 1279.5,2259.5 1298.8,2257.5 1306.7,2256.3 1318.1,2254.5 1337.5,2250.5 1355.2,2246.7 1356.8,2246.3 1376.1,2241.7 1395.5,2237.5 1397.3,2237 1414.8,2230.9 1422.4,2227.4 1432.4,2217.7 1432.2,2208 1422.6,2198.4 1414.8,2194.2 1402.9,2188.7 1395.5,2186.1 1376.1,2180 1373.1,2179.1 1356.8,2174.5 1337.5,2169.5 1337.2,2169.4 1318.1,2165.2 1298.8,2161.9 1283.1,2159.8 1279.5,2159.2 1260.1,2156.9 1240.8,2154.9 1221.4,2153 1202.1,2151.1 1192.1,2150.1 1182.8,2148.9 1163.4,2146.3 1144.1,2143.2 1128.1,2140.4 1124.8,2139.7 1105.4,2135.8 1086.1,2131.9 1080.9,2130.8 1066.7,2126.6 1052.5,2121.1 1047.4,2117.7 1040.1,2111.5 1036.4,2101.8 1039.5,2092.2 1047.3,2082.5 1047.4,2082.5 1066.7,2082.5 1086.1,2082.5 1105.4,2082.5 1124.8,2082.5 1144.1,2082.5 1163.4,2082.5 1182.8,2082.5 1202.1,2082.5 1221.4,2082.5 1240.8,2082.5 1260.1,2082.5 1279.5,2082.5 1298.8,2082.5 1318.1,2082.5 1337.5,2082.5 1356.8,2082.5 1376.1,2082.5 1395.5,2082.5 1414.8,2082.5 1434.2,2082.5 1453.5,2082.5 1453.5,2092.2 1453.5,2095.4 1434.2,2092.4 1432.2,2092.2 1414.8,2089.7 1395.5,2088.6 1376.1,2088.7 1356.8,2089.7 1337.5,2091 1323.2,2092.2 1318.1,2092.6 1298.8,2095 1279.5,2099.2 1272.1,2101.8 1263.8,2111.5 1270.3,2121.1 1279.5,2125.7 1290.4,2130.8 1298.8,2133.1 1318.1,2138.3 1325.6,2140.4 1337.5,2143.1 1356.8,2148.6 1361.2,2150.1 1376.1,2154.3 1393,2159.8 1395.5,2160.5 1414.8,2166.3 1424.1,2169.4 1434.2,2172.8 1450.8,2179.1 1453.5,2180.3 1453.5,2188.7 1453.5,2198.4 1453.5,2208 1453.5,2217.7 1453.5,2227.4 1453.5,2237 1453.5,2246.7 1453.5,2246.7 1434.2,2251.5 1414.8,2255.1 1407.9,2256.3 1395.5,2258.2 1376.1,2261.7 1356.8,2265.7 1355.6,2266 1337.5,2269.8 1318.1,2273.7 1306.7,2275.6 1298.8,2277 1279.5,2280 1260.1,2283 1244,2285.3 1240.8,2285.8 1221.4,2287.9 1202.1,2289.2 1182.8,2289.6 1163.4,2289.3 1144.1,2288.8 1124.8,2288.2 1105.4,2287.6 1086.1,2286.6 1068.7,2285.3 1066.7,2285.1 1047.4,2283 1028.1,2280.9 1008.7,2279.2 989.4,2278.2 970,2277.8 950.7,2277.8 931.4,2278.3 912,2279.2 892.7,2280.6 873.4,2282.5 854,2285 852.3,2285.3 834.7,2288.4 815.3,2292.3 800.2,2295 796,2295.7 776.7,2296.9 757.3,2295 757.3,2295 738,2290.6 718.7,2285.7 716.7,2285.3 699.3,2281.7 680,2279 660.6,2277.5 641.3,2277 622,2277.1 602.6,2277.4 583.3,2277.3 564,2276.1 561.1,2275.6 544.6,2273.3 525.3,2270 505.9,2267.1 496.4,2266 486.6,2264.7 467.3,2263 447.9,2261.7 428.6,2260.7 409.2,2259.8 389.9,2258.4 374.8,2256.3 370.6,2255.5 351.2,2249.5 344.6,2246.7 331.9,2238.8 329.2,2237 317.6,2227.4 312.6,2222.5 306.7,2217.7 295.5,2208 293.2,2206.1 282.8,2198.4 273.9,2191.2 270.5,2188.7 259.3,2179.1 254.5,2173.7 250.5,2169.4 243.5,2159.8 238,2150.1 235.2,2144.9 232.2,2140.4 224.7,2130.8 215.9,2122 214.5,2121.1 196.5,2112.4 193.8,2111.5 177.2,2107 157.9,2103.5 141.7,2101.8 138.5,2101.5 119.2,2100.7 99.8,2099.9 80.5,2098.2 80.5,2092.2 80.5,2082.5ZM80.5,2198.4 80.5,2190.7 89.8,2198.4 95.2,2208 95.8,2217.7 91.9,2227.4 81.7,2237 80.5,2237.7 80.5,2237 80.5,2227.4 80.5,2217.7 80.5,2208 80.5,2198.4ZM962.4,2459.1 970,2456.7 989.4,2453.5 1008.7,2455.4 1020.4,2459.1 1028.1,2461 1047.4,2466.7 1055,2468.8 1066.7,2471.5 1086.1,2475.2 1105.4,2478 1108.7,2478.4 1124.8,2480.4 1144.1,2482.5 1163.4,2484.6 1182.8,2486.9 1191.9,2488.1 1202.1,2489.5 1221.4,2492.4 1240.8,2495.5 1255.4,2497.8 1260.1,2498.7 1279.5,2502.7 1298.8,2507.1 1300.2,2507.4 1318.1,2513.6 1328.8,2517.1 1337.5,2521.1 1352.1,2526.7 1356.8,2529.1 1374.9,2536.4 1376.1,2537.1 1394.7,2546 1395.5,2547.2 1403.2,2555.7 1397.5,2565.4 1395.5,2566.9 1388.4,2575 1378.5,2584.7 1376.1,2586.5 1364.6,2594.3 1356.8,2597.6 1337.5,2602.3 1318.1,2603.6 1298.8,2602.7 1279.5,2600.7 1260.1,2598.3 1240.8,2595.9 1226.9,2594.3 1221.4,2593.7 1202.1,2591.8 1182.8,2590.4 1163.4,2589.6 1144.1,2589.6 1124.8,2590.7 1105.4,2593.5 1102.1,2594.3 1086.1,2599.2 1076.7,2604 1066.7,2611.1 1064.1,2613.6 1056.2,2623.3 1050,2633 1047.4,2637.2 1044.2,2642.6 1038.5,2652.3 1032.8,2661.9 1028.1,2669.7 1026.8,2671.6 1019.9,2681.2 1012.7,2690.9 1008.7,2695.8 1003.2,2700.6 989.8,2710.2 989.4,2710.5 970,2716.9 950.7,2719.8 950.4,2719.9 931.4,2721.8 912,2723.6 892.7,2725.3 873.4,2726.9 854,2728 834.7,2728.6 815.3,2728.8 796,2728.8 776.7,2728.3 757.3,2727.5 738,2726.4 718.7,2725 699.3,2722.9 680,2719.9 679.9,2719.9 660.6,2715.6 642.1,2710.2 641.3,2710 622,2703.9 611.7,2700.6 602.6,2697.5 584.2,2690.9 583.3,2690.5 565.4,2681.2 564,2680.1 554.3,2671.6 548.2,2661.9 545.7,2652.3 546.2,2642.6 549.8,2633 556.6,2623.3 564,2616.6 566.7,2613.6 579.3,2604 583.3,2601.6 596.4,2594.3 602.6,2591.3 620.3,2584.7 622,2584.1 641.3,2578.7 657.8,2575 660.6,2574.4 680,2570.3 699.3,2566.6 705.9,2565.4 718.7,2562.9 738,2559.1 753.7,2555.7 757.3,2554.7 776.7,2548.7 783.8,2546 796,2539 800.4,2536.4 810.3,2526.7 815.3,2519 817.1,2517.1 825.1,2507.4 834.2,2497.8 834.7,2497.3 854,2491.3 873.4,2488.7 874.9,2488.1 892.7,2483.3 903.1,2478.4 912,2475.4 929.4,2468.8 931.4,2468.1 950.7,2462 962.4,2459.1ZM970,2486.5 963.4,2488.1 950.7,2492.1 940.8,2497.8 931.4,2506.9 930.9,2507.4 925.9,2517.1 923.2,2526.7 921.5,2536.4 919.2,2546 913.5,2555.7 912,2556.8 892.7,2564.2 884.2,2565.4 873.4,2566.3 854,2566.9 834.7,2567.6 815.3,2568.9 796,2570.8 776.7,2573.2 764,2575 757.3,2575.9 738,2579 718.7,2582.8 710,2584.7 699.3,2587.2 680,2592.2 671.8,2594.3 660.6,2597.6 641.3,2603.3 639.3,2604 622,2611.1 617.1,2613.6 604.3,2623.3 602.6,2625.6 598,2633 596.3,2642.6 599,2652.3 602.6,2657.1 607.2,2661.9 622,2671.2 622.8,2671.6 641.3,2678.8 648.9,2681.2 660.6,2684.6 680,2688.9 693.4,2690.9 699.3,2691.8 718.7,2693.4 738,2694.1 757.3,2694.4 776.7,2694.8 796,2695.5 815.3,2696.4 834.7,2697 854,2697.1 873.4,2696.9 892.7,2696.8 912,2696.8 931.4,2696.4 950.7,2694.3 964,2690.9 970,2689 983.2,2681.2 989.4,2676.7 994.2,2671.6 1002.2,2661.9 1008.7,2653.2 1009.3,2652.3 1014.1,2642.6 1018.1,2633 1021.5,2623.3 1024.7,2613.6 1028.1,2605.5 1028.7,2604 1034.9,2594.3 1047.4,2585.4 1048.7,2584.7 1066.7,2578.1 1081,2575 1086.1,2574.1 1105.4,2571.7 1124.8,2570.5 1144.1,2570 1163.4,2569.9 1182.8,2570 1202.1,2569.8 1221.4,2569 1240.8,2566.8 1247.4,2565.4 1260.1,2560.6 1267.7,2555.7 1274.8,2546 1277,2536.4 1273.6,2526.7 1260.1,2517.2 1260,2517.1 1240.8,2510.9 1226.7,2507.4 1221.4,2506.4 1202.1,2503.4 1182.8,2501 1163.4,2499.2 1144.1,2497.9 1140.7,2497.8 1124.8,2497 1105.4,2496.1 1086.1,2495 1066.7,2493.4 1047.4,2491.1 1028.1,2488.4 1025.1,2488.1 1008.7,2486.1 989.4,2485.1 970,2486.5Z"/>
<path fill="#0064ff" stroke="#0064ff" d="M1323.2,2092.2 1337.5,2091 1356.8,2089.7 1376.1,2088.7 1395.5,2088.6 1414.8,2089.7 1432.2,2092.2 1434.2,2092.4 1453.5,2095.4 1453.5,2101.8 1453.5,2111.5 1453.5,2121.1 1453.5,2130.8 1453.5,2140.4 1453.5,2150.1 1453.5,2159.8 1453.5,2169.4 1453.5,2179.1 1453.5,2180.3 1450.8,2179.1 1434.2,2172.8 1424.1,2169.4 1414.8,2166.3 1395.5,2160.5 1393,2159.8 1376.1,2154.3 1361.2,2150.1 1356.8,2148.6 1337.5,2143.1 1325.6,2140.4 1318.1,2138.3 1298.8,2133.1 1290.4,2130.8 1279.5,2125.7 1270.3,2121.1 1263.8,2111.5 1272.1,2101.8 1279.5,2099.2 1298.8,2095 1318.1,2092.6 1323.2,2092.2ZM80.5,2101.8 80.5,2098.2 99.8,2099.9 119.2,2100.7 138.5,2101.5 141.7,2101.8 157.9,2103.5 177.2,2107 193.8,2111.5 196.5,2112.4 214.5,2121.1 215.9,2122 224.7,2130.8 232.2,2140.4 235.2,2144.9 238,2150.1 243.5,2159.8 250.5,2169.4 254.5,2173.7 259.3,2179.1 270.5,2188.7 273.9,2191.2 282.8,2198.4 293.2,2206.1 295.5,2208 306.7,2217.7 312.6,2222.5 317.6,2227.4 329.2,2237 331.9,2238.8 344.6,2246.7 351.2,2249.5 370.6,2255.5 374.8,2256.3 389.9,2258.4 409.2,2259.8 428.6,2260.7 447.9,2261.7 467.3,2263 486.6,2264.7 496.4,2266 505.9,2267.1 525.3,2270 544.6,2273.3 561.1,2275.6 564,2276.1 583.3,2277.3 602.6,2277.4 622,2277.1 641.3,2277 660.6,2277.5 680,2279 699.3,2281.7 716.7,2285.3 718.7,2285.7 738,2290.6 757.3,2295 757.3,2295 776.7,2296.9 796,2295.7 800.2,2295 815.3,2292.3 834.7,2288.4 852.3,2285.3 854,2285 873.4,2282.5 892.7,2280.6 912,2279.2 931.4,2278.3 950.7,2277.8 970,2277.8 989.4,2278.2 1008.7,2279.2 1028.1,2280.9 1047.4,2283 1066.7,2285.1 1068.7,2285.3 1086.1,2286.6 1105.4,2287.6 1124.8,2288.2 1144.1,2288.8 1163.4,2289.3 1182.8,2289.6 1202.1,2289.2 1221.4,2287.9 1240.8,2285.8 1244,2285.3 1260.1,2283 1279.5,2280 1298.8,2277 1306.7,2275.6 1318.1,2273.7 1337.5,2269.8 1355.6,2266 1356.8,2265.7 1376.1,2261.7 1395.5,2258.2 1407.9,2256.3 1414.8,2255.1 1434.2,2251.5 1453.5,2246.7 1453.5,2246.7 1453.5,2246.7 1453.5,2256.3 1453.5,2266 1453.5,2271.6 1434.2,2271.8 1414.8,2272.8 1395.5,2275.1 1392.4,2275.6 1376.1,2278.5 1356.8,2282.8 1345.9,2285.3 1337.5,2287.1 1318.1,2291 1298.8,2294.7 1297.8,2295 1279.5,2298.5 1260.1,2302.8 1251.3,2304.6 1240.8,2306.8 1221.4,2309.8 1202.1,2311.4 1182.8,2311.3 1163.4,2310 1144.1,2308.3 1124.8,2307.1 1105.4,2306.3 1086.1,2305.9 1066.7,2305.3 1054.5,2304.6 1047.4,2304.2 1028.1,2302.7 1008.7,2301.2 989.4,2300.4 970,2300.5 950.7,2301.6 931.4,2303.6 923.6,2304.6 912,2306.9 892.7,2310.4 873.4,2313.4 868.1,2314.3 854,2317.1 834.7,2321.2 821.1,2323.9 815.3,2325.2 796,2327.8 776.7,2327.9 757.3,2325.5 750.1,2323.9 738,2321.5 718.7,2317.3 701.7,2314.3 699.3,2313.9 680,2311.4 660.6,2309.5 641.3,2307.7 622,2305.7 611.7,2304.6 602.6,2303.6 583.3,2301.1 564,2297.7 553.7,2295 544.6,2292.7 525.3,2287.1 518.7,2285.3 505.9,2282.3 486.6,2279.3 467.3,2277.8 447.9,2277.4 428.6,2277.2 409.2,2276.6 391.9,2275.6 389.9,2275.5 370.6,2273.9 351.2,2271.8 331.9,2269 313.8,2266 312.6,2265.7 293.2,2261.8 273.9,2258.1 264.9,2256.3 254.5,2253.7 235.2,2248.8 224.6,2246.7 215.9,2244.8 196.5,2243.2 177.2,2245.1 172.6,2246.7 157.9,2251 145.6,2256.3 138.5,2258.7 119.2,2265 115.5,2266 99.8,2269.2 80.5,2271.2 80.5,2266 80.5,2256.3 80.5,2246.7 80.5,2237.7 81.7,2237 91.9,2227.4 95.8,2217.7 95.2,2208 89.8,2198.4 80.5,2190.7 80.5,2188.7 80.5,2179.1 80.5,2169.4 80.5,2159.8 80.5,2150.1 80.5,2140.4 80.5,2130.8 80.5,2121.1 80.5,2111.5 80.5,2101.8ZM972.1,2401.2 989.4,2398.1 995.9,2401.2 1008.7,2406.9 1012.2,2410.8 1021.2,2420.5 1028.1,2426.4 1031.5,2430.2 1044,2439.8 1047.4,2441.8 1063.3,2449.5 1066.7,2450.8 1086.1,2456.8 1095.7,2459.1 1105.4,2461.3 1124.8,2465 1144.1,2468.2 1147.8,2468.8 1163.4,2471.1 1182.8,2474 1202.1,2476.9 1211.7,2478.4 1221.4,2480 1240.8,2483 1260.1,2485.8 1275.9,2488.1 1279.5,2488.7 1298.8,2492.1 1318.1,2495.8 1327.8,2497.8 1337.5,2500.3 1356.8,2505.6 1364,2507.4 1376.1,2511.3 1395.5,2515.9 1403,2517.1 1414.8,2519.4 1434.2,2521.5 1453.5,2524 1453.5,2526.7 1453.5,2536.4 1453.5,2546 1453.5,2555.7 1453.5,2565.4 1453.5,2575 1453.5,2584.7 1453.5,2594.3 1453.5,2604 1453.5,2613.6 1453.5,2615.7 1434.2,2621.6 1429,2623.3 1414.8,2626.9 1395.5,2630.5 1376.1,2632.6 1368.5,2633 1356.8,2633.4 1337.5,2633.1 1335.5,2633 1318.1,2631.7 1298.8,2629.1 1279.5,2625.7 1267.8,2623.3 1260.1,2621.7 1240.8,2617.7 1221.4,2614.1 1218.5,2613.6 1202.1,2611 1182.8,2608.8 1163.4,2607.6 1144.1,2607.8 1124.8,2610 1111.2,2613.6 1105.4,2615.5 1091.2,2623.3 1086.1,2626.9 1079.7,2633 1071.4,2642.6 1066.7,2648.7 1064.3,2652.3 1058.2,2661.9 1052.4,2671.6 1047.4,2680.2 1046.8,2681.2 1041.4,2690.9 1036.1,2700.6 1030.8,2710.2 1028.1,2715.1 1024.5,2719.9 1016.2,2729.5 1008.7,2736.3 1002.3,2739.2 989.4,2744.3 970,2747.3 953.3,2748.8 950.7,2749.2 931.4,2752.1 912,2754.8 892.7,2756.7 873.4,2757.7 854,2758.1 834.7,2758.3 815.3,2758.4 796,2758.4 776.7,2758.3 757.3,2758.1 738,2757.7 718.7,2757.2 699.3,2756.5 680,2755.4 660.6,2753 643.7,2748.8 641.3,2748.3 622,2742.6 613.1,2739.2 602.6,2735.7 583.7,2729.5 583.3,2729.4 564,2724.8 544.9,2719.9 544.6,2719.8 525.3,2712.8 520.9,2710.2 508.4,2700.6 505.9,2698.2 499.8,2690.9 491.9,2681.2 486.6,2675 483.9,2671.6 476.2,2661.9 468.8,2652.3 467.3,2649.7 463.1,2642.6 460.6,2633 463.2,2623.3 467.3,2619.3 475,2613.6 486.6,2609.1 505.1,2604 505.9,2603.8 525.3,2599.3 538.8,2594.3 544.6,2592.5 562.2,2584.7 564,2584 582.6,2575 583.3,2574.7 602.6,2565.5 603.1,2565.4 622,2557.5 628.4,2555.7 641.3,2551.9 660.6,2548.3 678.7,2546 680,2545.9 699.3,2543.3 718.7,2539.8 730.9,2536.4 738,2533.9 751.5,2526.7 757.3,2522.1 762.3,2517.1 769,2507.4 774,2497.8 776.7,2492 778.7,2488.1 784.1,2478.4 790.9,2468.8 796,2463.1 801.5,2459.1 815.3,2451.4 822.5,2449.5 834.7,2446.5 854,2445.2 873.4,2445.1 892.7,2443.8 911,2439.8 912,2439.5 931.4,2430.5 932,2430.2 944.6,2420.5 950.7,2415.1 956.5,2410.8 970,2401.6 972.1,2401.2ZM970,2456.7 962.4,2459.1 950.7,2462 931.4,2468.1 929.4,2468.8 912,2475.4 903.1,2478.4 892.7,2483.3 874.9,2488.1 873.4,2488.7 854,2491.3 834.7,2497.3 834.2,2497.8 825.1,2507.4 817.1,2517.1 815.3,2519 810.3,2526.7 800.4,2536.4 796,2539 783.8,2546 776.7,2548.7 757.3,2554.7 753.7,2555.7 738,2559.1 718.7,2562.9 705.9,2565.4 699.3,2566.6 680,2570.3 660.6,2574.4 657.8,2575 641.3,2578.7 622,2584.1 620.3,2584.7 602.6,2591.3 596.4,2594.3 583.3,2601.6 579.3,2604 566.7,2613.6 564,2616.6 556.6,2623.3 549.8,2633 546.2,2642.6 545.7,2652.3 548.2,2661.9 554.3,2671.6 564,2680.1 565.4,2681.2 583.3,2690.5 584.2,2690.9 602.6,2697.5 611.7,2700.6 622,2703.9 641.3,2710 642.1,2710.2 660.6,2715.6 679.9,2719.9 680,2719.9 699.3,2722.9 718.7,2725 738,2726.4 757.3,2727.5 776.7,2728.3 796,2728.8 815.3,2728.8 834.7,2728.6 854,2728 873.4,2726.9 892.7,2725.3 912,2723.6 931.4,2721.8 950.4,2719.9 950.7,2719.8 970,2716.9 989.4,2710.5 989.8,2710.2 1003.2,2700.6 1008.7,2695.8 1012.7,2690.9 1019.9,2681.2 1026.8,2671.6 1028.1,2669.7 1032.8,2661.9 1038.5,2652.3 1044.2,2642.6 1047.4,2637.2 1050,2633 1056.2,2623.3 1064.1,2613.6 1066.7,2611.1 1076.7,2604 1086.1,2599.2 1102.1,2594.3 1105.4,2593.5 1124.8,2590.7 1144.1,2589.6 1163.4,2589.6 1182.8,2590.4 1202.1,2591.8 1221.4,2593.7 1226.9,2594.3 1240.8,2595.9 1260.1,2598.3 1279.5,2600.7 1298.8,2602.7 1318.1,2603.6 1337.5,2602.3 1356.8,2597.6 1364.6,2594.3 1376.1,2586.5 1378.5,2584.7 1388.4,2575 1395.5,2566.9 1397.5,2565.4 1403.2,2555.7 1395.5,2547.2 1394.7,2546 1376.1,2537.1 1374.9,2536.4 1356.8,2529.1 1352.1,2526.7 1337.5,2521.1 1328.8,2517.1 1318.1,2513.6 1300.2,2507.4 1298.8,2507.1 1279.5,2502.7 1260.1,2498.7 1255.4,2497.8 1240.8,2495.5 1221.4,2492.4 1202.1,2489.5 1191.9,2488.1 1182.8,2486.9 1163.4,2484.6 1144.1,2482.5 1124.8,2480.4 1108.7,2478.4 1105.4,2478 1086.1,2475.2 1066.7,2471.5 1055,2468.8 1047.4,2466.7 1028.1,2461 1020.4,2459.1 1008.7,2455.4 989.4,2453.5 970,2456.7ZM80.5,2536.4 80.5,2529 99.8,2536.3 100.1,2536.4 119.2,2545.2 121.3,2546 138.5,2554.5 141.7,2555.7 157.9,2563.3 163.9,2565.4 177.2,2571 188.9,2575 196.5,2579 206.8,2584.7 211.5,2594.3 196.5,2603.1 192.2,2604 177.2,2605.6 157.9,2605.8 138.5,2605.7 119.2,2606.3 99.8,2608.1 80.5,2611.2 80.5,2604 80.5,2594.3 80.5,2584.7 80.5,2575 80.5,2565.4 80.5,2555.7 80.5,2546 80.5,2536.4Z"/>
<path fill="#0098ff" stroke="#0098ff" d="M172.6,2246.7 177.2,2245.1 196.5,2243.2 215.9,2244.8 224.6,2246.7 235.2,2248.8 254.5,2253.7 264.9,2256.3 273.9,2258.1 293.2,2261.8 312.6,2265.7 313.8,2266 331.9,2269 351.2,2271.8 370.6,2273.9 389.9,2275.5 391.9,2275.6 409.2,2276.6 428.6,2277.2 447.9,2277.4 467.3,2277.8 486.6,2279.3 505.9,2282.3 518.7,2285.3 525.3,2287.1 544.6,2292.7 553.7,2295 564,2297.7 583.3,2301.1 602.6,2303.6 611.7,2304.6 622,2305.7 641.3,2307.7 660.6,2309.5 680,2311.4 699.3,2313.9 701.7,2314.3 718.7,2317.3 738,2321.5 750.1,2323.9 757.3,2325.5 776.7,2327.9 796,2327.8 815.3,2325.2 821.1,2323.9 834.7,2321.2 854,2317.1 868.1,2314.3 873.4,2313.4 892.7,2310.4 912,2306.9 923.6,2304.6 931.4,2303.6 950.7,2301.6 970,2300.5 989.4,2300.4 1008.7,2301.2 1028.1,2302.7 1047.4,2304.2 1054.5,2304.6 1066.7,2305.3 1086.1,2305.9 1105.4,2306.3 1124.8,2307.1 1144.1,2308.3 1163.4,2310 1182.8,2311.3 1202.1,2311.4 1221.4,2309.8 1240.8,2306.8 1251.3,2304.6 1260.1,2302.8 1279.5,2298.5 1297.8,2295 1298.8,2294.7 1318.1,2291 1337.5,2287.1 1345.9,2285.3 1356.8,2282.8 1376.1,2278.5 1392.4,2275.6 1395.5,2275.1 1414.8,2272.8 1434.2,2271.8 1453.5,2271.6 1453.5,2275.6 1453.5,2285.3 1453.5,2293.1 1434.2,2289.7 1414.8,2288.7 1395.5,2290.2 1376.1,2293.7 1370.8,2295 1356.8,2298.1 1337.5,2302.3 1325.9,2304.6 1318.1,2306.1 1298.8,2309.8 1279.5,2314.1 1278.9,2314.3 1260.1,2318.9 1240.8,2323.8 1240,2323.9 1221.4,2327.9 1202.1,2330.4 1182.8,2330.2 1163.4,2327.7 1144.1,2324.6 1138,2323.9 1124.8,2322.5 1105.4,2321.8 1086.1,2322.1 1066.7,2323.3 1059.6,2323.9 1047.4,2325.5 1028.1,2329.9 1018.7,2333.6 1011.2,2343.2 1012,2352.9 1016.4,2362.6 1023.1,2372.2 1028.1,2378.4 1030.1,2381.9 1035.9,2391.5 1041.7,2401.2 1047.4,2409.4 1048.4,2410.8 1057,2420.5 1066.7,2428.2 1070,2430.2 1086.1,2437.6 1092.5,2439.8 1105.4,2443.7 1124.8,2448.9 1127,2449.5 1144.1,2453.4 1163.4,2457.6 1170.5,2459.1 1182.8,2461.4 1202.1,2465 1221.4,2468.5 1223.2,2468.8 1240.8,2471.8 1260.1,2474.9 1279.5,2477.9 1282.9,2478.4 1298.8,2481.1 1318.1,2484.5 1336.5,2488.1 1337.5,2488.3 1356.8,2493 1376.1,2497.6 1376.8,2497.8 1395.5,2502.1 1414.8,2504.8 1434.2,2506.1 1449.5,2507.4 1453.5,2507.8 1453.5,2517.1 1453.5,2524 1434.2,2521.5 1414.8,2519.4 1403,2517.1 1395.5,2515.9 1376.1,2511.3 1364,2507.4 1356.8,2505.6 1337.5,2500.3 1327.8,2497.8 1318.1,2495.8 1298.8,2492.1 1279.5,2488.7 1275.9,2488.1 1260.1,2485.8 1240.8,2483 1221.4,2480 1211.7,2478.4 1202.1,2476.9 1182.8,2474 1163.4,2471.1 1147.8,2468.8 1144.1,2468.2 1124.8,2465 1105.4,2461.3 1095.7,2459.1 1086.1,2456.8 1066.7,2450.8 1063.3,2449.5 1047.4,2441.8 1044,2439.8 1031.5,2430.2 1028.1,2426.4 1021.2,2420.5 1012.2,2410.8 1008.7,2406.9 995.9,2401.2 989.4,2398.1 972.1,2401.2 970,2401.6 956.5,2410.8 950.7,2415.1 944.6,2420.5 932,2430.2 931.4,2430.5 912,2439.5 911,2439.8 892.7,2443.8 873.4,2445.1 854,2445.2 834.7,2446.5 822.5,2449.5 815.3,2451.4 801.5,2459.1 796,2463.1 790.9,2468.8 784.1,2478.4 778.7,2488.1 776.7,2492 774,2497.8 769,2507.4 762.3,2517.1 757.3,2522.1 751.5,2526.7 738,2533.9 730.9,2536.4 718.7,2539.8 699.3,2543.3 680,2545.9 678.7,2546 660.6,2548.3 641.3,2551.9 628.4,2555.7 622,2557.5 603.1,2565.4 602.6,2565.5 583.3,2574.7 582.6,2575 564,2584 562.2,2584.7 544.6,2592.5 538.8,2594.3 525.3,2599.3 505.9,2603.8 505.1,2604 486.6,2609.1 475,2613.6 467.3,2619.3 463.2,2623.3 460.6,2633 463.1,2642.6 467.3,2649.7 468.8,2652.3 476.2,2661.9 483.9,2671.6 486.6,2675 491.9,2681.2 499.8,2690.9 505.9,2698.2 508.4,2700.6 520.9,2710.2 525.3,2712.8 544.6,2719.8 544.9,2719.9 564,2724.8 583.3,2729.4 583.7,2729.5 602.6,2735.7 613.1,2739.2 622,2742.6 641.3,2748.3 643.7,2748.8 660.6,2753 680,2755.4 699.3,2756.5 718.7,2757.2 738,2757.7 757.3,2758.1 776.7,2758.3 796,2758.4 815.3,2758.4 834.7,2758.3 854,2758.1 873.4,2757.7 892.7,2756.7 912,2754.8 931.4,2752.1 950.7,2749.2 953.3,2748.8 970,2747.3 989.4,2744.3 1002.3,2739.2 1008.7,2736.3 1016.2,2729.5 1024.5,2719.9 1028.1,2715.1 1030.8,2710.2 1036.1,2700.6 1041.4,2690.9 1046.8,2681.2 1047.4,2680.2 1052.4,2671.6 1058.2,2661.9 1064.3,2652.3 1066.7,2648.7 1071.4,2642.6 1079.7,2633 1086.1,2626.9 1091.2,2623.3 1105.4,2615.5 1111.2,2613.6 1124.8,2610 1144.1,2607.8 1163.4,2607.6 1182.8,2608.8 1202.1,2611 1218.5,2613.6 1221.4,2614.1 1240.8,2617.7 1260.1,2621.7 1267.8,2623.3 1279.5,2625.7 1298.8,2629.1 1318.1,2631.7 1335.5,2633 1337.5,2633.1 1356.8,2633.4 1368.5,2633 1376.1,2632.6 1395.5,2630.5 1414.8,2626.9 1429,2623.3 1434.2,2621.6 1453.5,2615.7 1453.5,2623.3 1453.5,2633 1453.5,2642.6 1453.5,2650.6 1439.6,2652.3 1434.2,2652.8 1414.8,2654 1395.5,2654.6 1376.1,2654.8 1356.8,2654.7 1337.5,2654 1318.1,2652.3 1317.8,2652.3 1298.8,2649.4 1279.5,2645.3 1268.4,2642.6 1260.1,2640.7 1240.8,2636.3 1224.7,2633 1221.4,2632.3 1202.1,2629 1182.8,2626.6 1163.4,2625.6 1144.1,2626.6 1124.8,2630.7 1119.5,2633 1105.4,2640.5 1102.8,2642.6 1092.7,2652.3 1086.1,2660 1084.7,2661.9 1078.7,2671.6 1073.4,2681.2 1068.8,2690.9 1066.7,2696.3 1065.2,2700.6 1062.7,2710.2 1061.2,2719.9 1061.1,2729.5 1063.5,2739.2 1066.7,2744.8 1070.4,2748.8 1082.1,2758.5 1066.7,2758.5 1047.4,2758.5 1028.1,2758.5 1008.7,2758.5 989.4,2758.5 970,2758.5 950.7,2758.5 931.4,2758.5 912,2758.5 892.7,2758.5 873.4,2758.5 854,2758.5 834.7,2758.5 815.3,2758.5 796,2758.5 776.7,2758.5 757.3,2758.5 738,2758.5 718.7,2758.5 699.3,2758.5 680,2758.5 660.6,2758.5 641.3,2758.5 622,2758.5 602.6,2758.5 583.3,2758.5 564,2758.5 544.6,2758.5 525.3,2758.5 505.9,2758.5 486.6,2758.5 467.3,2758.5 447.9,2758.5 428.6,2758.5 409.2,2758.5 389.9,2758.5 370.6,2758.5 351.2,2758.5 331.9,2758.5 312.6,2758.5 293.2,2758.5 273.9,2758.5 265.2,2758.5 273.9,2756.4 293.2,2752.4 312.6,2749.4 317.1,2748.8 331.9,2747.7 351.2,2745.8 370.6,2743.1 389,2739.2 389.9,2739 409.2,2732.2 415,2729.5 428.4,2719.9 428.6,2719.7 434.3,2710.2 435.5,2700.6 432.8,2690.9 428.6,2684.4 425.9,2681.2 414.1,2671.6 409.2,2668.2 398.4,2661.9 389.9,2657.2 382.2,2652.3 370.6,2644.7 367.9,2642.6 355.8,2633 351.2,2628.9 342.7,2623.3 331.9,2616 313.5,2613.6 312.6,2613.5 312.1,2613.6 293.2,2616.3 273.9,2621.3 267.5,2623.3 254.5,2626.1 235.2,2629.9 215.9,2632.6 212.1,2633 196.5,2634.4 177.2,2635.6 157.9,2636.7 138.5,2638 119.2,2640 102.6,2642.6 99.8,2643.1 80.5,2647.1 80.5,2642.6 80.5,2633 80.5,2623.3 80.5,2613.6 80.5,2611.2 99.8,2608.1 119.2,2606.3 138.5,2605.7 157.9,2605.8 177.2,2605.6 192.2,2604 196.5,2603.1 211.5,2594.3 206.8,2584.7 196.5,2579 188.9,2575 177.2,2571 163.9,2565.4 157.9,2563.3 141.7,2555.7 138.5,2554.5 121.3,2546 119.2,2545.2 100.1,2536.4 99.8,2536.3 80.5,2529 80.5,2526.7 80.5,2517.1 80.5,2512.5 92.3,2517.1 99.8,2520 115.4,2526.7 119.2,2528.4 138.5,2536 139.5,2536.4 157.9,2543.4 166.4,2546 177.2,2549.9 196.5,2555.5 197.2,2555.7 215.9,2561.6 229.7,2565.4 235.2,2567.3 254.5,2573 263.6,2575 273.9,2578.7 293.2,2584 296.2,2584.7 312.6,2591.4 327,2594.3 331.9,2596.6 351.2,2597.3 370.6,2595.8 384,2594.3 389.9,2594 409.2,2591.9 428.6,2589.1 447.9,2585.7 453.8,2584.7 467.3,2582.8 486.6,2580.2 505.9,2577.6 519.9,2575 525.3,2574.1 544.6,2568.9 553.5,2565.4 564,2561 574.3,2555.7 583.3,2550.4 590.9,2546 602.6,2538.3 606.6,2536.4 622,2528.4 627.1,2526.7 641.3,2522.1 660.6,2518.4 671.4,2517.1 680,2515.8 699.3,2512.2 712,2507.4 718.7,2504.2 726.6,2497.8 735.9,2488.1 738,2485.5 742.3,2478.4 747.7,2468.8 752.8,2459.1 757.3,2450.6 758,2449.5 763.8,2439.8 769.8,2430.2 774.7,2420.5 776.2,2410.8 772.8,2401.2 765.4,2391.5 757.3,2383.4 756,2381.9 746.4,2372.2 738,2365.8 733.6,2362.6 718.7,2354.5 715.2,2352.9 699.3,2347.3 685.5,2343.2 680,2342 660.6,2337.9 641.3,2333.9 640.3,2333.6 622,2329.7 602.6,2325.3 597.2,2323.9 583.3,2320.8 564,2316.2 557.5,2314.3 544.6,2310.4 529,2304.6 525.3,2303.3 505.9,2296.8 498.2,2295 486.6,2292.6 467.3,2291 447.9,2290.9 428.6,2290.8 409.2,2290 389.9,2288.8 370.6,2287.9 351.2,2287.6 331.9,2288.3 312.6,2290.4 293.2,2294.1 289.2,2295 273.9,2299.1 254.5,2302.3 235.2,2301.8 215.9,2298.8 196.5,2296.1 177.2,2295.1 157.9,2295.8 138.5,2298 119.2,2300.1 99.8,2300.3 80.5,2297.5 80.5,2295 80.5,2285.3 80.5,2275.6 80.5,2271.2 99.8,2269.2 115.5,2266 119.2,2265 138.5,2258.7 145.6,2256.3 157.9,2251 172.6,2246.7Z"/>
<path fill="#00ccff" stroke="#00ccff" d="M289.2,2295 293.2,2294.1 312.6,2290.4 331.9,2288.3 351.2,2287.6 370.6,2287.9 389.9,2288.8 409.2,2290 428.6,2290.8 447.9,2290.9 467.3,2291 486.6,2292.6 498.2,2295 505.9,2296.8 525.3,2303.3 529,2304.6 544.6,2310.4 557.5,2314.3 564,2316.2 583.3,2320.8 597.2,2323.9 602.6,2325.3 622,2329.7 640.3,2333.6 641.3,2333.9 660.6,2337.9 680,2342 685.5,2343.2 699.3,2347.3 715.2,2352.9 718.7,2354.5 733.6,2362.6 738,2365.8 746.4,2372.2 756,2381.9 757.3,2383.4 765.4,2391.5 772.8,2401.2 776.2,2410.8 774.7,2420.5 769.8,2430.2 763.8,2439.8 758,2449.5 757.3,2450.6 752.8,2459.1 747.7,2468.8 742.3,2478.4 738,2485.5 735.9,2488.1 726.6,2497.8 718.7,2504.2 712,2507.4 699.3,2512.2 680,2515.8 671.4,2517.1 660.6,2518.4 641.3,2522.1 627.1,2526.7 622,2528.4 606.6,2536.4 602.6,2538.3 590.9,2546 583.3,2550.4 574.3,2555.7 564,2561 553.5,2565.4 544.6,2568.9 525.3,2574.1 519.9,2575 505.9,2577.6 486.6,2580.2 467.3,2582.8 453.8,2584.7 447.9,2585.7 428.6,2589.1 409.2,2591.9 389.9,2594 384,2594.3 370.6,2595.8 351.2,2597.3 331.9,2596.6 327,2594.3 312.6,2591.4 296.2,2584.7 293.2,2584 273.9,2578.7 263.6,2575 254.5,2573 235.2,2567.3 229.7,2565.4 215.9,2561.6 197.2,2555.7 196.5,2555.5 177.2,2549.9 166.4,2546 157.9,2543.4 139.5,2536.4 138.5,2536 119.2,2528.4 115.4,2526.7 99.8,2520 92.3,2517.1 80.5,2512.5 80.5,2507.4 80.5,2499.4 99.8,2507.3 100,2507.4 119.2,2516.5 120.4,2517.1 138.5,2524.8 144,2526.7 157.9,2531.9 172.9,2536.4 177.2,2537.8 196.5,2543.3 207.8,2546 215.9,2548.3 235.2,2552.9 250.6,2555.7 254.5,2556.6 273.9,2559.6 293.2,2561.7 312.6,2563.4 331.9,2565 336.7,2565.4 351.2,2566.8 370.6,2568 389.9,2568.5 409.2,2568.2 428.6,2567.1 447.9,2565.4 447.9,2565.4 467.3,2563.5 486.6,2561.3 505.9,2558.8 522.5,2555.7 525.3,2555.2 544.6,2549.1 551.1,2546 564,2539 567.9,2536.4 580.7,2526.7 583.3,2524.6 593.5,2517.1 602.6,2510.4 608,2507.4 622,2499.5 626.2,2497.8 641.3,2490.4 647.3,2488.1 660.6,2481.4 667.8,2478.4 680,2471.9 685.5,2468.8 698.1,2459.1 699.3,2457.6 704.4,2449.5 707.4,2439.8 707.7,2430.2 705.3,2420.5 700.1,2410.8 699.3,2409.8 692,2401.2 680,2391.5 680,2391.5 662.7,2381.9 660.6,2380.8 643.3,2372.2 641.3,2371.3 627.5,2362.6 622,2359.7 612,2352.9 602.6,2348.3 592.7,2343.2 583.3,2339.7 565.3,2333.6 564,2333.2 544.6,2327.5 533.2,2323.9 525.3,2321.2 507.3,2314.3 505.9,2313.7 486.6,2308.2 467.3,2305.6 447.9,2305.1 431.5,2304.6 428.6,2304.5 409.2,2303.1 389.9,2301.5 370.6,2300.9 351.2,2302.2 338.9,2304.6 331.9,2306.4 312.9,2314.3 312.6,2314.4 293.3,2323.9 293.2,2323.9 273.9,2328.7 254.5,2329.9 235.2,2328.7 215.9,2326.4 196.5,2324.7 177.2,2324.2 157.9,2324.9 138.5,2325.9 119.2,2326.1 99.8,2324 99.6,2323.9 80.5,2318.4 80.5,2314.3 80.5,2304.6 80.5,2297.5 99.8,2300.3 119.2,2300.1 138.5,2298 157.9,2295.8 177.2,2295.1 196.5,2296.1 215.9,2298.8 235.2,2301.8 254.5,2302.3 273.9,2299.1 289.2,2295ZM1370.8,2295 1376.1,2293.7 1395.5,2290.2 1414.8,2288.7 1434.2,2289.7 1453.5,2293.1 1453.5,2295 1453.5,2304.6 1453.5,2311.5 1434.2,2305.8 1425.9,2304.6 1414.8,2303.2 1395.5,2304 1392.2,2304.6 1376.1,2307.3 1356.8,2311.6 1344.1,2314.3 1337.5,2315.6 1318.1,2319.3 1298.8,2323.2 1295.8,2323.9 1279.5,2328 1260.2,2333.6 1260.1,2333.6 1240.8,2339.8 1229.3,2343.2 1221.4,2346.1 1202.1,2351.1 1182.8,2352.1 1163.4,2348.2 1147.8,2343.2 1144.1,2342.4 1124.8,2339 1105.4,2338.3 1086.1,2340.5 1075.9,2343.2 1066.7,2348.1 1061.3,2352.9 1058.3,2362.6 1059.6,2372.2 1062.7,2381.9 1066.7,2391.1 1066.9,2391.5 1073.7,2401.2 1083.1,2410.8 1086.1,2413 1100.5,2420.5 1105.4,2422.5 1124.8,2429.3 1126.8,2430.2 1144.1,2435.8 1155,2439.8 1163.4,2442.3 1182.8,2448 1187.9,2449.5 1202.1,2452.8 1221.4,2457.2 1230.4,2459.1 1240.8,2461.2 1260.1,2464.8 1279.5,2468.2 1282.7,2468.8 1298.8,2471.6 1318.1,2475.1 1335.6,2478.4 1337.5,2478.8 1356.8,2483.1 1376.1,2487.4 1380,2488.1 1395.5,2491.3 1414.8,2493.6 1434.2,2494.4 1453.5,2495.4 1453.5,2497.8 1453.5,2507.4 1453.5,2507.8 1449.5,2507.4 1434.2,2506.1 1414.8,2504.8 1395.5,2502.1 1376.8,2497.8 1376.1,2497.6 1356.8,2493 1337.5,2488.3 1336.5,2488.1 1318.1,2484.5 1298.8,2481.1 1282.9,2478.4 1279.5,2477.9 1260.1,2474.9 1240.8,2471.8 1223.2,2468.8 1221.4,2468.5 1202.1,2465 1182.8,2461.4 1170.5,2459.1 1163.4,2457.6 1144.1,2453.4 1127,2449.5 1124.8,2448.9 1105.4,2443.7 1092.5,2439.8 1086.1,2437.6 1070,2430.2 1066.7,2428.2 1057,2420.5 1048.4,2410.8 1047.4,2409.4 1041.7,2401.2 1035.9,2391.5 1030.1,2381.9 1028.1,2378.4 1023.1,2372.2 1016.4,2362.6 1012,2352.9 1011.2,2343.2 1018.7,2333.6 1028.1,2329.9 1047.4,2325.5 1059.6,2323.9 1066.7,2323.3 1086.1,2322.1 1105.4,2321.8 1124.8,2322.5 1138,2323.9 1144.1,2324.6 1163.4,2327.7 1182.8,2330.2 1202.1,2330.4 1221.4,2327.9 1240,2323.9 1240.8,2323.8 1260.1,2318.9 1278.9,2314.3 1279.5,2314.1 1298.8,2309.8 1318.1,2306.1 1325.9,2304.6 1337.5,2302.3 1356.8,2298.1 1370.8,2295ZM312.1,2613.6 312.6,2613.5 313.5,2613.6 331.9,2616 342.7,2623.3 351.2,2628.9 355.8,2633 367.9,2642.6 370.6,2644.7 382.2,2652.3 389.9,2657.2 398.4,2661.9 409.2,2668.2 414.1,2671.6 425.9,2681.2 428.6,2684.4 432.8,2690.9 435.5,2700.6 434.3,2710.2 428.6,2719.7 428.4,2719.9 415,2729.5 409.2,2732.2 389.9,2739 389,2739.2 370.6,2743.1 351.2,2745.8 331.9,2747.7 317.1,2748.8 312.6,2749.4 293.2,2752.4 273.9,2756.4 265.2,2758.5 254.5,2758.5 235.2,2758.5 215.9,2758.5 196.5,2758.5 177.2,2758.5 157.9,2758.5 138.5,2758.5 119.2,2758.5 99.8,2758.5 80.5,2758.5 80.5,2748.8 80.5,2739.2 80.5,2729.5 80.5,2719.9 80.5,2710.2 80.5,2700.6 80.5,2690.9 80.5,2681.2 80.5,2671.6 80.5,2661.9 80.5,2652.3 80.5,2647.1 99.8,2643.1 102.6,2642.6 119.2,2640 138.5,2638 157.9,2636.7 177.2,2635.6 196.5,2634.4 212.1,2633 215.9,2632.6 235.2,2629.9 254.5,2626.1 267.5,2623.3 273.9,2621.3 293.2,2616.3 312.1,2613.6ZM177.2,2661.3 171,2661.9 157.9,2663.7 138.5,2668.1 128.6,2671.6 119.2,2677.4 113.4,2681.2 109.1,2690.9 115.8,2700.6 119.2,2702.3 138.5,2710.1 138.8,2710.2 157.9,2713.2 177.2,2714.5 196.5,2714.9 215.9,2715.1 235.2,2715 254.5,2714.9 273.9,2714.4 293.2,2713.1 312.3,2710.2 312.6,2710.2 331.9,2701.4 333,2700.6 338,2690.9 336.2,2681.2 331.9,2674.8 329.4,2671.6 316.6,2661.9 312.6,2659.7 293.2,2654.9 273.9,2654.6 254.5,2656.1 235.2,2657.7 215.9,2658.9 196.5,2660 177.2,2661.3ZM1119.5,2633 1124.8,2630.7 1144.1,2626.6 1163.4,2625.6 1182.8,2626.6 1202.1,2629 1221.4,2632.3 1224.7,2633 1240.8,2636.3 1260.1,2640.7 1268.4,2642.6 1279.5,2645.3 1298.8,2649.4 1317.8,2652.3 1318.1,2652.3 1337.5,2654 1356.8,2654.7 1376.1,2654.8 1395.5,2654.6 1414.8,2654 1434.2,2652.8 1439.6,2652.3 1453.5,2650.6 1453.5,2652.3 1453.5,2661.9 1453.5,2671.6 1453.5,2681.2 1453.5,2690.9 1453.5,2700.6 1453.5,2710.2 1453.5,2719.9 1453.5,2729.5 1453.5,2739.2 1453.5,2748.8 1453.5,2758.5 1434.2,2758.5 1414.8,2758.5 1395.5,2758.5 1376.1,2758.5 1356.8,2758.5 1337.5,2758.5 1318.1,2758.5 1298.8,2758.5 1279.5,2758.5 1260.1,2758.5 1240.8,2758.5 1221.4,2758.5 1202.1,2758.5 1182.8,2758.5 1163.4,2758.5 1144.1,2758.5 1124.8,2758.5 1105.4,2758.5 1086.1,2758.5 1082.1,2758.5 1070.4,2748.8 1066.7,2744.8 1063.5,2739.2 1061.1,2729.5 1061.2,2719.9 1062.7,2710.2 1065.2,2700.6 1066.7,2696.3 1068.8,2690.9 1073.4,2681.2 1078.7,2671.6 1084.7,2661.9 1086.1,2660 1092.7,2652.3 1102.8,2642.6 1105.4,2640.5 1119.5,2633ZM1144.1,2648.5 1134.6,2652.3 1124.8,2657.6 1119.6,2661.9 1111.1,2671.6 1105.4,2680.8 1105.2,2681.2 1102.3,2690.9 1101.4,2700.6 1103.4,2710.2 1105.4,2713.9 1110.8,2719.9 1124.8,2727.7 1131.1,2729.5 1144.1,2732.4 1163.4,2734.6 1182.8,2735.6 1202.1,2735.9 1221.4,2735.8 1240.8,2735.6 1260.1,2735.3 1279.5,2734.7 1298.8,2733.6 1318.1,2731.7 1334.3,2729.5 1337.5,2729 1356.8,2725.6 1376.1,2721.6 1383.4,2719.9 1395.5,2716.5 1414.1,2710.2 1414.8,2709.8 1427.6,2700.6 1426.9,2690.9 1414.8,2685.1 1401.5,2681.2 1395.5,2680.4 1376.1,2679 1356.8,2678.3 1337.5,2677.3 1318.1,2675.1 1303.3,2671.6 1298.8,2670.8 1279.5,2665.4 1269.1,2661.9 1260.1,2659.4 1240.8,2654.2 1232.2,2652.3 1221.4,2650 1202.1,2647 1182.8,2645.2 1163.4,2645.3 1144.1,2648.5Z"/>
<path fill="#16ffe1" stroke="#16ffe1" d="M338.9,2304.6 351.2,2302.2 370.6,2300.9 389.9,2301.5 409.2,2303.1 428.6,2304.5 431.5,2304.6 447.9,2305.1 467.3,2305.6 486.6,2308.2 505.9,2313.7 507.3,2314.3 525.3,2321.2 533.2,2323.9 544.6,2327.5 564,2333.2 565.3,2333.6 583.3,2339.7 592.7,2343.2 602.6,2348.3 612,2352.9 622,2359.7 627.5,2362.6 641.3,2371.3 643.3,2372.2 660.6,2380.8 662.7,2381.9 680,2391.5 680,2391.5 692,2401.2 699.3,2409.8 700.1,2410.8 705.3,2420.5 707.7,2430.2 707.4,2439.8 704.4,2449.5 699.3,2457.6 698.1,2459.1 685.5,2468.8 680,2471.9 667.8,2478.4 660.6,2481.4 647.3,2488.1 641.3,2490.4 626.2,2497.8 622,2499.5 608,2507.4 602.6,2510.4 593.5,2517.1 583.3,2524.6 580.7,2526.7 567.9,2536.4 564,2539 551.1,2546 544.6,2549.1 525.3,2555.2 522.5,2555.7 505.9,2558.8 486.6,2561.3 467.3,2563.5 447.9,2565.4 447.9,2565.4 428.6,2567.1 409.2,2568.2 389.9,2568.5 370.6,2568 351.2,2566.8 336.7,2565.4 331.9,2565 312.6,2563.4 293.2,2561.7 273.9,2559.6 254.5,2556.6 250.6,2555.7 235.2,2552.9 215.9,2548.3 207.8,2546 196.5,2543.3 177.2,2537.8 172.9,2536.4 157.9,2531.9 144,2526.7 138.5,2524.8 120.4,2517.1 119.2,2516.5 100,2507.4 99.8,2507.3 80.5,2499.4 80.5,2497.8 80.5,2488.1 80.5,2487.7 81.4,2488.1 99.8,2495.9 103.1,2497.8 119.2,2506.1 121.7,2507.4 138.5,2515.1 143.4,2517.1 157.9,2522.5 171.9,2526.7 177.2,2528.4 196.5,2533.5 209.9,2536.4 215.9,2537.9 235.2,2541.7 254.5,2544.7 268.3,2546 273.9,2546.7 293.2,2548 312.6,2548.9 331.9,2549.9 351.2,2551 370.6,2552 389.9,2552.6 409.2,2552.5 428.6,2551.8 447.9,2550.2 467.3,2548.1 482,2546 486.6,2545.4 505.9,2542.1 525.3,2537.2 527.4,2536.4 544.6,2528.3 547.1,2526.7 559.9,2517.1 564,2513.6 571.1,2507.4 582.4,2497.8 583.3,2497 595.6,2488.1 602.6,2482.9 609.3,2478.4 621.5,2468.8 622,2468.4 632.5,2459.1 640.5,2449.5 641.3,2448 647,2439.8 649.8,2430.2 648,2420.5 641.3,2411.7 640.7,2410.8 630.1,2401.2 622,2395.5 617.8,2391.5 607.1,2381.9 602.6,2378.1 597.1,2372.2 585.8,2362.6 583.3,2360.9 569.8,2352.9 564,2350.2 544.6,2343.9 541.3,2343.2 525.3,2339.5 505.9,2335.5 496,2333.6 486.6,2331.3 467.3,2327.5 447.9,2324.3 446.2,2323.9 428.6,2321.3 409.2,2317.8 389.9,2315 370.6,2314.6 351.2,2318.1 336.3,2323.9 331.9,2325.9 316.1,2333.6 312.6,2334.9 293.2,2339.9 273.9,2342.1 254.5,2342.1 235.2,2340.7 215.9,2338.9 196.5,2337.7 177.2,2337.8 157.9,2339 138.5,2340.6 119.2,2341.5 99.8,2340 80.5,2335.3 80.5,2333.6 80.5,2323.9 80.5,2318.4 99.6,2323.9 99.8,2324 119.2,2326.1 138.5,2325.9 157.9,2324.9 177.2,2324.2 196.5,2324.7 215.9,2326.4 235.2,2328.7 254.5,2329.9 273.9,2328.7 293.2,2323.9 293.3,2323.9 312.6,2314.4 312.9,2314.3 331.9,2306.4 338.9,2304.6ZM1392.2,2304.6 1395.5,2304 1414.8,2303.2 1425.9,2304.6 1434.2,2305.8 1453.5,2311.5 1453.5,2314.3 1453.5,2323.9 1453.5,2327.5 1444.2,2323.9 1434.2,2320.3 1414.8,2316.6 1395.5,2316.8 1376.1,2319.8 1357,2323.9 1356.8,2324 1337.5,2327.9 1318.1,2331.8 1309.8,2333.6 1298.8,2336.2 1279.5,2341.7 1274.9,2343.2 1260.1,2348.8 1250,2352.9 1240.8,2357.4 1229.7,2362.6 1221.4,2367.3 1211.1,2372.2 1202.1,2377.4 1189.7,2381.9 1182.8,2385.4 1163.4,2389.1 1144.1,2381.9 1144,2381.9 1128.6,2372.2 1124.8,2370.5 1117.7,2372.2 1114.5,2381.9 1123.8,2391.5 1124.8,2392.1 1144.1,2398.8 1145.8,2401.2 1156.1,2410.8 1163.4,2416 1167.2,2420.5 1182.5,2430.2 1182.8,2430.3 1202.1,2438.7 1204.7,2439.8 1221.4,2444.9 1237.5,2449.5 1240.8,2450.2 1260.1,2454.6 1279.5,2458.7 1281.3,2459.1 1298.8,2462.5 1318.1,2466.2 1330.9,2468.8 1337.5,2470.1 1356.8,2474.2 1376.1,2478.3 1376.9,2478.4 1395.5,2481.8 1414.8,2483.7 1434.2,2483.9 1453.5,2484.3 1453.5,2488.1 1453.5,2495.4 1434.2,2494.4 1414.8,2493.6 1395.5,2491.3 1380,2488.1 1376.1,2487.4 1356.8,2483.1 1337.5,2478.8 1335.6,2478.4 1318.1,2475.1 1298.8,2471.6 1282.7,2468.8 1279.5,2468.2 1260.1,2464.8 1240.8,2461.2 1230.4,2459.1 1221.4,2457.2 1202.1,2452.8 1187.9,2449.5 1182.8,2448 1163.4,2442.3 1155,2439.8 1144.1,2435.8 1126.8,2430.2 1124.8,2429.3 1105.4,2422.5 1100.5,2420.5 1086.1,2413 1083.1,2410.8 1073.7,2401.2 1066.9,2391.5 1066.7,2391.1 1062.7,2381.9 1059.6,2372.2 1058.3,2362.6 1061.3,2352.9 1066.7,2348.1 1075.9,2343.2 1086.1,2340.5 1105.4,2338.3 1124.8,2339 1144.1,2342.4 1147.8,2343.2 1163.4,2348.2 1182.8,2352.1 1202.1,2351.1 1221.4,2346.1 1229.3,2343.2 1240.8,2339.8 1260.1,2333.6 1260.2,2333.6 1279.5,2328 1295.8,2323.9 1298.8,2323.2 1318.1,2319.3 1337.5,2315.6 1344.1,2314.3 1356.8,2311.6 1376.1,2307.3 1392.2,2304.6ZM1134.6,2652.3 1144.1,2648.5 1163.4,2645.3 1182.8,2645.2 1202.1,2647 1221.4,2650 1232.2,2652.3 1240.8,2654.2 1260.1,2659.4 1269.1,2661.9 1279.5,2665.4 1298.8,2670.8 1303.3,2671.6 1318.1,2675.1 1337.5,2677.3 1356.8,2678.3 1376.1,2679 1395.5,2680.4 1401.5,2681.2 1414.8,2685.1 1426.9,2690.9 1427.6,2700.6 1414.8,2709.8 1414.1,2710.2 1395.5,2716.5 1383.4,2719.9 1376.1,2721.6 1356.8,2725.6 1337.5,2729 1334.3,2729.5 1318.1,2731.7 1298.8,2733.6 1279.5,2734.7 1260.1,2735.3 1240.8,2735.6 1221.4,2735.8 1202.1,2735.9 1182.8,2735.6 1163.4,2734.6 1144.1,2732.4 1131.1,2729.5 1124.8,2727.7 1110.8,2719.9 1105.4,2713.9 1103.4,2710.2 1101.4,2700.6 1102.3,2690.9 1105.2,2681.2 1105.4,2680.8 1111.1,2671.6 1119.6,2661.9 1124.8,2657.6 1134.6,2652.3ZM1182.8,2669.8 1174,2671.6 1163.4,2676 1157.3,2681.2 1155.7,2690.9 1163.4,2699.8 1164.5,2700.6 1182.8,2705.9 1202.1,2708.2 1221.4,2708 1240.8,2704.9 1252.7,2700.6 1256.9,2690.9 1246,2681.2 1240.8,2679 1221.4,2672.4 1217.1,2671.6 1202.1,2669.6 1182.8,2669.8ZM171,2661.9 177.2,2661.3 196.5,2660 215.9,2658.9 235.2,2657.7 254.5,2656.1 273.9,2654.6 293.2,2654.9 312.6,2659.7 316.6,2661.9 329.4,2671.6 331.9,2674.8 336.2,2681.2 338,2690.9 333,2700.6 331.9,2701.4 312.6,2710.2 312.3,2710.2 293.2,2713.1 273.9,2714.4 254.5,2714.9 235.2,2715 215.9,2715.1 196.5,2714.9 177.2,2714.5 157.9,2713.2 138.8,2710.2 138.5,2710.1 119.2,2702.3 115.8,2700.6 109.1,2690.9 113.4,2681.2 119.2,2677.4 128.6,2671.6 138.5,2668.1 157.9,2663.7 171,2661.9Z"/>
<path fill="#3cffba" stroke="#3cffba" d="M336.3,2323.9 351.2,2318.1 370.6,2314.6 389.9,2315 409.2,2317.8 428.6,2321.3 446.2,2323.9 447.9,2324.3 467.3,2327.5 486.6,2331.3 496,2333.6 505.9,2335.5 525.3,2339.5 541.3,2343.2 544.6,2343.9 564,2350.2 569.8,2352.9 583.3,2360.9 585.8,2362.6 597.1,2372.2 602.6,2378.1 607.1,2381.9 617.8,2391.5 622,2395.5 630.1,2401.2 640.7,2410.8 641.3,2411.7 648,2420.5 649.8,2430.2 647,2439.8 641.3,2448 640.5,2449.5 632.5,2459.1 622,2468.4 621.5,2468.8 609.3,2478.4 602.6,2482.9 595.6,2488.1 583.3,2497 582.4,2497.8 571.1,2507.4 564,2513.6 559.9,2517.1 547.1,2526.7 544.6,2528.3 527.4,2536.4 525.3,2537.2 505.9,2542.1 486.6,2545.4 482,2546 467.3,2548.1 447.9,2550.2 428.6,2551.8 409.2,2552.5 389.9,2552.6 370.6,2552 351.2,2551 331.9,2549.9 312.6,2548.9 293.2,2548 273.9,2546.7 268.3,2546 254.5,2544.7 235.2,2541.7 215.9,2537.9 209.9,2536.4 196.5,2533.5 177.2,2528.4 171.9,2526.7 157.9,2522.5 143.4,2517.1 138.5,2515.1 121.7,2507.4 119.2,2506.1 103.1,2497.8 99.8,2495.9 81.4,2488.1 80.5,2487.7 80.5,2478.4 80.5,2476.6 85.1,2478.4 99.8,2484.5 105.7,2488.1 119.2,2495.8 122.5,2497.8 138.5,2506 141.7,2507.4 157.9,2513.9 167.8,2517.1 177.2,2520 196.5,2524.8 206.6,2526.7 215.9,2528.7 235.2,2531.8 254.5,2534.1 273.9,2535.6 293.2,2536.3 295.2,2536.4 312.6,2536.9 331.9,2537.6 351.2,2538.4 370.6,2539.2 389.9,2539.8 409.2,2539.7 428.6,2538.8 447.9,2537 452.2,2536.4 467.3,2534.2 486.6,2530.6 501.8,2526.7 505.9,2525.5 525.3,2517.2 525.6,2517.1 539.3,2507.4 544.6,2502.9 550.3,2497.8 560.9,2488.1 564,2485.4 572.4,2478.4 583.3,2469.5 584.2,2468.8 594.9,2459.1 602.6,2449.9 603,2449.5 608.4,2439.8 610.4,2430.2 608.5,2420.5 603,2410.8 602.6,2410.4 596.2,2401.2 588.3,2391.5 583.3,2386.1 579.4,2381.9 568.6,2372.2 564,2368.9 550.7,2362.6 544.6,2360.2 525.3,2356.6 505.9,2356.1 486.6,2358.1 467.6,2362.6 467.3,2362.7 447.9,2371.5 446.2,2372.2 430,2381.9 428.6,2382.6 421.2,2381.9 409.3,2372.2 415.8,2362.6 417.2,2352.9 411,2343.2 409.2,2342.3 390.8,2333.6 389.9,2333.4 370.6,2332.6 366.4,2333.6 351.2,2337.8 337.3,2343.2 331.9,2344.8 312.6,2348.9 293.2,2350.7 273.9,2351.1 254.5,2350.5 235.2,2349.1 215.9,2347.7 196.5,2346.9 177.2,2347.3 157.9,2348.8 138.5,2350.8 119.2,2352.5 99.8,2352.6 80.5,2349.4 80.5,2343.2 80.5,2335.3 99.8,2340 119.2,2341.5 138.5,2340.6 157.9,2339 177.2,2337.8 196.5,2337.7 215.9,2338.9 235.2,2340.7 254.5,2342.1 273.9,2342.1 293.2,2339.9 312.6,2334.9 316.1,2333.6 331.9,2325.9 336.3,2323.9ZM1357,2323.9 1376.1,2319.8 1395.5,2316.8 1414.8,2316.6 1434.2,2320.3 1444.2,2323.9 1453.5,2327.5 1453.5,2333.6 1453.5,2342.3 1434.2,2334.4 1431.1,2333.6 1414.8,2329.7 1395.5,2329.3 1376.1,2332 1368.7,2333.6 1356.8,2336.1 1337.5,2340.2 1323.3,2343.2 1318.1,2344.5 1298.8,2349.7 1289.3,2352.9 1279.5,2356.7 1266.5,2362.6 1260.1,2365.9 1249.1,2372.2 1240.8,2377.8 1234.6,2381.9 1222.5,2391.5 1221.4,2392.7 1212.5,2401.2 1208.1,2410.8 1211.2,2420.5 1221.4,2428.4 1223.7,2430.2 1240.8,2437.4 1247,2439.8 1260.1,2443.6 1279.5,2448.8 1282.2,2449.5 1298.8,2453.1 1318.1,2457.3 1326.5,2459.1 1337.5,2461.4 1356.8,2465.5 1372.1,2468.8 1376.1,2469.6 1395.5,2472.8 1414.8,2474.3 1434.2,2474.1 1453.5,2473.9 1453.5,2478.4 1453.5,2484.3 1434.2,2483.9 1414.8,2483.7 1395.5,2481.8 1376.9,2478.4 1376.1,2478.3 1356.8,2474.2 1337.5,2470.1 1330.9,2468.8 1318.1,2466.2 1298.8,2462.5 1281.3,2459.1 1279.5,2458.7 1260.1,2454.6 1240.8,2450.2 1237.5,2449.5 1221.4,2444.9 1204.7,2439.8 1202.1,2438.7 1182.8,2430.3 1182.5,2430.2 1167.2,2420.5 1163.4,2416 1156.1,2410.8 1145.8,2401.2 1144.1,2398.8 1124.8,2392.1 1123.8,2391.5 1114.5,2381.9 1117.7,2372.2 1124.8,2370.5 1128.6,2372.2 1144,2381.9 1144.1,2381.9 1163.4,2389.1 1182.8,2385.4 1189.7,2381.9 1202.1,2377.4 1211.1,2372.2 1221.4,2367.3 1229.7,2362.6 1240.8,2357.4 1250,2352.9 1260.1,2348.8 1274.9,2343.2 1279.5,2341.7 1298.8,2336.2 1309.8,2333.6 1318.1,2331.8 1337.5,2327.9 1356.8,2324 1357,2323.9ZM1174,2671.6 1182.8,2669.8 1202.1,2669.6 1217.1,2671.6 1221.4,2672.4 1240.8,2679 1246,2681.2 1256.9,2690.9 1252.7,2700.6 1240.8,2704.9 1221.4,2708 1202.1,2708.2 1182.8,2705.9 1164.5,2700.6 1163.4,2699.8 1155.7,2690.9 1157.3,2681.2 1163.4,2676 1174,2671.6Z"/>
<path fill="#66ff90" stroke="#66ff90" d="M366.4,2333.6 370.6,2332.6 389.9,2333.4 390.8,2333.6 409.2,2342.3 411,2343.2 417.2,2352.9 415.8,2362.6 409.3,2372.2 421.2,2381.9 428.6,2382.6 430,2381.9 446.2,2372.2 447.9,2371.5 467.3,2362.7 467.6,2362.6 486.6,2358.1 505.9,2356.1 525.3,2356.6 544.6,2360.2 550.7,2362.6 564,2368.9 568.6,2372.2 579.4,2381.9 583.3,2386.1 588.3,2391.5 596.2,2401.2 602.6,2410.4 603,2410.8 608.5,2420.5 610.4,2430.2 608.4,2439.8 603,2449.5 602.6,2449.9 594.9,2459.1 584.2,2468.8 583.3,2469.5 572.4,2478.4 564,2485.4 560.9,2488.1 550.3,2497.8 544.6,2502.9 539.3,2507.4 525.6,2517.1 525.3,2517.2 505.9,2525.5 501.8,2526.7 486.6,2530.6 467.3,2534.2 452.2,2536.4 447.9,2537 428.6,2538.8 409.2,2539.7 389.9,2539.8 370.6,2539.2 351.2,2538.4 331.9,2537.6 312.6,2536.9 295.2,2536.4 293.2,2536.3 273.9,2535.6 254.5,2534.1 235.2,2531.8 215.9,2528.7 206.6,2526.7 196.5,2524.8 177.2,2520 167.8,2517.1 157.9,2513.9 141.7,2507.4 138.5,2506 122.5,2497.8 119.2,2495.8 105.7,2488.1 99.8,2484.5 85.1,2478.4 80.5,2476.6 80.5,2468.8 80.5,2465.6 89.1,2468.8 99.8,2473 108.6,2478.4 119.2,2484.9 124,2488.1 138.5,2496.6 140.7,2497.8 157.9,2505.4 163.5,2507.4 177.2,2511.9 196.5,2516.6 199.6,2517.1 215.9,2519.9 235.2,2522.3 254.5,2523.9 273.9,2524.9 293.2,2525.3 312.6,2525.7 331.9,2526.3 343.3,2526.7 351.2,2527 370.6,2527.8 389.9,2528.2 409.2,2528.1 428.6,2526.9 430.3,2526.7 447.9,2524.6 467.3,2520.8 480.9,2517.1 486.6,2515.1 504,2507.4 505.9,2506.2 517.8,2497.8 525.3,2490.8 528.1,2488.1 537.5,2478.4 544.6,2471.7 547.8,2468.8 558.9,2459.1 564,2454.6 569,2449.5 575.9,2439.8 579.4,2430.2 579.2,2420.5 575.9,2410.8 570.5,2401.2 564,2392.6 562.9,2391.5 550.2,2381.9 544.6,2378.5 525.3,2374.1 505.9,2376 490.5,2381.9 486.6,2383.9 475.7,2391.5 467.3,2398 462.3,2401.2 447.9,2408 434.3,2410.8 428.6,2411.7 409.2,2411.3 406.8,2410.8 389.9,2406.7 379.4,2401.2 370.6,2394.2 368.2,2391.5 361.9,2381.9 355,2372.2 351.2,2368.9 333.8,2362.6 331.9,2362.3 312.6,2360.7 293.2,2359.8 273.9,2358.9 254.5,2357.7 235.2,2356.2 215.9,2355 196.5,2354.5 177.2,2355.1 157.9,2356.9 138.5,2359.4 119.2,2362 111.8,2362.6 99.8,2363.6 84.5,2362.6 80.5,2362.2 80.5,2352.9 80.5,2349.4 99.8,2352.6 119.2,2352.5 138.5,2350.8 157.9,2348.8 177.2,2347.3 196.5,2346.9 215.9,2347.7 235.2,2349.1 254.5,2350.5 273.9,2351.1 293.2,2350.7 312.6,2348.9 331.9,2344.8 337.3,2343.2 351.2,2337.8 366.4,2333.6ZM1368.7,2333.6 1376.1,2332 1395.5,2329.3 1414.8,2329.7 1431.1,2333.6 1434.2,2334.4 1453.5,2342.3 1453.5,2343.2 1453.5,2352.9 1453.5,2356.6 1444.4,2352.9 1434.2,2348.6 1415.6,2343.2 1414.8,2343 1395.5,2342.1 1386.3,2343.2 1376.1,2344.6 1356.8,2348.7 1338.4,2352.9 1337.5,2353.1 1318.1,2358.3 1305.1,2362.6 1298.8,2365 1282.9,2372.2 1279.5,2374.1 1266.9,2381.9 1260.1,2387 1254.4,2391.5 1245.8,2401.2 1242.4,2410.8 1246.7,2420.5 1260.1,2429.5 1261.2,2430.2 1279.5,2437 1287.8,2439.8 1298.8,2442.7 1318.1,2447.6 1325.6,2449.5 1337.5,2452.1 1356.8,2456.6 1368.3,2459.1 1376.1,2460.8 1395.5,2463.8 1414.8,2465.1 1434.2,2464.4 1453.5,2463.6 1453.5,2468.8 1453.5,2473.9 1434.2,2474.1 1414.8,2474.3 1395.5,2472.8 1376.1,2469.6 1372.1,2468.8 1356.8,2465.5 1337.5,2461.4 1326.5,2459.1 1318.1,2457.3 1298.8,2453.1 1282.2,2449.5 1279.5,2448.8 1260.1,2443.6 1247,2439.8 1240.8,2437.4 1223.7,2430.2 1221.4,2428.4 1211.2,2420.5 1208.1,2410.8 1212.5,2401.2 1221.4,2392.7 1222.5,2391.5 1234.6,2381.9 1240.8,2377.8 1249.1,2372.2 1260.1,2365.9 1266.5,2362.6 1279.5,2356.7 1289.3,2352.9 1298.8,2349.7 1318.1,2344.5 1323.3,2343.2 1337.5,2340.2 1356.8,2336.1 1368.7,2333.6Z"/>
<path fill="#90ff66" stroke="#90ff66" d="M1386.3,2343.2 1395.5,2342.1 1414.8,2343 1415.6,2343.2 1434.2,2348.6 1444.4,2352.9 1453.5,2356.6 1453.5,2362.6 1453.5,2370.9 1434.2,2363.6 1430.9,2362.6 1414.8,2357.6 1395.5,2356 1376.1,2358.3 1356.8,2362.5 1356.7,2362.6 1337.5,2368 1324.6,2372.2 1318.1,2374.7 1302.5,2381.9 1298.8,2384.1 1287.8,2391.5 1279.5,2400.2 1278.6,2401.2 1276.2,2410.8 1279.5,2415.9 1282.8,2420.5 1298.8,2429.2 1300.8,2430.2 1318.1,2435.7 1331,2439.8 1337.5,2441.5 1356.8,2446.5 1368.6,2449.5 1376.1,2451.1 1395.5,2454.3 1414.8,2455.4 1434.2,2454.4 1453.5,2453 1453.5,2459.1 1453.5,2463.6 1434.2,2464.4 1414.8,2465.1 1395.5,2463.8 1376.1,2460.8 1368.3,2459.1 1356.8,2456.6 1337.5,2452.1 1325.6,2449.5 1318.1,2447.6 1298.8,2442.7 1287.8,2439.8 1279.5,2437 1261.2,2430.2 1260.1,2429.5 1246.7,2420.5 1242.4,2410.8 1245.8,2401.2 1254.4,2391.5 1260.1,2387 1266.9,2381.9 1279.5,2374.1 1282.9,2372.2 1298.8,2365 1305.1,2362.6 1318.1,2358.3 1337.5,2353.1 1338.4,2352.9 1356.8,2348.7 1376.1,2344.6 1386.3,2343.2ZM80.5,2362.6 80.5,2362.2 84.5,2362.6 99.8,2363.6 111.8,2362.6 119.2,2362 138.5,2359.4 157.9,2356.9 177.2,2355.1 196.5,2354.5 215.9,2355 235.2,2356.2 254.5,2357.7 273.9,2358.9 293.2,2359.8 312.6,2360.7 331.9,2362.3 333.8,2362.6 351.2,2368.9 355,2372.2 361.9,2381.9 368.2,2391.5 370.6,2394.2 379.4,2401.2 389.9,2406.7 406.8,2410.8 409.2,2411.3 428.6,2411.7 434.3,2410.8 447.9,2408 462.3,2401.2 467.3,2398 475.7,2391.5 486.6,2383.9 490.5,2381.9 505.9,2376 525.3,2374.1 544.6,2378.5 550.2,2381.9 562.9,2391.5 564,2392.6 570.5,2401.2 575.9,2410.8 579.2,2420.5 579.4,2430.2 575.9,2439.8 569,2449.5 564,2454.6 558.9,2459.1 547.8,2468.8 544.6,2471.7 537.5,2478.4 528.1,2488.1 525.3,2490.8 517.8,2497.8 505.9,2506.2 504,2507.4 486.6,2515.1 480.9,2517.1 467.3,2520.8 447.9,2524.6 430.3,2526.7 428.6,2526.9 409.2,2528.1 389.9,2528.2 370.6,2527.8 351.2,2527 343.3,2526.7 331.9,2526.3 312.6,2525.7 293.2,2525.3 273.9,2524.9 254.5,2523.9 235.2,2522.3 215.9,2519.9 199.6,2517.1 196.5,2516.6 177.2,2511.9 163.5,2507.4 157.9,2505.4 140.7,2497.8 138.5,2496.6 124,2488.1 119.2,2484.9 108.6,2478.4 99.8,2473 89.1,2468.8 80.5,2465.6 80.5,2459.1 80.5,2454.3 94.8,2459.1 99.8,2460.9 112.4,2468.8 119.2,2473.1 126.6,2478.4 138.5,2486.4 141.5,2488.1 157.9,2496.5 160.9,2497.8 177.2,2503.5 193,2507.4 196.5,2508.2 215.9,2511.1 235.2,2512.7 254.5,2513.4 273.9,2513.6 293.2,2513.7 312.6,2513.9 331.9,2514.5 351.2,2515.4 370.6,2516.2 389.9,2516.8 409.2,2516.5 428.6,2514.9 447.9,2511.6 463,2507.4 467.3,2505.8 483.5,2497.8 486.6,2495.3 495,2488.1 502.5,2478.4 505.9,2472.2 508.2,2468.8 513.9,2459.1 521.4,2449.5 525.3,2445.6 531.1,2439.8 540,2430.2 544.6,2420.8 544.7,2420.5 544.6,2420.2 540.4,2410.8 525.7,2401.2 525.3,2401 524.6,2401.2 505.9,2408 502.4,2410.8 488.2,2420.5 486.6,2421.2 467.3,2426.4 447.9,2427.8 428.6,2428.1 409.2,2427.6 389.9,2426 370.6,2421.5 368.5,2420.5 354,2410.8 351.2,2408.2 346.1,2401.2 339.7,2391.5 331.9,2382.9 330.9,2381.9 312.6,2372.7 310.9,2372.2 293.2,2368.9 273.9,2366.5 254.5,2364.6 235.2,2362.8 231,2362.6 215.9,2361.5 196.5,2361.2 177.2,2362.1 173.1,2362.6 157.9,2364.3 138.5,2367.5 119.2,2371.3 112.7,2372.2 99.8,2374.6 80.5,2375 80.5,2372.2 80.5,2362.6Z"/>
<path fill="#baff3c" stroke="#baff3c" d="M173.1,2362.6 177.2,2362.1 196.5,2361.2 215.9,2361.5 231,2362.6 235.2,2362.8 254.5,2364.6 273.9,2366.5 293.2,2368.9 310.9,2372.2 312.6,2372.7 330.9,2381.9 331.9,2382.9 339.7,2391.5 346.1,2401.2 351.2,2408.2 354,2410.8 368.5,2420.5 370.6,2421.5 389.9,2426 409.2,2427.6 428.6,2428.1 447.9,2427.8 467.3,2426.4 486.6,2421.2 488.2,2420.5 502.4,2410.8 505.9,2408 524.6,2401.2 525.3,2401 525.7,2401.2 540.4,2410.8 544.6,2420.2 544.7,2420.5 544.6,2420.8 540,2430.2 531.1,2439.8 525.3,2445.6 521.4,2449.5 513.9,2459.1 508.2,2468.8 505.9,2472.2 502.5,2478.4 495,2488.1 486.6,2495.3 483.5,2497.8 467.3,2505.8 463,2507.4 447.9,2511.6 428.6,2514.9 409.2,2516.5 389.9,2516.8 370.6,2516.2 351.2,2515.4 331.9,2514.5 312.6,2513.9 293.2,2513.7 273.9,2513.6 254.5,2513.4 235.2,2512.7 215.9,2511.1 196.5,2508.2 193,2507.4 177.2,2503.5 160.9,2497.8 157.9,2496.5 141.5,2488.1 138.5,2486.4 126.6,2478.4 119.2,2473.1 112.4,2468.8 99.8,2460.9 94.8,2459.1 80.5,2454.3 80.5,2449.5 80.5,2441.5 99.8,2447.5 102.9,2449.5 118,2459.1 119.2,2459.9 130.6,2468.8 138.5,2474.6 144.3,2478.4 157.9,2486.5 161.4,2488.1 177.2,2494.3 190.3,2497.8 196.5,2499.2 215.9,2501.6 235.2,2502.3 254.5,2501.7 273.9,2500.6 293.2,2499.6 312.6,2499.1 331.9,2499.4 351.2,2500.5 370.6,2501.9 389.9,2503.1 409.2,2503 428.6,2501 441.7,2497.8 447.9,2495.6 461,2488.1 467.3,2481.4 469.6,2478.4 472.2,2468.8 469.7,2459.1 467.3,2456.5 457.1,2449.5 447.9,2446.5 428.6,2443.8 409.2,2443.6 389.9,2444.9 370.6,2446.4 351.2,2445.3 340.6,2439.8 331.9,2432.1 330.8,2430.2 326.9,2420.5 323.8,2410.8 320.3,2401.2 314.2,2391.5 312.6,2390.1 300.7,2381.9 293.2,2379.2 273.9,2374.5 260.8,2372.2 254.5,2371.4 235.2,2369.3 215.9,2367.9 196.5,2367.6 177.2,2368.9 157.9,2371.6 154.6,2372.2 138.5,2376 119.2,2381.4 117,2381.9 99.8,2387 80.5,2389.2 80.5,2381.9 80.5,2375 99.8,2374.6 112.7,2372.2 119.2,2371.3 138.5,2367.5 157.9,2364.3 173.1,2362.6ZM1356.7,2362.6 1356.8,2362.5 1376.1,2358.3 1395.5,2356 1414.8,2357.6 1430.9,2362.6 1434.2,2363.6 1453.5,2370.9 1453.5,2372.2 1453.5,2381.9 1453.5,2386.3 1440.2,2381.9 1434.2,2379.8 1414.8,2373.8 1399.5,2372.2 1395.5,2371.8 1392.1,2372.2 1376.1,2374.3 1356.8,2379.7 1350.5,2381.9 1337.5,2387.7 1329.9,2391.5 1318.4,2401.2 1318.1,2402.2 1316.4,2410.8 1318.1,2412.8 1325.5,2420.5 1337.5,2426.1 1346,2430.2 1356.8,2433.6 1376.1,2439.7 1376.7,2439.8 1395.5,2443.2 1414.8,2444.4 1434.2,2443 1453.5,2441.1 1453.5,2449.5 1453.5,2453 1434.2,2454.4 1414.8,2455.4 1395.5,2454.3 1376.1,2451.1 1368.6,2449.5 1356.8,2446.5 1337.5,2441.5 1331,2439.8 1318.1,2435.7 1300.8,2430.2 1298.8,2429.2 1282.8,2420.5 1279.5,2415.9 1276.2,2410.8 1278.6,2401.2 1279.5,2400.2 1287.8,2391.5 1298.8,2384.1 1302.5,2381.9 1318.1,2374.7 1324.6,2372.2 1337.5,2368 1356.7,2362.6Z"/>
<path fill="#e4ff13" stroke="#e4ff13" d="M154.6,2372.2 157.9,2371.6 177.2,2368.9 196.5,2367.6 215.9,2367.9 235.2,2369.3 254.5,2371.4 260.8,2372.2 273.9,2374.5 293.2,2379.2 300.7,2381.9 312.6,2390.1 314.2,2391.5 320.3,2401.2 323.8,2410.8 326.9,2420.5 330.8,2430.2 331.9,2432.1 340.6,2439.8 351.2,2445.3 370.6,2446.4 389.9,2444.9 409.2,2443.6 428.6,2443.8 447.9,2446.5 457.1,2449.5 467.3,2456.5 469.7,2459.1 472.2,2468.8 469.6,2478.4 467.3,2481.4 461,2488.1 447.9,2495.6 441.7,2497.8 428.6,2501 409.2,2503 389.9,2503.1 370.6,2501.9 351.2,2500.5 331.9,2499.4 312.6,2499.1 293.2,2499.6 273.9,2500.6 254.5,2501.7 235.2,2502.3 215.9,2501.6 196.5,2499.2 190.3,2497.8 177.2,2494.3 161.4,2488.1 157.9,2486.5 144.3,2478.4 138.5,2474.6 130.6,2468.8 119.2,2459.9 118,2459.1 102.9,2449.5 99.8,2447.5 80.5,2441.5 80.5,2439.8 80.5,2430.2 80.5,2420.5 80.5,2410.8 80.5,2401.2 80.5,2391.5 80.5,2389.2 99.8,2387 117,2381.9 119.2,2381.4 138.5,2376 154.6,2372.2ZM157.9,2379.5 148.9,2381.9 138.5,2385.7 124.3,2391.5 119.2,2394.9 106,2401.2 99.8,2406.7 87.9,2410.8 86.3,2420.5 99.8,2427.3 101.9,2430.2 113.9,2439.8 119.2,2443.4 125.4,2449.5 136.5,2459.1 138.5,2460.8 149.1,2468.8 157.9,2474.7 165.3,2478.4 177.2,2483.8 193,2488.1 196.5,2489 215.9,2490.7 235.2,2489.9 248.1,2488.1 254.5,2486.8 273.9,2481 281.1,2478.4 292.2,2468.8 293.2,2466.4 296.2,2459.1 297.5,2449.5 298.2,2439.8 298.8,2430.2 299.3,2420.5 299,2410.8 296.4,2401.2 293.2,2396.9 288.6,2391.5 273.9,2384.3 267.1,2381.9 254.5,2379.2 235.2,2376.1 215.9,2374.4 196.5,2374.2 177.2,2375.9 157.9,2379.5ZM1392.1,2372.2 1395.5,2371.8 1399.5,2372.2 1414.8,2373.8 1434.2,2379.8 1440.2,2381.9 1453.5,2386.3 1453.5,2391.5 1453.5,2401.2 1453.5,2410.4 1436.4,2401.2 1434.2,2400.4 1414.8,2394.2 1395.5,2392.7 1376.1,2398.7 1371.9,2401.2 1367.6,2410.8 1376,2420.5 1376.1,2420.6 1395.5,2427.3 1414.8,2429.5 1434.2,2426 1452.8,2420.5 1453.5,2416.8 1453.5,2420.5 1453.5,2430.2 1453.5,2439.8 1453.5,2441.1 1434.2,2443 1414.8,2444.4 1395.5,2443.2 1376.7,2439.8 1376.1,2439.7 1356.8,2433.6 1346,2430.2 1337.5,2426.1 1325.5,2420.5 1318.1,2412.8 1316.4,2410.8 1318.1,2402.2 1318.4,2401.2 1329.9,2391.5 1337.5,2387.7 1350.5,2381.9 1356.8,2379.7 1376.1,2374.3 1392.1,2372.2Z"/>
<path fill="#ffde00" stroke="#ffde00" d="M148.9,2381.9 157.9,2379.5 177.2,2375.9 196.5,2374.2 215.9,2374.4 235.2,2376.1 254.5,2379.2 267.1,2381.9 273.9,2384.3 288.6,2391.5 293.2,2396.9 296.4,2401.2 299,2410.8 299.3,2420.5 298.8,2430.2 298.2,2439.8 297.5,2449.5 296.2,2459.1 293.2,2466.4 292.2,2468.8 281.1,2478.4 273.9,2481 254.5,2486.8 248.1,2488.1 235.2,2489.9 215.9,2490.7 196.5,2489 193,2488.1 177.2,2483.8 165.3,2478.4 157.9,2474.7 149.1,2468.8 138.5,2460.8 136.5,2459.1 125.4,2449.5 119.2,2443.4 113.9,2439.8 101.9,2430.2 99.8,2427.3 86.3,2420.5 87.9,2410.8 99.8,2406.7 106,2401.2 119.2,2394.9 124.3,2391.5 138.5,2385.7 148.9,2381.9ZM196.5,2381.1 188.6,2381.9 177.2,2383.3 157.9,2388.7 150.6,2391.5 138.5,2399.2 135.4,2401.2 127.4,2410.8 125.7,2420.5 128.9,2430.2 135.6,2439.8 138.5,2442.8 144.4,2449.5 155.5,2459.1 157.9,2460.9 171.7,2468.8 177.2,2471.6 196.5,2476.9 215.9,2477.6 235.2,2473.9 247.4,2468.8 254.5,2464.3 260.7,2459.1 267.9,2449.5 272.2,2439.8 273.9,2434.3 275.1,2430.2 276.9,2420.5 276.9,2410.8 273.9,2402.6 273.3,2401.2 261.5,2391.5 254.5,2388.9 235.2,2383.7 221.8,2381.9 215.9,2381.3 196.5,2381.1ZM1371.9,2401.2 1376.1,2398.7 1395.5,2392.7 1414.8,2394.2 1434.2,2400.4 1436.4,2401.2 1453.5,2410.4 1453.5,2410.8 1453.5,2416.8 1452.8,2420.5 1434.2,2426 1414.8,2429.5 1395.5,2427.3 1376.1,2420.6 1376,2420.5 1367.6,2410.8 1371.9,2401.2Z"/>
<path fill="#ffae00" stroke="#ffae00" d="M188.6,2381.9 196.5,2381.1 215.9,2381.3 221.8,2381.9 235.2,2383.7 254.5,2388.9 261.5,2391.5 273.3,2401.2 273.9,2402.6 276.9,2410.8 276.9,2420.5 275.1,2430.2 273.9,2434.3 272.2,2439.8 267.9,2449.5 260.7,2459.1 254.5,2464.3 247.4,2468.8 235.2,2473.9 215.9,2477.6 196.5,2476.9 177.2,2471.6 171.7,2468.8 157.9,2460.9 155.5,2459.1 144.4,2449.5 138.5,2442.8 135.6,2439.8 128.9,2430.2 125.7,2420.5 127.4,2410.8 135.4,2401.2 138.5,2399.2 150.6,2391.5 157.9,2388.7 177.2,2383.3 188.6,2381.9ZM196.5,2388.9 179.5,2391.5 177.2,2392 157.9,2401 157.6,2401.2 148.9,2410.8 146.3,2420.5 148.1,2430.2 153.6,2439.8 157.9,2444.4 162.8,2449.5 177.2,2458.8 178.2,2459.1 196.5,2464.5 215.9,2463.7 228.3,2459.1 235.2,2455.7 243.3,2449.5 250.9,2439.8 254.5,2431.4 255.1,2430.2 257.2,2420.5 256.2,2410.8 254.5,2407.9 249.9,2401.2 235.2,2393.4 228.3,2391.5 215.9,2389.4 196.5,2388.9Z"/>
<path fill="#ff7e00" stroke="#ff7e00" d="M179.5,2391.5 196.5,2388.9 215.9,2389.4 228.3,2391.5 235.2,2393.4 249.9,2401.2 254.5,2407.9 256.2,2410.8 257.2,2420.5 255.1,2430.2 254.5,2431.4 250.9,2439.8 243.3,2449.5 235.2,2455.7 228.3,2459.1 215.9,2463.7 196.5,2464.5 178.2,2459.1 177.2,2458.8 162.8,2449.5 157.9,2444.4 153.6,2439.8 148.1,2430.2 146.3,2420.5 148.9,2410.8 157.6,2401.2 157.9,2401 177.2,2392 179.5,2391.5ZM196.5,2398.1 183.8,2401.2 177.2,2403.6 168,2410.8 163.4,2420.5 164.1,2430.2 169.6,2439.8 177.2,2446.4 183.6,2449.5 196.5,2454 215.9,2451.6 220.2,2449.5 232.5,2439.8 235.2,2434.9 238,2430.2 239.3,2420.5 236,2410.8 235.2,2410 221.9,2401.2 215.9,2399.2 196.5,2398.1Z"/>
<path fill="#ff4e00" stroke="#ff4e00" d="M183.8,2401.2 196.5,2398.1 215.9,2399.2 221.9,2401.2 235.2,2410 236,2410.8 239.3,2420.5 238,2430.2 235.2,2434.9 232.5,2439.8 220.2,2449.5 215.9,2451.6 196.5,2454 183.6,2449.5 177.2,2446.4 169.6,2439.8 164.1,2430.2 163.4,2420.5 168,2410.8 177.2,2403.6 183.8,2401.2ZM196.5,2409.1 192.1,2410.8 179.7,2420.5 178.9,2430.2 187.8,2439.8 196.5,2444 215.9,2439.8 215.9,2439.8 222.7,2430.2 222.3,2420.5 215.9,2412.8 208.2,2410.8 196.5,2409.1Z"/>
<path fill="#ff1e00" stroke="#ff1e00" d="M192.1,2410.8 196.5,2409.1 208.2,2410.8 215.9,2412.8 222.3,2420.5 222.7,2430.2 215.9,2439.8 215.9,2439.8 196.5,2444 187.8,2439.8 178.9,2430.2 179.7,2420.5 192.1,2410.8Z"/></g>
<path class="cl" d="M126.5,2167.1 142.4,2163.6 150.1,2164.8 144.3,2161.7 142.4,2159 132.7,2156.7 146.2,2152 150.5,2148.9 171,2145.1 188.8,2147 204.3,2148.6 223.6,2149.7 231.3,2151.6 246.8,2154 256.5,2151.6 270,2150.1 281.6,2148.2 293.2,2152 308.7,2150.9 324.2,2154.3 335.8,2157.1 351.2,2158.2 359,2155.5 370.6,2155.9 386,2158.6 397.6,2155.9 405.4,2157.1 407.3,2152 411.2,2142.8 418.9,2146.2 420.8,2151.6 426.7,2155.9 436.3,2154.7 446,2150.9 459.5,2151.3 462.2,2155.9 459.5,2163.6 446,2163.6 440.2,2168.3 436.3,2172.5 426.7,2175.2 417,2181 411.2,2186.8 410.4,2193.4 417.8,2200.3 428.6,2200.3 440.2,2204.2 447.9,2206.9 458.4,2207.7 458.8,2215.8 463.4,2221.6 469.2,2222.3 471.9,2217.7 471.1,2210 476.9,2206.1 480,2200.3 473.1,2193.4 476.9,2188.7 475,2179.8 484.7,2179.8 492.4,2181 500.1,2184.1 507.9,2185.3 507.9,2192.6 513.7,2194.5 521.4,2193.4 526,2187.6 533,2194.5 538.8,2202.2 544.6,2208 554.3,2211.9 560.1,2217.7 558.1,2221.6 548.5,2226.2 536.9,2226.6 521.4,2226.6 511.7,2231.2 504,2238.9 509.8,2235.5 519.5,2230.8 528,2232 525.3,2235.9 527.2,2241.6 538.8,2243.2 540.7,2245.5 523.3,2252.5 520.6,2248.6 527.2,2245.5 517.5,2246.7 505.9,2251.7 503.2,2258.3 505.9,2259 498.2,2261.4 490.5,2264.1 484.7,2271.8 482.7,2277.6 483.9,2283.4 478.9,2287.2 471.1,2291.9 463.4,2297.7 461.8,2303.5 465.3,2311.6 466.9,2320.8 463.4,2323.2 456.8,2313.5 456.4,2307.7 451.8,2304.6 446,2305.8 438.3,2303.5 430.5,2303.8 431.3,2307.7 422.8,2307.3 413.1,2306.2 403.4,2311.2 400,2318.1 398.8,2327.8 398.4,2334.4 403.4,2345.2 411.2,2350.2 420.8,2348.7 425.9,2345.2 427,2339.4 434.4,2337.4 440.2,2337.4 438.3,2345.2 436.3,2349.8 435.2,2356.8 433.2,2359.5 444.1,2359.1 454.5,2362.6 453,2372.2 453.3,2378.4 458.4,2385 463.4,2386.5 468.8,2383.8 476.9,2387.3 479.6,2389.6 484.3,2383.8 486.6,2378.8 490.5,2377.2 497.4,2374.1 500.1,2372.6 500.9,2378 505.9,2374.1 512.5,2378.8 521.4,2379.6 527.2,2380.7 536.9,2379.2 540.7,2383.8 544.6,2388.1 550.4,2393.5 556.2,2397.3 567.8,2398.1 575.6,2402 579.4,2405 583.3,2413.5 581.4,2420.5 589.1,2424.4 594.9,2423.2 604.6,2429.4 616.2,2431.7 625.8,2434.8 633.6,2439.4 640.5,2441 642.1,2449.5 639.4,2457.2 633.6,2463 627.8,2470.7 625.8,2478.4 625.1,2488.1 623.1,2495.8 618.9,2503.6 614.6,2509 608.4,2509.3 600.7,2512.4 594.9,2515.9 589.1,2520.9 588.3,2529.8 583.3,2534.5 577.5,2542.2 573.6,2548 569.8,2552.6 564,2555.3 556.2,2554.2 550.8,2552.6 555.1,2559.6 557.4,2562.7 553.5,2568.1 544.6,2570.8 536.1,2571.2 536.1,2578.1 525.3,2578.9 525.3,2584.7 530.3,2584.7 524.1,2588.5 523.3,2594.3 515.6,2598.2 521.4,2604 521.4,2605.9 515.6,2611.7 509.8,2617.5 512.1,2622.5 507.9,2623.3 502.1,2628.3 498.2,2627.2 492.4,2623.3 486.6,2617.5 484.7,2607.8 488.5,2602.1 484.7,2600.1 490.5,2592.4 494.3,2582.7 491.6,2575 492.4,2565.4 495.5,2557.6 499.7,2548 500.1,2536.4 502.5,2524.8 504.4,2511.3 505.2,2497.8 504.8,2491.2 498.2,2486.2 484.7,2478.4 481.6,2473.8 478.1,2466.9 473.1,2457.2 468,2447.5 463.4,2443.7 462.2,2437.9 466.1,2433.6 467.3,2430.2 463.4,2429 464.6,2424.4 467.3,2418.6 471.1,2414.7 473.1,2410.8 477.7,2405 476.9,2397.3 476.9,2392.7 473.8,2389.6 474.2,2386.1 469.2,2386.1 465.7,2388.8 467.3,2392.3 463.8,2392.7 460.7,2389.6 455.7,2388.4 453,2385.7 447.9,2382.6 444.8,2378.4 440.2,2372.2 437.9,2369.9 430.5,2368.7 422.8,2366.4 415,2360.6 411.2,2357.9 403.4,2359.9 395.7,2357.5 389.9,2354.8 382.2,2351 374.4,2347.1 368.6,2342.1 369,2337.4 365.5,2330.5 359,2323.2 353.6,2317.4 349.3,2312.7 342.7,2308.5 339.6,2300.8 332.7,2297.7 333.1,2302.7 337.7,2308.5 343.5,2316.2 347.4,2322 350.1,2327 353.2,2330.9 350.5,2331.7 343.5,2324.7 342.7,2320.1 335.8,2315.4 331.9,2313.1 335,2309.6 329.2,2304.6 325.3,2298.8 323.8,2295 318.7,2289.2 310.6,2287.2 305.6,2279.5 302.9,2274.5 297.9,2267.9 295.9,2264.4 296.7,2254.4 297.1,2242 294.4,2233.5 302.9,2235.1 301,2230.4 293.2,2225.4 283.5,2221.6 279.7,2215.8 272.7,2210 268.1,2206.1 260.3,2198.4 250.7,2195.3 244.9,2193.4 236,2190.3 223.6,2188.7 212,2186 204.3,2188.7 196.5,2191.4 190,2191.8 192.7,2184.9 196.5,2184.1 186.9,2188.7 181.1,2194.5 171.4,2200.3 163.7,2204.2 154,2207.3 144.3,2208.8 139.3,2209.6 150.1,2205 157.9,2202.2 165.6,2198.4 167.5,2193.8 161.7,2193.8 150.1,2193.8 150.1,2188.7 140.4,2186.8 134.6,2182.2 138.5,2177.9 140.4,2176.4 154,2175.2 154,2171.3 146.2,2171.3 132.7,2171.3 126.5,2167.1M513.7,2126.9 500.1,2121.1 494.3,2117.3 517.5,2112.2 525.3,2107.6 544.6,2103.7 583.3,2101.8 610.4,2099.1 641.3,2097.6 672.2,2098.7 691.6,2102.6 680,2104.9 710.9,2105.7 728.3,2105.7 710.9,2111.5 705.1,2117.3 699.3,2123.1 703.2,2128.9 697.4,2132.7 691.6,2138.5 683.8,2140.4 691.6,2144.3 690.4,2148.9 680,2152 674.2,2155.5 660.6,2157.4 649,2161.7 639.4,2165.6 629.7,2166.7 622,2169.4 618.1,2175.2 612.3,2181 610.4,2186.8 606.9,2189.5 598.8,2186 589.1,2183.7 583.3,2179.1 577.5,2173.3 573.6,2167.5 569,2161.7 571.7,2155.9 579.4,2152 565.9,2148.2 565.9,2142.4 560.1,2136.6 552.3,2130 536.9,2126.2 521.4,2126.9 513.7,2126.9M876.5,2145.9 885,2146.6 896.6,2150.1 906.2,2152.4 919.8,2154.7 935.2,2159.8 935.2,2163.6 925.6,2165.6 910.1,2163.6 902.4,2161.7 910.1,2171.3 919.8,2173.3 931.4,2170.6 933.3,2166.3 946.8,2164.4 946.8,2156.7 954.6,2157.8 962.3,2159 981.7,2155.9 989.4,2155.9 1001,2154.7 1010.7,2154 1012.6,2150.1 1024.2,2153.2 1035.8,2154.7 1041.6,2154 1035.8,2148.2 1035.8,2144.3 1043.5,2138.5 1057.1,2139.3 1057.1,2146.2 1057.1,2155.9 1062.9,2161.7 1062.9,2144.3 1066.7,2140.4 1078.3,2141.6 1088,2140.4 1089.2,2136.6 1109.3,2135.4 1113.2,2130.8 1132.5,2127.7 1155.7,2126.2 1178.9,2120.4 1186.6,2122.3 1206,2124.2 1215.6,2128.9 1202.1,2134.6 1213.7,2135.8 1233,2136.6 1254.3,2137.7 1267.9,2140.4 1267.9,2136.6 1275.6,2142.4 1283.3,2147 1291.1,2144.3 1306.5,2144.7 1318.1,2140.8 1337.5,2140.4 1356.8,2144.3 1368.4,2146.6 1383.9,2146.2 1395.5,2151.3 1407.1,2151.3 1424.5,2151.3 1436.1,2150.1 1436.1,2154 1447.7,2150.9 1461.2,2152 1472.8,2154.3M80.5,2154.3 92.1,2157.1 103.7,2161.7 115.3,2162.5 120.3,2165.2 111.4,2169.4 107.6,2172.1 97.9,2170.2 88.2,2167.5 82.4,2168.3 80.5,2169.4M1472.8,2169.4 1467,2171.3 1463.2,2170.6 1470.1,2177.1 1470.9,2179.8 1457.4,2181.8 1445.8,2184.9 1436.1,2188.7 1422.6,2188.7 1412.9,2189.1 1408.2,2192.6 1403.2,2196.5 1407.9,2197.6 1406.3,2203.4 1402.4,2208 1395.5,2215 1388.9,2219.6 1383.1,2223.5 1378.9,2215.8 1378.9,2206.1 1383.1,2198.4 1389.7,2195.7 1401.3,2188.7 1409,2182.9 1403.2,2182.5 1395.5,2184.9 1383.1,2182.5 1374.2,2189.5 1362.6,2191.8 1351,2191.8 1329.7,2191.4 1316.2,2198.4 1306.5,2208 1308.5,2211.9 1322,2214.6 1323.2,2219.6 1320.1,2225.4 1319.3,2233.2 1312.3,2240.1 1302.7,2248.6 1291.1,2255.2 1282.6,2257.1 1278.3,2262.1 1271.7,2266 1269.8,2267.9 1273.7,2271.8 1277.1,2277.6 1277.1,2283.4 1273.7,2285.7 1265.9,2287.6 1265.5,2281.4 1266.7,2276.8 1261.3,2274.5 1260.1,2270.6 1260.9,2267.5 1257.4,2266.4 1248.5,2269.1 1245.8,2270.6 1247.7,2264.1 1242.7,2265.2 1233,2269.1 1235,2272.9 1236.9,2276.4 1243.9,2274.5 1250.5,2276.8 1244.6,2279.5 1238.1,2284.5 1241.9,2289.9 1247.7,2297.7 1248.1,2301.5 1244.6,2303.5 1248.5,2305.4 1246.6,2311.2 1242.7,2316.2 1238.8,2322 1233,2326.2 1227.2,2331.7 1218.3,2334.4 1211.8,2336.7 1204,2338.6 1203.3,2342.1 1200.9,2337.4 1195.5,2337.1 1189.3,2340.5 1185.5,2347.1 1188.6,2352.9 1195.5,2358.7 1199.4,2368.4 1199,2374.9 1192.4,2379.9 1189.3,2382.6 1183.5,2386.9 1182,2381.9 1177,2379.6 1173.1,2373.4 1167.3,2371.4 1165.8,2368.4 1163.4,2372.2 1160.7,2379.9 1162.7,2384.6 1164.6,2388.4 1167.3,2393.8 1171.9,2396.6 1176.2,2402 1177,2409.7 1179.7,2415.1 1176.6,2414.3 1168.5,2409.3 1165,2399.3 1162.3,2394.2 1156.9,2389.6 1157.6,2381.9 1158.4,2374.1 1155.7,2366.4 1154.5,2357.5 1149.9,2356.8 1145.3,2359.5 1141.4,2357.9 1142.2,2351 1138.3,2344 1133.6,2339.4 1131.7,2334 1126.7,2334.4 1120.9,2336.3 1113.2,2338.2 1112.4,2341.3 1105.4,2345.2 1099.6,2351.7 1094.6,2356.8 1088,2359.5 1086.5,2366.4 1087.2,2370.3 1085.3,2378 1083,2384.6 1078.3,2387.7 1076.4,2389.2 1071.8,2383.8 1068.7,2376.1 1066,2370.3 1063.6,2362.6 1060.6,2356.8 1058.2,2347.1 1057.8,2339.4 1057.1,2334.7 1049.3,2340.2 1043.5,2334.7 1047.4,2332.8 1041.6,2329.7 1037,2325.9 1033.9,2322.4 1026.1,2323.2 1014.5,2323.5 1004.9,2322.4 998.3,2321.6 996.3,2315.8 987.5,2317.7 979.7,2314.3 973.9,2309.2 970.8,2304.6 965.8,2303.5 962.3,2305.4 964.2,2310.4 970,2317.4 973.1,2322 976.2,2320.5 975.5,2325.9 985.5,2327.4 994,2320.1 995.2,2325.9 1002.9,2329.3 1008,2334 1002.9,2341.3 999.8,2347.1 993.3,2351.4 985.5,2354.8 978.6,2358.7 966.2,2364.5 956.5,2368.7 950.7,2371.1 944.9,2371.4 943,2364.5 941.8,2357.1 935.2,2347.9 928.3,2338.2 925.6,2329.7 920.5,2323.9 914.7,2315 912,2312 912,2306.5 909.3,2312.7 905.1,2310.4 902.8,2305 906.2,2312.3 910.1,2320.1 914.7,2328.2 919.8,2335.5 920.9,2339.4 921.3,2347.9 926,2351 929.4,2360.6 936,2364.5 941,2370.3 944.1,2372.2 944.1,2376.1 948.8,2379.9 958.4,2377.2 966.2,2376.8 974.7,2374.9 973.9,2380.3 970.8,2387.7 966.2,2397.3 961.5,2405 954.6,2412 946.8,2416.6 939.1,2424 935.2,2428.2 932.1,2432.1 929.4,2437.9 926.7,2444.4 929.4,2447.5 929.4,2455.3 933.3,2461.1 933.3,2470.7 934.1,2478.4 927.5,2486.2 919,2490 912,2497 914,2505.5 914,2513.2 904.3,2519 903.5,2528.7 898.5,2534.5 893.5,2541 885.7,2548 877.2,2551.5 865.6,2552.2 854,2554.9 847.8,2553 847.1,2546 843.6,2538.3 840.5,2531 835.5,2522.9 832.7,2511.3 828.9,2501.6 823.1,2490 822.3,2482.3 825,2472.6 830,2463 826.9,2454.5 824.2,2444.1 822.3,2437.9 815.3,2430.2 811.5,2423.2 813.4,2416.6 814.2,2410.8 813.8,2405.4 809.5,2403.1 803.7,2403.5 797.9,2401.2 794.1,2396.2 782.5,2396.9 774.7,2399.6 768.9,2402 764.3,2400.8 757.3,2400.8 747.7,2403.5 741.9,2401.2 734.9,2395.8 728.3,2391.5 725.6,2387.7 723.7,2383.8 718.7,2378 712.1,2372.6 711.7,2368.4 709,2363.7 712.9,2358.7 713.6,2351 714,2346.3 710.9,2339.4 714.8,2329.7 719.4,2322 724.5,2315 726.8,2312.7 733.4,2309.2 738.8,2304.6 739.2,2298.8 743.8,2291.9 750.4,2288.8 753.9,2282.2 756.2,2281.8 765.1,2284.1 772,2284.5 777.4,2281.8 782.5,2279.5 788.3,2278.3 796,2278.3 805.7,2277.6 814.6,2276.4 819.2,2277.6 817.3,2280.7 818.4,2286.1 815.7,2288.4 819.2,2291.9 825,2293.4 835.8,2295.7 837.8,2299.6 846.3,2302.7 852.1,2303.1 854,2300.8 854,2296.1 859.8,2293.4 866.4,2295.7 873.4,2298 881.1,2299.6 888.8,2301.1 894.6,2299.2 900.4,2299.2 901.6,2300 908.9,2299.6 911.6,2293.8 914.4,2289.2 915.1,2283.4 916.7,2279.1 912,2279.1 906.2,2281.1 900.4,2280.3 895,2278.3 890.8,2280.7 885,2278.7 882.3,2275.6 879.2,2272.2 880.3,2267.9 878,2266 883,2264.4 888.8,2264.1 889.2,2261.4 898.5,2261.4 906.2,2258.3 912,2258.3 918.6,2261.4 925.6,2262.5 931.4,2262.1 937.2,2260.2 937.2,2255.6 931.4,2252.5 925.6,2249.4 921.7,2245.9 923.6,2240.9 928.3,2238.2 921.7,2238.9 914,2240.9 912,2244.7 917.8,2245.5 912,2247.4 907,2249 903.1,2244.7 906.2,2242.4 900.4,2240.9 895.8,2240.9 891.5,2245.5 887.7,2250.5 885,2254.4 884.2,2257.5 885.7,2260.2 888.4,2262.1 883,2262.1 878.4,2264.1 877.2,2262.9 871.4,2262.5 867.6,2264.8 864.9,2264.1 864.9,2267.9 866.4,2270.2 869.5,2273.7 866.4,2274.9 865.6,2279.5 862.9,2279.1 860.6,2277.6 859,2274.5 858.7,2272.2 856,2268.7 852.1,2264.8 851.7,2260.2 848.2,2256.3 840.5,2252.5 834.7,2248.6 830.8,2246.7 829.7,2244 824.2,2245.5 824.2,2249.4 828.9,2252.1 831.6,2256.7 838.6,2258.6 846.3,2263.7 848.2,2265.6 842.4,2264.4 840.9,2267.5 842.8,2269.8 840.5,2272.6 837.4,2273.7 838.6,2270.6 837.4,2266 832.7,2263.3 825.8,2260.6 822.3,2257.9 817.3,2254.4 816.1,2250.9 811.1,2249 805.7,2251.3 799.9,2254 794.1,2252.9 789,2254.4 789,2258.6 785.2,2260.6 779.8,2262.9 775.9,2267.9 777.4,2270.6 774,2274.9 768.9,2278.3 759.7,2278.7 755.8,2281.1 752.3,2278.7 749.6,2276.8 742.2,2277.6 742.6,2271.8 740.3,2270.6 742.2,2265.2 743,2259 741.1,2254.4 745.7,2251.7 754.6,2252.1 762,2252.5 769.7,2252.9 771.6,2248.6 772.4,2243.6 768.2,2238.6 760,2235.5 758.5,2233.5 765.1,2232 770.5,2232.8 770.5,2228.9 777.1,2229.7 782.5,2227 783.2,2223.9 790.2,2221.9 792.9,2218.9 795.2,2215.8 801.8,2213.8 807.6,2213.1 810.3,2211.9 809.9,2206.9 808,2202.2 809.9,2199.9 817.3,2197.6 816.5,2202.2 818.4,2203 814.6,2206.9 815.3,2210 819.2,2211.9 825,2210.4 830.8,2211.9 840.5,2210 848.2,2209.2 853.2,2210.4 857.9,2207.3 857.9,2201.1 863.7,2197.6 869.5,2200.3 870.7,2195.3 867.6,2191.8 877.2,2190.7 885,2190.3 893.5,2189.1 886.9,2186.8 877.2,2187.2 865.6,2189.1 859.8,2186.4 859,2181 859.8,2176.4 871.4,2170.2 874.5,2167.5 869.5,2166.3 861.8,2167.5 859,2171.3 850.2,2176 844.4,2179.8 843.2,2184.9 848.2,2187.6 848.2,2191.4 842.4,2193.8 840.5,2198.4 838.6,2203 832,2205.7 826.6,2206.1 825,2202.2 822.3,2197.6 819.2,2192.6 817.3,2190.7 813.4,2193.4 807.6,2196.1 801.8,2196.1 797.9,2192.6 796,2184.9 796.4,2181 801.8,2177.9 809.5,2175.2 817.3,2172.5 823.1,2167.5 826.9,2163.6 832.7,2158.6 838.6,2155.1 848.2,2150.9 857.9,2149.3 867.6,2147.4 876.5,2145.9M966.2,2240.9 973.9,2238.9 981.7,2239.7 981.7,2245.5 975.1,2245.9 973.9,2248.6 971.2,2249.4 975.9,2253.6 979.7,2256.3 979.7,2260.2 984.7,2262.1 981.7,2266 983.6,2268.7 984.7,2276.4 977.8,2278.7 971.2,2276.4 966.2,2275.3 965.8,2271.8 967.3,2267.9 971.2,2264.8 968.1,2262.1 964.2,2258.3 960.4,2254.4 960.4,2248.6 957.3,2247.8 960.4,2244 966.2,2240.9M754.6,2227 763.1,2226.2 772.8,2224.7 782.1,2222.7 779.8,2221.2 783.2,2217.3 777.8,2215.8 777.1,2213.5 772,2209.6 770.5,2206.1 768.5,2204.2 764.3,2204.2 767,2202.2 768.9,2198 763.1,2197.6 760.4,2198.4 764.7,2194.1 757.3,2194.1 754.2,2198.4 755,2202.2 755.4,2206.5 758.1,2205.7 757.7,2208.8 763.1,2208.4 764.3,2211.9 765.1,2214.2 759.3,2214.6 760.4,2217.7 756.6,2220 763.9,2221.9 765.1,2222.7 759.3,2223.1 754.6,2227M752.7,2214.6 753.5,2210 752.7,2207.3 747.7,2206.9 743.8,2210 738,2211.1 738.4,2214.2 740.3,2217.3 736.8,2220 739.9,2221.6 745.7,2220.4 751.9,2218.9 752.7,2214.6M689.6,2173.3 683.8,2169.8 691.6,2167.9 683.1,2167.1 689.6,2164 695.4,2167.5 705.1,2165.2 714.8,2163.6 720.6,2165.6 724.1,2169.4 718.7,2172.1 707.1,2175.2 698.2,2174.8 689.6,2173.3M1327.8,2461.8 1332.8,2475.7 1338.6,2478.4 1341.3,2490 1342.5,2493.5 1351,2498.5 1354.9,2506.6 1359.9,2511.3 1368.4,2519 1370.3,2529.4 1368.4,2540.2 1361.8,2551.5 1357.6,2559.6 1356.8,2565.4 1347.1,2567.3 1342.5,2571.5 1336.7,2567.3 1331.7,2570.4 1320.1,2567.3 1316.2,2559.6 1312.3,2557.6 1310.4,2549.9 1309.6,2546 1306.5,2551.8 1302.7,2555.7 1300,2553.8 1294.9,2547.2 1285.3,2542.2 1275.6,2543 1264,2545.3 1256.3,2548 1254.3,2551.5 1240.8,2551.8 1233,2555.7 1222.2,2553 1224.2,2544.1 1221.4,2536.4 1218.3,2526.7 1214.9,2520.9 1216.4,2511.3 1218.3,2504.7 1225.3,2500.8 1235,2498.9 1244.6,2495.8 1249.7,2490 1252.4,2484.2 1258.2,2482.3 1262.1,2476.5 1267.9,2474.6 1272.5,2478.4 1277.5,2478.1 1282.2,2468.8 1289.1,2464.9 1289.1,2467.2 1298.8,2466.9 1305.8,2466.9 1302.7,2472.6 1300.7,2478.4 1308.5,2482.3 1316.2,2488.1 1321.2,2488.1 1323.9,2478.4 1324.7,2468.8 1327.8,2461.8M1336.3,2577.7 1343.3,2579.3 1350.2,2578.5 1349.8,2582.7 1347.1,2587.4 1341.3,2588.5 1338.6,2583.9 1336.3,2577.7M1444.6,2576.9 1450.8,2580 1445.8,2586.6 1438.8,2592.4 1436.1,2597.8 1430.3,2600.5 1422.6,2598.2 1421.4,2596.3 1428.4,2590.5 1436.1,2585.8 1441.9,2578.9 1444.6,2576.9M1444.6,2553.4 1451.6,2559.6 1455.4,2562.7 1459.3,2566.1 1466.3,2565.7 1463.2,2571.9 1459.3,2576.9 1454.3,2580.8 1453.5,2575 1448.9,2572.3 1452.3,2567.3 1451.6,2563.4 1445.8,2555.7 1444.6,2553.4M967.3,2466.9 971.2,2480.4 968.1,2488.1 964.2,2499.7 960.4,2513.2 958.4,2517.1 951.5,2519 946.8,2515.1 944.1,2507.4 948,2497.8 946.8,2488.1 950.7,2482.3 958.4,2479.6 962.3,2472.6 967.3,2466.9M1086.1,2382.6 1090.7,2387.7 1093,2393.5 1089.9,2396.9 1086.1,2397.3 1084.9,2389.6 1086.1,2382.6M1323.2,2260.6 1325.9,2267.9 1322,2273.7 1321.2,2281.4 1318.1,2284.5 1313.5,2286.5 1306.5,2286.8 1301.9,2291.1 1298.8,2287.2 1291.1,2288 1283.3,2289.2 1283.3,2287.2 1289.1,2283.8 1296.9,2283 1302.7,2282.6 1305.8,2277.6 1307.7,2278.3 1312.3,2275.6 1316.2,2271.8 1318.1,2266 1319.3,2262.1 1323.2,2260.6M1319.3,2260.2 1322.8,2256.3 1330.5,2258.3 1339.4,2253.2 1338.2,2249.4 1329.7,2248.6 1325.1,2244.7 1323.9,2252.5 1319.3,2253.6 1317.4,2257.1 1319.3,2260.2M1283.3,2289.5 1287.2,2292.3 1285.3,2298.8 1282.2,2300.8 1280.2,2296.9 1278.3,2292.3 1283.3,2289.5M1289.1,2289.5 1296.9,2288.4 1295.7,2291.9 1291.1,2293.8 1288.4,2291.9 1289.1,2289.5M1328.6,2210.7 1330.9,2217.7 1330.5,2227.4 1335.5,2231.2 1329.7,2238.9 1331.7,2242 1325.9,2242.8 1325.9,2235.1 1326.6,2227.4 1324.7,2219.6 1326.6,2213.8 1328.6,2210.7M1246.6,2323.2 1247.7,2325.9 1243.9,2335.5 1241.2,2331.7 1244.6,2323.9 1246.6,2323.2M1204,2342.9 1206,2345.2 1202.1,2349.4 1197.1,2348.3 1197.1,2345.2 1200.2,2343.2 1204,2342.9M1243.1,2349 1249.3,2349 1249.7,2356.8 1247,2360.6 1247.4,2365.6 1256.3,2370.3 1254.3,2371.4 1250.5,2367.2 1244.6,2367.6 1243.1,2364.5 1240.8,2360.6 1241.9,2357.9 1242.3,2352.9 1243.1,2349M1261.7,2382.6 1265.9,2389.6 1264.8,2395.4 1261.7,2398.9 1261.3,2394.2 1256.3,2396.2 1256.3,2391.5 1249.3,2393.5 1251.6,2388.8 1256.3,2387.7 1261.7,2382.6M1257.4,2372.2 1262.1,2373 1262.4,2378 1260.1,2381.1 1257.8,2376.8 1257.4,2372.2M1248.5,2374.9 1252.8,2376.1 1253.9,2381.9 1252,2385.3 1250.1,2381.9 1248.5,2379.9 1248.5,2374.9M1238.8,2376.8 1236.9,2381.1 1230.3,2388.1 1235,2381.9 1238.8,2376.8M1242.7,2368.4 1246.6,2369.5 1245.4,2373 1243.9,2371.1 1242.7,2368.4M1229.2,2393.5 1236.9,2400.4 1233,2403.9 1232.3,2408.9 1233,2416.6 1231.1,2424.4 1227.2,2430.2 1225.3,2436 1219.5,2436 1213.7,2432.9 1207.9,2432.1 1202.9,2427.5 1198.2,2422.4 1198.2,2414.7 1204,2413.5 1207.1,2410.8 1213.7,2408.1 1219.5,2402 1225.3,2397.3 1229.2,2393.5M1145.3,2398.9 1153.8,2400.4 1158.4,2405.8 1165.4,2412 1175,2418.6 1178.9,2424.4 1186.6,2432.1 1185.9,2442.9 1180.8,2442.9 1172.3,2436 1167.3,2430.2 1164.6,2423.6 1158.8,2413.9 1152.6,2408.1 1146,2402 1145.3,2398.9M1183.5,2446.8 1188.6,2443.7 1196.3,2446 1205.2,2445.2 1212.5,2447.5 1219.5,2450.2 1219.5,2454.1 1206,2452.6 1194.4,2450.6 1188.6,2449.1 1183.5,2446.8M1240.8,2417.4 1244.6,2415.5 1252.4,2417 1260.1,2414.3 1258.2,2418.6 1252.4,2419 1243.9,2419 1241.6,2424 1246.6,2424 1253.5,2423.6 1247.4,2427.8 1251.6,2435.6 1250.5,2441 1247.4,2438.7 1244.6,2431.3 1242.7,2432.1 1242.3,2441.7 1238.8,2441.7 1238.8,2434 1236.1,2431.3 1240,2420.9 1240.8,2417.4M1283.3,2423.6 1289.1,2422 1294.9,2423.6 1296.1,2430.2 1300.7,2433.2 1306.5,2427.5 1312.3,2427.5 1322,2430.5 1331.7,2434 1337.5,2437.1 1340.6,2441.7 1347.1,2443.7 1346,2446.8 1351,2455.3 1358.7,2460.3 1354.9,2460.7 1346,2457.2 1341.3,2451.4 1335.5,2450.2 1331.7,2452.6 1329,2456 1322,2455.7 1314.3,2451.4 1310.4,2452.9 1309.6,2448.3 1313.1,2446.8 1310.4,2441.7 1302.7,2438.3 1293,2435.2 1290.3,2436 1287.2,2431.3 1293.8,2429.4 1288.4,2429 1283.3,2425.9 1283.3,2423.6M1254.3,2460.3 1260.1,2455.3 1267.9,2452.9 1265.9,2455.3 1258.2,2459.9 1254.3,2460.3M1236.9,2452.9 1244.6,2452.9 1252.4,2452.6 1250.5,2454.5 1240.8,2454.9 1236.9,2452.9M1228.4,2452.9 1235,2452.6 1236.9,2454.1 1229.2,2455.3 1228.4,2452.9M1270.6,2412 1273.7,2414.7 1274,2419.3 1270.9,2423.6 1270.2,2416.6 1270.6,2412M1271.7,2431.7 1282.2,2432.9 1279.5,2434.4 1271.7,2433.6 1271.7,2431.7M1264,2432.9 1268.6,2433.2 1267.1,2435.2 1264,2434.4 1264,2432.9M1350.6,2441.7 1358.7,2441.7 1365.3,2436.7 1365.7,2439.8 1360.7,2443.7 1352.9,2444.4 1350.6,2441.7M1359.9,2430.5 1366.5,2434.4 1368.4,2438.3 1365.3,2433.2 1359.9,2430.5M1375,2441.4 1379.6,2446 1377.7,2447.2 1375,2441.4M1383.9,2449.1 1393.6,2452.6 1389.7,2451.4 1383.9,2449.1M1394.7,2456.4 1398.6,2458.4 1395.5,2458.7 1394.7,2456.4M1398.6,2453.3 1401.7,2457.6M1401.3,2459.9 1404.4,2462.2M1421.4,2478.4 1423.3,2481.9 1421.8,2480.8 1421.4,2478.4M1424.5,2483.1 1427.2,2488.9M1411,2498.5 1422.6,2506.3 1420.6,2506.6 1411.7,2500.8 1411,2498.5M1462.4,2488.1 1467.4,2489.3 1464.3,2490.8 1462.4,2488.1M448.3,2335.9 455.7,2331.7 463.4,2331.3 471.1,2334 478.9,2337.4 484.7,2340.5 489.7,2342.5 486.6,2343.6 476.9,2343.6 478.1,2340.9 473.1,2339.4 465.3,2335.5 459.5,2334.4 453.7,2334.7 448.3,2335.9M488.9,2349 494.3,2343.6 500.1,2343.6 505.9,2344.8 512.1,2348.7 507.9,2349.4 502.1,2350.2 499.4,2351.7 494.3,2350.2 488.9,2349M473.8,2349.8 481.6,2350.6 478.9,2351.7 473.8,2349.8M516.8,2349.4 522.6,2349.8 521.4,2351.2 516.8,2351 516.8,2349.4M475,2317.4 478.1,2318.1M475.8,2325.9 476.2,2328.6M538.8,2379.2 540.7,2381.1 537.7,2381.5 538.8,2379.2M562,2221.6 560.9,2227.4 569.8,2229.3 572.8,2237 567.8,2239.7 560.1,2238.9 547.3,2236.2 552.3,2229.3 557,2223.5 562,2221.6M529.1,2227.7 536.9,2229.7 529.1,2230.1 529.1,2227.7M528,2238.9 536.9,2241.3 531.1,2242.4 528,2238.9M280.5,2224.7 291.3,2226.2 299,2233.2 293.2,2232.4 287.4,2229.3 280.5,2224.7M262.3,2211.5 267.3,2211.9 270,2218.9 264.2,2215.8 262.3,2211.5M179.1,2198.4 186.9,2196.5 187.6,2199.2 181.1,2201.1 179.1,2198.4M173.3,2344 177.2,2344.8 174.9,2347.1 173.3,2344M170.6,2339.8 173.3,2340.5M164.8,2337.4 166.7,2337.8M159,2335.1 160.6,2335.5M252.6,2198.4 256.5,2203M258.4,2196.8 262.3,2203M112.2,2174.4 123.8,2176.4 117.2,2175.6 112.2,2174.4M131.9,2187.6 135.8,2189.1M467.3,2135.8 478.9,2139.3 490.5,2143.5 502.1,2146.2 511.7,2150.1 517.5,2154 534.9,2161.7 538.8,2165.6 529.1,2169.4 525.3,2177.1 519.5,2177.1 511.7,2179.8 500.1,2175.2 488.5,2171.3 475,2170.6 478.9,2167.5 490.5,2167.5 496.3,2159.8 478.9,2155.9 471.1,2150.1 459.5,2150.9 447.9,2150.1 436.3,2148.2 430.5,2144.3 430.5,2138.5 447.9,2135.4 463.4,2137.4 467.3,2135.8M324.2,2138.5 343.5,2139.7 359,2137.7 370.6,2138.5 372.5,2146.2 384.1,2150.9 378.3,2154.7 359,2155.1 337.7,2155.9 326.1,2152 324.2,2148.9 339.6,2148.2 320.3,2144.3 316.4,2141.2 324.2,2138.5M293.2,2133.9 308.7,2132.7 322.2,2136.6 308.7,2139.3 301,2144.3 289.4,2142.4 293.2,2138.5 293.2,2133.9M420.8,2106.4 447.9,2101.8 486.6,2099.5 525.3,2100.7 536.9,2103.7 517.5,2107.6 498.2,2113.4 482.7,2115.3 475,2123.1 455.7,2125.4 432.5,2125 440.2,2119.2 436.3,2113.4 420.8,2106.4M405.4,2125 428.6,2126.9 459.5,2127.7 467.3,2131.9 440.2,2132.7 420.8,2131.9 405.4,2125M440.2,2167.5 451.8,2166.3 463.4,2173.3 455.7,2176.4 444.1,2175.2 440.2,2167.5M328,2125 351.2,2125.8 366.7,2127.7 366.7,2130.8 343.5,2132.7 324.2,2130 328,2125M374.4,2125 397.6,2125 397.6,2130.8 382.2,2128.9 374.4,2125M382.2,2136.6 401.5,2135.4 401.5,2142.4 393.8,2144.3 382.2,2140.4 382.2,2136.6M407.3,2134.6 426.7,2134.6 428.6,2139.3 413.1,2142.4 407.3,2138.5 407.3,2134.6M405.4,2109.5 424.7,2110.3 440.2,2113.4 424.7,2117.3 409.2,2113.4 405.4,2109.5M389.9,2154.3 405.4,2152.8 397.6,2150.9 389.9,2154.3M370.6,2114.2 389.9,2115.3 378.3,2118 370.6,2114.2M301,2125.8 320.3,2126.2 308.7,2127.3 301,2125.8M465.3,2177.9 469.2,2181 467.3,2181.8 465.3,2177.9M469.2,2202.2 471.1,2204.2M819.2,2113.4 838.6,2111.5 857.9,2109.5 881.1,2110.7 861.8,2115.3 850.2,2117.3 857.9,2121.1 842.4,2124.2 830.8,2121.1 821.1,2116.1 819.2,2113.4M975.9,2146.2 983.6,2147 999.1,2146.2 993.3,2138.5 1001,2132.7 1020.3,2127.7 1042.8,2123.8 1031.9,2123.1 1008.7,2126.2 993.3,2130 985.5,2136.6 977.8,2142.4 975.9,2146.2M1148,2115.3 1163.4,2112.2 1182.8,2115.3 1175,2118.4 1159.6,2119.2 1148,2115.3M1144.1,2108.8 1155.7,2106.8 1151.8,2110.3 1144.1,2108.8M1306.5,2128.9 1322,2126.9 1337.5,2128.9 1356.8,2130 1349.1,2131.6 1325.9,2131.6 1310.4,2131.6 1306.5,2128.9M1318.1,2135.4 1329.7,2136.2 1323.9,2137.4 1318.1,2135.4M1468.2,2144.3 1472.8,2144.7M80.5,2144.7 90.2,2145.5 82.4,2146.6 80.5,2146.4M1472.8,2146.4 1468.2,2145.9 1468.2,2144.3M958.4,2109.5 973.9,2108.4 993.3,2109.2 1008.7,2107.6 993.3,2110.7 970,2111.5 958.4,2109.5M1002.9,2149.3 1010.7,2150.5 1004.9,2151.3 1002.9,2149.3M825,2273.7 837,2272.6 835.1,2278.7 825,2275.3 825,2273.7M808.4,2262.1 814.2,2262.1 813.8,2269.1 809.5,2269.8 808.4,2262.1M809.9,2256.3 813,2254.4 813.4,2260.2 810.7,2259.8 809.9,2256.3M867.9,2283.4 878.4,2284.5 871.4,2285.3 867.9,2283.4M901.6,2285.3 910.1,2283 907.4,2286.1 903.1,2286.8 901.6,2285.3M817.3,2206.1 825,2204.2 824.2,2208 819.2,2208.8 817.3,2206.1M511.4,2624.1 512.9,2627.2 524.5,2631.8 519.5,2633.7 509.8,2634.9 498.2,2631 488.5,2624.5 502.1,2628.7 504,2624.8 511.4,2624.1M540.7,2618.7 552.3,2619.4 548.5,2622.5 540.7,2621.4 540.7,2618.7M1042.8,2609 1049.3,2610.2 1045.5,2612.5 1042.8,2610.9 1042.8,2609M489.7,2582.7 492.4,2584.7 491.6,2588.1 489.3,2586.6 489.7,2582.7M80.5,2746.5 101.8,2745.4 123,2748.1 150.1,2749.6 182.2,2749.6 204.3,2748.8 222.4,2747.3 196.5,2745 183,2738.4 196.5,2735.7 208.9,2730.3 195.4,2727.6 168.7,2730.3 163.3,2719.5 187.2,2716.8 213.9,2709.8 241,2707.9 283.5,2705.2 316.4,2703.6 347.8,2705.6 370.6,2707.9 388.4,2709.1 382.2,2700.6 401.5,2699.8 401.5,2703.6 428.6,2702.1 455.7,2703.6 482,2703.6 503.2,2700.9 508.6,2698.2 519.5,2682 535.3,2671.2 554.3,2666.2 535.3,2676.6 527.2,2684.7 538,2695.5 540.7,2703.6 527.2,2711.8 508.6,2714.1 482,2716.8 476.5,2722.2 487.4,2727.6 508.6,2730.3 524.9,2733 551.6,2740 572.8,2735.7 594.5,2734.6 615.8,2730.3 637,2727.6 666.8,2730.3 639.8,2723.7 669.1,2716.8 696.2,2711.8 717.5,2703.6 739.2,2697.1 770.1,2695.5 802.2,2690.1 818.1,2692.8 839.7,2690.1 866.4,2691.7 903.9,2686.3 925.2,2688.6 952.3,2680.9 984.4,2673.9 1005.6,2679.3 1037.7,2682 1043.1,2688.6 1037.7,2694 1045.9,2698.2 1059.4,2690.1 1080.7,2683.2 1112.8,2677.8 1118.2,2675.8 1123.6,2679.3 1155.7,2679.3 1171.9,2672.4 1187.8,2677.8 1214.5,2673.9 1236.1,2677.8 1262.8,2675.8 1294.9,2673.9 1300.3,2672.4 1305.8,2676.6 1337.9,2677.8 1348.7,2683.2 1370,2686.3 1396.6,2691.7 1436.9,2697.1 1428.7,2703.6 1407.5,2709.1 1412.9,2719.5 1421,2722.2 1396.6,2727.6 1393.9,2733 1412.9,2740 1439.6,2743.8 1460.1,2746.5 1472.8,2746.5M567.8,2730.3 589.1,2719.5 610.4,2724.9 607.7,2731.5 583.7,2733 567.8,2730.3M492.4,2697.1 503.2,2686.3 508.6,2690.1 505.9,2698.2 492.4,2697.1M144.3,2723.7 159.8,2723 159.8,2725.7 146.2,2725.7 144.3,2723.7M302.9,2126.2 316.4,2121.9 328,2121.1 324.2,2125.8 312.6,2127.7 302.9,2126.2M339.6,2118 351.2,2116.5 353.2,2119.6 341.6,2120.7 339.6,2118M370.6,2115.3 389.9,2115.3 393.8,2119.2 378.3,2120 370.6,2115.3M399.6,2116.1 409.2,2117.3 403.4,2120 399.6,2116.1M403.4,2128.5 415,2128.9 415,2131.9 405.4,2131.2 403.4,2128.5M463.4,2135.8 480.8,2137.4 480.8,2139.3 465.3,2138.9 463.4,2135.8M476.9,2157.1 484.7,2158.6 480.8,2160.5 476.9,2157.1M455.7,2177.1 461.5,2177.9 457.6,2179.8 455.7,2177.1M459.5,2215 465.3,2216.5M428.6,2105.7 447.9,2111.5 455.7,2115.3M459.5,2109.5 482.7,2112.2M447.9,2107.6 482.7,2108.8M525.3,2167.5 513.7,2163.6 527.2,2163.6M523.3,2177.9 511.7,2174M691.6,2148.9 672.2,2148.2 680,2144.3 691.6,2144.3M378.3,2129.6 388,2128.5 388,2130.8 378.3,2129.6M389.9,2123.8 401.5,2124.2M469.2,2123.4 475,2126.2"/>
</g>
<rect class="fr" x="80.5" y="2082.5" width="1373.0" height="676.0"/>
<rect x="78.2" y="2801.5" width="69.4" height="69" fill="#00009b"/>
<rect x="147" y="2801.5" width="69.4" height="69" fill="#0000d6"/>
<rect x="215.9" y="2801.5" width="69.4" height="69" fill="#0000ff"/>
<rect x="284.7" y="2801.5" width="69.4" height="69" fill="#0030ff"/>
<rect x="353.6" y="2801.5" width="69.4" height="69" fill="#0064ff"/>
<rect x="422.4" y="2801.5" width="69.4" height="69" fill="#0098ff"/>
<rect x="491.3" y="2801.5" width="69.4" height="69" fill="#00ccff"/>
<rect x="560.1" y="2801.5" width="69.4" height="69" fill="#16ffe1"/>
<rect x="629" y="2801.5" width="69.4" height="69" fill="#3cffba"/>
<rect x="697.9" y="2801.5" width="69.4" height="69" fill="#66ff90"/>
<rect x="766.7" y="2801.5" width="69.4" height="69" fill="#90ff66"/>
<rect x="835.5" y="2801.5" width="69.4" height="69" fill="#baff3c"/>
<rect x="904.4" y="2801.5" width="69.4" height="69" fill="#e4ff13"/>
<rect x="973.2" y="2801.5" width="69.4" height="69" fill="#ffde00"/>
<rect x="1042.1" y="2801.5" width="69.4" height="69" fill="#ffae00"/>
<rect x="1111" y="2801.5" width="69.4" height="69" fill="#ff7e00"/>
<rect x="1179.8" y="2801.5" width="69.4" height="69" fill="#ff4e00"/>
<rect x="1248.6" y="2801.5" width="69.4" height="69" fill="#ff1e00"/>
<rect x="1317.5" y="2801.5" width="69.4" height="69" fill="#d60000"/>
<rect x="1386.3" y="2801.5" width="69.4" height="69" fill="#9b0000"/>
<rect class="fr" x="78.5" y="2801.5" width="1377.0" height="69.0"/>
<line class="tk" x1="78.5" y1="2870.5" x2="78.5" y2="2885.4"/>
<text class="tl" transform="translate(78.5 2931.1) scale(0.958 1)">0.0</text>
<line class="tk" x1="285" y1="2870.5" x2="285" y2="2885.4"/>
<text class="tl" transform="translate(285 2931.1) scale(0.958 1)">7.5</text>
<line class="tk" x1="491.6" y1="2870.5" x2="491.6" y2="2885.4"/>
<text class="tl" transform="translate(491.6 2931.1) scale(0.958 1)">15.0</text>
<line class="tk" x1="698.1" y1="2870.5" x2="698.1" y2="2885.4"/>
<text class="tl" transform="translate(698.1 2931.1) scale(0.958 1)">22.5</text>
<line class="tk" x1="904.7" y1="2870.5" x2="904.7" y2="2885.4"/>
<text class="tl" transform="translate(904.7 2931.1) scale(0.958 1)">30.0</text>
<line class="tk" x1="1111.2" y1="2870.5" x2="1111.2" y2="2885.4"/>
<text class="tl" transform="translate(1111.2 2931.1) scale(0.958 1)">37.5</text>
<line class="tk" x1="1317.8" y1="2870.5" x2="1317.8" y2="2885.4"/>
<text class="tl" transform="translate(1317.8 2931.1) scale(0.958 1)">45.0</text>
</svg></body></html>
